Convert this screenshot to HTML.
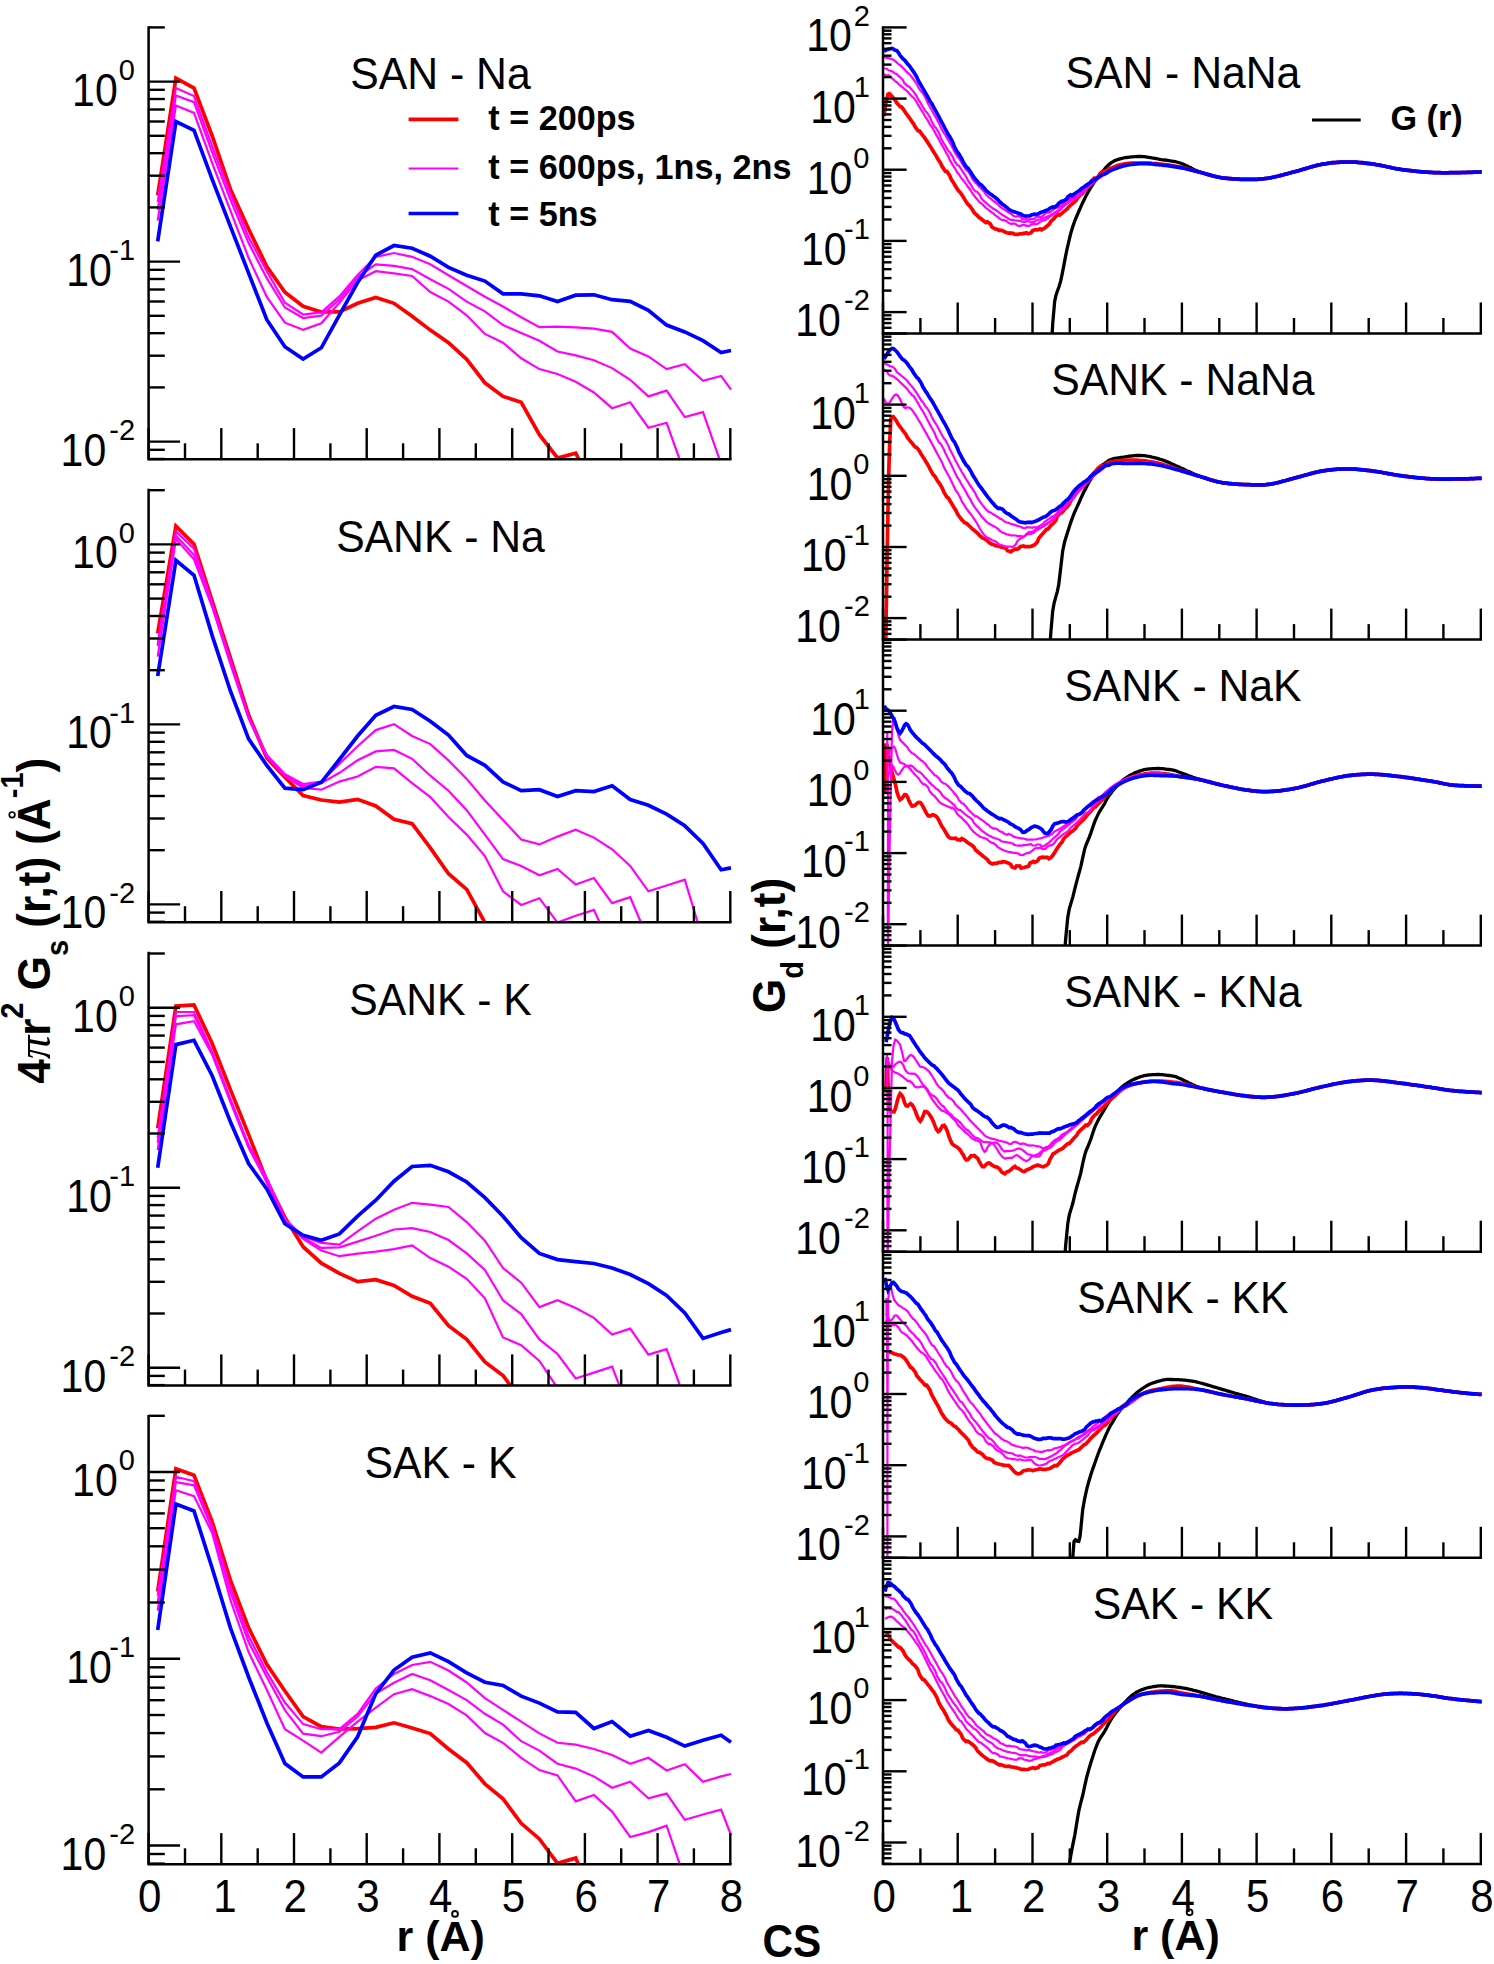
<!DOCTYPE html>
<html><head><meta charset="utf-8"><style>
html,body{margin:0;padding:0;background:#fff;}
svg{display:block;}
text{font-family:"Liberation Sans",sans-serif;fill:#000;}
.tl{font-size:41px;}
.xl{font-size:42px;}
.sup{font-size:29px;}
.ti{font-size:40px;}
.lg{font-size:28px;font-weight:bold;}
.ax{font-size:44px;font-weight:bold;}
.ax2{font-size:43px;font-weight:bold;}
.cs{font-size:42.3px;font-weight:bold;}
.ti{font-size:42.7px;}
.lg{font-size:34.2px;font-weight:bold;}
.pi{font-family:"Liberation Serif",serif;font-style:italic;font-weight:normal;font-size:47px;}
.sub2{font-size:29px;}
</style></head><body>
<svg width="1494" height="1964" viewBox="0 0 1494 1964">
<defs><clipPath id="c0"><rect x="148.6" y="25.5" width="583.7" height="433.8"/></clipPath><clipPath id="c1"><rect x="148.6" y="488.0" width="583.7" height="434.2"/></clipPath><clipPath id="c2"><rect x="148.6" y="951.0" width="583.7" height="434.6"/></clipPath><clipPath id="c3"><rect x="148.6" y="1414.2" width="583.7" height="450.1"/></clipPath><clipPath id="c4"><rect x="883.0" y="25.4" width="599.8" height="308.1"/></clipPath><clipPath id="c5"><rect x="883.0" y="331.5" width="599.8" height="308.1"/></clipPath><clipPath id="c6"><rect x="883.0" y="637.6" width="599.8" height="308.1"/></clipPath><clipPath id="c7"><rect x="883.0" y="943.6" width="599.8" height="308.1"/></clipPath><clipPath id="c8"><rect x="883.0" y="1249.7" width="599.8" height="308.1"/></clipPath><clipPath id="c9"><rect x="883.0" y="1555.8" width="599.8" height="308.1"/></clipPath></defs>
<rect width="1494" height="1964" fill="#fff"/>
<polyline clip-path="url(#c0)" points="157.7,195.2 175.9,78.1 194.0,88.1 212.2,136.0 230.4,189.2 248.6,229.0 266.8,266.5 284.9,292.3 303.1,306.3 321.3,311.9 339.4,311.9 357.6,303.3 375.8,297.5 394.0,303.3 412.1,316.2 430.3,330.1 448.5,342.7 466.7,359.3 484.9,382.8 503.0,396.4 521.2,402.3 539.4,434.6 557.5,458.0 575.7,453.1 593.9,489.3 612.1,489.3 630.2,489.3 648.4,489.3 666.6,489.3 684.8,489.3 703.0,489.3 721.1,489.3" fill="none" stroke="#ff0000" stroke-width="3.7" stroke-linejoin="miter" stroke-miterlimit="3"/>
<polyline clip-path="url(#c0)" points="157.7,220.6 175.9,105.5 194.0,112.9 212.2,163.2 230.4,210.6 248.6,257.8 266.8,297.0 284.9,322.7 303.1,329.8 321.3,323.2 339.4,302.8 357.6,280.3 375.8,271.2 394.0,273.4 412.1,276.0 430.3,292.1 448.5,301.6 466.7,315.3 484.9,333.9 503.0,342.7 521.2,358.3 539.4,369.1 557.5,374.0 575.7,381.8 593.9,392.5 612.1,408.2 630.2,402.3 648.4,427.7 666.6,422.8 684.8,473.7 703.0,473.7 721.1,473.7" fill="none" stroke="#ff00ff" stroke-width="2.2" stroke-linejoin="miter" stroke-miterlimit="3"/>
<polyline clip-path="url(#c0)" points="157.7,209.9 175.9,95.5 194.0,102.2 212.2,152.5 230.4,199.7 248.6,243.1 266.8,278.2 284.9,307.5 303.1,318.0 321.3,315.7 339.4,299.6 357.6,277.1 375.8,264.3 394.0,265.9 412.1,269.1 430.3,279.3 448.5,288.9 466.7,301.6 484.9,311.4 503.0,325.1 521.2,332.9 539.4,340.7 557.5,351.5 575.7,355.4 593.9,360.3 612.1,368.1 630.2,379.8 648.4,396.4 666.6,390.6 684.8,417.0 703.0,412.1 721.1,463.9" fill="none" stroke="#ff00ff" stroke-width="2.2" stroke-linejoin="miter" stroke-miterlimit="3"/>
<polyline clip-path="url(#c0)" points="157.7,201.9 175.9,88.1 194.0,96.1 212.2,146.4 230.4,193.9 248.6,237.2 266.8,271.2 284.9,302.8 303.1,314.5 321.3,312.4 339.4,296.4 357.6,275.0 375.8,256.8 394.0,253.0 412.1,256.8 430.3,264.3 448.5,275.3 466.7,286.0 484.9,296.8 503.0,306.5 521.2,317.3 539.4,327.1 557.5,326.7 575.7,327.4 593.9,328.6 612.1,331.9 630.2,348.6 648.4,356.4 666.6,369.1 684.8,364.2 703.0,380.8 721.1,375.9 731.0,389.6" fill="none" stroke="#ff00ff" stroke-width="2.2" stroke-linejoin="miter" stroke-miterlimit="3"/>
<polyline clip-path="url(#c0)" points="157.7,241.4 175.9,121.6 194.0,130.3 212.2,179.4 230.4,226.3 248.6,273.1 266.8,319.7 284.9,346.7 303.1,359.0 321.3,347.8 339.4,315.1 357.6,282.5 375.8,255.2 394.0,245.5 412.1,248.2 430.3,256.2 448.5,267.4 466.7,275.3 484.9,281.1 503.0,293.8 521.2,293.8 539.4,295.8 557.5,301.6 575.7,295.2 593.9,294.8 612.1,299.7 630.2,301.3 648.4,310.4 666.6,325.1 684.8,331.9 703.0,340.7 721.1,352.5 731.0,350.5" fill="none" stroke="#0000ff" stroke-width="3.7" stroke-linejoin="miter" stroke-miterlimit="3"/>
<polyline clip-path="url(#c1)" points="157.7,633.2 175.9,526.1 194.0,544.3 212.2,601.0 230.4,657.8 248.6,715.0 266.8,758.0 284.9,777.2 303.1,795.6 321.3,800.0 339.4,802.2 357.6,799.3 375.8,805.9 394.0,819.2 412.1,823.6 430.3,847.9 448.5,873.7 466.7,889.4 484.9,922.6 503.0,960.0" fill="none" stroke="#ff0000" stroke-width="3.7" stroke-linejoin="miter" stroke-miterlimit="3"/>
<polyline clip-path="url(#c1)" points="157.7,656.7 175.9,539.0 194.0,559.3 212.2,607.0 230.4,664.0 248.6,718.0 266.8,757.0 284.9,776.0 303.1,788.0 321.3,789.7 339.4,781.6 357.6,776.5 375.8,766.9 394.0,768.4 412.1,783.1 430.3,797.1 448.5,817.1 466.7,834.6 484.9,856.1 503.0,891.3 521.2,905.0 539.4,898.2 557.5,922.6 575.7,915.8 593.9,909.9 612.1,950.0" fill="none" stroke="#ff00ff" stroke-width="2.2" stroke-linejoin="miter" stroke-miterlimit="3"/>
<polyline clip-path="url(#c1)" points="157.7,646.0 175.9,535.7 194.0,555.0 212.2,605.0 230.4,662.0 248.6,717.5 266.8,756.0 284.9,775.0 303.1,786.0 321.3,783.1 339.4,772.8 357.6,760.3 375.8,751.4 394.0,749.9 412.1,758.8 430.3,775.7 448.5,790.7 466.7,810.2 484.9,834.6 503.0,859.1 521.2,865.9 539.4,875.3 557.5,868.9 575.7,884.5 593.9,878.0 612.1,903.1 630.2,897.2 648.4,940.0" fill="none" stroke="#ff00ff" stroke-width="2.2" stroke-linejoin="miter" stroke-miterlimit="3"/>
<polyline clip-path="url(#c1)" points="157.7,644.0 175.9,531.4 194.0,548.6 212.2,603.0 230.4,660.0 248.6,716.8 266.8,755.0 284.9,774.2 303.1,784.0 321.3,781.6 339.4,763.9 357.6,746.3 375.8,730.1 394.0,724.2 412.1,736.0 430.3,744.1 448.5,760.4 466.7,778.9 484.9,800.4 503.0,820.0 521.2,839.5 539.4,844.4 557.5,836.6 575.7,829.8 593.9,837.6 612.1,849.3 630.2,865.9 648.4,891.3 666.6,885.5 684.8,879.6 703.0,940.0" fill="none" stroke="#ff00ff" stroke-width="2.2" stroke-linejoin="miter" stroke-miterlimit="3"/>
<polyline clip-path="url(#c1)" points="157.7,676.0 175.9,560.3 194.0,575.3 212.2,635.6 230.4,691.0 248.6,738.9 266.8,765.4 284.9,788.2 303.1,789.7 321.3,782.3 339.4,759.5 357.6,736.0 375.8,715.3 394.0,706.5 412.1,709.5 430.3,721.2 448.5,735.0 466.7,755.5 484.9,765.3 503.0,781.9 521.2,790.7 539.4,789.7 557.5,796.5 575.7,790.7 593.9,791.6 612.1,785.8 630.2,799.5 648.4,805.3 666.6,814.1 684.8,825.8 703.0,843.4 721.1,869.8 731.0,867.9" fill="none" stroke="#0000ff" stroke-width="3.7" stroke-linejoin="miter" stroke-miterlimit="3"/>
<polyline clip-path="url(#c2)" points="157.7,1128.2 175.9,1006.1 194.0,1005.0 212.2,1043.5 230.4,1089.6 248.6,1134.6 266.8,1181.0 284.9,1217.4 303.1,1246.7 321.3,1263.2 339.4,1273.4 357.6,1281.6 375.8,1279.7 394.0,1285.4 412.1,1296.3 430.3,1303.3 448.5,1325.6 466.7,1339.4 484.9,1361.9 503.0,1375.5 521.2,1400.0" fill="none" stroke="#ff0000" stroke-width="3.7" stroke-linejoin="miter" stroke-miterlimit="3"/>
<polyline clip-path="url(#c2)" points="157.7,1150.0 175.9,1024.3 194.0,1021.1 212.2,1054.7 230.4,1101.8 248.6,1147.9 266.8,1182.0 284.9,1220.0 303.1,1239.0 321.3,1250.5 339.4,1256.2 357.6,1253.6 375.8,1251.7 394.0,1249.2 412.1,1245.4 430.3,1258.1 448.5,1266.7 466.7,1278.8 484.9,1298.3 503.0,1337.4 521.2,1345.2 539.4,1360.9 557.5,1388.0" fill="none" stroke="#ff00ff" stroke-width="2.2" stroke-linejoin="miter" stroke-miterlimit="3"/>
<polyline clip-path="url(#c2)" points="157.7,1143.0 175.9,1016.2 194.0,1015.2 212.2,1053.2 230.4,1100.3 248.6,1146.4 266.8,1180.0 284.9,1219.3 303.1,1237.8 321.3,1247.9 339.4,1247.3 357.6,1241.6 375.8,1235.8 394.0,1229.5 412.1,1228.2 430.3,1232.0 448.5,1240.0 466.7,1253.4 484.9,1270.0 503.0,1300.3 521.2,1314.0 539.4,1339.4 557.5,1354.0 575.7,1378.5 593.9,1372.6 612.1,1366.7 630.2,1413.5" fill="none" stroke="#ff00ff" stroke-width="2.2" stroke-linejoin="miter" stroke-miterlimit="3"/>
<polyline clip-path="url(#c2)" points="157.7,1138.0 175.9,1012.0 194.0,1012.0 212.2,1051.7 230.4,1098.8 248.6,1144.9 266.8,1178.0 284.9,1218.7 303.1,1236.5 321.3,1242.8 339.4,1244.7 357.6,1231.4 375.8,1218.7 394.0,1209.8 412.1,1202.8 430.3,1204.7 448.5,1207.0 466.7,1222.1 484.9,1240.7 503.0,1268.0 521.2,1282.7 539.4,1307.1 557.5,1300.3 575.7,1308.1 593.9,1317.9 612.1,1334.5 630.2,1328.6 648.4,1354.6 666.6,1349.2 684.8,1398.8" fill="none" stroke="#ff00ff" stroke-width="2.2" stroke-linejoin="miter" stroke-miterlimit="3"/>
<polyline clip-path="url(#c2)" points="157.7,1167.8 175.9,1044.6 194.0,1040.3 212.2,1075.7 230.4,1121.7 248.6,1163.5 266.8,1189.0 284.9,1223.8 303.1,1235.2 321.3,1240.3 339.4,1233.9 357.6,1216.1 375.8,1200.2 394.0,1181.2 412.1,1166.5 430.3,1165.3 448.5,1171.8 466.7,1182.0 484.9,1197.7 503.0,1216.2 521.2,1237.7 539.4,1253.4 557.5,1259.6 575.7,1261.6 593.9,1263.5 612.1,1268.0 630.2,1274.5 648.4,1283.7 666.6,1295.4 684.8,1313.0 703.0,1338.4 721.1,1332.5 731.0,1329.6" fill="none" stroke="#0000ff" stroke-width="3.7" stroke-linejoin="miter" stroke-miterlimit="3"/>
<polyline clip-path="url(#c3)" points="157.7,1591.4 175.9,1468.7 194.0,1475.2 212.2,1521.8 230.4,1580.1 248.6,1627.8 266.8,1664.3 284.9,1691.0 303.1,1716.5 321.3,1726.7 339.4,1729.2 357.6,1728.6 375.8,1727.3 394.0,1722.8 412.1,1727.9 430.3,1733.6 448.5,1749.0 466.7,1762.7 484.9,1783.8 503.0,1798.8 521.2,1823.3 539.4,1838.9 557.5,1863.4 575.7,1858.1 593.9,1900.0" fill="none" stroke="#ff0000" stroke-width="3.7" stroke-linejoin="miter" stroke-miterlimit="3"/>
<polyline clip-path="url(#c3)" points="157.7,1610.6 175.9,1490.2 194.0,1496.1 212.2,1533.0 230.4,1600.0 248.6,1652.0 266.8,1689.8 284.9,1729.2 303.1,1740.6 321.3,1752.7 339.4,1736.8 357.6,1721.6 375.8,1707.6 394.0,1694.2 412.1,1689.1 430.3,1696.1 448.5,1704.0 466.7,1715.4 484.9,1733.0 503.0,1742.8 521.2,1757.8 539.4,1770.1 557.5,1775.4 575.7,1801.4 593.9,1794.9 612.1,1811.6 630.2,1837.0 648.4,1832.1 666.6,1825.6 684.8,1878.8" fill="none" stroke="#ff00ff" stroke-width="2.2" stroke-linejoin="miter" stroke-miterlimit="3"/>
<polyline clip-path="url(#c3)" points="157.7,1602.1 175.9,1482.1 194.0,1485.3 212.2,1529.0 230.4,1592.0 248.6,1642.0 266.8,1677.1 284.9,1710.1 303.1,1733.6 321.3,1736.2 339.4,1731.7 357.6,1716.5 375.8,1693.6 394.0,1682.8 412.1,1673.9 430.3,1680.2 448.5,1690.0 466.7,1700.1 484.9,1713.8 503.0,1724.6 521.2,1741.2 539.4,1750.6 557.5,1763.7 575.7,1768.6 593.9,1776.4 612.1,1787.7 630.2,1781.8 648.4,1798.3 666.6,1793.6 684.8,1819.8 703.0,1814.5 721.1,1809.6 731.0,1835.0" fill="none" stroke="#ff00ff" stroke-width="2.2" stroke-linejoin="miter" stroke-miterlimit="3"/>
<polyline clip-path="url(#c3)" points="157.7,1595.6 175.9,1476.8 194.0,1481.1 212.2,1527.0 230.4,1588.0 248.6,1636.0 266.8,1672.0 284.9,1702.5 303.1,1724.1 321.3,1729.2 339.4,1729.2 357.6,1713.9 375.8,1688.5 394.0,1673.9 412.1,1665.0 430.3,1661.8 448.5,1670.5 466.7,1682.5 484.9,1698.2 503.0,1709.9 521.2,1721.6 539.4,1733.4 557.5,1742.8 575.7,1744.7 593.9,1749.0 612.1,1754.9 630.2,1763.7 648.4,1757.8 666.6,1770.5 684.8,1764.3 703.0,1781.8 721.1,1776.4 731.0,1774.0" fill="none" stroke="#ff00ff" stroke-width="2.2" stroke-linejoin="miter" stroke-miterlimit="3"/>
<polyline clip-path="url(#c3)" points="157.7,1629.9 175.9,1504.1 194.0,1511.0 212.2,1568.3 230.4,1627.8 248.6,1677.0 266.8,1722.8 284.9,1763.5 303.1,1776.9 321.3,1776.9 339.4,1762.9 357.6,1736.8 375.8,1693.6 394.0,1670.1 412.1,1657.3 430.3,1652.9 448.5,1661.7 466.7,1672.8 484.9,1682.2 503.0,1685.5 521.2,1696.2 539.4,1703.1 557.5,1711.9 575.7,1712.3 593.9,1728.5 612.1,1721.6 630.2,1736.3 648.4,1730.4 666.6,1737.3 684.8,1746.1 703.0,1740.2 721.1,1735.3 731.0,1742.2" fill="none" stroke="#0000ff" stroke-width="3.7" stroke-linejoin="miter" stroke-miterlimit="3"/>
<polyline clip-path="url(#c4)" points="1051.7,341.4 1052.8,322.6 1054.7,301.2 1056.0,295.2 1057.5,290.7 1059.1,286.5 1060.7,280.9 1062.2,273.9 1063.7,266.1 1065.2,258.1 1066.7,250.7 1068.2,244.2 1069.6,238.0 1071.1,232.2 1072.8,226.6 1074.2,222.5 1075.8,218.4 1077.5,214.3 1079.2,210.5 1080.8,206.8 1082.4,203.2 1084.0,200.0 1085.6,196.7 1087.2,193.7 1088.8,190.8 1090.4,188.1 1091.9,185.8 1093.4,183.3 1095.0,181.0 1096.9,178.5 1098.2,176.8 1099.6,175.0 1101.1,173.4 1102.6,171.5 1104.2,169.6 1105.8,167.6 1107.4,166.0 1108.9,164.6 1110.4,163.4 1111.7,162.4 1113.1,161.6 1114.4,160.8 1115.9,160.2 1117.4,159.6 1119.1,159.1 1121.0,158.6 1122.2,158.3 1123.6,158.0 1125.0,157.7 1126.6,157.5 1128.1,157.3 1129.7,157.1 1131.3,156.9 1133.0,156.8 1134.6,156.7 1136.2,156.6 1137.9,156.5 1139.5,156.5 1141.0,156.5 1142.6,156.6 1144.1,156.7 1145.7,156.9 1147.3,157.1 1148.8,157.3 1150.4,157.6 1151.9,157.9 1153.5,158.1 1155.0,158.4 1156.6,158.7 1158.1,159.0 1159.6,159.3 1161.1,159.6 1162.7,159.8 1164.3,160.0 1165.9,160.2 1167.4,160.4 1169.0,160.6 1170.5,160.9 1172.0,161.1 1173.6,161.4 1175.2,161.7 1176.7,162.0 1178.4,162.5 1180.0,163.0 1181.4,163.5 1182.9,164.1 1184.4,164.7 1185.8,165.4 1187.3,166.1 1188.9,166.9 1190.4,167.6 1191.9,168.4 1193.4,169.2 1194.9,169.9 1196.5,170.6 1198.0,171.3 1199.5,171.9 1201.0,172.5 1202.5,173.0 1204.0,173.5 1205.4,174.0 1206.8,174.4 1208.3,174.8 1209.7,175.2 1211.1,175.6 1212.6,176.0 1214.1,176.3 1215.6,176.6 1217.1,177.0 1218.7,177.2 1220.3,177.5 1222.0,177.8 1223.4,178.0 1224.8,178.1 1226.3,178.3 1227.8,178.4 1229.3,178.6 1230.9,178.7 1232.5,178.8 1234.1,178.9 1235.7,179.0 1237.3,179.1 1238.9,179.2 1240.5,179.3 1242.0,179.3 1243.6,179.4 1245.1,179.4 1246.6,179.4 1248.0,179.4 1249.4,179.4 1251.0,179.4 1252.7,179.4 1254.2,179.4 1255.7,179.3 1257.2,179.3 1258.6,179.2 1260.0,179.1 1261.4,179.0 1262.8,178.8 1264.2,178.7 1265.7,178.5 1267.2,178.3 1268.8,178.0 1270.4,177.8 1271.8,177.5 1273.3,177.2 1274.8,176.9 1276.3,176.5 1277.9,176.2 1279.4,175.8 1281.0,175.4 1282.6,175.0 1284.2,174.5 1285.8,174.1 1287.4,173.7 1289.0,173.2 1290.7,172.8 1292.3,172.3 1294.0,171.9 1295.6,171.5 1297.1,171.1 1298.5,170.7 1300.1,170.2 1301.6,169.8 1303.1,169.3 1304.6,168.9 1306.2,168.4 1307.7,168.0 1309.3,167.5 1310.8,167.1 1312.3,166.6 1313.9,166.2 1315.4,165.8 1316.9,165.4 1318.5,165.0 1320.0,164.7 1321.4,164.4 1322.9,164.1 1324.6,163.8 1326.2,163.6 1327.8,163.3 1329.4,163.1 1331.0,162.9 1332.5,162.7 1334.1,162.6 1335.7,162.5 1337.2,162.3 1338.8,162.3 1340.3,162.2 1341.9,162.1 1343.4,162.1 1345.0,162.0 1346.6,162.0 1348.1,162.0 1349.7,162.0 1351.3,162.0 1352.8,162.1 1354.4,162.2 1355.9,162.2 1357.5,162.3 1359.1,162.5 1360.6,162.6 1362.2,162.7 1363.7,162.9 1365.3,163.1 1366.9,163.3 1368.5,163.5 1370.1,163.7 1371.7,163.9 1373.4,164.1 1374.8,164.3 1376.3,164.6 1377.7,164.8 1379.2,165.1 1380.7,165.4 1382.2,165.7 1383.6,166.0 1385.1,166.3 1386.6,166.7 1388.1,167.0 1389.7,167.3 1391.2,167.6 1392.7,168.0 1394.3,168.3 1395.9,168.6 1397.4,168.8 1399.1,169.1 1400.7,169.4 1402.1,169.6 1403.5,169.8 1405.0,169.9 1406.4,170.1 1407.9,170.3 1409.4,170.5 1410.9,170.7 1412.4,170.9 1413.9,171.0 1415.4,171.2 1416.9,171.3 1418.5,171.5 1420.0,171.6 1421.5,171.8 1423.1,171.9 1424.6,172.0 1426.1,172.1 1427.7,172.2 1429.2,172.3 1430.7,172.4 1432.2,172.5 1433.7,172.6 1435.3,172.6 1436.8,172.7 1438.4,172.7 1440.0,172.7 1441.6,172.8 1443.2,172.8 1444.8,172.8 1446.4,172.8 1448.0,172.8 1449.6,172.7 1451.2,172.7 1452.7,172.7 1454.2,172.7 1455.7,172.6 1457.2,172.6 1458.6,172.6 1459.9,172.6 1461.3,172.5 1462.5,172.5 1463.7,172.5 1465.9,172.5 1468.1,172.4 1470.1,172.4 1472.0,172.3 1473.8,172.2 1475.5,172.2 1477.0,172.1 1478.4,172.0 1479.6,172.0 1480.7,171.9 1481.6,171.9" fill="none" stroke="#000000" stroke-width="3.3" stroke-linejoin="miter" stroke-miterlimit="3"/>
<polyline clip-path="url(#c4)" points="884.0,116.2 885.6,104.7 888.0,94.1 889.4,93.6 890.9,95.3 892.5,96.9 894.1,99.1 895.4,100.3 896.7,102.9 898.2,104.4 900.1,106.6 901.3,106.7 902.7,108.5 904.2,110.5 905.7,112.9 907.3,115.0 909.0,117.3 910.6,119.7 912.1,121.8 913.6,123.8 915.1,126.8 916.6,128.8 918.2,130.8 919.7,131.2 921.2,133.3 922.7,135.3 924.2,137.2 925.7,139.4 927.2,141.6 928.7,144.0 930.2,146.3 931.7,148.6 933.2,151.2 934.7,153.5 936.2,155.8 937.7,158.8 939.2,161.1 940.7,163.3 942.2,166.7 943.8,168.9 945.3,171.2 946.8,171.3 948.3,173.6 949.8,175.8 951.3,179.5 952.8,181.8 954.3,184.0 955.8,186.7 957.3,188.9 958.8,191.2 960.3,192.4 961.8,194.7 963.3,197.1 964.8,199.6 966.3,202.0 967.9,204.3 969.4,205.6 970.9,207.7 972.4,209.6 973.9,212.3 975.4,213.8 976.9,215.1 978.4,216.8 979.9,217.9 981.4,219.0 982.9,220.3 984.4,221.4 985.9,222.5 987.4,221.8 988.9,222.9 990.4,223.9 991.9,227.0 993.5,228.0 995.0,228.9 996.5,229.0 998.0,229.8 999.5,230.5 1001.0,230.1 1002.5,230.8 1004.0,231.4 1005.5,232.2 1007.0,232.7 1008.5,233.1 1010.0,232.9 1011.5,233.2 1013.0,233.4 1014.5,234.3 1016.0,234.4 1017.6,234.4 1019.1,234.0 1020.6,233.9 1022.1,233.8 1023.6,233.4 1025.1,233.1 1026.6,232.7 1028.1,233.7 1029.6,233.3 1031.1,232.8 1032.6,230.6 1034.1,230.1 1035.6,229.6 1037.1,229.9 1038.6,229.4 1040.1,228.8 1041.6,229.8 1043.2,229.0 1044.7,228.1 1046.2,226.7 1047.7,225.5 1049.2,224.3 1050.7,221.6 1052.2,220.2 1053.7,218.9 1055.2,216.8 1056.7,215.5 1058.2,214.3 1059.7,215.1 1061.2,213.9 1062.7,212.6 1064.2,211.4 1065.7,210.2 1067.2,208.9 1068.8,206.9 1070.3,205.5 1071.8,204.1 1073.3,203.1 1074.8,201.7 1076.3,200.1 1077.8,197.8 1079.3,196.2 1080.8,194.6 1082.3,193.7 1083.8,191.9 1085.3,190.0 1086.8,187.4 1088.3,185.5 1089.8,183.8 1091.3,181.1 1092.9,179.5 1094.3,178.1 1095.8,178.7 1097.2,177.5 1098.6,176.4 1100.1,173.4 1101.6,172.3 1103.2,171.3 1104.9,171.4 1106.3,170.6 1107.8,169.8 1109.3,168.4 1110.8,168.4 1112.4,167.6 1114.1,166.9 1115.7,166.2 1117.4,165.6 1119.2,165.1 1121.0,164.6 1122.4,164.3 1123.8,164.0 1125.3,163.8 1126.8,163.6 1128.4,163.4 1130.0,163.3 1131.5,163.2 1133.1,163.1 1134.7,163.1 1136.3,163.0 1137.9,163.0 1139.5,163.0 1141.0,163.0 1142.6,163.0 1144.1,163.0 1145.7,163.0 1147.3,163.1 1148.8,163.2 1150.4,163.2 1151.9,163.4 1153.5,163.5 1155.0,163.6 1156.6,163.7 1158.1,163.9 1159.6,164.0 1161.1,164.2 1162.7,164.3 1164.3,164.5 1165.9,164.7 1167.4,164.9 1169.0,165.1 1170.5,165.3 1172.0,165.5 1173.6,165.8 1175.2,166.1 1176.7,166.3 1178.4,166.7 1180.0,167.0 1181.4,167.3 1182.9,167.6 1184.4,168.0 1185.8,168.4 1187.3,168.8 1188.9,169.2 1190.4,169.6 1191.9,170.0 1193.4,170.4 1194.9,170.9 1196.5,171.3 1198.0,171.7 1199.5,172.1 1201.0,172.5 1202.5,172.9 1204.0,173.3 1205.4,173.7 1206.8,174.1 1208.3,174.6 1209.7,175.0 1211.1,175.4 1212.6,175.8 1214.1,176.2 1215.6,176.5 1217.1,176.9 1218.7,177.2 1220.3,177.5 1222.0,177.8 1223.4,178.0 1224.8,178.1 1226.3,178.3 1227.8,178.4 1229.3,178.6 1230.9,178.7 1232.5,178.8 1234.1,178.9 1235.7,179.0 1237.3,179.1 1238.9,179.2 1240.5,179.3 1242.0,179.3 1243.6,179.4 1245.1,179.4 1246.6,179.4 1248.0,179.4 1249.4,179.4 1251.0,179.4 1252.7,179.4 1254.2,179.4 1255.7,179.3 1257.2,179.3 1258.6,179.2 1260.0,179.1 1261.4,179.0 1262.8,178.8 1264.2,178.7 1265.7,178.5 1267.2,178.3 1268.8,178.0 1270.4,177.8 1271.8,177.5 1273.3,177.2 1274.8,176.9 1276.3,176.5 1277.9,176.2 1279.4,175.8 1281.0,175.4 1282.6,175.0 1284.2,174.5 1285.8,174.1 1287.4,173.7 1289.0,173.2 1290.7,172.8 1292.3,172.3 1294.0,171.9 1295.6,171.5 1297.1,171.1 1298.5,170.7 1300.1,170.2 1301.6,169.8 1303.1,169.3 1304.6,168.9 1306.2,168.4 1307.7,168.0 1309.3,167.5 1310.8,167.1 1312.3,166.6 1313.9,166.2 1315.4,165.8 1316.9,165.4 1318.5,165.0 1320.0,164.7 1321.4,164.4 1322.9,164.1 1324.6,163.8 1326.2,163.6 1327.8,163.3 1329.4,163.1 1331.0,162.9 1332.5,162.7 1334.1,162.6 1335.7,162.5 1337.2,162.3 1338.8,162.3 1340.3,162.2 1341.9,162.1 1343.4,162.1 1345.0,162.0 1346.6,162.0 1348.1,162.0 1349.7,162.0 1351.3,162.0 1352.8,162.1 1354.4,162.2 1355.9,162.2 1357.5,162.3 1359.1,162.5 1360.6,162.6 1362.2,162.7 1363.7,162.9 1365.3,163.1 1366.9,163.3 1368.5,163.5 1370.1,163.7 1371.7,163.9 1373.4,164.1 1374.8,164.3 1376.3,164.6 1377.7,164.8 1379.2,165.1 1380.7,165.4 1382.2,165.7 1383.6,166.0 1385.1,166.3 1386.6,166.7 1388.1,167.0 1389.7,167.3 1391.2,167.6 1392.7,168.0 1394.3,168.3 1395.9,168.6 1397.4,168.8 1399.1,169.1 1400.7,169.4 1402.1,169.6 1403.5,169.8 1405.0,169.9 1406.4,170.1 1407.9,170.3 1409.4,170.5 1410.9,170.7 1412.4,170.9 1413.9,171.0 1415.4,171.2 1416.9,171.3 1418.5,171.5 1420.0,171.6 1421.5,171.8 1423.1,171.9 1424.6,172.0 1426.1,172.1 1427.7,172.2 1429.2,172.3 1430.7,172.4 1432.2,172.5 1433.7,172.6 1435.3,172.6 1436.8,172.7 1438.4,172.7 1440.0,172.7 1441.6,172.8 1443.2,172.8 1444.8,172.8 1446.4,172.8 1448.0,172.8 1449.6,172.7 1451.2,172.7 1452.7,172.7 1454.2,172.7 1455.7,172.6 1457.2,172.6 1458.6,172.6 1459.9,172.6 1461.3,172.5 1462.5,172.5 1463.7,172.5 1465.9,172.5 1468.1,172.4 1470.1,172.4 1472.0,172.3 1473.8,172.2 1475.5,172.2 1477.0,172.1 1478.4,172.0 1479.6,172.0 1480.7,171.9 1481.6,171.9" fill="none" stroke="#ff0000" stroke-width="3.7" stroke-linejoin="miter" stroke-miterlimit="3"/>
<polyline clip-path="url(#c4)" points="884.0,74.1 885.1,74.7 886.7,75.6 888.4,75.2 890.3,76.4 892.0,78.3 893.6,79.6 895.1,81.2 896.6,82.0 898.2,83.8 900.1,85.3 901.4,86.4 902.8,87.5 904.3,88.8 905.9,90.0 907.4,91.2 909.0,93.5 910.6,94.9 912.1,96.6 913.6,97.7 915.1,99.7 916.6,101.9 918.2,105.0 919.7,107.4 921.2,109.8 922.7,112.3 924.2,114.8 925.7,117.3 927.2,119.5 928.7,122.2 930.2,124.8 931.7,126.6 933.2,129.3 934.7,131.9 936.2,134.7 937.7,137.3 939.2,140.0 940.7,143.0 942.2,145.6 943.8,148.3 945.3,151.1 946.8,153.7 948.3,156.3 949.8,160.0 951.3,162.6 952.8,165.1 954.3,167.3 955.8,169.9 957.3,172.3 958.8,174.2 960.3,176.5 961.8,178.7 963.3,180.3 964.8,182.4 966.3,184.4 967.9,186.8 969.4,188.7 970.9,190.6 972.4,193.5 973.9,195.4 975.4,197.3 976.9,199.0 978.4,200.8 979.9,202.6 981.4,203.3 982.9,204.9 984.4,206.4 985.9,207.8 987.4,209.0 988.9,210.2 990.4,211.4 991.9,212.5 993.5,213.5 995.0,215.1 996.5,216.1 998.0,217.1 999.5,218.5 1001.0,219.4 1002.5,220.4 1004.0,220.0 1005.5,220.8 1007.0,221.5 1008.5,222.9 1010.0,223.5 1011.5,224.1 1013.0,223.4 1014.5,223.8 1016.0,224.2 1017.6,225.6 1019.1,225.8 1020.6,225.9 1022.1,225.0 1023.6,225.1 1025.1,225.0 1026.6,226.0 1028.1,225.8 1029.6,225.6 1031.1,224.7 1032.6,224.4 1034.1,223.9 1035.6,224.4 1037.1,223.9 1038.6,223.3 1040.1,221.8 1041.6,221.1 1043.2,220.4 1044.7,220.3 1046.2,219.4 1047.7,218.5 1049.2,217.2 1050.7,216.2 1052.2,215.1 1053.7,213.6 1055.2,212.5 1056.7,211.4 1058.2,211.3 1059.7,210.2 1061.2,209.0 1062.7,207.1 1064.2,205.9 1065.7,204.8 1067.2,203.1 1068.8,202.0 1070.3,201.0 1071.8,199.7 1073.3,198.7 1074.8,197.7 1076.3,197.6 1077.8,196.5 1079.3,195.4 1080.8,193.8 1082.3,192.5 1083.8,191.1 1085.3,189.7 1086.8,188.1 1088.3,186.6 1089.8,186.1 1091.3,184.6 1092.9,183.3 1094.3,181.9 1095.8,180.7 1097.2,179.5 1098.6,178.7 1100.1,177.6 1101.6,176.6 1103.2,174.5 1104.9,173.4 1106.3,172.6 1107.8,172.6 1109.3,171.8 1110.8,170.3 1112.4,169.5 1114.1,168.7 1115.7,168.0 1117.4,167.3 1119.2,166.7 1121.0,166.2 1122.4,165.8 1123.8,165.5 1125.3,165.2 1126.8,165.0 1128.4,164.7 1130.0,164.6 1131.5,164.4 1133.1,164.2 1134.7,164.1 1136.3,164.0 1137.9,163.9 1139.5,163.8 1141.0,163.8 1142.6,163.7 1144.1,163.7 1145.7,163.7 1147.3,163.7 1148.8,163.8 1150.4,163.8 1151.9,163.9 1153.5,164.0 1155.0,164.1 1156.6,164.2 1158.1,164.3 1159.6,164.4 1161.1,164.6 1162.7,164.7 1164.3,164.9 1165.9,165.1 1167.4,165.3 1169.0,165.5 1170.5,165.7 1172.0,166.0 1173.6,166.2 1175.2,166.5 1176.7,166.8 1178.4,167.1 1180.0,167.4 1181.4,167.7 1182.9,168.0 1184.4,168.3 1185.8,168.7 1187.3,169.0 1188.9,169.4 1190.4,169.8 1191.9,170.2 1193.4,170.6 1194.9,171.0 1196.5,171.4 1198.0,171.8 1199.5,172.1 1201.0,172.5 1202.5,172.9 1204.0,173.3 1205.4,173.7 1206.8,174.1 1208.3,174.5 1209.7,174.9 1211.1,175.4 1212.6,175.8 1214.1,176.1 1215.6,176.5 1217.1,176.9 1218.7,177.2 1220.3,177.5 1222.0,177.8 1223.4,178.0 1224.8,178.1 1226.3,178.3 1227.8,178.4 1229.3,178.6 1230.9,178.7 1232.5,178.8 1234.1,178.9 1235.7,179.0 1237.3,179.1 1238.9,179.2 1240.5,179.3 1242.0,179.3 1243.6,179.4 1245.1,179.4 1246.6,179.4 1248.0,179.4 1249.4,179.4 1251.0,179.4 1252.7,179.4 1254.2,179.4 1255.7,179.3 1257.2,179.3 1258.6,179.2 1260.0,179.1 1261.4,179.0 1262.8,178.8 1264.2,178.7 1265.7,178.5 1267.2,178.3 1268.8,178.0 1270.4,177.8 1271.8,177.5 1273.3,177.2 1274.8,176.9 1276.3,176.5 1277.9,176.2 1279.4,175.8 1281.0,175.4 1282.6,175.0 1284.2,174.5 1285.8,174.1 1287.4,173.7 1289.0,173.2 1290.7,172.8 1292.3,172.3 1294.0,171.9 1295.6,171.5 1297.1,171.1 1298.5,170.7 1300.1,170.2 1301.6,169.8 1303.1,169.3 1304.6,168.9 1306.2,168.4 1307.7,168.0 1309.3,167.5 1310.8,167.1 1312.3,166.6 1313.9,166.2 1315.4,165.8 1316.9,165.4 1318.5,165.0 1320.0,164.7 1321.4,164.4 1322.9,164.1 1324.6,163.8 1326.2,163.6 1327.8,163.3 1329.4,163.1 1331.0,162.9 1332.5,162.7 1334.1,162.6 1335.7,162.5 1337.2,162.3 1338.8,162.3 1340.3,162.2 1341.9,162.1 1343.4,162.1 1345.0,162.0 1346.6,162.0 1348.1,162.0 1349.7,162.0 1351.3,162.0 1352.8,162.1 1354.4,162.2 1355.9,162.2 1357.5,162.3 1359.1,162.5 1360.6,162.6 1362.2,162.7 1363.7,162.9 1365.3,163.1 1366.9,163.3 1368.5,163.5 1370.1,163.7 1371.7,163.9 1373.4,164.1 1374.8,164.3 1376.3,164.6 1377.7,164.8 1379.2,165.1 1380.7,165.4 1382.2,165.7 1383.6,166.0 1385.1,166.3 1386.6,166.7 1388.1,167.0 1389.7,167.3 1391.2,167.6 1392.7,168.0 1394.3,168.3 1395.9,168.6 1397.4,168.8 1399.1,169.1 1400.7,169.4 1402.1,169.6 1403.5,169.8 1405.0,169.9 1406.4,170.1 1407.9,170.3 1409.4,170.5 1410.9,170.7 1412.4,170.9 1413.9,171.0 1415.4,171.2 1416.9,171.3 1418.5,171.5 1420.0,171.6 1421.5,171.8 1423.1,171.9 1424.6,172.0 1426.1,172.1 1427.7,172.2 1429.2,172.3 1430.7,172.4 1432.2,172.5 1433.7,172.6 1435.3,172.6 1436.8,172.7 1438.4,172.7 1440.0,172.7 1441.6,172.8 1443.2,172.8 1444.8,172.8 1446.4,172.8 1448.0,172.8 1449.6,172.7 1451.2,172.7 1452.7,172.7 1454.2,172.7 1455.7,172.6 1457.2,172.6 1458.6,172.6 1459.9,172.6 1461.3,172.5 1462.5,172.5 1463.7,172.5 1465.9,172.5 1468.1,172.4 1470.1,172.4 1472.0,172.3 1473.8,172.2 1475.5,172.2 1477.0,172.1 1478.4,172.0 1479.6,172.0 1480.7,171.9 1481.6,171.9" fill="none" stroke="#ff00ff" stroke-width="2.2" stroke-linejoin="miter" stroke-miterlimit="3"/>
<polyline clip-path="url(#c4)" points="884.0,68.3 885.1,68.5 886.7,68.7 888.4,70.2 890.3,70.7 892.0,71.3 893.6,72.3 895.1,73.5 896.6,74.0 898.2,75.6 900.1,77.3 901.4,78.5 902.8,79.8 904.3,83.0 905.9,84.4 907.4,86.0 909.0,86.5 910.6,88.3 912.1,90.1 913.6,91.8 915.1,93.9 916.6,96.1 918.2,99.2 919.7,101.5 921.2,103.9 922.7,106.8 924.2,109.2 925.7,111.6 927.2,112.8 928.7,115.3 930.2,117.8 931.7,121.6 933.2,124.1 934.7,126.7 936.2,128.1 937.7,130.8 939.2,133.5 940.7,137.7 942.2,140.5 943.8,143.4 945.3,145.6 946.8,148.4 948.3,150.9 949.8,152.2 951.3,154.6 952.8,156.8 954.3,160.7 955.8,162.8 957.3,165.0 958.8,165.6 960.3,167.8 961.8,170.1 963.3,172.4 964.8,174.7 966.3,177.1 967.9,180.4 969.4,182.6 970.9,184.8 972.4,187.6 973.9,189.6 975.4,191.5 976.9,191.5 978.4,193.2 979.9,195.0 981.4,198.5 982.9,200.1 984.4,201.6 985.9,202.6 987.4,204.0 988.9,205.3 990.4,206.5 991.9,207.7 993.5,208.9 995.0,209.4 996.5,210.5 998.0,211.6 999.5,212.8 1001.0,213.9 1002.5,215.0 1004.0,215.8 1005.5,216.8 1007.0,217.6 1008.5,218.8 1010.0,219.4 1011.5,220.0 1013.0,219.9 1014.5,220.3 1016.0,220.6 1017.6,220.6 1019.1,220.8 1020.6,221.0 1022.1,221.7 1023.6,221.9 1025.1,221.9 1026.6,221.4 1028.1,221.4 1029.6,221.3 1031.1,222.5 1032.6,222.2 1034.1,222.0 1035.6,220.6 1037.1,220.1 1038.6,219.6 1040.1,219.3 1041.6,218.7 1043.2,218.0 1044.7,217.7 1046.2,216.9 1047.7,216.2 1049.2,215.9 1050.7,215.0 1052.2,214.1 1053.7,213.4 1055.2,212.4 1056.7,211.4 1058.2,210.4 1059.7,209.3 1061.2,208.1 1062.7,205.8 1064.2,204.6 1065.7,203.5 1067.2,203.5 1068.8,202.4 1070.3,201.3 1071.8,200.6 1073.3,199.6 1074.8,198.7 1076.3,197.1 1077.8,196.1 1079.3,195.0 1080.8,194.6 1082.3,193.3 1083.8,191.9 1085.3,189.8 1086.8,188.3 1088.3,186.8 1089.8,184.5 1091.3,183.1 1092.9,181.7 1094.3,180.5 1095.8,179.3 1097.2,178.1 1098.6,178.2 1100.1,177.1 1101.6,176.0 1103.2,173.8 1104.9,172.8 1106.3,172.0 1107.8,172.7 1109.3,171.9 1110.8,170.2 1112.4,169.4 1114.1,168.7 1115.7,167.9 1117.4,167.3 1119.2,166.7 1121.0,166.2 1122.4,165.8 1123.8,165.5 1125.3,165.2 1126.8,165.0 1128.4,164.8 1130.0,164.6 1131.5,164.4 1133.1,164.2 1134.7,164.1 1136.3,164.0 1137.9,163.9 1139.5,163.8 1141.0,163.8 1142.6,163.7 1144.1,163.7 1145.7,163.7 1147.3,163.7 1148.8,163.8 1150.4,163.8 1151.9,163.9 1153.5,164.0 1155.0,164.1 1156.6,164.2 1158.1,164.3 1159.6,164.4 1161.1,164.6 1162.7,164.7 1164.3,164.9 1165.9,165.1 1167.4,165.3 1169.0,165.5 1170.5,165.7 1172.0,166.0 1173.6,166.2 1175.2,166.5 1176.7,166.8 1178.4,167.1 1180.0,167.4 1181.4,167.7 1182.9,168.0 1184.4,168.3 1185.8,168.7 1187.3,169.0 1188.9,169.4 1190.4,169.8 1191.9,170.2 1193.4,170.6 1194.9,171.0 1196.5,171.4 1198.0,171.8 1199.5,172.1 1201.0,172.5 1202.5,172.9 1204.0,173.3 1205.4,173.7 1206.8,174.1 1208.3,174.5 1209.7,174.9 1211.1,175.4 1212.6,175.8 1214.1,176.1 1215.6,176.5 1217.1,176.9 1218.7,177.2 1220.3,177.5 1222.0,177.8 1223.4,178.0 1224.8,178.1 1226.3,178.3 1227.8,178.4 1229.3,178.6 1230.9,178.7 1232.5,178.8 1234.1,178.9 1235.7,179.0 1237.3,179.1 1238.9,179.2 1240.5,179.3 1242.0,179.3 1243.6,179.4 1245.1,179.4 1246.6,179.4 1248.0,179.4 1249.4,179.4 1251.0,179.4 1252.7,179.4 1254.2,179.4 1255.7,179.3 1257.2,179.3 1258.6,179.2 1260.0,179.1 1261.4,179.0 1262.8,178.8 1264.2,178.7 1265.7,178.5 1267.2,178.3 1268.8,178.0 1270.4,177.8 1271.8,177.5 1273.3,177.2 1274.8,176.9 1276.3,176.5 1277.9,176.2 1279.4,175.8 1281.0,175.4 1282.6,175.0 1284.2,174.5 1285.8,174.1 1287.4,173.7 1289.0,173.2 1290.7,172.8 1292.3,172.3 1294.0,171.9 1295.6,171.5 1297.1,171.1 1298.5,170.7 1300.1,170.2 1301.6,169.8 1303.1,169.3 1304.6,168.9 1306.2,168.4 1307.7,168.0 1309.3,167.5 1310.8,167.1 1312.3,166.6 1313.9,166.2 1315.4,165.8 1316.9,165.4 1318.5,165.0 1320.0,164.7 1321.4,164.4 1322.9,164.1 1324.6,163.8 1326.2,163.6 1327.8,163.3 1329.4,163.1 1331.0,162.9 1332.5,162.7 1334.1,162.6 1335.7,162.5 1337.2,162.3 1338.8,162.3 1340.3,162.2 1341.9,162.1 1343.4,162.1 1345.0,162.0 1346.6,162.0 1348.1,162.0 1349.7,162.0 1351.3,162.0 1352.8,162.1 1354.4,162.2 1355.9,162.2 1357.5,162.3 1359.1,162.5 1360.6,162.6 1362.2,162.7 1363.7,162.9 1365.3,163.1 1366.9,163.3 1368.5,163.5 1370.1,163.7 1371.7,163.9 1373.4,164.1 1374.8,164.3 1376.3,164.6 1377.7,164.8 1379.2,165.1 1380.7,165.4 1382.2,165.7 1383.6,166.0 1385.1,166.3 1386.6,166.7 1388.1,167.0 1389.7,167.3 1391.2,167.6 1392.7,168.0 1394.3,168.3 1395.9,168.6 1397.4,168.8 1399.1,169.1 1400.7,169.4 1402.1,169.6 1403.5,169.8 1405.0,169.9 1406.4,170.1 1407.9,170.3 1409.4,170.5 1410.9,170.7 1412.4,170.9 1413.9,171.0 1415.4,171.2 1416.9,171.3 1418.5,171.5 1420.0,171.6 1421.5,171.8 1423.1,171.9 1424.6,172.0 1426.1,172.1 1427.7,172.2 1429.2,172.3 1430.7,172.4 1432.2,172.5 1433.7,172.6 1435.3,172.6 1436.8,172.7 1438.4,172.7 1440.0,172.7 1441.6,172.8 1443.2,172.8 1444.8,172.8 1446.4,172.8 1448.0,172.8 1449.6,172.7 1451.2,172.7 1452.7,172.7 1454.2,172.7 1455.7,172.6 1457.2,172.6 1458.6,172.6 1459.9,172.6 1461.3,172.5 1462.5,172.5 1463.7,172.5 1465.9,172.5 1468.1,172.4 1470.1,172.4 1472.0,172.3 1473.8,172.2 1475.5,172.2 1477.0,172.1 1478.4,172.0 1479.6,172.0 1480.7,171.9 1481.6,171.9" fill="none" stroke="#ff00ff" stroke-width="2.2" stroke-linejoin="miter" stroke-miterlimit="3"/>
<polyline clip-path="url(#c4)" points="884.0,57.3 885.1,57.5 886.7,57.8 888.4,58.1 890.3,58.6 892.0,59.1 893.6,59.9 895.1,60.9 896.6,62.4 898.2,63.8 900.1,65.1 901.4,66.4 902.8,67.8 904.3,69.3 905.9,70.9 907.4,72.6 909.0,73.8 910.6,75.6 912.1,77.5 913.6,79.5 915.1,81.6 916.6,83.7 918.2,87.0 919.7,89.3 921.2,91.6 922.7,93.0 924.2,95.5 925.7,98.1 927.2,101.9 928.7,104.6 930.2,107.5 931.7,110.0 933.2,112.9 934.7,115.7 936.2,118.1 937.7,120.9 939.2,123.7 940.7,127.3 942.2,130.1 943.8,132.9 945.3,134.9 946.8,137.6 948.3,140.3 949.8,142.9 951.3,145.5 952.8,148.1 954.3,151.4 955.8,153.9 957.3,156.3 958.8,158.1 960.3,160.5 961.8,162.9 963.3,165.3 964.8,167.7 966.3,170.0 967.9,171.2 969.4,173.4 970.9,175.6 972.4,178.9 973.9,180.9 975.4,182.8 976.9,183.9 978.4,185.7 979.9,187.4 981.4,188.8 982.9,190.5 984.4,192.0 985.9,194.5 987.4,196.0 988.9,197.4 990.4,198.3 991.9,199.7 993.5,201.0 995.0,202.0 996.5,203.2 998.0,204.5 999.5,206.1 1001.0,207.3 1002.5,208.5 1004.0,209.3 1005.5,210.3 1007.0,211.3 1008.5,212.6 1010.0,213.4 1011.5,214.2 1013.0,215.6 1014.5,216.3 1016.0,216.9 1017.6,216.0 1019.1,216.4 1020.6,216.8 1022.1,218.9 1023.6,219.2 1025.1,219.4 1026.6,219.2 1028.1,219.3 1029.6,219.3 1031.1,219.2 1032.6,219.1 1034.1,218.8 1035.6,217.5 1037.1,217.1 1038.6,216.6 1040.1,217.0 1041.6,216.4 1043.2,215.7 1044.7,213.8 1046.2,213.1 1047.7,212.3 1049.2,212.5 1050.7,211.6 1052.2,210.7 1053.7,209.4 1055.2,208.4 1056.7,207.5 1058.2,207.6 1059.7,206.6 1061.2,205.6 1062.7,202.9 1064.2,201.9 1065.7,200.9 1067.2,200.7 1068.8,199.7 1070.3,198.8 1071.8,198.1 1073.3,197.3 1074.8,196.5 1076.3,196.5 1077.8,195.6 1079.3,194.7 1080.8,192.6 1082.3,191.4 1083.8,190.1 1085.3,188.6 1086.8,187.2 1088.3,185.7 1089.8,184.5 1091.3,183.2 1092.9,181.9 1094.3,181.2 1095.8,180.0 1097.2,178.9 1098.6,177.6 1100.1,176.5 1101.6,175.5 1103.2,173.7 1104.9,172.7 1106.3,171.9 1107.8,171.8 1109.3,171.0 1110.8,169.8 1112.4,169.1 1114.1,168.4 1115.7,167.7 1117.4,167.1 1119.2,166.5 1121.0,166.0 1122.4,165.6 1123.8,165.3 1125.3,165.1 1126.8,164.9 1128.4,164.6 1130.0,164.5 1131.5,164.3 1133.1,164.2 1134.7,164.1 1136.3,164.0 1137.9,163.9 1139.5,163.8 1141.0,163.8 1142.6,163.7 1144.1,163.7 1145.7,163.7 1147.3,163.7 1148.8,163.8 1150.4,163.8 1151.9,163.9 1153.5,164.0 1155.0,164.1 1156.6,164.2 1158.1,164.3 1159.6,164.4 1161.1,164.6 1162.7,164.7 1164.3,164.9 1165.9,165.1 1167.4,165.3 1169.0,165.5 1170.5,165.7 1172.0,166.0 1173.6,166.2 1175.2,166.5 1176.7,166.8 1178.4,167.1 1180.0,167.4 1181.4,167.7 1182.9,168.0 1184.4,168.3 1185.8,168.7 1187.3,169.0 1188.9,169.4 1190.4,169.8 1191.9,170.2 1193.4,170.6 1194.9,171.0 1196.5,171.4 1198.0,171.8 1199.5,172.1 1201.0,172.5 1202.5,172.9 1204.0,173.3 1205.4,173.7 1206.8,174.1 1208.3,174.5 1209.7,174.9 1211.1,175.4 1212.6,175.8 1214.1,176.1 1215.6,176.5 1217.1,176.9 1218.7,177.2 1220.3,177.5 1222.0,177.8 1223.4,178.0 1224.8,178.1 1226.3,178.3 1227.8,178.4 1229.3,178.6 1230.9,178.7 1232.5,178.8 1234.1,178.9 1235.7,179.0 1237.3,179.1 1238.9,179.2 1240.5,179.3 1242.0,179.3 1243.6,179.4 1245.1,179.4 1246.6,179.4 1248.0,179.4 1249.4,179.4 1251.0,179.4 1252.7,179.4 1254.2,179.4 1255.7,179.3 1257.2,179.3 1258.6,179.2 1260.0,179.1 1261.4,179.0 1262.8,178.8 1264.2,178.7 1265.7,178.5 1267.2,178.3 1268.8,178.0 1270.4,177.8 1271.8,177.5 1273.3,177.2 1274.8,176.9 1276.3,176.5 1277.9,176.2 1279.4,175.8 1281.0,175.4 1282.6,175.0 1284.2,174.5 1285.8,174.1 1287.4,173.7 1289.0,173.2 1290.7,172.8 1292.3,172.3 1294.0,171.9 1295.6,171.5 1297.1,171.1 1298.5,170.7 1300.1,170.2 1301.6,169.8 1303.1,169.3 1304.6,168.9 1306.2,168.4 1307.7,168.0 1309.3,167.5 1310.8,167.1 1312.3,166.6 1313.9,166.2 1315.4,165.8 1316.9,165.4 1318.5,165.0 1320.0,164.7 1321.4,164.4 1322.9,164.1 1324.6,163.8 1326.2,163.6 1327.8,163.3 1329.4,163.1 1331.0,162.9 1332.5,162.7 1334.1,162.6 1335.7,162.5 1337.2,162.3 1338.8,162.3 1340.3,162.2 1341.9,162.1 1343.4,162.1 1345.0,162.0 1346.6,162.0 1348.1,162.0 1349.7,162.0 1351.3,162.0 1352.8,162.1 1354.4,162.2 1355.9,162.2 1357.5,162.3 1359.1,162.5 1360.6,162.6 1362.2,162.7 1363.7,162.9 1365.3,163.1 1366.9,163.3 1368.5,163.5 1370.1,163.7 1371.7,163.9 1373.4,164.1 1374.8,164.3 1376.3,164.6 1377.7,164.8 1379.2,165.1 1380.7,165.4 1382.2,165.7 1383.6,166.0 1385.1,166.3 1386.6,166.7 1388.1,167.0 1389.7,167.3 1391.2,167.6 1392.7,168.0 1394.3,168.3 1395.9,168.6 1397.4,168.8 1399.1,169.1 1400.7,169.4 1402.1,169.6 1403.5,169.8 1405.0,169.9 1406.4,170.1 1407.9,170.3 1409.4,170.5 1410.9,170.7 1412.4,170.9 1413.9,171.0 1415.4,171.2 1416.9,171.3 1418.5,171.5 1420.0,171.6 1421.5,171.8 1423.1,171.9 1424.6,172.0 1426.1,172.1 1427.7,172.2 1429.2,172.3 1430.7,172.4 1432.2,172.5 1433.7,172.6 1435.3,172.6 1436.8,172.7 1438.4,172.7 1440.0,172.7 1441.6,172.8 1443.2,172.8 1444.8,172.8 1446.4,172.8 1448.0,172.8 1449.6,172.7 1451.2,172.7 1452.7,172.7 1454.2,172.7 1455.7,172.6 1457.2,172.6 1458.6,172.6 1459.9,172.6 1461.3,172.5 1462.5,172.5 1463.7,172.5 1465.9,172.5 1468.1,172.4 1470.1,172.4 1472.0,172.3 1473.8,172.2 1475.5,172.2 1477.0,172.1 1478.4,172.0 1479.6,172.0 1480.7,171.9 1481.6,171.9" fill="none" stroke="#ff00ff" stroke-width="2.2" stroke-linejoin="miter" stroke-miterlimit="3"/>
<polyline clip-path="url(#c4)" points="884.0,51.2 885.1,50.7 886.7,49.8 888.4,49.3 890.3,48.7 892.0,48.5 893.6,49.1 895.1,50.2 896.6,50.5 898.2,52.3 900.1,55.5 901.4,56.9 902.8,58.6 904.3,59.8 905.9,61.7 907.4,63.7 909.0,65.4 910.6,67.5 912.1,69.7 913.6,71.8 915.1,74.2 916.6,76.7 918.2,80.4 919.7,83.0 921.2,85.6 922.7,88.1 924.2,90.7 925.7,93.4 927.2,96.0 928.7,98.7 930.2,101.5 931.7,103.5 933.2,106.3 934.7,109.1 936.2,111.8 937.7,114.6 939.2,117.3 940.7,120.5 942.2,123.2 943.8,126.0 945.3,129.2 946.8,131.9 948.3,134.7 949.8,136.8 951.3,139.7 952.8,142.5 954.3,146.5 955.8,149.3 957.3,152.0 958.8,153.9 960.3,156.5 961.8,158.9 963.3,162.3 964.8,164.6 966.3,166.9 967.9,168.1 969.4,170.3 970.9,172.4 972.4,175.2 973.9,177.2 975.4,179.1 976.9,180.8 978.4,182.6 979.9,184.3 981.4,185.1 982.9,186.7 984.4,188.3 985.9,190.3 987.4,191.6 988.9,192.9 990.4,194.0 991.9,195.1 993.5,196.3 995.0,197.3 996.5,198.5 998.0,199.8 999.5,201.7 1001.0,203.0 1002.5,204.4 1004.0,205.2 1005.5,206.5 1007.0,207.6 1008.5,209.3 1010.0,210.2 1011.6,211.0 1013.2,211.4 1014.8,212.0 1016.3,212.6 1017.8,213.0 1019.2,213.4 1020.6,213.9 1022.4,215.1 1023.9,215.7 1025.3,216.2 1026.8,216.0 1028.6,216.0 1029.9,215.9 1031.3,214.9 1032.8,214.6 1034.4,214.2 1035.9,214.5 1037.5,214.0 1039.1,213.5 1040.6,212.4 1042.1,211.9 1043.7,211.4 1045.2,210.8 1046.7,210.2 1048.2,209.6 1049.7,208.4 1051.2,207.7 1052.7,206.9 1054.2,207.3 1055.7,206.4 1057.2,205.4 1058.7,203.3 1060.2,202.2 1061.7,201.2 1063.2,201.4 1064.7,200.4 1066.2,199.4 1067.8,196.9 1069.3,195.9 1070.8,194.9 1072.3,195.4 1073.8,194.4 1075.3,193.4 1076.8,192.2 1078.3,191.2 1079.8,190.2 1081.3,188.8 1082.8,187.8 1084.3,186.8 1085.8,185.6 1087.3,184.6 1088.8,183.6 1090.3,182.4 1091.8,181.4 1093.4,180.3 1094.9,179.6 1096.4,178.5 1097.9,177.6 1099.4,176.4 1100.9,175.5 1102.4,174.7 1103.9,174.5 1105.4,173.7 1106.9,172.9 1108.4,171.6 1109.9,170.9 1111.4,170.2 1112.9,169.6 1114.4,169.0 1115.8,168.4 1117.3,167.9 1118.7,167.3 1120.2,166.9 1121.7,166.4 1123.3,166.0 1125.0,165.6 1126.4,165.3 1127.9,165.0 1129.5,164.7 1131.1,164.5 1132.8,164.3 1134.4,164.1 1136.1,163.9 1137.8,163.8 1139.4,163.6 1141.0,163.6 1142.6,163.5 1144.1,163.6 1145.6,163.6 1147.1,163.7 1148.6,163.8 1150.2,163.9 1151.8,164.0 1153.5,164.2 1155.2,164.4 1157.1,164.6 1158.4,164.7 1159.8,164.9 1161.3,165.0 1162.8,165.2 1164.3,165.4 1165.9,165.5 1167.4,165.7 1169.0,165.9 1170.7,166.2 1172.3,166.4 1173.9,166.6 1175.4,166.8 1177.0,167.1 1178.5,167.3 1180.0,167.6 1181.6,167.9 1183.1,168.2 1184.6,168.5 1186.1,168.8 1187.6,169.2 1189.1,169.5 1190.6,169.9 1192.1,170.3 1193.6,170.6 1195.1,171.0 1196.5,171.4 1198.0,171.8 1199.5,172.1 1201.0,172.5 1202.5,172.9 1204.0,173.3 1205.4,173.7 1206.8,174.1 1208.3,174.5 1209.7,174.9 1211.1,175.3 1212.6,175.7 1214.1,176.1 1215.6,176.5 1217.1,176.9 1218.7,177.2 1220.3,177.5 1222.0,177.8 1223.4,178.0 1224.8,178.1 1226.3,178.3 1227.8,178.4 1229.3,178.6 1230.9,178.7 1232.5,178.8 1234.1,178.9 1235.7,179.0 1237.3,179.1 1238.9,179.2 1240.5,179.3 1242.0,179.3 1243.6,179.4 1245.1,179.4 1246.6,179.4 1248.0,179.4 1249.4,179.4 1251.0,179.4 1252.7,179.4 1254.2,179.4 1255.7,179.3 1257.2,179.3 1258.6,179.2 1260.0,179.1 1261.4,179.0 1262.8,178.8 1264.2,178.7 1265.7,178.5 1267.2,178.3 1268.8,178.0 1270.4,177.8 1271.8,177.5 1273.3,177.2 1274.8,176.9 1276.3,176.5 1277.9,176.2 1279.4,175.8 1281.0,175.4 1282.6,175.0 1284.2,174.5 1285.8,174.1 1287.4,173.7 1289.0,173.2 1290.7,172.8 1292.3,172.3 1294.0,171.9 1295.6,171.5 1297.1,171.1 1298.5,170.7 1300.1,170.2 1301.6,169.8 1303.1,169.3 1304.6,168.9 1306.2,168.4 1307.7,168.0 1309.3,167.5 1310.8,167.1 1312.3,166.6 1313.9,166.2 1315.4,165.8 1316.9,165.4 1318.5,165.0 1320.0,164.7 1321.4,164.4 1322.9,164.1 1324.6,163.8 1326.2,163.6 1327.8,163.3 1329.4,163.1 1331.0,162.9 1332.5,162.7 1334.1,162.6 1335.7,162.5 1337.2,162.3 1338.8,162.3 1340.3,162.2 1341.9,162.1 1343.4,162.1 1345.0,162.0 1346.6,162.0 1348.1,162.0 1349.7,162.0 1351.3,162.0 1352.8,162.1 1354.4,162.2 1355.9,162.2 1357.5,162.3 1359.1,162.5 1360.6,162.6 1362.2,162.7 1363.7,162.9 1365.3,163.1 1366.9,163.3 1368.5,163.5 1370.1,163.7 1371.7,163.9 1373.4,164.1 1374.8,164.3 1376.3,164.6 1377.7,164.8 1379.2,165.1 1380.7,165.4 1382.2,165.7 1383.6,166.0 1385.1,166.3 1386.6,166.7 1388.1,167.0 1389.7,167.3 1391.2,167.6 1392.7,168.0 1394.3,168.3 1395.9,168.6 1397.4,168.8 1399.1,169.1 1400.7,169.4 1402.1,169.6 1403.5,169.8 1405.0,169.9 1406.4,170.1 1407.9,170.3 1409.4,170.5 1410.9,170.7 1412.4,170.9 1413.9,171.0 1415.4,171.2 1416.9,171.3 1418.5,171.5 1420.0,171.6 1421.5,171.8 1423.1,171.9 1424.6,172.0 1426.1,172.1 1427.7,172.2 1429.2,172.3 1430.7,172.4 1432.2,172.5 1433.7,172.6 1435.3,172.6 1436.8,172.7 1438.4,172.7 1440.0,172.7 1441.6,172.8 1443.2,172.8 1444.8,172.8 1446.4,172.8 1448.0,172.8 1449.6,172.7 1451.2,172.7 1452.7,172.7 1454.2,172.7 1455.7,172.6 1457.2,172.6 1458.6,172.6 1459.9,172.6 1461.3,172.5 1462.5,172.5 1463.7,172.5 1465.9,172.5 1468.1,172.4 1470.1,172.4 1472.0,172.3 1473.8,172.2 1475.5,172.2 1477.0,172.1 1478.4,172.0 1479.6,172.0 1480.7,171.9 1481.6,171.9" fill="none" stroke="#0000ff" stroke-width="3.7" stroke-linejoin="miter" stroke-miterlimit="3"/>
<polyline clip-path="url(#c5)" points="1049.7,651.4 1050.8,632.9 1052.7,611.2 1054.0,603.7 1055.6,597.6 1057.3,591.6 1058.7,584.9 1060.8,567.2 1062.7,550.9 1064.6,541.9 1066.7,535.1 1068.1,530.7 1069.5,526.2 1071.1,521.4 1072.8,516.9 1074.2,513.2 1075.8,509.6 1077.5,505.9 1079.2,502.3 1080.8,498.4 1082.4,495.0 1084.0,491.6 1085.6,488.6 1087.2,485.5 1088.8,482.5 1090.4,479.9 1091.9,477.4 1093.4,475.0 1095.0,472.5 1096.9,470.3 1098.2,468.9 1099.6,467.6 1101.1,466.2 1102.6,464.9 1104.2,463.8 1105.8,462.6 1107.4,461.5 1108.9,460.3 1110.4,459.8 1111.7,459.3 1113.1,458.8 1114.4,458.5 1115.9,458.3 1117.4,458.0 1119.1,457.8 1121.0,457.5 1122.2,457.3 1123.6,457.1 1125.0,456.9 1126.6,456.6 1128.1,456.4 1129.7,456.2 1131.3,456.0 1133.0,455.8 1134.6,455.6 1136.2,455.5 1137.9,455.5 1139.5,455.5 1141.0,455.5 1142.6,455.6 1144.1,455.7 1145.7,455.9 1147.3,456.2 1148.8,456.4 1150.4,456.7 1151.9,457.1 1153.5,457.4 1155.0,457.8 1156.6,458.2 1158.1,458.6 1159.6,459.1 1161.1,459.5 1162.7,460.0 1164.3,460.6 1165.9,461.2 1167.4,461.9 1169.0,462.5 1170.5,463.2 1172.0,463.9 1173.6,464.6 1175.2,465.4 1176.7,466.1 1178.4,466.8 1180.0,467.6 1181.4,468.2 1182.9,468.8 1184.4,469.5 1185.8,470.2 1187.3,470.9 1188.9,471.6 1190.4,472.3 1191.9,473.0 1193.4,473.7 1194.9,474.3 1196.5,475.0 1198.0,475.6 1199.5,476.2 1201.0,476.7 1202.5,477.3 1204.0,477.8 1205.4,478.3 1206.8,478.8 1208.3,479.2 1209.7,479.7 1211.1,480.1 1212.6,480.5 1214.1,480.9 1215.6,481.3 1217.1,481.7 1218.7,482.0 1220.3,482.3 1222.0,482.6 1223.4,482.8 1224.8,483.0 1226.3,483.2 1227.8,483.4 1229.3,483.6 1230.9,483.7 1232.5,483.8 1234.1,484.0 1235.7,484.1 1237.3,484.2 1238.9,484.3 1240.5,484.4 1242.0,484.5 1243.6,484.5 1245.1,484.6 1246.6,484.6 1248.0,484.7 1249.4,484.7 1251.0,484.8 1252.7,484.8 1254.2,484.9 1255.7,484.9 1257.2,484.9 1258.6,485.0 1260.0,484.9 1261.4,484.9 1262.8,484.9 1264.2,484.8 1265.7,484.7 1267.2,484.5 1268.8,484.3 1270.4,484.1 1271.8,483.9 1273.3,483.6 1274.8,483.3 1276.3,482.9 1277.9,482.6 1279.4,482.2 1281.0,481.8 1282.6,481.3 1284.2,480.9 1285.8,480.5 1287.4,480.0 1289.0,479.6 1290.7,479.1 1292.3,478.7 1294.0,478.2 1295.6,477.8 1297.1,477.4 1298.5,477.0 1300.1,476.6 1301.6,476.2 1303.1,475.8 1304.6,475.3 1306.2,474.9 1307.7,474.5 1309.3,474.1 1310.8,473.6 1312.3,473.2 1313.9,472.8 1315.4,472.4 1316.9,472.1 1318.5,471.7 1320.0,471.4 1321.4,471.1 1322.9,470.9 1324.6,470.6 1326.2,470.4 1327.8,470.1 1329.4,469.9 1331.0,469.8 1332.5,469.6 1334.1,469.5 1335.7,469.4 1337.2,469.2 1338.8,469.2 1340.3,469.1 1341.9,469.0 1343.4,469.0 1345.0,469.0 1346.6,469.0 1348.1,469.0 1349.7,469.0 1351.3,469.0 1352.8,469.1 1354.4,469.2 1355.9,469.2 1357.5,469.4 1359.1,469.5 1360.6,469.6 1362.2,469.8 1363.7,469.9 1365.3,470.1 1366.9,470.3 1368.5,470.5 1370.1,470.7 1371.7,470.9 1373.4,471.1 1374.8,471.3 1376.3,471.5 1377.7,471.7 1379.2,472.0 1380.7,472.2 1382.2,472.5 1383.6,472.8 1385.1,473.0 1386.6,473.3 1388.1,473.6 1389.7,473.9 1391.2,474.2 1392.7,474.4 1394.3,474.7 1395.9,475.0 1397.4,475.2 1399.1,475.5 1400.7,475.7 1402.1,475.9 1403.5,476.1 1405.0,476.3 1406.4,476.4 1407.9,476.6 1409.4,476.8 1410.9,477.0 1412.4,477.1 1413.9,477.3 1415.4,477.5 1416.9,477.6 1418.5,477.8 1420.0,477.9 1421.5,478.1 1423.1,478.2 1424.6,478.3 1426.1,478.5 1427.7,478.6 1429.2,478.7 1430.7,478.8 1432.2,478.8 1433.7,478.9 1435.3,479.0 1436.8,479.0 1438.4,479.1 1440.0,479.1 1441.6,479.1 1443.2,479.1 1444.8,479.1 1446.4,479.1 1448.0,479.1 1449.6,479.1 1451.2,479.1 1452.7,479.0 1454.2,479.0 1455.7,479.0 1457.2,479.0 1458.6,478.9 1459.9,478.9 1461.3,478.9 1462.5,478.9 1463.7,478.8 1465.9,478.8 1468.1,478.8 1470.1,478.7 1472.0,478.6 1473.8,478.6 1475.5,478.5 1477.0,478.4 1478.4,478.4 1479.6,478.3 1480.7,478.3 1481.6,478.2" fill="none" stroke="#000000" stroke-width="3.3" stroke-linejoin="miter" stroke-miterlimit="3"/>
<polyline clip-path="url(#c5)" points="885.6,652.3 886.3,607.1 887.2,551.9 888.0,508.2 888.8,471.6 889.6,444.9 890.4,427.2 890.8,418.8 892.0,417.1 893.2,416.7 894.6,418.4 896.3,420.7 898.1,424.1 900.1,426.8 901.4,428.5 902.8,430.4 904.3,432.4 905.9,434.4 907.4,437.4 909.0,439.5 910.6,441.6 912.1,443.1 913.6,445.1 915.1,447.0 916.6,447.5 918.2,449.4 919.7,451.4 921.2,454.4 922.7,456.5 924.2,458.7 925.7,461.4 927.2,463.8 928.7,466.3 930.2,469.5 931.7,472.1 933.2,474.7 934.7,476.0 936.2,478.6 937.7,481.1 939.2,483.0 940.7,485.5 942.2,488.1 943.8,492.0 945.3,494.5 946.8,496.9 948.3,498.1 949.8,500.5 951.3,502.9 952.8,505.6 954.3,507.9 955.8,510.2 957.3,513.7 958.8,515.8 960.3,517.8 961.8,519.7 963.3,521.3 964.8,522.9 966.3,523.2 967.9,524.6 969.4,526.0 970.9,527.5 972.4,528.9 973.9,530.2 975.4,531.4 976.9,532.7 978.4,534.0 979.9,535.8 981.4,537.1 982.9,538.2 984.4,538.7 985.9,539.7 987.4,540.7 988.9,542.4 990.4,543.3 991.9,544.2 993.5,544.5 995.0,545.3 996.5,546.0 998.0,546.0 999.7,546.6 1001.3,547.2 1003.0,547.4 1004.6,547.9 1006.1,548.3 1007.4,550.6 1008.5,550.9 1010.8,551.9 1012.5,550.4 1013.8,549.9 1015.3,549.0 1016.9,549.3 1018.6,548.4 1020.6,546.5 1021.9,546.2 1023.4,546.0 1025.0,546.7 1026.6,546.6 1028.2,546.5 1029.8,546.6 1031.3,546.3 1032.6,545.7 1034.4,544.9 1035.9,543.5 1037.3,541.9 1038.8,538.1 1040.6,536.0 1042.0,534.5 1043.4,532.9 1044.9,531.2 1046.4,529.4 1048.0,528.9 1049.6,527.0 1051.2,525.1 1052.7,524.0 1054.2,522.3 1055.7,520.6 1057.2,516.4 1058.7,514.7 1060.2,513.0 1061.7,512.8 1063.2,511.0 1064.7,509.1 1066.2,508.0 1067.8,506.0 1069.3,504.0 1070.8,500.7 1072.3,498.7 1073.8,496.6 1075.3,494.2 1076.8,492.3 1078.3,490.4 1079.8,487.7 1081.3,485.9 1082.8,484.1 1084.3,483.4 1085.8,481.7 1087.3,480.0 1088.8,479.2 1090.3,477.6 1091.8,475.9 1093.4,473.3 1094.9,471.7 1096.4,470.2 1097.9,468.4 1099.4,467.1 1100.9,465.9 1102.4,466.1 1103.8,465.3 1105.2,464.6 1106.7,463.4 1108.1,462.9 1109.6,462.4 1111.2,461.9 1112.9,461.5 1114.4,461.2 1115.9,461.0 1117.5,460.8 1119.1,460.6 1120.7,460.5 1122.4,460.4 1124.1,460.3 1125.7,460.2 1127.4,460.2 1129.0,460.1 1130.6,460.1 1132.2,460.1 1133.8,460.1 1135.4,460.2 1137.0,460.2 1138.6,460.3 1140.2,460.5 1141.8,460.6 1143.5,460.7 1145.1,460.9 1146.7,461.1 1148.2,461.3 1149.8,461.6 1151.4,461.8 1152.9,462.1 1154.5,462.4 1156.1,462.7 1157.7,463.1 1159.4,463.5 1161.1,463.9 1162.6,464.3 1164.1,464.8 1165.6,465.2 1167.1,465.7 1168.7,466.2 1170.3,466.7 1171.8,467.2 1173.4,467.8 1175.1,468.3 1176.7,468.9 1178.3,469.4 1180.0,470.0 1181.4,470.4 1182.9,470.9 1184.4,471.4 1185.8,471.9 1187.3,472.4 1188.9,472.9 1190.4,473.4 1191.9,473.9 1193.4,474.4 1194.9,474.9 1196.5,475.3 1198.0,475.8 1199.5,476.3 1201.0,476.7 1202.5,477.2 1204.0,477.7 1205.4,478.1 1206.8,478.6 1208.3,479.1 1209.7,479.5 1211.1,480.0 1212.6,480.4 1214.1,480.8 1215.6,481.3 1217.1,481.6 1218.7,482.0 1220.3,482.3 1222.0,482.6 1223.4,482.8 1224.8,483.0 1226.3,483.2 1227.8,483.4 1229.3,483.6 1230.9,483.7 1232.5,483.8 1234.1,484.0 1235.7,484.1 1237.3,484.2 1238.9,484.3 1240.5,484.4 1242.0,484.5 1243.6,484.5 1245.1,484.6 1246.6,484.6 1248.0,484.7 1249.4,484.7 1251.0,484.8 1252.7,484.8 1254.2,484.9 1255.7,484.9 1257.2,484.9 1258.6,485.0 1260.0,484.9 1261.4,484.9 1262.8,484.9 1264.2,484.8 1265.7,484.7 1267.2,484.5 1268.8,484.3 1270.4,484.1 1271.8,483.9 1273.3,483.6 1274.8,483.3 1276.3,482.9 1277.9,482.6 1279.4,482.2 1281.0,481.8 1282.6,481.3 1284.2,480.9 1285.8,480.5 1287.4,480.0 1289.0,479.6 1290.7,479.1 1292.3,478.7 1294.0,478.2 1295.6,477.8 1297.1,477.4 1298.5,477.0 1300.1,476.6 1301.6,476.2 1303.1,475.8 1304.6,475.3 1306.2,474.9 1307.7,474.5 1309.3,474.1 1310.8,473.6 1312.3,473.2 1313.9,472.8 1315.4,472.4 1316.9,472.1 1318.5,471.7 1320.0,471.4 1321.4,471.1 1322.9,470.9 1324.6,470.6 1326.2,470.4 1327.8,470.1 1329.4,469.9 1331.0,469.8 1332.5,469.6 1334.1,469.5 1335.7,469.4 1337.2,469.2 1338.8,469.2 1340.3,469.1 1341.9,469.0 1343.4,469.0 1345.0,469.0 1346.6,469.0 1348.1,469.0 1349.7,469.0 1351.3,469.0 1352.8,469.1 1354.4,469.2 1355.9,469.2 1357.5,469.4 1359.1,469.5 1360.6,469.6 1362.2,469.8 1363.7,469.9 1365.3,470.1 1366.9,470.3 1368.5,470.5 1370.1,470.7 1371.7,470.9 1373.4,471.1 1374.8,471.3 1376.3,471.5 1377.7,471.7 1379.2,472.0 1380.7,472.2 1382.2,472.5 1383.6,472.8 1385.1,473.0 1386.6,473.3 1388.1,473.6 1389.7,473.9 1391.2,474.2 1392.7,474.4 1394.3,474.7 1395.9,475.0 1397.4,475.2 1399.1,475.5 1400.7,475.7 1402.1,475.9 1403.5,476.1 1405.0,476.3 1406.4,476.4 1407.9,476.6 1409.4,476.8 1410.9,477.0 1412.4,477.1 1413.9,477.3 1415.4,477.5 1416.9,477.6 1418.5,477.8 1420.0,477.9 1421.5,478.1 1423.1,478.2 1424.6,478.3 1426.1,478.5 1427.7,478.6 1429.2,478.7 1430.7,478.8 1432.2,478.8 1433.7,478.9 1435.3,479.0 1436.8,479.0 1438.4,479.1 1440.0,479.1 1441.6,479.1 1443.2,479.1 1444.8,479.1 1446.4,479.1 1448.0,479.1 1449.6,479.1 1451.2,479.1 1452.7,479.0 1454.2,479.0 1455.7,479.0 1457.2,479.0 1458.6,478.9 1459.9,478.9 1461.3,478.9 1462.5,478.9 1463.7,478.8 1465.9,478.8 1468.1,478.8 1470.1,478.7 1472.0,478.6 1473.8,478.6 1475.5,478.5 1477.0,478.4 1478.4,478.4 1479.6,478.3 1480.7,478.3 1481.6,478.2" fill="none" stroke="#ff0000" stroke-width="3.7" stroke-linejoin="miter" stroke-miterlimit="3"/>
<polyline clip-path="url(#c5)" points="884.0,398.4 885.5,402.0 888.0,404.2 889.4,402.9 891.0,400.3 892.7,397.6 894.4,395.3 896.1,394.4 897.7,395.4 899.3,397.9 900.9,401.0 902.5,404.9 904.1,407.1 905.6,408.2 907.1,407.3 908.6,407.5 910.3,408.2 912.1,410.0 913.4,411.8 914.9,413.9 916.4,416.3 917.9,419.0 919.5,421.7 921.1,424.1 922.6,427.0 924.2,429.7 925.7,432.4 927.2,435.1 928.7,437.9 930.2,440.4 931.7,443.2 933.2,446.0 934.7,448.9 936.2,451.6 937.7,454.4 939.2,457.3 940.7,460.0 942.2,462.7 943.8,467.1 945.3,469.8 946.8,472.6 948.3,475.0 949.8,478.0 951.3,481.1 952.8,484.3 954.3,487.4 955.8,490.6 957.3,492.2 958.8,495.1 960.3,497.8 961.8,501.3 963.3,503.7 964.8,506.0 966.3,508.3 967.9,510.5 969.4,512.6 970.9,514.1 972.4,516.3 973.9,518.6 975.4,520.8 976.9,523.3 978.4,525.7 979.9,528.8 981.4,531.1 982.9,533.1 984.4,535.1 985.9,536.6 987.4,537.9 988.8,538.0 990.3,539.0 991.8,539.9 993.3,540.5 994.9,541.2 996.5,542.0 998.0,543.8 999.5,544.5 1001.2,545.2 1002.8,545.5 1004.4,546.1 1006.1,546.5 1007.6,546.5 1009.1,546.6 1010.5,546.5 1012.4,547.1 1014.1,546.0 1015.7,544.5 1017.2,541.5 1018.8,539.8 1020.6,538.3 1022.0,538.0 1023.4,536.9 1024.9,535.9 1026.5,533.7 1028.0,532.7 1029.6,531.7 1031.1,532.5 1032.6,531.6 1034.1,530.8 1035.6,529.3 1037.1,528.6 1038.6,527.9 1040.1,527.8 1041.6,527.1 1043.2,526.3 1044.7,525.4 1046.2,524.5 1047.7,523.5 1049.2,522.2 1050.7,521.2 1052.2,520.0 1053.7,517.5 1055.2,516.2 1056.7,514.9 1058.2,513.6 1059.7,512.1 1061.2,510.5 1062.7,508.8 1064.2,507.1 1065.7,505.4 1067.2,503.9 1068.8,502.2 1070.3,500.4 1071.8,500.2 1073.3,498.4 1074.8,496.6 1076.3,494.4 1077.8,492.6 1079.3,490.9 1080.8,489.6 1082.3,488.0 1083.8,486.4 1085.3,483.7 1086.8,482.1 1088.3,480.7 1089.8,479.8 1091.3,478.4 1092.9,477.0 1094.4,475.3 1095.9,473.9 1097.4,472.5 1098.9,472.1 1100.4,470.8 1101.9,469.6 1103.4,468.0 1104.9,467.1 1106.4,466.3 1107.8,464.7 1109.2,464.1 1110.7,463.9 1112.1,463.5 1113.7,463.1 1115.2,462.8 1116.9,462.5 1118.4,462.4 1119.9,462.3 1121.5,462.2 1123.1,462.2 1124.7,462.3 1126.4,462.3 1128.1,462.4 1129.7,462.4 1131.4,462.5 1133.0,462.5 1134.6,462.5 1136.2,462.5 1137.8,462.6 1139.4,462.6 1141.0,462.6 1142.7,462.6 1144.3,462.6 1145.9,462.7 1147.5,462.8 1149.1,462.9 1150.7,463.1 1152.3,463.3 1153.9,463.5 1155.6,463.7 1157.2,464.0 1158.8,464.2 1160.4,464.5 1162.0,464.9 1163.6,465.2 1165.1,465.5 1166.8,466.0 1168.4,466.4 1170.0,466.9 1171.5,467.3 1173.0,467.9 1174.6,468.4 1176.3,469.0 1178.1,469.6 1180.0,470.2 1181.3,470.6 1182.7,471.0 1184.1,471.5 1185.6,471.9 1187.1,472.4 1188.6,472.9 1190.1,473.4 1191.7,473.9 1193.3,474.4 1194.8,474.9 1196.4,475.3 1198.0,475.8 1199.5,476.3 1201.0,476.7 1202.5,477.2 1204.0,477.7 1205.4,478.1 1206.8,478.6 1208.3,479.1 1209.7,479.5 1211.1,480.0 1212.6,480.4 1214.1,480.8 1215.6,481.2 1217.1,481.6 1218.7,482.0 1220.3,482.3 1222.0,482.6 1223.4,482.8 1224.8,483.0 1226.3,483.2 1227.8,483.4 1229.3,483.6 1230.9,483.7 1232.5,483.8 1234.1,484.0 1235.7,484.1 1237.3,484.2 1238.9,484.3 1240.5,484.4 1242.0,484.5 1243.6,484.5 1245.1,484.6 1246.6,484.6 1248.0,484.7 1249.4,484.7 1251.0,484.8 1252.7,484.8 1254.2,484.9 1255.7,484.9 1257.2,484.9 1258.6,485.0 1260.0,484.9 1261.4,484.9 1262.8,484.9 1264.2,484.8 1265.7,484.7 1267.2,484.5 1268.8,484.3 1270.4,484.1 1271.8,483.9 1273.3,483.6 1274.8,483.3 1276.3,482.9 1277.9,482.6 1279.4,482.2 1281.0,481.8 1282.6,481.3 1284.2,480.9 1285.8,480.5 1287.4,480.0 1289.0,479.6 1290.7,479.1 1292.3,478.7 1294.0,478.2 1295.6,477.8 1297.1,477.4 1298.5,477.0 1300.1,476.6 1301.6,476.2 1303.1,475.8 1304.6,475.3 1306.2,474.9 1307.7,474.5 1309.3,474.1 1310.8,473.6 1312.3,473.2 1313.9,472.8 1315.4,472.4 1316.9,472.1 1318.5,471.7 1320.0,471.4 1321.4,471.1 1322.9,470.9 1324.6,470.6 1326.2,470.4 1327.8,470.1 1329.4,469.9 1331.0,469.8 1332.5,469.6 1334.1,469.5 1335.7,469.4 1337.2,469.2 1338.8,469.2 1340.3,469.1 1341.9,469.0 1343.4,469.0 1345.0,469.0 1346.6,469.0 1348.1,469.0 1349.7,469.0 1351.3,469.0 1352.8,469.1 1354.4,469.2 1355.9,469.2 1357.5,469.4 1359.1,469.5 1360.6,469.6 1362.2,469.8 1363.7,469.9 1365.3,470.1 1366.9,470.3 1368.5,470.5 1370.1,470.7 1371.7,470.9 1373.4,471.1 1374.8,471.3 1376.3,471.5 1377.7,471.7 1379.2,472.0 1380.7,472.2 1382.2,472.5 1383.6,472.8 1385.1,473.0 1386.6,473.3 1388.1,473.6 1389.7,473.9 1391.2,474.2 1392.7,474.4 1394.3,474.7 1395.9,475.0 1397.4,475.2 1399.1,475.5 1400.7,475.7 1402.1,475.9 1403.5,476.1 1405.0,476.3 1406.4,476.4 1407.9,476.6 1409.4,476.8 1410.9,477.0 1412.4,477.1 1413.9,477.3 1415.4,477.5 1416.9,477.6 1418.5,477.8 1420.0,477.9 1421.5,478.1 1423.1,478.2 1424.6,478.3 1426.1,478.5 1427.7,478.6 1429.2,478.7 1430.7,478.8 1432.2,478.8 1433.7,478.9 1435.3,479.0 1436.8,479.0 1438.4,479.1 1440.0,479.1 1441.6,479.1 1443.2,479.1 1444.8,479.1 1446.4,479.1 1448.0,479.1 1449.6,479.1 1451.2,479.1 1452.7,479.0 1454.2,479.0 1455.7,479.0 1457.2,479.0 1458.6,478.9 1459.9,478.9 1461.3,478.9 1462.5,478.9 1463.7,478.8 1465.9,478.8 1468.1,478.8 1470.1,478.7 1472.0,478.6 1473.8,478.6 1475.5,478.5 1477.0,478.4 1478.4,478.4 1479.6,478.3 1480.7,478.3 1481.6,478.2" fill="none" stroke="#ff00ff" stroke-width="2.2" stroke-linejoin="miter" stroke-miterlimit="3"/>
<polyline clip-path="url(#c5)" points="884.0,369.3 885.1,370.1 886.7,371.2 888.4,374.3 890.3,375.7 892.0,375.6 893.6,376.7 895.1,377.7 896.6,378.8 898.2,380.0 900.1,382.2 901.4,383.4 902.8,384.6 904.3,386.2 905.9,387.6 907.4,389.1 909.0,391.5 910.6,393.3 912.1,395.2 913.6,396.0 915.1,398.3 916.6,400.7 918.2,403.6 919.7,406.2 921.2,408.9 922.7,411.0 924.2,413.7 925.7,416.4 927.2,419.6 928.7,422.3 930.2,425.1 931.7,427.7 933.2,430.5 934.7,433.3 936.2,437.2 937.7,440.0 939.2,442.7 940.7,443.7 942.2,446.5 943.8,449.2 945.3,453.0 946.8,455.8 948.3,458.7 949.8,461.8 951.3,464.8 952.8,467.9 954.3,471.2 955.8,474.3 957.3,477.4 958.8,479.3 960.3,482.2 961.8,484.9 963.3,487.3 964.8,489.9 966.3,492.4 967.9,495.6 969.4,498.0 970.9,500.3 972.4,503.7 973.9,505.9 975.4,508.1 976.9,510.1 978.4,512.2 979.9,514.2 981.4,516.2 982.9,517.9 984.4,519.6 985.9,521.1 987.4,522.5 988.9,523.7 990.4,524.3 991.9,525.3 993.5,526.3 995.0,526.8 996.5,527.8 998.0,528.8 999.5,530.7 1001.0,531.7 1002.5,532.7 1004.0,533.0 1005.5,533.8 1007.0,534.5 1008.5,534.7 1010.0,535.2 1011.5,535.5 1013.0,535.3 1014.5,535.5 1016.0,535.5 1017.6,536.1 1019.1,536.1 1020.6,535.9 1022.1,536.5 1023.6,536.3 1025.1,536.0 1026.6,534.6 1028.1,534.2 1029.6,533.7 1031.1,533.9 1032.6,533.3 1034.1,532.6 1035.6,530.9 1037.1,530.1 1038.6,529.3 1040.1,528.4 1041.6,527.4 1043.2,526.4 1044.7,525.2 1046.2,524.0 1047.7,522.7 1049.2,522.6 1050.7,521.2 1052.2,519.8 1053.7,518.1 1055.2,516.6 1056.7,515.1 1058.2,513.0 1059.7,511.5 1061.2,509.9 1062.7,509.4 1064.2,507.8 1065.7,506.3 1067.2,504.3 1068.8,502.6 1070.3,500.9 1071.8,499.1 1073.3,497.3 1074.8,495.5 1076.3,492.5 1077.8,490.7 1079.3,489.0 1080.8,488.8 1082.3,487.2 1083.8,485.6 1085.3,484.4 1086.8,482.8 1088.3,481.4 1089.8,478.0 1091.3,476.6 1092.9,475.2 1094.4,474.3 1095.9,472.9 1097.4,471.6 1098.9,471.1 1100.4,469.9 1101.9,468.8 1103.4,467.9 1104.9,466.9 1106.4,466.1 1107.8,465.8 1109.2,465.2 1110.7,463.9 1112.1,463.5 1113.7,463.1 1115.2,462.8 1116.9,462.5 1118.4,462.4 1119.9,462.3 1121.5,462.2 1123.1,462.2 1124.7,462.3 1126.4,462.3 1128.1,462.4 1129.7,462.4 1131.4,462.5 1133.0,462.5 1134.6,462.5 1136.2,462.5 1137.8,462.6 1139.4,462.6 1141.0,462.6 1142.7,462.6 1144.3,462.6 1145.9,462.7 1147.5,462.8 1149.1,462.9 1150.7,463.1 1152.3,463.3 1153.9,463.5 1155.6,463.7 1157.2,464.0 1158.8,464.2 1160.4,464.5 1162.0,464.9 1163.6,465.2 1165.1,465.5 1166.8,466.0 1168.4,466.4 1170.0,466.9 1171.5,467.3 1173.0,467.9 1174.6,468.4 1176.3,469.0 1178.1,469.6 1180.0,470.2 1181.3,470.6 1182.7,471.0 1184.1,471.5 1185.6,471.9 1187.1,472.4 1188.6,472.9 1190.1,473.4 1191.7,473.9 1193.3,474.4 1194.8,474.9 1196.4,475.3 1198.0,475.8 1199.5,476.3 1201.0,476.7 1202.5,477.2 1204.0,477.7 1205.4,478.1 1206.8,478.6 1208.3,479.1 1209.7,479.5 1211.1,480.0 1212.6,480.4 1214.1,480.8 1215.6,481.2 1217.1,481.6 1218.7,482.0 1220.3,482.3 1222.0,482.6 1223.4,482.8 1224.8,483.0 1226.3,483.2 1227.8,483.4 1229.3,483.6 1230.9,483.7 1232.5,483.8 1234.1,484.0 1235.7,484.1 1237.3,484.2 1238.9,484.3 1240.5,484.4 1242.0,484.5 1243.6,484.5 1245.1,484.6 1246.6,484.6 1248.0,484.7 1249.4,484.7 1251.0,484.8 1252.7,484.8 1254.2,484.9 1255.7,484.9 1257.2,484.9 1258.6,485.0 1260.0,484.9 1261.4,484.9 1262.8,484.9 1264.2,484.8 1265.7,484.7 1267.2,484.5 1268.8,484.3 1270.4,484.1 1271.8,483.9 1273.3,483.6 1274.8,483.3 1276.3,482.9 1277.9,482.6 1279.4,482.2 1281.0,481.8 1282.6,481.3 1284.2,480.9 1285.8,480.5 1287.4,480.0 1289.0,479.6 1290.7,479.1 1292.3,478.7 1294.0,478.2 1295.6,477.8 1297.1,477.4 1298.5,477.0 1300.1,476.6 1301.6,476.2 1303.1,475.8 1304.6,475.3 1306.2,474.9 1307.7,474.5 1309.3,474.1 1310.8,473.6 1312.3,473.2 1313.9,472.8 1315.4,472.4 1316.9,472.1 1318.5,471.7 1320.0,471.4 1321.4,471.1 1322.9,470.9 1324.6,470.6 1326.2,470.4 1327.8,470.1 1329.4,469.9 1331.0,469.8 1332.5,469.6 1334.1,469.5 1335.7,469.4 1337.2,469.2 1338.8,469.2 1340.3,469.1 1341.9,469.0 1343.4,469.0 1345.0,469.0 1346.6,469.0 1348.1,469.0 1349.7,469.0 1351.3,469.0 1352.8,469.1 1354.4,469.2 1355.9,469.2 1357.5,469.4 1359.1,469.5 1360.6,469.6 1362.2,469.8 1363.7,469.9 1365.3,470.1 1366.9,470.3 1368.5,470.5 1370.1,470.7 1371.7,470.9 1373.4,471.1 1374.8,471.3 1376.3,471.5 1377.7,471.7 1379.2,472.0 1380.7,472.2 1382.2,472.5 1383.6,472.8 1385.1,473.0 1386.6,473.3 1388.1,473.6 1389.7,473.9 1391.2,474.2 1392.7,474.4 1394.3,474.7 1395.9,475.0 1397.4,475.2 1399.1,475.5 1400.7,475.7 1402.1,475.9 1403.5,476.1 1405.0,476.3 1406.4,476.4 1407.9,476.6 1409.4,476.8 1410.9,477.0 1412.4,477.1 1413.9,477.3 1415.4,477.5 1416.9,477.6 1418.5,477.8 1420.0,477.9 1421.5,478.1 1423.1,478.2 1424.6,478.3 1426.1,478.5 1427.7,478.6 1429.2,478.7 1430.7,478.8 1432.2,478.8 1433.7,478.9 1435.3,479.0 1436.8,479.0 1438.4,479.1 1440.0,479.1 1441.6,479.1 1443.2,479.1 1444.8,479.1 1446.4,479.1 1448.0,479.1 1449.6,479.1 1451.2,479.1 1452.7,479.0 1454.2,479.0 1455.7,479.0 1457.2,479.0 1458.6,478.9 1459.9,478.9 1461.3,478.9 1462.5,478.9 1463.7,478.8 1465.9,478.8 1468.1,478.8 1470.1,478.7 1472.0,478.6 1473.8,478.6 1475.5,478.5 1477.0,478.4 1478.4,478.4 1479.6,478.3 1480.7,478.3 1481.6,478.2" fill="none" stroke="#ff00ff" stroke-width="2.2" stroke-linejoin="miter" stroke-miterlimit="3"/>
<polyline clip-path="url(#c5)" points="884.0,363.2 885.1,363.7 886.7,364.3 888.4,365.2 890.3,366.2 892.0,366.6 893.6,367.7 895.1,369.0 896.6,371.7 898.2,373.2 900.1,374.5 901.4,375.7 902.8,377.0 904.3,378.0 905.9,379.5 907.4,381.0 909.0,383.2 910.6,384.9 912.1,386.7 913.6,388.6 915.1,390.7 916.6,392.9 918.2,395.5 919.7,397.9 921.2,400.3 922.7,401.9 924.2,404.3 925.7,406.7 927.2,408.2 928.7,410.7 930.2,413.2 931.7,417.0 933.2,419.6 934.7,422.2 936.2,424.3 937.7,427.0 939.2,429.7 940.7,432.8 942.2,435.5 943.8,438.3 945.3,440.0 946.8,442.8 948.3,445.6 949.8,449.2 951.3,452.0 952.8,454.8 954.3,458.2 955.8,461.0 957.3,463.8 958.8,466.7 960.3,469.3 961.8,472.0 963.3,474.4 964.8,477.0 966.3,479.5 967.9,481.9 969.4,484.4 970.9,486.8 972.4,488.7 973.9,491.1 975.4,493.5 976.9,496.9 978.4,499.3 979.9,501.6 981.4,503.6 982.9,505.7 984.4,507.5 985.9,509.2 987.4,510.7 988.9,512.0 990.4,512.3 991.9,513.4 993.5,514.5 995.0,515.2 996.5,516.2 998.0,517.1 999.5,518.3 1001.0,519.1 1002.5,519.8 1004.0,521.2 1005.5,521.9 1007.0,522.5 1008.5,522.8 1010.0,523.5 1011.5,524.1 1013.0,524.4 1014.5,524.9 1016.0,525.4 1017.6,525.9 1019.1,526.3 1020.6,526.7 1022.1,527.7 1023.6,528.0 1025.1,528.3 1026.6,527.2 1028.1,527.3 1029.6,527.4 1031.1,527.7 1032.6,527.6 1034.1,527.2 1035.6,527.6 1037.1,527.1 1038.6,526.5 1040.1,525.6 1041.6,524.8 1043.2,524.0 1044.7,521.9 1046.2,520.8 1047.7,519.7 1049.2,518.9 1050.7,517.7 1052.2,516.3 1053.7,516.3 1055.2,514.9 1056.7,513.6 1058.2,511.6 1059.7,510.3 1061.2,509.0 1062.7,506.9 1064.2,505.5 1065.7,504.1 1067.2,503.4 1068.8,501.9 1070.3,500.3 1071.8,499.1 1073.3,497.3 1074.8,495.5 1076.3,493.9 1077.8,492.1 1079.3,490.4 1080.8,488.4 1082.3,486.8 1083.8,485.2 1085.3,483.8 1086.8,482.2 1088.3,480.7 1089.8,478.6 1091.3,477.2 1092.9,475.8 1094.4,474.5 1095.9,473.2 1097.4,471.9 1098.9,470.1 1100.4,469.0 1101.9,467.9 1103.4,467.1 1104.9,466.2 1106.4,465.4 1107.8,466.0 1109.2,465.4 1110.7,464.0 1112.1,463.5 1113.7,463.1 1115.2,462.8 1116.9,462.5 1118.4,462.4 1119.9,462.3 1121.5,462.2 1123.1,462.2 1124.7,462.3 1126.4,462.3 1128.1,462.4 1129.7,462.4 1131.4,462.5 1133.0,462.5 1134.6,462.5 1136.2,462.5 1137.8,462.6 1139.4,462.6 1141.0,462.6 1142.7,462.6 1144.3,462.6 1145.9,462.7 1147.5,462.8 1149.1,462.9 1150.7,463.1 1152.3,463.3 1153.9,463.5 1155.6,463.7 1157.2,464.0 1158.8,464.2 1160.4,464.5 1162.0,464.9 1163.6,465.2 1165.1,465.5 1166.8,466.0 1168.4,466.4 1170.0,466.9 1171.5,467.3 1173.0,467.9 1174.6,468.4 1176.3,469.0 1178.1,469.6 1180.0,470.2 1181.3,470.6 1182.7,471.0 1184.1,471.5 1185.6,471.9 1187.1,472.4 1188.6,472.9 1190.1,473.4 1191.7,473.9 1193.3,474.4 1194.8,474.9 1196.4,475.3 1198.0,475.8 1199.5,476.3 1201.0,476.7 1202.5,477.2 1204.0,477.7 1205.4,478.1 1206.8,478.6 1208.3,479.1 1209.7,479.5 1211.1,480.0 1212.6,480.4 1214.1,480.8 1215.6,481.2 1217.1,481.6 1218.7,482.0 1220.3,482.3 1222.0,482.6 1223.4,482.8 1224.8,483.0 1226.3,483.2 1227.8,483.4 1229.3,483.6 1230.9,483.7 1232.5,483.8 1234.1,484.0 1235.7,484.1 1237.3,484.2 1238.9,484.3 1240.5,484.4 1242.0,484.5 1243.6,484.5 1245.1,484.6 1246.6,484.6 1248.0,484.7 1249.4,484.7 1251.0,484.8 1252.7,484.8 1254.2,484.9 1255.7,484.9 1257.2,484.9 1258.6,485.0 1260.0,484.9 1261.4,484.9 1262.8,484.9 1264.2,484.8 1265.7,484.7 1267.2,484.5 1268.8,484.3 1270.4,484.1 1271.8,483.9 1273.3,483.6 1274.8,483.3 1276.3,482.9 1277.9,482.6 1279.4,482.2 1281.0,481.8 1282.6,481.3 1284.2,480.9 1285.8,480.5 1287.4,480.0 1289.0,479.6 1290.7,479.1 1292.3,478.7 1294.0,478.2 1295.6,477.8 1297.1,477.4 1298.5,477.0 1300.1,476.6 1301.6,476.2 1303.1,475.8 1304.6,475.3 1306.2,474.9 1307.7,474.5 1309.3,474.1 1310.8,473.6 1312.3,473.2 1313.9,472.8 1315.4,472.4 1316.9,472.1 1318.5,471.7 1320.0,471.4 1321.4,471.1 1322.9,470.9 1324.6,470.6 1326.2,470.4 1327.8,470.1 1329.4,469.9 1331.0,469.8 1332.5,469.6 1334.1,469.5 1335.7,469.4 1337.2,469.2 1338.8,469.2 1340.3,469.1 1341.9,469.0 1343.4,469.0 1345.0,469.0 1346.6,469.0 1348.1,469.0 1349.7,469.0 1351.3,469.0 1352.8,469.1 1354.4,469.2 1355.9,469.2 1357.5,469.4 1359.1,469.5 1360.6,469.6 1362.2,469.8 1363.7,469.9 1365.3,470.1 1366.9,470.3 1368.5,470.5 1370.1,470.7 1371.7,470.9 1373.4,471.1 1374.8,471.3 1376.3,471.5 1377.7,471.7 1379.2,472.0 1380.7,472.2 1382.2,472.5 1383.6,472.8 1385.1,473.0 1386.6,473.3 1388.1,473.6 1389.7,473.9 1391.2,474.2 1392.7,474.4 1394.3,474.7 1395.9,475.0 1397.4,475.2 1399.1,475.5 1400.7,475.7 1402.1,475.9 1403.5,476.1 1405.0,476.3 1406.4,476.4 1407.9,476.6 1409.4,476.8 1410.9,477.0 1412.4,477.1 1413.9,477.3 1415.4,477.5 1416.9,477.6 1418.5,477.8 1420.0,477.9 1421.5,478.1 1423.1,478.2 1424.6,478.3 1426.1,478.5 1427.7,478.6 1429.2,478.7 1430.7,478.8 1432.2,478.8 1433.7,478.9 1435.3,479.0 1436.8,479.0 1438.4,479.1 1440.0,479.1 1441.6,479.1 1443.2,479.1 1444.8,479.1 1446.4,479.1 1448.0,479.1 1449.6,479.1 1451.2,479.1 1452.7,479.0 1454.2,479.0 1455.7,479.0 1457.2,479.0 1458.6,478.9 1459.9,478.9 1461.3,478.9 1462.5,478.9 1463.7,478.8 1465.9,478.8 1468.1,478.8 1470.1,478.7 1472.0,478.6 1473.8,478.6 1475.5,478.5 1477.0,478.4 1478.4,478.4 1479.6,478.3 1480.7,478.3 1481.6,478.2" fill="none" stroke="#ff00ff" stroke-width="2.2" stroke-linejoin="miter" stroke-miterlimit="3"/>
<polyline clip-path="url(#c5)" points="884.0,358.9 885.1,357.3 886.7,354.8 888.4,351.8 890.3,349.6 892.0,348.4 893.6,348.8 895.1,350.1 896.6,351.4 898.2,353.6 900.1,356.5 901.4,358.0 902.8,359.5 904.3,360.2 905.9,361.9 907.4,363.7 909.0,366.1 910.6,368.1 912.1,370.1 913.6,372.9 915.1,375.0 916.6,377.2 918.2,378.5 919.7,380.8 921.2,383.1 922.7,386.6 924.2,389.0 925.7,391.4 927.2,393.6 928.7,396.1 930.2,398.5 931.7,400.6 933.2,403.2 934.7,405.8 936.2,408.5 937.7,411.2 939.2,413.9 940.7,416.5 942.2,419.3 943.8,422.1 945.3,424.6 946.8,427.5 948.3,430.3 949.8,433.9 951.3,437.0 952.8,440.0 954.3,441.7 955.8,444.8 957.3,447.8 958.8,451.8 960.3,454.6 961.8,457.3 963.3,460.3 964.8,462.8 966.3,465.3 967.9,466.5 969.4,468.9 970.9,471.3 972.4,474.6 973.9,477.0 975.4,479.3 976.9,481.9 978.4,484.2 979.9,486.5 981.4,488.2 982.9,490.4 984.4,492.4 986.0,494.6 987.5,496.6 989.1,498.6 990.7,500.7 992.2,502.5 993.7,504.1 995.2,505.9 996.5,507.1 998.3,508.5 999.8,508.2 1001.2,508.7 1002.7,509.2 1004.5,511.6 1005.8,512.5 1007.2,513.6 1008.7,514.0 1010.3,515.3 1011.9,516.6 1013.4,517.5 1015.0,518.6 1016.5,519.4 1018.1,521.0 1019.6,521.7 1021.1,522.2 1022.6,522.3 1024.1,522.6 1025.6,522.9 1027.1,522.3 1028.6,522.3 1030.1,522.2 1031.6,522.5 1033.1,522.1 1034.6,521.6 1036.1,521.0 1037.6,520.3 1039.1,519.6 1040.6,518.7 1042.1,517.9 1043.7,517.0 1045.2,516.8 1046.7,515.7 1048.2,514.6 1049.7,512.9 1051.2,511.8 1052.7,510.8 1054.2,510.5 1055.7,509.6 1057.2,508.7 1058.7,507.1 1060.2,506.2 1061.7,505.2 1063.2,503.3 1064.7,502.0 1066.2,500.5 1067.8,499.4 1069.3,497.6 1070.8,495.7 1072.3,493.2 1073.8,491.3 1075.3,489.5 1076.8,488.0 1078.3,486.5 1079.8,485.2 1081.3,484.2 1082.8,483.0 1084.3,481.8 1085.8,481.1 1087.3,479.9 1088.8,478.7 1090.3,476.7 1091.8,475.4 1093.4,474.0 1094.9,473.6 1096.4,472.3 1097.9,471.0 1099.4,469.8 1100.9,468.8 1102.4,467.9 1103.8,466.3 1105.2,465.6 1106.7,464.9 1108.1,465.4 1109.6,464.9 1111.2,463.9 1112.9,463.5 1114.4,463.3 1115.9,463.2 1117.5,463.2 1119.1,463.2 1120.7,463.2 1122.4,463.3 1124.1,463.4 1125.7,463.5 1127.4,463.5 1129.0,463.5 1130.6,463.5 1132.2,463.5 1133.8,463.5 1135.4,463.4 1137.0,463.4 1138.6,463.4 1140.2,463.4 1141.8,463.4 1143.5,463.5 1145.1,463.5 1146.7,463.6 1148.2,463.8 1149.8,463.9 1151.4,464.0 1152.9,464.2 1154.5,464.4 1156.1,464.7 1157.7,464.9 1159.4,465.2 1161.1,465.5 1162.6,465.9 1164.1,466.2 1165.6,466.6 1167.1,466.9 1168.7,467.4 1170.3,467.8 1171.8,468.2 1173.4,468.7 1175.1,469.2 1176.7,469.6 1178.3,470.1 1180.0,470.6 1181.4,471.0 1182.9,471.4 1184.4,471.8 1185.8,472.3 1187.3,472.7 1188.9,473.1 1190.4,473.6 1191.9,474.1 1193.4,474.5 1194.9,475.0 1196.5,475.4 1198.0,475.9 1199.5,476.3 1201.0,476.7 1202.5,477.2 1204.0,477.6 1205.4,478.1 1206.8,478.6 1208.3,479.0 1209.7,479.5 1211.1,479.9 1212.6,480.4 1214.1,480.8 1215.6,481.2 1217.1,481.6 1218.7,482.0 1220.3,482.3 1222.0,482.6 1223.4,482.8 1224.8,483.0 1226.3,483.2 1227.8,483.4 1229.3,483.6 1230.9,483.7 1232.5,483.8 1234.1,484.0 1235.7,484.1 1237.3,484.2 1238.9,484.3 1240.5,484.4 1242.0,484.5 1243.6,484.5 1245.1,484.6 1246.6,484.6 1248.0,484.7 1249.4,484.7 1251.0,484.8 1252.7,484.8 1254.2,484.9 1255.7,484.9 1257.2,484.9 1258.6,485.0 1260.0,484.9 1261.4,484.9 1262.8,484.9 1264.2,484.8 1265.7,484.7 1267.2,484.5 1268.8,484.3 1270.4,484.1 1271.8,483.9 1273.3,483.6 1274.8,483.3 1276.3,482.9 1277.9,482.6 1279.4,482.2 1281.0,481.8 1282.6,481.3 1284.2,480.9 1285.8,480.5 1287.4,480.0 1289.0,479.6 1290.7,479.1 1292.3,478.7 1294.0,478.2 1295.6,477.8 1297.1,477.4 1298.5,477.0 1300.1,476.6 1301.6,476.2 1303.1,475.8 1304.6,475.3 1306.2,474.9 1307.7,474.5 1309.3,474.1 1310.8,473.6 1312.3,473.2 1313.9,472.8 1315.4,472.4 1316.9,472.1 1318.5,471.7 1320.0,471.4 1321.4,471.1 1322.9,470.9 1324.6,470.6 1326.2,470.4 1327.8,470.1 1329.4,469.9 1331.0,469.8 1332.5,469.6 1334.1,469.5 1335.7,469.4 1337.2,469.2 1338.8,469.2 1340.3,469.1 1341.9,469.0 1343.4,469.0 1345.0,469.0 1346.6,469.0 1348.1,469.0 1349.7,469.0 1351.3,469.0 1352.8,469.1 1354.4,469.2 1355.9,469.2 1357.5,469.4 1359.1,469.5 1360.6,469.6 1362.2,469.8 1363.7,469.9 1365.3,470.1 1366.9,470.3 1368.5,470.5 1370.1,470.7 1371.7,470.9 1373.4,471.1 1374.8,471.3 1376.3,471.5 1377.7,471.7 1379.2,472.0 1380.7,472.2 1382.2,472.5 1383.6,472.8 1385.1,473.0 1386.6,473.3 1388.1,473.6 1389.7,473.9 1391.2,474.2 1392.7,474.4 1394.3,474.7 1395.9,475.0 1397.4,475.2 1399.1,475.5 1400.7,475.7 1402.1,475.9 1403.5,476.1 1405.0,476.3 1406.4,476.4 1407.9,476.6 1409.4,476.8 1410.9,477.0 1412.4,477.1 1413.9,477.3 1415.4,477.5 1416.9,477.6 1418.5,477.8 1420.0,477.9 1421.5,478.1 1423.1,478.2 1424.6,478.3 1426.1,478.5 1427.7,478.6 1429.2,478.7 1430.7,478.8 1432.2,478.8 1433.7,478.9 1435.3,479.0 1436.8,479.0 1438.4,479.1 1440.0,479.1 1441.6,479.1 1443.2,479.1 1444.8,479.1 1446.4,479.1 1448.0,479.1 1449.6,479.1 1451.2,479.1 1452.7,479.0 1454.2,479.0 1455.7,479.0 1457.2,479.0 1458.6,478.9 1459.9,478.9 1461.3,478.9 1462.5,478.9 1463.7,478.8 1465.9,478.8 1468.1,478.8 1470.1,478.7 1472.0,478.6 1473.8,478.6 1475.5,478.5 1477.0,478.4 1478.4,478.4 1479.6,478.3 1480.7,478.3 1481.6,478.2" fill="none" stroke="#0000ff" stroke-width="3.7" stroke-linejoin="miter" stroke-miterlimit="3"/>
<polyline clip-path="url(#c6)" points="1064.3,957.3 1065.7,938.5 1067.8,917.1 1069.3,908.9 1071.1,902.8 1072.8,897.1 1074.8,888.8 1076.8,881.2 1078.8,873.8 1080.8,866.6 1082.7,857.9 1084.8,848.7 1086.2,844.5 1087.7,841.0 1089.3,837.1 1090.8,833.1 1092.3,828.7 1093.7,824.6 1095.2,820.5 1096.9,816.9 1098.3,813.9 1099.9,811.0 1101.6,808.3 1103.3,805.6 1104.9,803.0 1106.4,799.8 1107.9,797.4 1109.4,795.1 1111.1,793.0 1112.9,790.6 1114.2,789.1 1115.6,787.5 1117.0,785.9 1118.5,784.3 1120.0,782.8 1121.6,781.3 1123.3,779.9 1125.0,778.6 1126.4,777.6 1127.9,776.6 1129.5,775.7 1131.1,774.8 1132.8,773.9 1134.4,773.1 1136.1,772.4 1137.8,771.7 1139.4,771.1 1141.0,770.5 1142.7,770.1 1144.3,769.7 1145.9,769.4 1147.5,769.1 1149.1,768.9 1150.7,768.8 1152.3,768.7 1153.9,768.6 1155.5,768.6 1157.1,768.5 1158.8,768.5 1160.5,768.6 1162.2,768.7 1164.0,768.9 1165.7,769.1 1167.4,769.3 1169.0,769.5 1170.6,769.7 1171.9,769.9 1173.2,770.1 1175.2,770.6 1176.3,771.0 1177.5,771.6 1180.0,772.5 1181.1,772.9 1182.3,773.4 1183.6,773.8 1185.0,774.3 1186.5,774.9 1188.0,775.5 1189.6,776.0 1191.3,776.6 1192.9,777.2 1194.6,777.8 1196.3,778.4 1197.9,778.9 1199.5,779.4 1201.0,779.9 1202.5,780.3 1204.0,780.8 1205.4,781.2 1206.8,781.6 1208.3,781.9 1209.7,782.3 1211.1,782.7 1212.6,783.0 1214.1,783.4 1215.6,783.7 1217.1,784.1 1218.7,784.4 1220.3,784.8 1222.0,785.2 1223.4,785.5 1224.8,785.8 1226.3,786.1 1227.8,786.4 1229.3,786.7 1230.9,787.1 1232.5,787.4 1234.1,787.7 1235.7,788.0 1237.3,788.4 1238.9,788.7 1240.5,789.0 1242.0,789.3 1243.6,789.5 1245.1,789.8 1246.6,790.0 1248.0,790.2 1249.4,790.4 1251.0,790.6 1252.7,790.8 1254.2,791.0 1255.7,791.1 1257.2,791.3 1258.6,791.4 1260.0,791.5 1261.4,791.5 1262.8,791.6 1264.2,791.6 1265.7,791.6 1267.2,791.6 1268.8,791.5 1270.4,791.5 1271.8,791.4 1273.3,791.3 1274.8,791.2 1276.3,791.1 1277.9,790.9 1279.4,790.8 1281.0,790.6 1282.6,790.4 1284.2,790.2 1285.8,790.0 1287.4,789.7 1289.0,789.5 1290.7,789.2 1292.3,788.9 1294.0,788.6 1295.6,788.3 1297.1,788.0 1298.5,787.7 1300.1,787.3 1301.6,786.9 1303.1,786.5 1304.6,786.1 1306.2,785.7 1307.7,785.2 1309.3,784.8 1310.8,784.3 1312.3,783.9 1313.9,783.4 1315.4,783.0 1316.9,782.5 1318.5,782.1 1320.0,781.7 1321.4,781.3 1322.9,780.9 1324.6,780.6 1326.2,780.2 1327.8,779.8 1329.4,779.4 1331.0,779.0 1332.5,778.7 1334.1,778.3 1335.7,778.0 1337.2,777.6 1338.8,777.3 1340.3,777.0 1341.9,776.7 1343.4,776.4 1345.0,776.2 1346.6,775.9 1348.1,775.7 1349.7,775.5 1351.3,775.3 1352.8,775.1 1354.4,775.0 1355.9,774.8 1357.5,774.7 1359.1,774.6 1360.6,774.5 1362.2,774.4 1363.7,774.3 1365.3,774.3 1366.9,774.2 1368.5,774.2 1370.1,774.2 1371.7,774.2 1373.4,774.2 1374.8,774.3 1376.3,774.3 1377.7,774.4 1379.2,774.5 1380.7,774.6 1382.2,774.7 1383.6,774.8 1385.1,775.0 1386.6,775.1 1388.1,775.3 1389.7,775.4 1391.2,775.6 1392.7,775.8 1394.3,776.0 1395.9,776.2 1397.4,776.4 1399.1,776.5 1400.7,776.7 1402.1,776.9 1403.6,777.1 1405.1,777.3 1406.6,777.5 1408.1,777.7 1409.7,777.9 1411.3,778.2 1412.9,778.4 1414.4,778.6 1416.0,778.9 1417.6,779.1 1419.2,779.3 1420.8,779.6 1422.3,779.8 1423.8,780.0 1425.3,780.3 1426.8,780.5 1428.2,780.7 1429.6,781.0 1430.9,781.2 1432.2,781.4 1434.0,781.7 1435.7,782.0 1437.3,782.3 1438.8,782.6 1440.2,782.9 1441.6,783.2 1442.9,783.5 1444.3,783.8 1445.6,784.0 1447.0,784.3 1448.4,784.5 1449.9,784.8 1451.5,785.0 1453.2,785.2 1454.7,785.3 1456.2,785.4 1457.9,785.5 1459.6,785.6 1461.4,785.7 1463.2,785.7 1465.0,785.8 1466.9,785.9 1468.7,785.9 1470.5,786.0 1472.3,786.0 1474.0,786.0 1475.6,786.1 1477.1,786.1 1478.4,786.1 1479.6,786.1 1480.7,786.2 1481.6,786.2" fill="none" stroke="#000000" stroke-width="3.3" stroke-linejoin="miter" stroke-miterlimit="3"/>
<polyline clip-path="url(#c6)" points="885.0,792.2 885.1,766.0 886.0,743.6 887.2,745.7 888.8,756.1 890.6,766.7 892.4,773.4 893.9,779.1 895.5,784.8 897.1,792.4 898.6,796.8 900.1,799.7 901.7,798.6 903.2,796.8 904.6,794.6 906.1,794.7 907.6,797.0 909.0,800.8 910.5,803.7 912.1,806.0 913.6,805.9 915.2,805.1 916.9,803.5 918.5,802.3 920.2,802.5 921.8,804.3 923.4,807.4 925.0,810.4 926.6,813.6 928.2,815.8 929.7,816.1 931.2,815.6 932.7,814.8 934.4,815.2 936.2,816.3 937.5,817.9 939.0,820.7 940.4,823.5 942.0,826.6 943.6,828.7 945.2,831.6 946.7,834.0 948.3,836.7 949.8,837.8 951.3,838.3 952.8,838.4 954.3,838.3 955.8,838.2 957.3,839.6 958.8,839.7 960.3,840.1 961.8,838.5 963.3,839.3 964.8,840.2 966.3,841.6 967.9,842.7 969.4,843.8 970.9,844.6 972.4,845.8 973.9,847.0 975.5,849.9 977.1,851.2 978.6,852.5 980.2,853.7 981.7,855.0 983.1,856.2 984.4,857.1 986.2,858.6 987.7,860.0 989.1,862.1 990.7,863.1 992.4,863.9 993.8,863.3 995.2,863.4 996.7,863.4 998.2,862.6 999.8,862.4 1001.4,862.3 1003.0,861.7 1004.5,861.8 1006.0,862.2 1007.5,862.8 1009.0,863.4 1010.5,864.1 1012.0,866.9 1013.5,867.4 1015.0,867.9 1016.5,865.9 1018.1,866.0 1019.6,865.9 1021.1,868.1 1022.6,867.8 1024.1,867.5 1025.6,867.1 1027.1,866.6 1028.6,866.2 1030.1,863.0 1031.7,862.3 1033.2,861.5 1034.7,862.4 1036.3,861.5 1037.8,860.7 1039.2,858.2 1040.6,857.6 1042.4,857.2 1044.1,857.4 1045.8,857.4 1047.4,857.4 1049.0,858.8 1050.7,857.8 1052.3,856.1 1054.0,853.5 1055.6,851.0 1057.2,848.3 1058.9,845.9 1060.7,843.5 1062.1,841.9 1063.6,838.8 1065.1,837.3 1066.6,835.8 1068.2,834.5 1069.7,833.0 1071.3,831.6 1072.8,831.0 1074.3,829.5 1075.8,828.0 1077.3,825.5 1078.8,824.0 1080.3,822.5 1081.8,821.2 1083.3,819.7 1084.8,818.0 1086.3,816.2 1087.8,814.4 1089.3,812.7 1090.8,811.2 1092.3,809.4 1093.9,807.6 1095.4,807.0 1096.9,805.3 1098.4,803.7 1099.9,802.2 1101.4,800.6 1102.9,799.1 1104.4,796.8 1105.9,795.4 1107.4,793.9 1108.9,793.5 1110.4,791.2 1111.9,789.9 1113.4,788.5 1114.9,787.2 1116.4,786.0 1118.0,784.8 1119.5,783.6 1121.0,782.6 1122.4,781.6 1123.9,780.7 1125.3,779.9 1126.7,779.1 1128.2,778.4 1129.7,777.8 1131.3,777.2 1133.0,776.6 1134.5,776.1 1136.0,775.7 1137.5,775.3 1139.1,774.9 1140.8,774.6 1142.5,774.2 1144.1,774.0 1145.8,773.7 1147.5,773.5 1149.1,773.3 1150.7,773.2 1152.3,773.2 1153.9,773.1 1155.6,773.1 1157.2,773.2 1158.8,773.2 1160.4,773.3 1162.0,773.5 1163.6,773.6 1165.1,773.8 1166.8,774.0 1168.4,774.2 1170.0,774.5 1171.5,774.8 1173.0,775.1 1174.6,775.5 1176.3,775.9 1178.1,776.2 1180.0,776.6 1181.3,776.8 1182.7,777.0 1184.1,777.2 1185.6,777.4 1187.1,777.6 1188.6,777.9 1190.1,778.1 1191.7,778.3 1193.3,778.5 1194.8,778.8 1196.4,779.0 1198.0,779.3 1199.5,779.6 1201.0,779.9 1202.5,780.2 1204.0,780.5 1205.4,780.9 1206.8,781.3 1208.3,781.6 1209.7,782.0 1211.1,782.4 1212.6,782.8 1214.1,783.2 1215.6,783.6 1217.1,784.0 1218.7,784.4 1220.3,784.8 1222.0,785.2 1223.4,785.5 1224.8,785.8 1226.3,786.1 1227.8,786.4 1229.3,786.7 1230.9,787.1 1232.5,787.4 1234.1,787.7 1235.7,788.0 1237.3,788.4 1238.9,788.7 1240.5,789.0 1242.0,789.3 1243.6,789.5 1245.1,789.8 1246.6,790.0 1248.0,790.2 1249.4,790.4 1251.0,790.6 1252.7,790.8 1254.2,791.0 1255.7,791.1 1257.2,791.3 1258.6,791.4 1260.0,791.5 1261.4,791.5 1262.8,791.6 1264.2,791.6 1265.7,791.6 1267.2,791.6 1268.8,791.5 1270.4,791.5 1271.8,791.4 1273.3,791.3 1274.8,791.2 1276.3,791.1 1277.9,790.9 1279.4,790.8 1281.0,790.6 1282.6,790.4 1284.2,790.2 1285.8,790.0 1287.4,789.7 1289.0,789.5 1290.7,789.2 1292.3,788.9 1294.0,788.6 1295.6,788.3 1297.1,788.0 1298.5,787.7 1300.1,787.3 1301.6,786.9 1303.1,786.5 1304.6,786.1 1306.2,785.7 1307.7,785.2 1309.3,784.8 1310.8,784.3 1312.3,783.9 1313.9,783.4 1315.4,783.0 1316.9,782.5 1318.5,782.1 1320.0,781.7 1321.4,781.3 1322.9,780.9 1324.6,780.6 1326.2,780.2 1327.8,779.8 1329.4,779.4 1331.0,779.0 1332.5,778.7 1334.1,778.3 1335.7,778.0 1337.2,777.6 1338.8,777.3 1340.3,777.0 1341.9,776.7 1343.4,776.4 1345.0,776.2 1346.6,775.9 1348.1,775.7 1349.7,775.5 1351.3,775.3 1352.8,775.1 1354.4,775.0 1355.9,774.8 1357.5,774.7 1359.1,774.6 1360.6,774.5 1362.2,774.4 1363.7,774.3 1365.3,774.3 1366.9,774.2 1368.5,774.2 1370.1,774.2 1371.7,774.2 1373.4,774.2 1374.8,774.3 1376.3,774.3 1377.7,774.4 1379.2,774.5 1380.7,774.6 1382.2,774.7 1383.6,774.8 1385.1,775.0 1386.6,775.1 1388.1,775.3 1389.7,775.4 1391.2,775.6 1392.7,775.8 1394.3,776.0 1395.9,776.2 1397.4,776.4 1399.1,776.5 1400.7,776.7 1402.1,776.9 1403.6,777.1 1405.1,777.3 1406.6,777.5 1408.1,777.7 1409.7,777.9 1411.3,778.2 1412.9,778.4 1414.4,778.6 1416.0,778.9 1417.6,779.1 1419.2,779.3 1420.8,779.6 1422.3,779.8 1423.8,780.0 1425.3,780.3 1426.8,780.5 1428.2,780.7 1429.6,781.0 1430.9,781.2 1432.2,781.4 1434.0,781.7 1435.7,782.0 1437.3,782.3 1438.8,782.6 1440.2,782.9 1441.6,783.2 1442.9,783.5 1444.3,783.8 1445.6,784.0 1447.0,784.3 1448.4,784.5 1449.9,784.8 1451.5,785.0 1453.2,785.2 1454.7,785.3 1456.2,785.4 1457.9,785.5 1459.6,785.6 1461.4,785.7 1463.2,785.7 1465.0,785.8 1466.9,785.9 1468.7,785.9 1470.5,786.0 1472.3,786.0 1474.0,786.0 1475.6,786.1 1477.1,786.1 1478.4,786.1 1479.6,786.1 1480.7,786.2 1481.6,786.2" fill="none" stroke="#ff0000" stroke-width="3.7" stroke-linejoin="miter" stroke-miterlimit="3"/>
<polyline clip-path="url(#c6)" points="888.0,777.1 889.7,770.5 892.0,765.3 893.4,766.7 894.8,770.1 896.4,773.0 898.1,774.7 899.5,774.0 901.0,771.4 902.7,768.9 904.3,766.9 906.1,766.0 907.6,766.6 909.2,767.9 910.9,769.8 912.6,771.9 914.3,774.1 916.1,775.8 917.6,777.2 919.0,778.6 920.5,781.4 922.0,782.9 923.6,784.4 925.1,784.4 926.7,786.0 928.2,787.6 929.7,791.1 931.2,793.0 932.7,794.9 934.2,795.6 935.7,797.5 937.2,799.3 938.7,801.3 940.2,802.7 941.7,803.8 943.3,804.6 944.8,805.3 946.3,805.8 947.8,806.5 949.3,807.1 950.8,807.9 952.3,807.7 953.8,808.9 955.3,810.2 956.8,813.3 958.3,814.9 959.8,816.5 961.3,817.4 962.8,819.0 964.3,820.7 965.8,821.8 967.3,823.7 968.9,825.6 970.4,828.1 971.9,830.0 973.4,831.7 974.9,832.8 976.4,834.2 977.9,835.3 979.4,836.2 980.9,836.9 982.4,837.5 983.9,837.8 985.4,838.4 986.9,839.0 988.4,840.7 989.9,841.6 991.4,842.7 993.0,842.9 994.5,844.0 996.0,845.1 997.5,847.0 999.0,847.9 1000.5,848.8 1002.0,849.6 1003.5,850.3 1005.0,850.8 1006.5,851.4 1008.0,851.8 1009.5,852.2 1011.0,852.2 1012.5,852.6 1014.0,853.0 1015.5,852.8 1017.0,853.2 1018.6,853.6 1020.1,854.9 1021.6,855.0 1023.1,855.1 1024.6,853.9 1026.1,853.5 1027.6,852.9 1029.1,852.8 1030.6,851.9 1032.1,851.0 1033.6,849.4 1035.1,848.6 1036.6,848.0 1038.1,848.1 1039.6,847.9 1041.1,847.8 1042.7,849.1 1044.2,849.0 1045.7,848.8 1047.2,846.6 1048.7,846.0 1050.2,845.1 1051.7,845.3 1053.2,844.1 1054.7,842.7 1056.2,840.3 1057.7,838.9 1059.2,837.5 1060.7,836.4 1062.2,835.2 1063.7,834.0 1065.2,833.2 1066.7,832.0 1068.3,830.8 1069.8,828.7 1071.3,827.4 1072.8,826.0 1074.3,825.0 1075.8,823.6 1077.3,822.1 1078.8,820.7 1080.3,819.1 1081.8,817.6 1083.3,815.6 1084.8,814.0 1086.3,812.5 1087.8,812.5 1089.3,811.0 1090.8,809.4 1092.3,806.7 1093.9,805.2 1095.4,803.7 1096.9,802.7 1098.4,801.2 1099.9,799.8 1101.4,798.6 1102.9,797.2 1104.4,795.8 1105.9,794.8 1107.4,793.5 1108.9,792.2 1110.4,790.3 1111.9,789.1 1113.4,787.8 1114.9,786.6 1116.4,785.4 1118.0,784.2 1119.5,783.2 1121.0,782.2 1122.4,781.3 1123.9,780.4 1125.3,779.7 1126.7,779.0 1128.2,778.3 1129.7,777.7 1131.3,777.1 1133.0,776.6 1134.5,776.2 1136.0,775.8 1137.5,775.4 1139.1,775.1 1140.8,774.8 1142.5,774.5 1144.1,774.3 1145.8,774.1 1147.5,773.9 1149.1,773.8 1150.7,773.7 1152.3,773.6 1153.9,773.6 1155.6,773.6 1157.2,773.6 1158.8,773.7 1160.4,773.8 1162.0,773.9 1163.6,774.0 1165.1,774.2 1166.8,774.3 1168.4,774.5 1170.0,774.8 1171.5,775.0 1173.0,775.3 1174.6,775.6 1176.3,775.9 1178.1,776.2 1180.0,776.6 1181.3,776.8 1182.7,777.0 1184.1,777.2 1185.6,777.4 1187.1,777.6 1188.6,777.8 1190.1,778.1 1191.7,778.3 1193.3,778.5 1194.8,778.8 1196.4,779.0 1198.0,779.3 1199.5,779.6 1201.0,779.9 1202.5,780.2 1204.0,780.5 1205.4,780.9 1206.8,781.3 1208.3,781.6 1209.7,782.0 1211.1,782.4 1212.6,782.8 1214.1,783.2 1215.6,783.6 1217.1,784.0 1218.7,784.4 1220.3,784.8 1222.0,785.2 1223.4,785.5 1224.8,785.8 1226.3,786.1 1227.8,786.4 1229.3,786.7 1230.9,787.1 1232.5,787.4 1234.1,787.7 1235.7,788.0 1237.3,788.4 1238.9,788.7 1240.5,789.0 1242.0,789.3 1243.6,789.5 1245.1,789.8 1246.6,790.0 1248.0,790.2 1249.4,790.4 1251.0,790.6 1252.7,790.8 1254.2,791.0 1255.7,791.1 1257.2,791.3 1258.6,791.4 1260.0,791.5 1261.4,791.5 1262.8,791.6 1264.2,791.6 1265.7,791.6 1267.2,791.6 1268.8,791.5 1270.4,791.5 1271.8,791.4 1273.3,791.3 1274.8,791.2 1276.3,791.1 1277.9,790.9 1279.4,790.8 1281.0,790.6 1282.6,790.4 1284.2,790.2 1285.8,790.0 1287.4,789.7 1289.0,789.5 1290.7,789.2 1292.3,788.9 1294.0,788.6 1295.6,788.3 1297.1,788.0 1298.5,787.7 1300.1,787.3 1301.6,786.9 1303.1,786.5 1304.6,786.1 1306.2,785.7 1307.7,785.2 1309.3,784.8 1310.8,784.3 1312.3,783.9 1313.9,783.4 1315.4,783.0 1316.9,782.5 1318.5,782.1 1320.0,781.7 1321.4,781.3 1322.9,780.9 1324.6,780.6 1326.2,780.2 1327.8,779.8 1329.4,779.4 1331.0,779.0 1332.5,778.7 1334.1,778.3 1335.7,778.0 1337.2,777.6 1338.8,777.3 1340.3,777.0 1341.9,776.7 1343.4,776.4 1345.0,776.2 1346.6,775.9 1348.1,775.7 1349.7,775.5 1351.3,775.3 1352.8,775.1 1354.4,775.0 1355.9,774.8 1357.5,774.7 1359.1,774.6 1360.6,774.5 1362.2,774.4 1363.7,774.3 1365.3,774.3 1366.9,774.2 1368.5,774.2 1370.1,774.2 1371.7,774.2 1373.4,774.2 1374.8,774.3 1376.3,774.3 1377.7,774.4 1379.2,774.5 1380.7,774.6 1382.2,774.7 1383.6,774.8 1385.1,775.0 1386.6,775.1 1388.1,775.3 1389.7,775.4 1391.2,775.6 1392.7,775.8 1394.3,776.0 1395.9,776.2 1397.4,776.4 1399.1,776.5 1400.7,776.7 1402.1,776.9 1403.6,777.1 1405.1,777.3 1406.6,777.5 1408.1,777.7 1409.7,777.9 1411.3,778.2 1412.9,778.4 1414.4,778.6 1416.0,778.9 1417.6,779.1 1419.2,779.3 1420.8,779.6 1422.3,779.8 1423.8,780.0 1425.3,780.3 1426.8,780.5 1428.2,780.7 1429.6,781.0 1430.9,781.2 1432.2,781.4 1434.0,781.7 1435.7,782.0 1437.3,782.3 1438.8,782.6 1440.2,782.9 1441.6,783.2 1442.9,783.5 1444.3,783.8 1445.6,784.0 1447.0,784.3 1448.4,784.5 1449.9,784.8 1451.5,785.0 1453.2,785.2 1454.7,785.3 1456.2,785.4 1457.9,785.5 1459.6,785.6 1461.4,785.7 1463.2,785.7 1465.0,785.8 1466.9,785.9 1468.7,785.9 1470.5,786.0 1472.3,786.0 1474.0,786.0 1475.6,786.1 1477.1,786.1 1478.4,786.1 1479.6,786.1 1480.7,786.2 1481.6,786.2" fill="none" stroke="#ff00ff" stroke-width="2.2" stroke-linejoin="miter" stroke-miterlimit="3"/>
<polyline clip-path="url(#c6)" points="888.0,756.0 889.1,753.6 890.7,750.0 892.4,747.6 894.1,746.7 895.4,749.2 896.7,753.7 898.2,758.8 900.1,762.6 901.3,762.8 902.7,763.5 904.2,763.9 905.7,765.5 907.3,765.7 909.0,766.0 910.6,765.5 912.1,766.2 913.6,767.2 915.1,769.1 916.6,770.3 918.2,771.5 919.7,771.9 921.2,773.3 922.7,774.7 924.2,776.7 925.7,778.1 927.2,779.6 928.7,781.6 930.2,783.1 931.7,784.7 933.2,785.8 934.7,787.3 936.2,788.8 937.7,789.4 939.2,790.9 940.7,792.5 942.2,795.2 943.8,796.7 945.3,798.2 946.8,798.7 948.3,800.1 949.8,801.5 951.3,802.6 952.8,803.9 954.3,805.1 955.8,807.6 957.3,808.8 958.8,810.0 960.3,810.1 961.8,811.4 963.3,812.6 964.8,814.0 966.3,815.2 967.9,816.4 969.4,817.2 970.9,818.5 972.4,819.8 973.9,822.9 975.4,824.5 976.9,826.1 978.4,827.2 979.9,828.8 981.4,830.3 982.9,831.3 984.4,832.6 985.9,833.6 987.4,834.7 988.9,835.5 990.4,836.2 991.9,837.0 993.5,837.6 995.0,838.2 996.5,838.6 998.0,839.2 999.5,839.7 1001.0,841.0 1002.5,841.5 1004.0,842.0 1005.5,841.8 1007.0,842.2 1008.5,842.7 1010.0,842.7 1011.5,843.2 1013.0,843.6 1014.5,844.9 1016.0,845.3 1017.6,845.6 1019.1,845.4 1020.6,845.6 1022.1,845.6 1023.6,845.2 1025.1,845.1 1026.6,844.9 1028.1,844.6 1029.6,844.4 1031.1,844.2 1032.6,845.5 1034.1,845.5 1035.6,845.7 1037.1,844.3 1038.6,844.5 1040.1,844.6 1041.6,846.5 1043.2,846.2 1044.7,845.8 1046.2,844.5 1047.7,843.5 1049.2,842.3 1050.7,840.9 1052.2,839.5 1053.7,838.0 1055.2,836.8 1056.7,835.5 1058.2,834.2 1059.7,831.9 1061.2,830.7 1062.7,829.4 1064.2,828.3 1065.7,827.1 1067.2,825.8 1068.8,824.8 1070.3,823.5 1071.8,822.2 1073.3,821.2 1074.8,819.8 1076.3,818.5 1077.8,815.7 1079.3,814.3 1080.8,812.9 1082.3,812.3 1083.8,810.9 1085.3,809.5 1086.8,807.3 1088.3,805.9 1089.8,804.6 1091.3,804.5 1092.9,803.1 1094.4,801.8 1095.9,799.4 1097.4,798.2 1098.9,796.9 1100.4,797.1 1101.9,795.9 1103.4,794.7 1104.9,792.6 1106.4,791.4 1107.8,790.2 1109.2,789.0 1110.7,787.9 1112.1,786.8 1113.7,785.7 1115.2,784.6 1116.9,783.6 1118.4,782.8 1119.9,782.0 1121.5,781.2 1123.1,780.4 1124.7,779.7 1126.4,779.0 1128.1,778.3 1129.7,777.7 1131.4,777.1 1133.0,776.6 1134.6,776.1 1136.2,775.7 1137.8,775.3 1139.4,775.0 1141.0,774.7 1142.7,774.4 1144.3,774.2 1145.9,774.0 1147.5,773.9 1149.1,773.8 1150.7,773.7 1152.3,773.6 1153.9,773.6 1155.6,773.6 1157.2,773.6 1158.8,773.7 1160.4,773.8 1162.0,773.9 1163.6,774.0 1165.1,774.2 1166.8,774.3 1168.4,774.5 1170.0,774.8 1171.5,775.0 1173.0,775.3 1174.6,775.6 1176.3,775.9 1178.1,776.2 1180.0,776.6 1181.3,776.8 1182.7,777.0 1184.1,777.2 1185.6,777.4 1187.1,777.6 1188.6,777.8 1190.1,778.1 1191.7,778.3 1193.3,778.5 1194.8,778.8 1196.4,779.0 1198.0,779.3 1199.5,779.6 1201.0,779.9 1202.5,780.2 1204.0,780.5 1205.4,780.9 1206.8,781.3 1208.3,781.6 1209.7,782.0 1211.1,782.4 1212.6,782.8 1214.1,783.2 1215.6,783.6 1217.1,784.0 1218.7,784.4 1220.3,784.8 1222.0,785.2 1223.4,785.5 1224.8,785.8 1226.3,786.1 1227.8,786.4 1229.3,786.7 1230.9,787.1 1232.5,787.4 1234.1,787.7 1235.7,788.0 1237.3,788.4 1238.9,788.7 1240.5,789.0 1242.0,789.3 1243.6,789.5 1245.1,789.8 1246.6,790.0 1248.0,790.2 1249.4,790.4 1251.0,790.6 1252.7,790.8 1254.2,791.0 1255.7,791.1 1257.2,791.3 1258.6,791.4 1260.0,791.5 1261.4,791.5 1262.8,791.6 1264.2,791.6 1265.7,791.6 1267.2,791.6 1268.8,791.5 1270.4,791.5 1271.8,791.4 1273.3,791.3 1274.8,791.2 1276.3,791.1 1277.9,790.9 1279.4,790.8 1281.0,790.6 1282.6,790.4 1284.2,790.2 1285.8,790.0 1287.4,789.7 1289.0,789.5 1290.7,789.2 1292.3,788.9 1294.0,788.6 1295.6,788.3 1297.1,788.0 1298.5,787.7 1300.1,787.3 1301.6,786.9 1303.1,786.5 1304.6,786.1 1306.2,785.7 1307.7,785.2 1309.3,784.8 1310.8,784.3 1312.3,783.9 1313.9,783.4 1315.4,783.0 1316.9,782.5 1318.5,782.1 1320.0,781.7 1321.4,781.3 1322.9,780.9 1324.6,780.6 1326.2,780.2 1327.8,779.8 1329.4,779.4 1331.0,779.0 1332.5,778.7 1334.1,778.3 1335.7,778.0 1337.2,777.6 1338.8,777.3 1340.3,777.0 1341.9,776.7 1343.4,776.4 1345.0,776.2 1346.6,775.9 1348.1,775.7 1349.7,775.5 1351.3,775.3 1352.8,775.1 1354.4,775.0 1355.9,774.8 1357.5,774.7 1359.1,774.6 1360.6,774.5 1362.2,774.4 1363.7,774.3 1365.3,774.3 1366.9,774.2 1368.5,774.2 1370.1,774.2 1371.7,774.2 1373.4,774.2 1374.8,774.3 1376.3,774.3 1377.7,774.4 1379.2,774.5 1380.7,774.6 1382.2,774.7 1383.6,774.8 1385.1,775.0 1386.6,775.1 1388.1,775.3 1389.7,775.4 1391.2,775.6 1392.7,775.8 1394.3,776.0 1395.9,776.2 1397.4,776.4 1399.1,776.5 1400.7,776.7 1402.1,776.9 1403.6,777.1 1405.1,777.3 1406.6,777.5 1408.1,777.7 1409.7,777.9 1411.3,778.2 1412.9,778.4 1414.4,778.6 1416.0,778.9 1417.6,779.1 1419.2,779.3 1420.8,779.6 1422.3,779.8 1423.8,780.0 1425.3,780.3 1426.8,780.5 1428.2,780.7 1429.6,781.0 1430.9,781.2 1432.2,781.4 1434.0,781.7 1435.7,782.0 1437.3,782.3 1438.8,782.6 1440.2,782.9 1441.6,783.2 1442.9,783.5 1444.3,783.8 1445.6,784.0 1447.0,784.3 1448.4,784.5 1449.9,784.8 1451.5,785.0 1453.2,785.2 1454.7,785.3 1456.2,785.4 1457.9,785.5 1459.6,785.6 1461.4,785.7 1463.2,785.7 1465.0,785.8 1466.9,785.9 1468.7,785.9 1470.5,786.0 1472.3,786.0 1474.0,786.0 1475.6,786.1 1477.1,786.1 1478.4,786.1 1479.6,786.1 1480.7,786.2 1481.6,786.2" fill="none" stroke="#ff00ff" stroke-width="2.2" stroke-linejoin="miter" stroke-miterlimit="3"/>
<polyline clip-path="url(#c6)" points="887.2,730.9 887.5,750.2 887.8,777.1 888.0,802.5 888.0,837.3 887.8,915.4 888.0,957.8 889.5,852.4 892.0,732.4 893.3,719.1 894.8,718.7 896.4,725.5 898.2,734.6 900.1,739.9 901.4,741.2 902.8,742.6 904.3,744.1 905.9,745.7 907.4,747.3 909.0,750.2 910.6,751.8 912.1,753.2 913.6,753.8 915.1,755.0 916.6,756.2 918.2,757.9 919.7,759.0 921.2,760.3 922.7,761.3 924.2,762.7 925.7,764.3 927.2,766.6 928.7,768.4 930.2,770.3 931.7,771.7 933.2,773.6 934.7,775.3 936.2,775.8 937.7,777.2 939.2,778.5 940.7,781.2 942.2,782.3 943.8,783.5 945.3,783.7 946.8,785.0 948.3,786.4 949.8,787.9 951.3,789.6 952.8,791.4 954.3,793.2 955.8,795.0 957.3,796.8 958.8,799.9 960.3,801.5 961.8,803.2 963.3,803.6 964.8,805.2 966.3,806.7 967.9,809.4 969.4,810.8 970.9,812.3 972.4,813.7 973.9,815.1 975.4,816.4 976.9,816.3 978.4,817.5 979.9,818.8 981.4,819.6 982.9,820.7 984.4,821.8 985.9,823.2 987.4,824.2 988.9,825.1 990.4,826.9 991.9,827.8 993.5,828.6 995.0,828.3 996.5,829.1 998.0,829.8 999.5,831.0 1001.0,831.7 1002.5,832.3 1004.0,833.6 1005.5,834.2 1007.0,834.8 1008.5,833.8 1010.0,834.4 1011.5,835.0 1013.0,836.4 1014.5,836.9 1016.0,837.4 1017.6,837.6 1019.1,838.0 1020.6,838.4 1022.1,838.4 1023.6,838.7 1025.1,838.9 1026.6,839.6 1028.1,839.7 1029.6,839.7 1031.1,839.7 1032.6,839.6 1034.1,839.5 1035.6,839.5 1037.1,839.2 1038.6,838.8 1040.1,838.4 1041.6,838.0 1043.2,837.5 1044.7,837.1 1046.2,836.5 1047.7,835.9 1049.2,835.6 1050.7,834.8 1052.2,834.0 1053.7,832.0 1055.2,831.1 1056.7,830.3 1058.2,829.8 1059.7,828.8 1061.2,827.9 1062.7,826.9 1064.2,825.9 1065.7,824.9 1067.2,823.0 1068.8,821.9 1070.3,820.8 1071.8,821.3 1073.3,820.1 1074.8,818.8 1076.3,816.3 1077.8,815.0 1079.3,813.7 1080.8,813.0 1082.3,811.7 1083.8,810.4 1085.3,808.0 1086.8,806.7 1088.3,805.4 1089.8,804.1 1091.3,802.8 1092.9,801.5 1094.4,801.6 1095.9,800.4 1097.4,799.2 1098.9,798.3 1100.4,797.1 1101.9,795.9 1103.4,794.4 1104.9,793.3 1106.4,792.1 1107.8,791.1 1109.2,789.9 1110.7,787.9 1112.1,786.8 1113.7,785.7 1115.2,784.6 1116.9,783.6 1118.4,782.8 1119.9,782.0 1121.5,781.2 1123.1,780.4 1124.7,779.7 1126.4,779.0 1128.1,778.3 1129.7,777.7 1131.4,777.1 1133.0,776.6 1134.6,776.1 1136.2,775.7 1137.8,775.3 1139.4,775.0 1141.0,774.7 1142.7,774.4 1144.3,774.2 1145.9,774.0 1147.5,773.9 1149.1,773.8 1150.7,773.7 1152.3,773.6 1153.9,773.6 1155.6,773.6 1157.2,773.6 1158.8,773.7 1160.4,773.8 1162.0,773.9 1163.6,774.0 1165.1,774.2 1166.8,774.3 1168.4,774.5 1170.0,774.8 1171.5,775.0 1173.0,775.3 1174.6,775.6 1176.3,775.9 1178.1,776.2 1180.0,776.6 1181.3,776.8 1182.7,777.0 1184.1,777.2 1185.6,777.4 1187.1,777.6 1188.6,777.8 1190.1,778.1 1191.7,778.3 1193.3,778.5 1194.8,778.8 1196.4,779.0 1198.0,779.3 1199.5,779.6 1201.0,779.9 1202.5,780.2 1204.0,780.5 1205.4,780.9 1206.8,781.3 1208.3,781.6 1209.7,782.0 1211.1,782.4 1212.6,782.8 1214.1,783.2 1215.6,783.6 1217.1,784.0 1218.7,784.4 1220.3,784.8 1222.0,785.2 1223.4,785.5 1224.8,785.8 1226.3,786.1 1227.8,786.4 1229.3,786.7 1230.9,787.1 1232.5,787.4 1234.1,787.7 1235.7,788.0 1237.3,788.4 1238.9,788.7 1240.5,789.0 1242.0,789.3 1243.6,789.5 1245.1,789.8 1246.6,790.0 1248.0,790.2 1249.4,790.4 1251.0,790.6 1252.7,790.8 1254.2,791.0 1255.7,791.1 1257.2,791.3 1258.6,791.4 1260.0,791.5 1261.4,791.5 1262.8,791.6 1264.2,791.6 1265.7,791.6 1267.2,791.6 1268.8,791.5 1270.4,791.5 1271.8,791.4 1273.3,791.3 1274.8,791.2 1276.3,791.1 1277.9,790.9 1279.4,790.8 1281.0,790.6 1282.6,790.4 1284.2,790.2 1285.8,790.0 1287.4,789.7 1289.0,789.5 1290.7,789.2 1292.3,788.9 1294.0,788.6 1295.6,788.3 1297.1,788.0 1298.5,787.7 1300.1,787.3 1301.6,786.9 1303.1,786.5 1304.6,786.1 1306.2,785.7 1307.7,785.2 1309.3,784.8 1310.8,784.3 1312.3,783.9 1313.9,783.4 1315.4,783.0 1316.9,782.5 1318.5,782.1 1320.0,781.7 1321.4,781.3 1322.9,780.9 1324.6,780.6 1326.2,780.2 1327.8,779.8 1329.4,779.4 1331.0,779.0 1332.5,778.7 1334.1,778.3 1335.7,778.0 1337.2,777.6 1338.8,777.3 1340.3,777.0 1341.9,776.7 1343.4,776.4 1345.0,776.2 1346.6,775.9 1348.1,775.7 1349.7,775.5 1351.3,775.3 1352.8,775.1 1354.4,775.0 1355.9,774.8 1357.5,774.7 1359.1,774.6 1360.6,774.5 1362.2,774.4 1363.7,774.3 1365.3,774.3 1366.9,774.2 1368.5,774.2 1370.1,774.2 1371.7,774.2 1373.4,774.2 1374.8,774.3 1376.3,774.3 1377.7,774.4 1379.2,774.5 1380.7,774.6 1382.2,774.7 1383.6,774.8 1385.1,775.0 1386.6,775.1 1388.1,775.3 1389.7,775.4 1391.2,775.6 1392.7,775.8 1394.3,776.0 1395.9,776.2 1397.4,776.4 1399.1,776.5 1400.7,776.7 1402.1,776.9 1403.6,777.1 1405.1,777.3 1406.6,777.5 1408.1,777.7 1409.7,777.9 1411.3,778.2 1412.9,778.4 1414.4,778.6 1416.0,778.9 1417.6,779.1 1419.2,779.3 1420.8,779.6 1422.3,779.8 1423.8,780.0 1425.3,780.3 1426.8,780.5 1428.2,780.7 1429.6,781.0 1430.9,781.2 1432.2,781.4 1434.0,781.7 1435.7,782.0 1437.3,782.3 1438.8,782.6 1440.2,782.9 1441.6,783.2 1442.9,783.5 1444.3,783.8 1445.6,784.0 1447.0,784.3 1448.4,784.5 1449.9,784.8 1451.5,785.0 1453.2,785.2 1454.7,785.3 1456.2,785.4 1457.9,785.5 1459.6,785.6 1461.4,785.7 1463.2,785.7 1465.0,785.8 1466.9,785.9 1468.7,785.9 1470.5,786.0 1472.3,786.0 1474.0,786.0 1475.6,786.1 1477.1,786.1 1478.4,786.1 1479.6,786.1 1480.7,786.2 1481.6,786.2" fill="none" stroke="#ff00ff" stroke-width="2.2" stroke-linejoin="miter" stroke-miterlimit="3"/>
<polyline clip-path="url(#c6)" points="884.0,706.0 885.1,707.4 886.7,709.4 888.4,710.3 890.3,712.9 892.0,715.8 893.7,719.0 895.4,723.0 897.0,728.3 898.6,731.5 900.1,733.3 901.7,731.1 903.2,728.2 904.6,725.2 906.1,723.7 907.5,724.5 908.7,726.5 910.2,729.7 912.1,732.4 913.3,733.7 914.7,735.6 916.2,737.1 917.8,738.7 919.4,740.1 921.0,741.7 922.6,743.3 924.2,744.2 925.7,745.7 927.2,747.2 928.7,748.8 930.2,750.3 931.7,751.8 933.2,753.4 934.7,754.9 936.2,756.4 937.7,757.3 939.2,758.7 940.7,760.0 942.2,762.0 943.8,763.4 945.3,764.9 946.8,767.4 948.3,769.2 949.8,771.2 951.3,772.4 952.8,774.8 954.3,777.3 955.8,780.9 957.3,783.2 958.8,785.4 960.3,786.2 961.8,787.8 963.3,789.2 964.8,791.0 966.3,792.1 967.9,793.2 969.4,793.5 970.9,794.7 972.4,796.0 973.9,798.1 975.4,799.6 976.9,801.2 978.4,802.3 979.9,803.9 981.4,805.4 982.9,807.3 984.4,808.6 985.9,809.8 987.4,811.0 988.9,812.1 990.4,813.1 991.9,814.1 993.5,815.0 995.0,815.9 996.5,817.1 998.0,817.9 999.5,818.7 1001.0,818.4 1002.5,819.1 1004.0,819.8 1005.5,820.7 1007.0,821.4 1008.5,822.2 1010.1,823.6 1011.7,824.4 1013.4,825.2 1015.0,826.6 1016.6,827.4 1018.1,828.1 1019.4,828.9 1020.6,829.6 1022.8,832.3 1024.6,832.2 1025.9,831.5 1027.5,830.1 1029.2,829.3 1030.9,827.9 1032.6,827.0 1034.2,826.1 1035.9,826.3 1037.6,826.9 1039.2,827.6 1040.6,828.4 1042.2,829.8 1043.5,831.7 1044.9,833.2 1046.7,833.4 1048.1,833.3 1049.6,831.5 1051.3,829.2 1053.1,825.6 1054.9,823.5 1056.7,823.5 1058.1,822.8 1059.6,822.5 1061.1,821.7 1062.6,821.6 1064.1,821.6 1065.7,822.0 1067.2,821.8 1068.8,821.3 1070.3,819.7 1071.8,818.8 1073.3,817.9 1074.8,816.7 1076.3,815.6 1077.8,814.5 1079.3,814.4 1080.8,813.3 1082.3,812.1 1083.8,810.1 1085.3,808.8 1086.8,807.5 1088.3,806.4 1089.8,805.1 1091.3,803.9 1092.9,802.6 1094.4,801.5 1095.9,800.4 1097.4,799.7 1098.9,798.8 1100.4,797.8 1101.9,797.0 1103.4,796.0 1104.9,795.0 1106.4,794.2 1107.9,793.0 1109.4,791.8 1110.9,790.0 1112.4,788.8 1113.9,787.7 1115.4,786.6 1116.9,785.6 1118.4,784.7 1119.9,783.8 1121.3,783.0 1122.7,782.3 1124.2,781.6 1125.7,780.9 1127.3,780.2 1129.0,779.6 1130.4,779.1 1132.0,778.6 1133.5,778.1 1135.1,777.6 1136.8,777.2 1138.4,776.8 1140.1,776.4 1141.8,776.1 1143.4,775.8 1145.1,775.6 1146.7,775.4 1148.2,775.3 1149.8,775.2 1151.4,775.2 1152.9,775.2 1154.5,775.3 1156.1,775.4 1157.7,775.4 1159.4,775.5 1161.1,775.6 1162.6,775.6 1164.1,775.6 1165.6,775.7 1167.1,775.7 1168.7,775.8 1170.3,775.9 1171.8,775.9 1173.4,776.0 1175.1,776.1 1176.7,776.2 1178.3,776.4 1180.0,776.6 1181.4,776.7 1182.9,776.9 1184.4,777.1 1185.8,777.3 1187.3,777.5 1188.9,777.7 1190.4,778.0 1191.9,778.2 1193.4,778.5 1194.9,778.7 1196.5,779.0 1198.0,779.3 1199.5,779.6 1201.0,779.9 1202.5,780.2 1204.0,780.5 1205.4,780.9 1206.8,781.3 1208.3,781.6 1209.7,782.0 1211.1,782.4 1212.6,782.8 1214.1,783.2 1215.6,783.6 1217.1,784.0 1218.7,784.4 1220.3,784.8 1222.0,785.2 1223.4,785.5 1224.8,785.8 1226.3,786.1 1227.8,786.4 1229.3,786.7 1230.9,787.1 1232.5,787.4 1234.1,787.7 1235.7,788.0 1237.3,788.4 1238.9,788.7 1240.5,789.0 1242.0,789.3 1243.6,789.5 1245.1,789.8 1246.6,790.0 1248.0,790.2 1249.4,790.4 1251.0,790.6 1252.7,790.8 1254.2,791.0 1255.7,791.1 1257.2,791.3 1258.6,791.4 1260.0,791.5 1261.4,791.5 1262.8,791.6 1264.2,791.6 1265.7,791.6 1267.2,791.6 1268.8,791.5 1270.4,791.5 1271.8,791.4 1273.3,791.3 1274.8,791.2 1276.3,791.1 1277.9,790.9 1279.4,790.8 1281.0,790.6 1282.6,790.4 1284.2,790.2 1285.8,790.0 1287.4,789.7 1289.0,789.5 1290.7,789.2 1292.3,788.9 1294.0,788.6 1295.6,788.3 1297.1,788.0 1298.5,787.7 1300.1,787.3 1301.6,786.9 1303.1,786.5 1304.6,786.1 1306.2,785.7 1307.7,785.2 1309.3,784.8 1310.8,784.3 1312.3,783.9 1313.9,783.4 1315.4,783.0 1316.9,782.5 1318.5,782.1 1320.0,781.7 1321.4,781.3 1322.9,780.9 1324.6,780.6 1326.2,780.2 1327.8,779.8 1329.4,779.4 1331.0,779.0 1332.5,778.7 1334.1,778.3 1335.7,778.0 1337.2,777.6 1338.8,777.3 1340.3,777.0 1341.9,776.7 1343.4,776.4 1345.0,776.2 1346.6,775.9 1348.1,775.7 1349.7,775.5 1351.3,775.3 1352.8,775.1 1354.4,775.0 1355.9,774.8 1357.5,774.7 1359.1,774.6 1360.6,774.5 1362.2,774.4 1363.7,774.3 1365.3,774.3 1366.9,774.2 1368.5,774.2 1370.1,774.2 1371.7,774.2 1373.4,774.2 1374.8,774.3 1376.3,774.3 1377.7,774.4 1379.2,774.5 1380.7,774.6 1382.2,774.7 1383.6,774.8 1385.1,775.0 1386.6,775.1 1388.1,775.3 1389.7,775.4 1391.2,775.6 1392.7,775.8 1394.3,776.0 1395.9,776.2 1397.4,776.4 1399.1,776.5 1400.7,776.7 1402.1,776.9 1403.6,777.1 1405.1,777.3 1406.6,777.5 1408.1,777.7 1409.7,777.9 1411.3,778.2 1412.9,778.4 1414.4,778.6 1416.0,778.9 1417.6,779.1 1419.2,779.3 1420.8,779.6 1422.3,779.8 1423.8,780.0 1425.3,780.3 1426.8,780.5 1428.2,780.7 1429.6,781.0 1430.9,781.2 1432.2,781.4 1434.0,781.7 1435.7,782.0 1437.3,782.3 1438.8,782.6 1440.2,782.9 1441.6,783.2 1442.9,783.5 1444.3,783.8 1445.6,784.0 1447.0,784.3 1448.4,784.5 1449.9,784.8 1451.5,785.0 1453.2,785.2 1454.7,785.3 1456.2,785.4 1457.9,785.5 1459.6,785.6 1461.4,785.7 1463.2,785.7 1465.0,785.8 1466.9,785.9 1468.7,785.9 1470.5,786.0 1472.3,786.0 1474.0,786.0 1475.6,786.1 1477.1,786.1 1478.4,786.1 1479.6,786.1 1480.7,786.2 1481.6,786.2" fill="none" stroke="#0000ff" stroke-width="3.7" stroke-linejoin="miter" stroke-miterlimit="3"/>
<polyline clip-path="url(#c7)" points="1064.3,1263.6 1065.7,1244.8 1067.8,1223.4 1069.3,1215.0 1071.1,1208.9 1072.8,1203.3 1074.8,1194.7 1076.8,1187.0 1078.8,1180.1 1080.8,1172.9 1082.7,1163.7 1084.8,1154.6 1086.2,1150.4 1087.7,1147.0 1089.3,1143.0 1090.8,1139.1 1092.3,1134.5 1093.7,1130.4 1095.2,1126.4 1096.9,1122.9 1098.3,1119.9 1099.9,1117.0 1101.6,1114.1 1103.3,1111.4 1104.9,1108.7 1106.4,1106.0 1107.9,1103.5 1109.4,1101.2 1111.1,1099.0 1112.9,1096.6 1114.2,1095.1 1115.6,1093.5 1117.0,1091.9 1118.5,1090.3 1120.0,1088.8 1121.6,1087.3 1123.3,1085.9 1125.0,1084.6 1126.4,1083.6 1127.9,1082.6 1129.5,1081.7 1131.1,1080.8 1132.8,1079.9 1134.4,1079.1 1136.1,1078.4 1137.8,1077.7 1139.4,1077.1 1141.0,1076.5 1142.7,1076.1 1144.3,1075.7 1145.9,1075.4 1147.5,1075.1 1149.1,1074.9 1150.7,1074.8 1152.3,1074.7 1153.9,1074.6 1155.5,1074.6 1157.1,1074.5 1158.8,1074.5 1160.5,1074.6 1162.2,1074.7 1164.0,1074.9 1165.7,1075.1 1167.4,1075.3 1169.0,1075.5 1170.6,1075.7 1171.9,1075.9 1173.2,1076.1 1175.2,1076.5 1176.3,1076.9 1177.5,1077.4 1180.0,1078.5 1181.1,1079.0 1182.3,1079.6 1183.6,1080.2 1185.0,1080.9 1186.5,1081.6 1188.0,1082.4 1189.6,1083.2 1191.3,1083.9 1192.9,1084.7 1194.6,1085.5 1196.3,1086.2 1197.9,1086.9 1199.5,1087.5 1201.0,1088.0 1202.5,1088.5 1204.0,1088.9 1205.4,1089.2 1206.8,1089.6 1208.3,1089.9 1209.7,1090.2 1211.1,1090.4 1212.6,1090.7 1214.1,1090.9 1215.6,1091.2 1217.1,1091.4 1218.7,1091.6 1220.3,1091.9 1222.0,1092.2 1223.4,1092.4 1224.8,1092.7 1226.3,1092.9 1227.8,1093.2 1229.3,1093.5 1230.9,1093.7 1232.5,1094.0 1234.1,1094.3 1235.7,1094.5 1237.3,1094.8 1238.9,1095.0 1240.5,1095.3 1242.0,1095.5 1243.6,1095.7 1245.1,1095.9 1246.6,1096.1 1248.0,1096.3 1249.4,1096.4 1251.0,1096.6 1252.7,1096.7 1254.2,1096.9 1255.7,1097.0 1257.2,1097.1 1258.6,1097.2 1260.0,1097.2 1261.4,1097.3 1262.8,1097.3 1264.2,1097.3 1265.7,1097.3 1267.2,1097.2 1268.8,1097.1 1270.4,1097.0 1271.8,1096.9 1273.3,1096.8 1274.8,1096.6 1276.3,1096.5 1277.9,1096.3 1279.4,1096.1 1281.0,1095.8 1282.6,1095.6 1284.2,1095.4 1285.8,1095.1 1287.4,1094.8 1289.0,1094.5 1290.7,1094.2 1292.3,1093.9 1294.0,1093.6 1295.6,1093.3 1297.1,1093.0 1298.5,1092.6 1300.1,1092.3 1301.6,1091.9 1303.1,1091.5 1304.6,1091.2 1306.2,1090.8 1307.7,1090.4 1309.3,1090.0 1310.8,1089.6 1312.3,1089.1 1313.9,1088.7 1315.4,1088.3 1316.9,1088.0 1318.5,1087.6 1320.0,1087.2 1321.4,1086.9 1322.9,1086.5 1324.6,1086.2 1326.2,1085.8 1327.8,1085.5 1329.4,1085.1 1331.0,1084.8 1332.5,1084.4 1334.1,1084.1 1335.7,1083.8 1337.2,1083.5 1338.8,1083.2 1340.3,1082.9 1341.9,1082.6 1343.4,1082.4 1345.0,1082.1 1346.6,1081.9 1348.1,1081.7 1349.7,1081.5 1351.3,1081.3 1352.8,1081.1 1354.4,1081.0 1355.9,1080.8 1357.5,1080.7 1359.1,1080.6 1360.6,1080.5 1362.2,1080.4 1363.7,1080.3 1365.3,1080.2 1366.9,1080.2 1368.5,1080.2 1370.1,1080.2 1371.7,1080.2 1373.4,1080.2 1374.8,1080.3 1376.3,1080.3 1377.7,1080.4 1379.2,1080.6 1380.7,1080.7 1382.2,1080.8 1383.6,1081.0 1385.1,1081.1 1386.6,1081.3 1388.1,1081.5 1389.7,1081.7 1391.2,1081.9 1392.7,1082.1 1394.3,1082.3 1395.9,1082.5 1397.4,1082.8 1399.1,1083.0 1400.7,1083.2 1402.1,1083.3 1403.6,1083.5 1405.1,1083.7 1406.6,1083.9 1408.1,1084.1 1409.7,1084.4 1411.3,1084.6 1412.9,1084.8 1414.4,1085.0 1416.0,1085.2 1417.6,1085.5 1419.2,1085.7 1420.8,1085.9 1422.3,1086.1 1423.8,1086.4 1425.3,1086.6 1426.8,1086.8 1428.2,1087.0 1429.6,1087.2 1430.9,1087.4 1432.2,1087.6 1434.0,1087.8 1435.7,1088.1 1437.3,1088.4 1438.8,1088.6 1440.2,1088.9 1441.6,1089.1 1442.9,1089.3 1444.3,1089.5 1445.6,1089.8 1447.0,1090.0 1448.4,1090.2 1449.9,1090.4 1451.5,1090.5 1453.2,1090.7 1454.7,1090.9 1456.2,1091.0 1457.9,1091.1 1459.6,1091.3 1461.4,1091.4 1463.2,1091.5 1465.0,1091.6 1466.9,1091.8 1468.7,1091.9 1470.5,1092.0 1472.3,1092.1 1474.0,1092.2 1475.6,1092.3 1477.1,1092.4 1478.4,1092.4 1479.6,1092.5 1480.7,1092.6 1481.6,1092.6" fill="none" stroke="#000000" stroke-width="3.3" stroke-linejoin="miter" stroke-miterlimit="3"/>
<polyline clip-path="url(#c7)" points="886.0,1091.3 886.5,1071.1 887.2,1057.2 887.9,1079.9 889.0,1107.4 890.4,1111.2 892.2,1111.6 894.1,1111.8 895.5,1108.1 897.0,1102.1 898.6,1096.4 900.1,1093.6 901.6,1095.2 903.1,1097.8 904.6,1102.7 906.1,1105.8 907.6,1106.2 909.0,1104.8 910.5,1103.6 912.1,1104.7 913.6,1107.2 915.3,1111.1 917.0,1115.7 918.7,1119.3 920.2,1121.1 921.8,1118.8 923.3,1115.4 924.7,1111.7 926.2,1111.7 927.7,1112.4 929.2,1114.3 930.7,1116.5 932.2,1119.2 933.7,1122.4 935.2,1126.4 936.7,1129.7 938.2,1131.6 939.7,1130.6 941.1,1128.1 942.6,1125.7 944.3,1125.3 945.7,1127.6 947.3,1131.4 949.0,1136.6 950.7,1140.9 952.3,1144.1 953.9,1145.3 955.6,1146.4 957.3,1147.2 958.8,1148.7 960.3,1150.1 961.9,1153.1 963.3,1154.7 964.7,1158.1 966.3,1160.0 967.8,1159.6 969.4,1158.0 971.1,1155.9 972.7,1155.9 974.4,1155.5 976.0,1157.0 977.7,1158.4 979.3,1161.6 980.9,1164.5 982.4,1166.7 984.0,1166.7 985.4,1165.2 986.8,1163.8 988.4,1163.0 989.9,1163.2 991.4,1164.7 993.0,1165.6 994.7,1166.7 996.5,1166.8 998.0,1167.8 999.7,1169.1 1001.4,1171.8 1003.1,1173.0 1004.8,1173.8 1006.5,1172.1 1008.2,1171.6 1009.9,1170.6 1011.7,1168.9 1013.3,1167.4 1015.0,1166.3 1016.5,1168.0 1018.2,1168.3 1019.7,1169.3 1021.2,1170.2 1022.7,1171.2 1024.6,1171.6 1025.9,1170.4 1027.4,1169.8 1028.9,1168.9 1030.5,1168.4 1032.1,1167.4 1033.7,1166.5 1035.2,1165.9 1036.6,1165.4 1038.4,1165.2 1040.2,1166.1 1041.9,1166.5 1043.5,1166.8 1045.1,1165.8 1046.7,1165.2 1048.4,1163.4 1049.9,1159.6 1051.4,1156.8 1053.0,1154.0 1054.7,1153.1 1056.2,1151.9 1057.8,1150.9 1059.5,1149.9 1061.2,1149.1 1062.9,1148.2 1064.7,1146.3 1066.1,1145.1 1067.6,1143.7 1069.1,1143.6 1070.6,1142.0 1072.2,1140.4 1073.7,1138.4 1075.3,1136.8 1076.8,1135.2 1078.3,1132.3 1079.8,1130.9 1081.3,1129.4 1082.8,1128.1 1084.3,1126.6 1085.8,1125.1 1087.3,1125.6 1088.8,1124.0 1090.3,1122.3 1091.8,1118.5 1093.4,1116.7 1094.9,1114.9 1096.4,1114.0 1097.9,1112.2 1099.4,1110.5 1100.9,1109.5 1102.4,1108.0 1103.9,1106.5 1105.4,1104.8 1106.9,1103.4 1108.4,1102.1 1109.9,1099.7 1111.4,1098.9 1112.9,1097.6 1114.4,1096.3 1115.8,1094.9 1117.3,1093.6 1118.7,1092.2 1120.2,1090.9 1121.7,1089.7 1123.3,1088.6 1125.0,1087.6 1126.4,1086.9 1127.9,1086.2 1129.5,1085.6 1131.1,1085.0 1132.8,1084.5 1134.4,1084.1 1136.1,1083.7 1137.8,1083.3 1139.4,1082.9 1141.0,1082.6 1142.7,1082.3 1144.3,1082.0 1145.9,1081.7 1147.5,1081.5 1149.1,1081.4 1150.7,1081.2 1152.3,1081.1 1153.9,1081.0 1155.5,1081.0 1157.1,1081.0 1158.8,1081.0 1160.5,1081.0 1162.2,1081.1 1164.0,1081.3 1165.7,1081.4 1167.4,1081.6 1169.0,1081.7 1170.6,1081.9 1171.9,1082.0 1173.2,1082.2 1175.2,1082.3 1176.3,1082.3 1177.5,1082.5 1180.0,1083.0 1181.1,1083.2 1182.3,1083.5 1183.6,1083.8 1185.0,1084.1 1186.5,1084.5 1188.0,1084.9 1189.6,1085.3 1191.3,1085.7 1192.9,1086.1 1194.6,1086.5 1196.3,1086.9 1197.9,1087.3 1199.5,1087.7 1201.0,1088.0 1202.5,1088.3 1204.0,1088.6 1205.4,1089.0 1206.8,1089.3 1208.3,1089.6 1209.7,1089.9 1211.1,1090.2 1212.6,1090.4 1214.1,1090.7 1215.6,1091.0 1217.1,1091.3 1218.7,1091.6 1220.3,1091.9 1222.0,1092.2 1223.4,1092.4 1224.8,1092.7 1226.3,1092.9 1227.8,1093.2 1229.3,1093.5 1230.9,1093.7 1232.5,1094.0 1234.1,1094.3 1235.7,1094.5 1237.3,1094.8 1238.9,1095.0 1240.5,1095.3 1242.0,1095.5 1243.6,1095.7 1245.1,1095.9 1246.6,1096.1 1248.0,1096.3 1249.4,1096.4 1251.0,1096.6 1252.7,1096.7 1254.2,1096.9 1255.7,1097.0 1257.2,1097.1 1258.6,1097.2 1260.0,1097.2 1261.4,1097.3 1262.8,1097.3 1264.2,1097.3 1265.7,1097.3 1267.2,1097.2 1268.8,1097.1 1270.4,1097.0 1271.8,1096.9 1273.3,1096.8 1274.8,1096.6 1276.3,1096.5 1277.9,1096.3 1279.4,1096.1 1281.0,1095.8 1282.6,1095.6 1284.2,1095.4 1285.8,1095.1 1287.4,1094.8 1289.0,1094.5 1290.7,1094.2 1292.3,1093.9 1294.0,1093.6 1295.6,1093.3 1297.1,1093.0 1298.5,1092.6 1300.1,1092.3 1301.6,1091.9 1303.1,1091.5 1304.6,1091.2 1306.2,1090.8 1307.7,1090.4 1309.3,1090.0 1310.8,1089.6 1312.3,1089.1 1313.9,1088.7 1315.4,1088.3 1316.9,1088.0 1318.5,1087.6 1320.0,1087.2 1321.4,1086.9 1322.9,1086.5 1324.6,1086.2 1326.2,1085.8 1327.8,1085.5 1329.4,1085.1 1331.0,1084.8 1332.5,1084.4 1334.1,1084.1 1335.7,1083.8 1337.2,1083.5 1338.8,1083.2 1340.3,1082.9 1341.9,1082.6 1343.4,1082.4 1345.0,1082.1 1346.6,1081.9 1348.1,1081.7 1349.7,1081.5 1351.3,1081.3 1352.8,1081.1 1354.4,1081.0 1355.9,1080.8 1357.5,1080.7 1359.1,1080.6 1360.6,1080.5 1362.2,1080.4 1363.7,1080.3 1365.3,1080.2 1366.9,1080.2 1368.5,1080.2 1370.1,1080.2 1371.7,1080.2 1373.4,1080.2 1374.8,1080.3 1376.3,1080.3 1377.7,1080.4 1379.2,1080.6 1380.7,1080.7 1382.2,1080.8 1383.6,1081.0 1385.1,1081.1 1386.6,1081.3 1388.1,1081.5 1389.7,1081.7 1391.2,1081.9 1392.7,1082.1 1394.3,1082.3 1395.9,1082.5 1397.4,1082.8 1399.1,1083.0 1400.7,1083.2 1402.1,1083.3 1403.6,1083.5 1405.1,1083.7 1406.6,1083.9 1408.1,1084.1 1409.7,1084.4 1411.3,1084.6 1412.9,1084.8 1414.4,1085.0 1416.0,1085.2 1417.6,1085.5 1419.2,1085.7 1420.8,1085.9 1422.3,1086.1 1423.8,1086.4 1425.3,1086.6 1426.8,1086.8 1428.2,1087.0 1429.6,1087.2 1430.9,1087.4 1432.2,1087.6 1434.0,1087.8 1435.7,1088.1 1437.3,1088.4 1438.8,1088.6 1440.2,1088.9 1441.6,1089.1 1442.9,1089.3 1444.3,1089.5 1445.6,1089.8 1447.0,1090.0 1448.4,1090.2 1449.9,1090.4 1451.5,1090.5 1453.2,1090.7 1454.7,1090.9 1456.2,1091.0 1457.9,1091.1 1459.6,1091.3 1461.4,1091.4 1463.2,1091.5 1465.0,1091.6 1466.9,1091.8 1468.7,1091.9 1470.5,1092.0 1472.3,1092.1 1474.0,1092.2 1475.6,1092.3 1477.1,1092.4 1478.4,1092.4 1479.6,1092.5 1480.7,1092.6 1481.6,1092.6" fill="none" stroke="#ff0000" stroke-width="3.7" stroke-linejoin="miter" stroke-miterlimit="3"/>
<polyline clip-path="url(#c7)" points="886.0,1063.4 887.1,1065.0 888.5,1067.2 890.3,1068.6 892.0,1070.5 893.5,1071.5 895.1,1072.5 896.8,1073.1 898.4,1073.8 900.1,1074.9 901.7,1076.0 903.3,1077.2 904.9,1078.7 906.5,1079.9 908.1,1081.2 909.7,1080.9 911.3,1082.3 912.9,1083.7 914.5,1086.4 916.1,1087.2 917.8,1087.4 919.4,1087.1 921.0,1086.7 922.6,1086.6 924.2,1086.8 925.8,1088.4 927.4,1090.8 929.0,1094.0 930.6,1096.8 932.2,1099.3 933.8,1101.5 935.4,1103.6 937.0,1105.7 938.6,1107.4 940.2,1109.1 941.8,1110.6 943.5,1110.8 945.1,1111.9 946.7,1113.0 948.3,1113.9 949.9,1115.3 951.5,1116.9 953.1,1118.7 954.7,1120.3 956.3,1122.0 957.9,1125.0 959.5,1126.6 961.1,1128.2 962.7,1129.5 964.3,1131.1 965.9,1132.8 967.6,1133.9 969.2,1135.6 970.8,1137.2 972.4,1138.6 974.0,1139.6 975.8,1140.3 977.5,1140.8 979.1,1141.5 980.4,1142.5 982.4,1148.5 984.4,1151.8 985.8,1150.9 987.3,1147.7 989.0,1145.3 990.8,1143.3 992.4,1143.4 994.1,1144.7 995.7,1147.2 997.3,1149.5 998.9,1152.4 1000.5,1154.7 1002.1,1156.7 1003.7,1157.9 1005.3,1158.7 1006.9,1157.9 1008.5,1158.0 1010.1,1157.6 1011.7,1158.1 1013.3,1156.8 1014.9,1155.9 1016.5,1155.0 1018.2,1155.7 1019.8,1157.2 1021.4,1158.2 1023.0,1159.6 1024.6,1160.3 1026.2,1161.2 1027.8,1160.4 1029.4,1159.4 1031.0,1157.1 1032.6,1156.2 1034.2,1155.4 1035.6,1155.3 1037.1,1154.6 1038.8,1153.8 1040.6,1152.0 1042.0,1151.2 1043.4,1150.3 1044.9,1150.6 1046.4,1149.6 1048.0,1148.5 1049.6,1147.9 1051.2,1146.8 1052.7,1145.6 1054.2,1143.4 1055.7,1142.2 1057.2,1141.0 1058.7,1140.6 1060.2,1139.3 1061.7,1138.0 1063.2,1135.8 1064.7,1134.5 1066.2,1133.0 1067.8,1131.5 1069.3,1130.0 1070.8,1128.4 1072.3,1126.9 1073.8,1125.3 1075.3,1123.8 1076.8,1123.1 1078.3,1121.8 1079.8,1120.5 1081.3,1117.8 1082.8,1116.6 1084.3,1115.4 1085.8,1115.2 1087.3,1114.0 1088.8,1112.8 1090.3,1111.3 1091.8,1110.1 1093.4,1108.8 1094.9,1107.7 1096.4,1106.4 1097.9,1105.2 1099.4,1103.2 1100.9,1102.1 1102.4,1101.0 1103.9,1100.1 1105.4,1099.1 1106.9,1098.1 1108.4,1097.9 1109.9,1096.9 1111.4,1095.6 1112.9,1094.6 1114.4,1093.6 1115.8,1092.6 1117.3,1091.6 1118.7,1090.5 1120.2,1089.6 1121.7,1088.6 1123.3,1087.8 1125.0,1087.0 1126.4,1086.4 1127.9,1085.9 1129.5,1085.4 1131.1,1085.0 1132.8,1084.6 1134.4,1084.2 1136.1,1083.9 1137.8,1083.6 1139.4,1083.3 1141.0,1083.0 1142.7,1082.7 1144.3,1082.4 1145.9,1082.2 1147.5,1082.0 1149.1,1081.8 1150.7,1081.7 1152.3,1081.6 1153.9,1081.5 1155.5,1081.4 1157.1,1081.4 1158.8,1081.4 1160.5,1081.4 1162.2,1081.5 1164.0,1081.7 1165.7,1081.8 1167.4,1082.0 1169.0,1082.1 1170.6,1082.3 1171.9,1082.4 1173.2,1082.6 1175.2,1082.7 1176.3,1082.7 1177.5,1082.9 1180.0,1083.4 1181.1,1083.6 1182.3,1083.8 1183.6,1084.1 1185.0,1084.4 1186.5,1084.8 1188.0,1085.1 1189.6,1085.5 1191.3,1085.8 1192.9,1086.2 1194.6,1086.6 1196.3,1087.0 1197.9,1087.3 1199.5,1087.7 1201.0,1088.0 1202.5,1088.3 1204.0,1088.6 1205.4,1088.9 1206.8,1089.2 1208.3,1089.5 1209.7,1089.8 1211.1,1090.1 1212.6,1090.4 1214.1,1090.7 1215.6,1091.0 1217.1,1091.3 1218.7,1091.6 1220.3,1091.9 1222.0,1092.2 1223.4,1092.4 1224.8,1092.7 1226.3,1092.9 1227.8,1093.2 1229.3,1093.5 1230.9,1093.7 1232.5,1094.0 1234.1,1094.3 1235.7,1094.5 1237.3,1094.8 1238.9,1095.0 1240.5,1095.3 1242.0,1095.5 1243.6,1095.7 1245.1,1095.9 1246.6,1096.1 1248.0,1096.3 1249.4,1096.4 1251.0,1096.6 1252.7,1096.7 1254.2,1096.9 1255.7,1097.0 1257.2,1097.1 1258.6,1097.2 1260.0,1097.2 1261.4,1097.3 1262.8,1097.3 1264.2,1097.3 1265.7,1097.3 1267.2,1097.2 1268.8,1097.1 1270.4,1097.0 1271.8,1096.9 1273.3,1096.8 1274.8,1096.6 1276.3,1096.5 1277.9,1096.3 1279.4,1096.1 1281.0,1095.8 1282.6,1095.6 1284.2,1095.4 1285.8,1095.1 1287.4,1094.8 1289.0,1094.5 1290.7,1094.2 1292.3,1093.9 1294.0,1093.6 1295.6,1093.3 1297.1,1093.0 1298.5,1092.6 1300.1,1092.3 1301.6,1091.9 1303.1,1091.5 1304.6,1091.2 1306.2,1090.8 1307.7,1090.4 1309.3,1090.0 1310.8,1089.6 1312.3,1089.1 1313.9,1088.7 1315.4,1088.3 1316.9,1088.0 1318.5,1087.6 1320.0,1087.2 1321.4,1086.9 1322.9,1086.5 1324.6,1086.2 1326.2,1085.8 1327.8,1085.5 1329.4,1085.1 1331.0,1084.8 1332.5,1084.4 1334.1,1084.1 1335.7,1083.8 1337.2,1083.5 1338.8,1083.2 1340.3,1082.9 1341.9,1082.6 1343.4,1082.4 1345.0,1082.1 1346.6,1081.9 1348.1,1081.7 1349.7,1081.5 1351.3,1081.3 1352.8,1081.1 1354.4,1081.0 1355.9,1080.8 1357.5,1080.7 1359.1,1080.6 1360.6,1080.5 1362.2,1080.4 1363.7,1080.3 1365.3,1080.2 1366.9,1080.2 1368.5,1080.2 1370.1,1080.2 1371.7,1080.2 1373.4,1080.2 1374.8,1080.3 1376.3,1080.3 1377.7,1080.4 1379.2,1080.6 1380.7,1080.7 1382.2,1080.8 1383.6,1081.0 1385.1,1081.1 1386.6,1081.3 1388.1,1081.5 1389.7,1081.7 1391.2,1081.9 1392.7,1082.1 1394.3,1082.3 1395.9,1082.5 1397.4,1082.8 1399.1,1083.0 1400.7,1083.2 1402.1,1083.3 1403.6,1083.5 1405.1,1083.7 1406.6,1083.9 1408.1,1084.1 1409.7,1084.4 1411.3,1084.6 1412.9,1084.8 1414.4,1085.0 1416.0,1085.2 1417.6,1085.5 1419.2,1085.7 1420.8,1085.9 1422.3,1086.1 1423.8,1086.4 1425.3,1086.6 1426.8,1086.8 1428.2,1087.0 1429.6,1087.2 1430.9,1087.4 1432.2,1087.6 1434.0,1087.8 1435.7,1088.1 1437.3,1088.4 1438.8,1088.6 1440.2,1088.9 1441.6,1089.1 1442.9,1089.3 1444.3,1089.5 1445.6,1089.8 1447.0,1090.0 1448.4,1090.2 1449.9,1090.4 1451.5,1090.5 1453.2,1090.7 1454.7,1090.9 1456.2,1091.0 1457.9,1091.1 1459.6,1091.3 1461.4,1091.4 1463.2,1091.5 1465.0,1091.6 1466.9,1091.8 1468.7,1091.9 1470.5,1092.0 1472.3,1092.1 1474.0,1092.2 1475.6,1092.3 1477.1,1092.4 1478.4,1092.4 1479.6,1092.5 1480.7,1092.6 1481.6,1092.6" fill="none" stroke="#ff00ff" stroke-width="2.2" stroke-linejoin="miter" stroke-miterlimit="3"/>
<polyline clip-path="url(#c7)" points="886.0,1057.5 887.1,1059.3 888.5,1061.8 890.3,1065.7 892.0,1067.0 893.5,1066.8 895.1,1064.5 896.8,1063.1 898.4,1062.0 900.1,1061.7 901.7,1062.9 903.3,1065.1 904.9,1069.2 906.5,1071.6 908.1,1073.3 909.7,1073.5 911.3,1073.7 912.9,1073.7 914.5,1073.9 916.1,1074.8 917.8,1076.6 919.4,1079.0 921.0,1081.7 922.6,1084.4 924.2,1085.8 925.8,1087.6 927.4,1089.3 929.0,1092.5 930.6,1094.0 932.2,1095.6 933.8,1095.8 935.4,1097.3 937.0,1098.9 938.6,1101.8 940.2,1103.6 941.8,1105.5 943.5,1106.3 945.1,1108.5 946.7,1110.5 948.3,1112.3 949.9,1113.7 951.5,1114.9 953.1,1117.1 954.7,1118.2 956.3,1119.4 957.9,1120.3 959.5,1121.9 961.1,1123.5 962.7,1125.9 964.3,1127.6 965.9,1129.2 967.6,1130.0 969.2,1131.6 970.8,1133.2 972.4,1135.3 974.0,1136.7 975.6,1138.0 977.2,1137.8 978.8,1138.9 980.4,1139.8 982.0,1141.4 983.6,1141.9 985.2,1142.2 986.8,1142.1 988.4,1142.3 990.0,1142.3 991.6,1142.8 993.3,1142.6 994.9,1142.6 996.5,1142.7 998.1,1143.9 999.7,1145.7 1001.3,1148.5 1002.9,1150.3 1004.5,1151.5 1006.1,1150.9 1007.7,1151.1 1009.3,1150.9 1010.9,1151.0 1012.5,1150.7 1014.1,1150.3 1015.7,1149.4 1017.3,1148.8 1019.0,1148.4 1020.6,1148.9 1022.1,1149.7 1023.7,1150.9 1025.2,1152.2 1026.9,1153.6 1028.6,1154.7 1030.2,1154.6 1031.9,1155.3 1033.7,1156.2 1035.5,1156.6 1037.2,1156.7 1038.6,1156.7 1040.3,1155.4 1041.5,1153.3 1042.8,1150.2 1044.7,1148.0 1045.9,1147.0 1047.2,1147.7 1048.7,1146.7 1050.3,1145.7 1051.9,1143.1 1053.6,1142.1 1055.2,1141.1 1056.7,1139.9 1058.2,1138.8 1059.7,1137.8 1061.2,1137.7 1062.7,1136.5 1064.2,1135.4 1065.7,1133.9 1067.2,1132.7 1068.8,1131.5 1070.3,1130.5 1071.8,1129.2 1073.3,1127.9 1074.8,1126.1 1076.3,1124.7 1077.8,1123.4 1079.3,1122.5 1080.8,1121.1 1082.3,1119.9 1083.8,1118.7 1085.3,1117.4 1086.8,1116.2 1088.3,1115.1 1089.8,1113.9 1091.3,1112.6 1092.9,1110.7 1094.4,1109.5 1095.9,1108.3 1097.4,1106.9 1098.9,1105.7 1100.4,1104.5 1101.9,1103.2 1103.4,1102.1 1104.9,1100.9 1106.4,1099.7 1107.9,1098.6 1109.4,1097.4 1110.9,1097.2 1112.4,1096.1 1113.9,1095.0 1115.4,1094.0 1116.9,1093.0 1118.5,1092.0 1120.0,1091.1 1121.5,1090.2 1123.0,1089.3 1124.5,1088.4 1126.0,1087.6 1127.5,1086.8 1129.0,1086.2 1130.5,1085.6 1131.9,1085.1 1133.3,1084.6 1134.8,1084.2 1136.2,1083.9 1137.7,1083.6 1139.3,1083.3 1141.0,1083.0 1142.5,1082.7 1144.0,1082.5 1145.6,1082.3 1147.2,1082.1 1148.8,1081.9 1150.5,1081.7 1152.2,1081.6 1153.8,1081.5 1155.5,1081.4 1157.1,1081.4 1158.8,1081.4 1160.5,1081.4 1162.2,1081.5 1164.0,1081.7 1165.7,1081.8 1167.4,1082.0 1169.0,1082.1 1170.6,1082.3 1171.9,1082.4 1173.2,1082.6 1175.2,1082.7 1176.3,1082.7 1177.5,1082.9 1180.0,1083.4 1181.1,1083.6 1182.3,1083.8 1183.6,1084.1 1185.0,1084.4 1186.5,1084.8 1188.0,1085.1 1189.6,1085.5 1191.3,1085.8 1192.9,1086.2 1194.6,1086.6 1196.3,1087.0 1197.9,1087.3 1199.5,1087.7 1201.0,1088.0 1202.5,1088.3 1204.0,1088.6 1205.4,1088.9 1206.8,1089.2 1208.3,1089.5 1209.7,1089.8 1211.1,1090.1 1212.6,1090.4 1214.1,1090.7 1215.6,1091.0 1217.1,1091.3 1218.7,1091.6 1220.3,1091.9 1222.0,1092.2 1223.4,1092.4 1224.8,1092.7 1226.3,1092.9 1227.8,1093.2 1229.3,1093.5 1230.9,1093.7 1232.5,1094.0 1234.1,1094.3 1235.7,1094.5 1237.3,1094.8 1238.9,1095.0 1240.5,1095.3 1242.0,1095.5 1243.6,1095.7 1245.1,1095.9 1246.6,1096.1 1248.0,1096.3 1249.4,1096.4 1251.0,1096.6 1252.7,1096.7 1254.2,1096.9 1255.7,1097.0 1257.2,1097.1 1258.6,1097.2 1260.0,1097.2 1261.4,1097.3 1262.8,1097.3 1264.2,1097.3 1265.7,1097.3 1267.2,1097.2 1268.8,1097.1 1270.4,1097.0 1271.8,1096.9 1273.3,1096.8 1274.8,1096.6 1276.3,1096.5 1277.9,1096.3 1279.4,1096.1 1281.0,1095.8 1282.6,1095.6 1284.2,1095.4 1285.8,1095.1 1287.4,1094.8 1289.0,1094.5 1290.7,1094.2 1292.3,1093.9 1294.0,1093.6 1295.6,1093.3 1297.1,1093.0 1298.5,1092.6 1300.1,1092.3 1301.6,1091.9 1303.1,1091.5 1304.6,1091.2 1306.2,1090.8 1307.7,1090.4 1309.3,1090.0 1310.8,1089.6 1312.3,1089.1 1313.9,1088.7 1315.4,1088.3 1316.9,1088.0 1318.5,1087.6 1320.0,1087.2 1321.4,1086.9 1322.9,1086.5 1324.6,1086.2 1326.2,1085.8 1327.8,1085.5 1329.4,1085.1 1331.0,1084.8 1332.5,1084.4 1334.1,1084.1 1335.7,1083.8 1337.2,1083.5 1338.8,1083.2 1340.3,1082.9 1341.9,1082.6 1343.4,1082.4 1345.0,1082.1 1346.6,1081.9 1348.1,1081.7 1349.7,1081.5 1351.3,1081.3 1352.8,1081.1 1354.4,1081.0 1355.9,1080.8 1357.5,1080.7 1359.1,1080.6 1360.6,1080.5 1362.2,1080.4 1363.7,1080.3 1365.3,1080.2 1366.9,1080.2 1368.5,1080.2 1370.1,1080.2 1371.7,1080.2 1373.4,1080.2 1374.8,1080.3 1376.3,1080.3 1377.7,1080.4 1379.2,1080.6 1380.7,1080.7 1382.2,1080.8 1383.6,1081.0 1385.1,1081.1 1386.6,1081.3 1388.1,1081.5 1389.7,1081.7 1391.2,1081.9 1392.7,1082.1 1394.3,1082.3 1395.9,1082.5 1397.4,1082.8 1399.1,1083.0 1400.7,1083.2 1402.1,1083.3 1403.6,1083.5 1405.1,1083.7 1406.6,1083.9 1408.1,1084.1 1409.7,1084.4 1411.3,1084.6 1412.9,1084.8 1414.4,1085.0 1416.0,1085.2 1417.6,1085.5 1419.2,1085.7 1420.8,1085.9 1422.3,1086.1 1423.8,1086.4 1425.3,1086.6 1426.8,1086.8 1428.2,1087.0 1429.6,1087.2 1430.9,1087.4 1432.2,1087.6 1434.0,1087.8 1435.7,1088.1 1437.3,1088.4 1438.8,1088.6 1440.2,1088.9 1441.6,1089.1 1442.9,1089.3 1444.3,1089.5 1445.6,1089.8 1447.0,1090.0 1448.4,1090.2 1449.9,1090.4 1451.5,1090.5 1453.2,1090.7 1454.7,1090.9 1456.2,1091.0 1457.9,1091.1 1459.6,1091.3 1461.4,1091.4 1463.2,1091.5 1465.0,1091.6 1466.9,1091.8 1468.7,1091.9 1470.5,1092.0 1472.3,1092.1 1474.0,1092.2 1475.6,1092.3 1477.1,1092.4 1478.4,1092.4 1479.6,1092.5 1480.7,1092.6 1481.6,1092.6" fill="none" stroke="#ff00ff" stroke-width="2.2" stroke-linejoin="miter" stroke-miterlimit="3"/>
<polyline clip-path="url(#c7)" points="887.0,1054.3 887.2,1070.3 887.4,1092.5 887.6,1112.4 887.6,1142.7 887.4,1218.6 887.6,1263.2 889.3,1171.4 892.0,1061.6 893.5,1045.7 895.2,1039.6 897.0,1040.6 898.7,1043.1 900.1,1044.6 902.1,1052.3 904.1,1061.1 905.4,1061.0 907.0,1058.8 908.7,1056.6 910.5,1054.9 912.1,1055.4 913.7,1056.8 915.3,1059.3 916.9,1061.6 918.6,1064.5 920.2,1066.7 921.8,1066.8 923.4,1067.4 925.0,1067.9 926.6,1069.4 928.2,1070.5 929.8,1072.5 931.4,1074.8 933.0,1077.5 934.6,1080.1 936.2,1083.1 937.8,1085.3 939.4,1087.4 941.0,1088.4 942.7,1090.3 944.3,1092.2 945.9,1094.8 947.5,1096.4 949.1,1098.0 950.7,1098.4 952.3,1100.0 953.9,1101.6 955.5,1104.5 957.1,1106.0 958.7,1107.6 960.3,1108.8 961.9,1110.7 963.5,1112.7 965.1,1114.3 966.7,1116.4 968.4,1118.3 970.0,1120.4 971.6,1122.0 973.2,1123.6 974.8,1125.3 976.4,1126.9 978.0,1128.5 979.6,1130.0 981.2,1131.7 982.8,1133.3 984.4,1135.3 986.0,1136.4 987.6,1137.3 989.2,1137.7 990.8,1138.4 992.4,1139.0 994.1,1139.2 995.7,1139.7 997.3,1140.0 998.9,1140.6 1000.5,1141.0 1002.1,1141.4 1003.7,1141.6 1005.3,1142.1 1006.9,1142.5 1008.5,1143.7 1010.1,1143.8 1011.7,1143.7 1013.3,1142.0 1014.9,1141.9 1016.5,1142.0 1018.1,1143.2 1019.6,1143.6 1021.1,1144.0 1022.7,1143.5 1024.6,1143.9 1025.9,1144.2 1027.4,1145.1 1028.9,1145.3 1030.5,1145.6 1032.1,1145.3 1033.7,1145.5 1035.2,1145.7 1036.6,1146.2 1038.4,1146.4 1040.1,1146.7 1041.8,1147.9 1043.4,1148.0 1045.0,1147.8 1046.7,1147.4 1048.3,1146.5 1049.9,1145.3 1051.6,1143.1 1053.2,1141.5 1054.9,1140.0 1056.7,1139.3 1058.1,1138.3 1059.6,1137.3 1061.1,1135.5 1062.6,1134.5 1064.1,1133.5 1065.7,1132.8 1067.2,1131.8 1068.8,1130.7 1070.3,1130.2 1071.8,1129.0 1073.3,1127.8 1074.8,1126.7 1076.3,1125.4 1077.8,1124.1 1079.3,1122.6 1080.8,1121.3 1082.3,1120.0 1083.8,1118.1 1085.3,1116.8 1086.8,1115.6 1088.3,1114.0 1089.8,1112.7 1091.3,1111.5 1092.9,1110.0 1094.4,1108.8 1095.9,1107.5 1097.4,1108.0 1098.9,1106.8 1100.4,1105.6 1101.9,1103.0 1103.4,1101.8 1104.9,1100.7 1106.4,1100.1 1107.9,1099.0 1109.4,1097.9 1110.9,1096.8 1112.4,1095.7 1113.9,1094.6 1115.4,1093.6 1116.9,1092.6 1118.5,1091.6 1120.0,1090.7 1121.5,1089.7 1123.0,1088.8 1124.5,1088.0 1126.0,1087.2 1127.5,1086.4 1129.0,1085.8 1130.5,1085.2 1131.9,1084.8 1133.3,1084.4 1134.8,1084.0 1136.2,1083.8 1137.7,1083.5 1139.3,1083.2 1141.0,1083.0 1142.5,1082.7 1144.0,1082.5 1145.6,1082.3 1147.2,1082.1 1148.8,1081.9 1150.5,1081.7 1152.2,1081.6 1153.8,1081.5 1155.5,1081.4 1157.1,1081.4 1158.8,1081.4 1160.5,1081.4 1162.2,1081.5 1164.0,1081.7 1165.7,1081.8 1167.4,1082.0 1169.0,1082.1 1170.6,1082.3 1171.9,1082.4 1173.2,1082.6 1175.2,1082.7 1176.3,1082.7 1177.5,1082.9 1180.0,1083.4 1181.1,1083.6 1182.3,1083.8 1183.6,1084.1 1185.0,1084.4 1186.5,1084.8 1188.0,1085.1 1189.6,1085.5 1191.3,1085.8 1192.9,1086.2 1194.6,1086.6 1196.3,1087.0 1197.9,1087.3 1199.5,1087.7 1201.0,1088.0 1202.5,1088.3 1204.0,1088.6 1205.4,1088.9 1206.8,1089.2 1208.3,1089.5 1209.7,1089.8 1211.1,1090.1 1212.6,1090.4 1214.1,1090.7 1215.6,1091.0 1217.1,1091.3 1218.7,1091.6 1220.3,1091.9 1222.0,1092.2 1223.4,1092.4 1224.8,1092.7 1226.3,1092.9 1227.8,1093.2 1229.3,1093.5 1230.9,1093.7 1232.5,1094.0 1234.1,1094.3 1235.7,1094.5 1237.3,1094.8 1238.9,1095.0 1240.5,1095.3 1242.0,1095.5 1243.6,1095.7 1245.1,1095.9 1246.6,1096.1 1248.0,1096.3 1249.4,1096.4 1251.0,1096.6 1252.7,1096.7 1254.2,1096.9 1255.7,1097.0 1257.2,1097.1 1258.6,1097.2 1260.0,1097.2 1261.4,1097.3 1262.8,1097.3 1264.2,1097.3 1265.7,1097.3 1267.2,1097.2 1268.8,1097.1 1270.4,1097.0 1271.8,1096.9 1273.3,1096.8 1274.8,1096.6 1276.3,1096.5 1277.9,1096.3 1279.4,1096.1 1281.0,1095.8 1282.6,1095.6 1284.2,1095.4 1285.8,1095.1 1287.4,1094.8 1289.0,1094.5 1290.7,1094.2 1292.3,1093.9 1294.0,1093.6 1295.6,1093.3 1297.1,1093.0 1298.5,1092.6 1300.1,1092.3 1301.6,1091.9 1303.1,1091.5 1304.6,1091.2 1306.2,1090.8 1307.7,1090.4 1309.3,1090.0 1310.8,1089.6 1312.3,1089.1 1313.9,1088.7 1315.4,1088.3 1316.9,1088.0 1318.5,1087.6 1320.0,1087.2 1321.4,1086.9 1322.9,1086.5 1324.6,1086.2 1326.2,1085.8 1327.8,1085.5 1329.4,1085.1 1331.0,1084.8 1332.5,1084.4 1334.1,1084.1 1335.7,1083.8 1337.2,1083.5 1338.8,1083.2 1340.3,1082.9 1341.9,1082.6 1343.4,1082.4 1345.0,1082.1 1346.6,1081.9 1348.1,1081.7 1349.7,1081.5 1351.3,1081.3 1352.8,1081.1 1354.4,1081.0 1355.9,1080.8 1357.5,1080.7 1359.1,1080.6 1360.6,1080.5 1362.2,1080.4 1363.7,1080.3 1365.3,1080.2 1366.9,1080.2 1368.5,1080.2 1370.1,1080.2 1371.7,1080.2 1373.4,1080.2 1374.8,1080.3 1376.3,1080.3 1377.7,1080.4 1379.2,1080.6 1380.7,1080.7 1382.2,1080.8 1383.6,1081.0 1385.1,1081.1 1386.6,1081.3 1388.1,1081.5 1389.7,1081.7 1391.2,1081.9 1392.7,1082.1 1394.3,1082.3 1395.9,1082.5 1397.4,1082.8 1399.1,1083.0 1400.7,1083.2 1402.1,1083.3 1403.6,1083.5 1405.1,1083.7 1406.6,1083.9 1408.1,1084.1 1409.7,1084.4 1411.3,1084.6 1412.9,1084.8 1414.4,1085.0 1416.0,1085.2 1417.6,1085.5 1419.2,1085.7 1420.8,1085.9 1422.3,1086.1 1423.8,1086.4 1425.3,1086.6 1426.8,1086.8 1428.2,1087.0 1429.6,1087.2 1430.9,1087.4 1432.2,1087.6 1434.0,1087.8 1435.7,1088.1 1437.3,1088.4 1438.8,1088.6 1440.2,1088.9 1441.6,1089.1 1442.9,1089.3 1444.3,1089.5 1445.6,1089.8 1447.0,1090.0 1448.4,1090.2 1449.9,1090.4 1451.5,1090.5 1453.2,1090.7 1454.7,1090.9 1456.2,1091.0 1457.9,1091.1 1459.6,1091.3 1461.4,1091.4 1463.2,1091.5 1465.0,1091.6 1466.9,1091.8 1468.7,1091.9 1470.5,1092.0 1472.3,1092.1 1474.0,1092.2 1475.6,1092.3 1477.1,1092.4 1478.4,1092.4 1479.6,1092.5 1480.7,1092.6 1481.6,1092.6" fill="none" stroke="#ff00ff" stroke-width="2.2" stroke-linejoin="miter" stroke-miterlimit="3"/>
<polyline clip-path="url(#c7)" points="886.0,1042.1 887.1,1036.9 888.5,1029.2 890.3,1021.4 892.0,1017.5 893.5,1018.1 895.1,1021.5 896.8,1025.5 898.4,1029.5 900.1,1031.7 901.7,1032.7 903.3,1032.9 904.9,1034.0 906.5,1034.1 908.1,1035.0 909.7,1035.8 911.3,1038.2 912.9,1040.9 914.5,1043.3 916.1,1045.8 917.8,1048.0 919.4,1050.8 921.0,1052.8 922.6,1054.8 924.2,1057.2 925.8,1058.9 927.4,1060.5 929.0,1062.1 930.6,1063.7 932.2,1065.2 933.8,1065.7 935.4,1067.3 937.0,1068.8 938.6,1070.7 940.2,1072.4 941.8,1074.4 943.5,1076.5 945.1,1078.7 946.7,1080.7 948.3,1082.7 949.9,1084.1 951.5,1085.2 953.1,1086.4 954.7,1087.6 956.3,1089.0 957.9,1090.1 959.5,1092.2 961.1,1094.3 962.7,1096.1 964.3,1098.0 965.9,1099.8 967.6,1101.3 969.2,1102.9 970.8,1104.4 972.4,1107.4 974.0,1108.8 975.6,1110.0 977.2,1110.8 978.8,1111.9 980.4,1113.1 982.0,1114.5 983.6,1115.7 985.2,1116.8 986.8,1117.0 988.4,1118.3 990.0,1120.0 991.6,1122.3 993.3,1124.2 994.9,1125.8 996.5,1127.2 998.1,1127.4 999.7,1126.9 1001.3,1125.9 1002.9,1125.2 1004.5,1125.1 1006.1,1125.8 1007.7,1126.6 1009.3,1127.5 1010.9,1127.4 1012.5,1128.3 1014.1,1129.1 1015.7,1130.9 1017.3,1131.8 1019.0,1132.5 1020.6,1132.3 1022.1,1132.9 1023.6,1133.4 1025.1,1133.9 1026.7,1134.2 1028.6,1134.3 1029.9,1134.2 1031.3,1134.0 1032.8,1134.1 1034.4,1133.8 1035.9,1133.5 1037.5,1133.4 1039.1,1133.1 1040.6,1132.9 1042.1,1133.2 1043.7,1133.1 1045.2,1133.1 1046.7,1133.2 1048.2,1133.2 1049.7,1133.1 1051.2,1131.9 1052.7,1131.6 1054.2,1131.1 1055.7,1130.0 1057.2,1129.3 1058.7,1128.6 1060.2,1128.8 1061.7,1128.1 1063.2,1127.5 1064.7,1126.8 1066.2,1126.3 1067.8,1125.8 1069.3,1124.9 1070.8,1124.5 1072.3,1124.1 1073.8,1123.9 1075.3,1123.3 1076.8,1122.5 1078.3,1121.0 1079.8,1119.9 1081.3,1118.7 1082.8,1118.0 1084.3,1116.6 1085.8,1115.3 1087.3,1113.9 1088.8,1112.6 1090.3,1111.4 1091.8,1110.6 1093.4,1109.3 1094.9,1108.0 1096.4,1105.8 1097.9,1104.5 1099.4,1103.3 1100.9,1102.7 1102.4,1101.6 1103.9,1100.6 1105.4,1098.9 1106.9,1097.9 1108.4,1097.0 1109.9,1097.0 1111.4,1095.6 1112.9,1094.6 1114.4,1093.6 1115.8,1092.5 1117.3,1091.4 1118.7,1090.3 1120.2,1089.3 1121.7,1088.3 1123.3,1087.4 1125.0,1086.6 1126.4,1086.0 1127.9,1085.5 1129.5,1085.0 1131.1,1084.5 1132.8,1084.1 1134.4,1083.8 1136.1,1083.4 1137.8,1083.1 1139.4,1082.8 1141.0,1082.6 1142.7,1082.3 1144.3,1082.1 1145.9,1081.9 1147.5,1081.8 1149.1,1081.7 1150.7,1081.6 1152.3,1081.5 1153.9,1081.5 1155.5,1081.5 1157.1,1081.6 1158.8,1081.6 1160.5,1081.8 1162.2,1082.0 1164.0,1082.2 1165.7,1082.5 1167.4,1082.7 1169.0,1083.0 1170.6,1083.2 1171.9,1083.4 1173.2,1083.6 1175.2,1083.7 1176.3,1083.8 1177.5,1083.8 1180.0,1084.2 1181.1,1084.3 1182.3,1084.5 1183.6,1084.8 1185.0,1085.0 1186.5,1085.3 1188.0,1085.6 1189.6,1085.9 1191.3,1086.2 1192.9,1086.5 1194.6,1086.8 1196.3,1087.1 1197.9,1087.4 1199.5,1087.7 1201.0,1088.0 1202.5,1088.3 1204.0,1088.6 1205.4,1088.9 1206.8,1089.2 1208.3,1089.5 1209.7,1089.8 1211.1,1090.1 1212.6,1090.4 1214.1,1090.7 1215.6,1091.0 1217.1,1091.3 1218.7,1091.6 1220.3,1091.9 1222.0,1092.2 1223.4,1092.4 1224.8,1092.7 1226.3,1092.9 1227.8,1093.2 1229.3,1093.5 1230.9,1093.7 1232.5,1094.0 1234.1,1094.3 1235.7,1094.5 1237.3,1094.8 1238.9,1095.0 1240.5,1095.3 1242.0,1095.5 1243.6,1095.7 1245.1,1095.9 1246.6,1096.1 1248.0,1096.3 1249.4,1096.4 1251.0,1096.6 1252.7,1096.7 1254.2,1096.9 1255.7,1097.0 1257.2,1097.1 1258.6,1097.2 1260.0,1097.2 1261.4,1097.3 1262.8,1097.3 1264.2,1097.3 1265.7,1097.3 1267.2,1097.2 1268.8,1097.1 1270.4,1097.0 1271.8,1096.9 1273.3,1096.8 1274.8,1096.6 1276.3,1096.5 1277.9,1096.3 1279.4,1096.1 1281.0,1095.8 1282.6,1095.6 1284.2,1095.4 1285.8,1095.1 1287.4,1094.8 1289.0,1094.5 1290.7,1094.2 1292.3,1093.9 1294.0,1093.6 1295.6,1093.3 1297.1,1093.0 1298.5,1092.6 1300.1,1092.3 1301.6,1091.9 1303.1,1091.5 1304.6,1091.2 1306.2,1090.8 1307.7,1090.4 1309.3,1090.0 1310.8,1089.6 1312.3,1089.1 1313.9,1088.7 1315.4,1088.3 1316.9,1088.0 1318.5,1087.6 1320.0,1087.2 1321.4,1086.9 1322.9,1086.5 1324.6,1086.2 1326.2,1085.8 1327.8,1085.5 1329.4,1085.1 1331.0,1084.8 1332.5,1084.4 1334.1,1084.1 1335.7,1083.8 1337.2,1083.5 1338.8,1083.2 1340.3,1082.9 1341.9,1082.6 1343.4,1082.4 1345.0,1082.1 1346.6,1081.9 1348.1,1081.7 1349.7,1081.5 1351.3,1081.3 1352.8,1081.1 1354.4,1081.0 1355.9,1080.8 1357.5,1080.7 1359.1,1080.6 1360.6,1080.5 1362.2,1080.4 1363.7,1080.3 1365.3,1080.2 1366.9,1080.2 1368.5,1080.2 1370.1,1080.2 1371.7,1080.2 1373.4,1080.2 1374.8,1080.3 1376.3,1080.3 1377.7,1080.4 1379.2,1080.6 1380.7,1080.7 1382.2,1080.8 1383.6,1081.0 1385.1,1081.1 1386.6,1081.3 1388.1,1081.5 1389.7,1081.7 1391.2,1081.9 1392.7,1082.1 1394.3,1082.3 1395.9,1082.5 1397.4,1082.8 1399.1,1083.0 1400.7,1083.2 1402.1,1083.3 1403.6,1083.5 1405.1,1083.7 1406.6,1083.9 1408.1,1084.1 1409.7,1084.4 1411.3,1084.6 1412.9,1084.8 1414.4,1085.0 1416.0,1085.2 1417.6,1085.5 1419.2,1085.7 1420.8,1085.9 1422.3,1086.1 1423.8,1086.4 1425.3,1086.6 1426.8,1086.8 1428.2,1087.0 1429.6,1087.2 1430.9,1087.4 1432.2,1087.6 1434.0,1087.8 1435.7,1088.1 1437.3,1088.4 1438.8,1088.6 1440.2,1088.9 1441.6,1089.1 1442.9,1089.3 1444.3,1089.5 1445.6,1089.8 1447.0,1090.0 1448.4,1090.2 1449.9,1090.4 1451.5,1090.5 1453.2,1090.7 1454.7,1090.9 1456.2,1091.0 1457.9,1091.1 1459.6,1091.3 1461.4,1091.4 1463.2,1091.5 1465.0,1091.6 1466.9,1091.8 1468.7,1091.9 1470.5,1092.0 1472.3,1092.1 1474.0,1092.2 1475.6,1092.3 1477.1,1092.4 1478.4,1092.4 1479.6,1092.5 1480.7,1092.6 1481.6,1092.6" fill="none" stroke="#0000ff" stroke-width="3.7" stroke-linejoin="miter" stroke-miterlimit="3"/>
<polyline clip-path="url(#c8)" points="1072.4,1569.5 1072.9,1555.5 1074.0,1541.4 1075.4,1539.8 1077.3,1541.2 1078.8,1541.4 1080.0,1536.6 1080.8,1529.1 1081.7,1519.6 1082.8,1509.0 1084.7,1498.5 1086.8,1488.9 1088.8,1481.4 1090.8,1474.8 1092.7,1469.1 1094.9,1463.0 1096.2,1459.3 1097.6,1455.2 1099.2,1451.0 1100.9,1446.8 1102.4,1443.1 1104.0,1439.4 1105.6,1435.6 1107.3,1431.9 1108.9,1428.5 1110.5,1425.4 1112.1,1422.9 1113.7,1420.1 1115.3,1417.4 1116.9,1414.7 1118.5,1412.5 1120.0,1410.5 1121.5,1408.8 1123.1,1406.9 1125.0,1404.8 1126.3,1403.3 1127.7,1401.8 1129.2,1400.3 1130.8,1398.5 1132.3,1396.9 1133.9,1395.4 1135.5,1393.9 1137.0,1392.6 1138.5,1391.4 1140.0,1390.2 1141.5,1389.1 1143.1,1388.1 1144.6,1387.1 1146.1,1386.2 1147.6,1385.3 1149.1,1384.5 1150.6,1383.8 1152.2,1383.2 1153.9,1382.6 1155.5,1382.1 1157.1,1381.6 1158.6,1381.2 1159.9,1380.9 1161.1,1380.5 1163.6,1379.9 1165.3,1379.6 1166.9,1379.4 1168.8,1379.4 1171.2,1379.5 1172.4,1379.5 1173.7,1379.6 1175.2,1379.6 1176.8,1379.6 1178.5,1379.7 1180.3,1379.8 1181.8,1379.9 1183.4,1380.1 1185.0,1380.2 1186.7,1380.4 1188.5,1380.6 1190.3,1380.8 1192.0,1381.1 1193.7,1381.4 1195.4,1381.7 1197.0,1382.1 1198.7,1382.5 1200.4,1383.0 1202.1,1383.4 1203.7,1383.9 1205.4,1384.3 1207.1,1384.8 1208.8,1385.3 1210.4,1385.8 1212.1,1386.3 1213.8,1386.8 1215.5,1387.3 1217.1,1387.8 1218.8,1388.3 1220.5,1388.8 1222.2,1389.3 1223.9,1389.8 1225.5,1390.3 1227.2,1390.8 1228.9,1391.3 1230.6,1391.8 1232.2,1392.3 1233.9,1392.8 1235.5,1393.3 1237.0,1393.7 1238.4,1394.1 1239.8,1394.5 1241.3,1394.9 1243.0,1395.4 1244.9,1395.9 1247.0,1396.5 1248.3,1396.9 1249.6,1397.3 1251.0,1397.8 1252.4,1398.3 1254.0,1398.8 1255.5,1399.3 1257.1,1399.8 1258.7,1400.4 1260.4,1400.9 1262.1,1401.4 1263.7,1401.9 1265.4,1402.4 1267.1,1402.8 1268.7,1403.1 1270.4,1403.5 1271.9,1403.7 1273.4,1403.9 1275.0,1404.1 1276.5,1404.3 1278.0,1404.5 1279.6,1404.6 1281.2,1404.7 1282.7,1404.8 1284.3,1404.9 1285.9,1405.0 1287.5,1405.0 1289.1,1405.1 1290.7,1405.1 1292.3,1405.1 1294.0,1405.1 1295.6,1405.1 1297.1,1405.1 1298.5,1405.1 1300.1,1405.1 1301.6,1405.1 1303.1,1405.0 1304.6,1405.0 1306.2,1404.9 1307.7,1404.9 1309.3,1404.8 1310.8,1404.7 1312.3,1404.6 1313.9,1404.5 1315.4,1404.4 1316.9,1404.2 1318.5,1404.0 1320.0,1403.9 1321.4,1403.7 1322.9,1403.5 1324.6,1403.2 1326.2,1402.9 1327.8,1402.6 1329.4,1402.2 1331.0,1401.9 1332.5,1401.5 1334.1,1401.1 1335.7,1400.7 1337.2,1400.2 1338.8,1399.8 1340.3,1399.4 1341.9,1398.9 1343.4,1398.5 1345.0,1398.0 1346.6,1397.6 1348.1,1397.2 1349.7,1396.7 1351.3,1396.3 1352.8,1395.8 1354.4,1395.3 1355.9,1394.8 1357.5,1394.3 1359.1,1393.8 1360.6,1393.3 1362.2,1392.8 1363.7,1392.3 1365.3,1391.8 1366.9,1391.3 1368.5,1390.9 1370.1,1390.5 1371.7,1390.1 1373.4,1389.8 1374.8,1389.5 1376.3,1389.3 1377.9,1389.0 1379.4,1388.8 1381.0,1388.6 1382.5,1388.4 1384.1,1388.2 1385.7,1388.1 1387.3,1387.9 1388.9,1387.8 1390.4,1387.7 1392.0,1387.6 1393.5,1387.5 1395.0,1387.4 1396.5,1387.3 1397.9,1387.2 1399.3,1387.1 1400.7,1387.1 1402.4,1387.0 1404.0,1387.0 1405.6,1386.9 1407.1,1386.9 1408.7,1387.0 1410.1,1387.0 1411.6,1387.0 1413.0,1387.1 1414.5,1387.2 1415.9,1387.3 1417.3,1387.4 1418.8,1387.5 1420.2,1387.6 1421.7,1387.7 1423.2,1387.8 1424.7,1388.0 1426.2,1388.1 1427.7,1388.3 1429.2,1388.5 1430.7,1388.7 1432.2,1388.9 1433.7,1389.2 1435.2,1389.4 1436.7,1389.6 1438.2,1389.8 1439.7,1390.0 1441.2,1390.2 1442.7,1390.4 1444.2,1390.6 1445.7,1390.8 1447.3,1391.0 1448.8,1391.2 1450.4,1391.4 1451.9,1391.6 1453.4,1391.8 1454.9,1392.0 1456.5,1392.1 1458.0,1392.3 1459.4,1392.5 1460.9,1392.6 1462.3,1392.8 1463.7,1392.9 1465.5,1393.1 1467.4,1393.3 1469.3,1393.5 1471.2,1393.6 1473.1,1393.8 1474.9,1393.9 1476.5,1394.0 1478.1,1394.2 1479.5,1394.3 1480.7,1394.3 1481.6,1394.4" fill="none" stroke="#000000" stroke-width="3.3" stroke-linejoin="miter" stroke-miterlimit="3"/>
<polyline clip-path="url(#c8)" points="889.0,1351.9 890.3,1352.3 892.0,1352.8 894.1,1353.7 896.1,1354.2 897.6,1355.0 899.2,1355.0 900.8,1355.2 902.5,1356.6 904.1,1357.7 905.7,1359.5 907.3,1361.9 908.9,1364.6 910.5,1367.3 912.1,1368.0 913.7,1370.1 915.3,1372.2 916.9,1375.9 918.6,1377.8 920.2,1379.8 921.8,1381.3 923.4,1383.1 925.0,1385.1 926.6,1385.1 928.2,1387.4 929.8,1389.9 931.4,1394.2 933.0,1397.1 934.6,1400.0 936.2,1402.8 937.8,1405.7 939.4,1408.7 941.0,1412.1 942.7,1414.9 944.3,1417.3 945.9,1419.3 947.5,1421.0 949.1,1422.4 950.7,1422.9 952.3,1424.4 953.9,1426.0 955.5,1426.6 957.1,1428.2 958.7,1429.8 960.3,1431.8 961.9,1433.3 963.5,1434.9 965.1,1436.6 966.7,1438.3 968.4,1440.0 970.0,1443.7 971.6,1445.8 973.2,1447.9 974.8,1449.0 976.4,1450.8 978.0,1452.3 979.6,1452.4 981.2,1453.6 982.8,1454.7 984.4,1456.9 986.0,1457.8 987.6,1458.7 989.2,1458.7 990.8,1459.5 992.4,1460.2 994.1,1462.4 995.7,1463.1 997.3,1463.7 998.9,1464.0 1000.5,1464.5 1002.1,1464.7 1003.7,1465.3 1005.3,1465.3 1006.9,1465.5 1008.5,1465.4 1010.1,1466.7 1011.7,1468.6 1013.3,1470.4 1014.9,1472.2 1016.5,1473.3 1018.2,1473.9 1019.8,1473.5 1021.4,1472.8 1023.0,1471.0 1024.6,1470.5 1026.2,1470.4 1027.8,1469.9 1029.4,1470.0 1031.0,1470.0 1032.6,1470.5 1034.2,1470.2 1035.8,1469.8 1037.4,1469.5 1039.0,1469.1 1040.6,1468.8 1042.2,1469.3 1043.9,1469.4 1045.5,1469.5 1047.1,1469.0 1048.7,1468.7 1050.3,1468.3 1051.9,1467.2 1053.5,1466.4 1055.1,1465.4 1056.7,1465.7 1058.3,1464.3 1059.9,1462.6 1061.5,1460.4 1063.1,1458.7 1064.7,1457.3 1066.3,1455.8 1068.0,1455.0 1069.6,1454.3 1071.2,1453.1 1072.8,1452.4 1074.4,1451.6 1076.0,1450.9 1077.6,1450.2 1079.2,1449.4 1080.8,1447.7 1082.4,1446.4 1084.0,1444.8 1085.6,1444.2 1087.2,1442.5 1088.8,1440.8 1090.4,1438.7 1092.0,1437.1 1093.7,1435.5 1095.3,1434.2 1096.9,1432.6 1098.5,1431.0 1100.1,1429.1 1101.7,1427.5 1103.3,1425.9 1104.9,1425.4 1106.5,1423.8 1108.1,1422.2 1109.7,1419.2 1111.3,1417.6 1112.9,1416.0 1114.5,1414.4 1116.0,1412.8 1117.5,1411.2 1119.1,1409.1 1121.0,1407.5 1122.3,1406.5 1123.7,1405.5 1125.2,1404.5 1126.7,1403.5 1128.3,1403.6 1129.9,1402.6 1131.5,1401.6 1133.0,1400.6 1134.5,1399.6 1135.9,1398.5 1137.4,1397.4 1138.8,1396.3 1140.2,1395.3 1141.8,1394.3 1143.4,1393.4 1145.1,1392.6 1146.5,1392.0 1148.0,1391.5 1149.5,1391.0 1151.1,1390.6 1152.7,1390.2 1154.3,1389.9 1156.0,1389.5 1157.7,1389.2 1159.4,1388.9 1161.1,1388.6 1162.6,1388.3 1164.1,1388.0 1165.6,1387.7 1167.1,1387.4 1168.7,1387.1 1170.3,1386.9 1171.8,1386.6 1173.4,1386.4 1175.1,1386.3 1176.7,1386.2 1178.3,1386.1 1180.0,1386.2 1181.4,1386.2 1182.9,1386.3 1184.4,1386.5 1185.8,1386.7 1187.3,1387.0 1188.9,1387.2 1190.4,1387.5 1191.9,1387.8 1193.4,1388.2 1194.9,1388.5 1196.5,1388.8 1198.0,1389.2 1199.5,1389.5 1201.0,1389.8 1202.5,1390.1 1204.0,1390.4 1205.5,1390.7 1207.0,1391.1 1208.5,1391.4 1210.0,1391.8 1211.5,1392.1 1213.0,1392.4 1214.5,1392.8 1216.0,1393.1 1217.5,1393.5 1219.0,1393.8 1220.5,1394.1 1222.0,1394.4 1223.5,1394.7 1225.0,1395.0 1226.4,1395.3 1227.9,1395.5 1229.3,1395.8 1230.7,1396.0 1232.1,1396.3 1233.6,1396.5 1235.1,1396.8 1236.6,1397.0 1238.1,1397.3 1239.7,1397.6 1241.4,1397.9 1243.1,1398.2 1244.4,1398.5 1245.8,1398.7 1247.3,1399.0 1248.7,1399.3 1250.2,1399.7 1251.8,1400.0 1253.3,1400.3 1254.9,1400.6 1256.5,1401.0 1258.0,1401.3 1259.6,1401.6 1261.2,1401.9 1262.8,1402.2 1264.3,1402.5 1265.9,1402.8 1267.4,1403.0 1268.9,1403.3 1270.4,1403.5 1272.0,1403.7 1273.6,1403.9 1275.2,1404.0 1276.8,1404.2 1278.3,1404.4 1279.9,1404.5 1281.4,1404.6 1283.0,1404.7 1284.5,1404.8 1286.1,1404.9 1287.6,1405.0 1289.2,1405.0 1290.8,1405.1 1292.4,1405.1 1294.0,1405.1 1295.6,1405.1 1297.1,1405.1 1298.5,1405.1 1300.1,1405.1 1301.6,1405.1 1303.1,1405.0 1304.6,1405.0 1306.2,1404.9 1307.7,1404.9 1309.3,1404.8 1310.8,1404.7 1312.3,1404.6 1313.9,1404.5 1315.4,1404.4 1316.9,1404.2 1318.5,1404.0 1320.0,1403.9 1321.4,1403.7 1322.9,1403.5 1324.6,1403.2 1326.2,1402.9 1327.8,1402.6 1329.4,1402.2 1331.0,1401.9 1332.5,1401.5 1334.1,1401.1 1335.7,1400.7 1337.2,1400.2 1338.8,1399.8 1340.3,1399.4 1341.9,1398.9 1343.4,1398.5 1345.0,1398.0 1346.6,1397.6 1348.1,1397.2 1349.7,1396.7 1351.3,1396.3 1352.8,1395.8 1354.4,1395.3 1355.9,1394.8 1357.5,1394.3 1359.1,1393.8 1360.6,1393.3 1362.2,1392.8 1363.7,1392.3 1365.3,1391.8 1366.9,1391.3 1368.5,1390.9 1370.1,1390.5 1371.7,1390.1 1373.4,1389.8 1374.8,1389.5 1376.3,1389.3 1377.9,1389.0 1379.4,1388.8 1381.0,1388.6 1382.5,1388.4 1384.1,1388.2 1385.7,1388.1 1387.3,1387.9 1388.9,1387.8 1390.4,1387.7 1392.0,1387.6 1393.5,1387.5 1395.0,1387.4 1396.5,1387.3 1397.9,1387.2 1399.3,1387.1 1400.7,1387.1 1402.4,1387.0 1404.0,1387.0 1405.6,1386.9 1407.1,1386.9 1408.7,1387.0 1410.1,1387.0 1411.6,1387.0 1413.0,1387.1 1414.5,1387.2 1415.9,1387.3 1417.3,1387.4 1418.8,1387.5 1420.2,1387.6 1421.7,1387.7 1423.2,1387.8 1424.7,1388.0 1426.2,1388.1 1427.7,1388.3 1429.2,1388.5 1430.7,1388.7 1432.2,1388.9 1433.7,1389.2 1435.2,1389.4 1436.7,1389.6 1438.2,1389.8 1439.7,1390.0 1441.2,1390.2 1442.7,1390.4 1444.2,1390.6 1445.7,1390.8 1447.3,1391.0 1448.8,1391.2 1450.4,1391.4 1451.9,1391.6 1453.4,1391.8 1454.9,1392.0 1456.5,1392.1 1458.0,1392.3 1459.4,1392.5 1460.9,1392.6 1462.3,1392.8 1463.7,1392.9 1465.5,1393.1 1467.4,1393.3 1469.3,1393.5 1471.2,1393.6 1473.1,1393.8 1474.9,1393.9 1476.5,1394.0 1478.1,1394.2 1479.5,1394.3 1480.7,1394.3 1481.6,1394.4" fill="none" stroke="#ff0000" stroke-width="3.7" stroke-linejoin="miter" stroke-miterlimit="3"/>
<polyline clip-path="url(#c8)" points="886.0,1319.8 887.7,1323.0 890.0,1325.8 891.4,1325.6 892.9,1324.7 894.5,1325.2 896.1,1325.2 897.5,1326.5 899.0,1328.2 900.4,1330.6 902.1,1332.7 903.6,1333.3 905.2,1334.4 906.8,1335.4 908.5,1337.6 910.1,1339.0 911.7,1340.8 913.3,1343.0 914.9,1345.1 916.5,1347.3 918.2,1349.3 919.8,1351.0 921.4,1352.5 923.0,1353.3 924.6,1354.8 926.2,1356.7 927.8,1359.4 929.4,1361.8 931.0,1364.3 932.6,1366.7 934.2,1369.2 935.8,1371.5 937.4,1373.4 939.0,1375.7 940.6,1378.2 942.2,1379.5 943.9,1382.3 945.5,1385.1 947.1,1389.0 948.7,1391.9 950.3,1394.6 951.9,1396.8 953.5,1399.3 955.1,1401.7 956.7,1404.1 958.3,1406.4 959.9,1408.5 961.5,1409.8 963.1,1411.7 964.7,1413.7 966.3,1416.9 968.0,1419.3 969.6,1421.8 971.2,1423.4 972.8,1425.9 974.4,1428.0 976.0,1431.1 977.6,1432.8 979.2,1434.3 980.8,1434.4 982.4,1436.0 984.0,1437.6 985.6,1441.0 987.2,1442.6 988.8,1444.2 990.4,1443.9 992.0,1445.3 993.7,1446.5 995.3,1449.0 996.9,1450.2 998.5,1451.3 1000.1,1451.7 1001.7,1453.1 1003.3,1454.4 1004.9,1456.8 1006.5,1457.8 1008.1,1458.4 1009.7,1458.5 1011.3,1458.8 1012.9,1459.1 1014.5,1459.0 1016.1,1459.5 1017.8,1459.9 1019.4,1459.3 1021.0,1459.7 1022.6,1460.0 1024.2,1460.5 1025.8,1460.4 1027.4,1460.2 1029.0,1459.7 1030.6,1459.9 1032.2,1460.6 1033.8,1463.0 1035.4,1464.0 1037.0,1464.9 1038.6,1465.5 1040.2,1465.5 1041.8,1465.2 1043.5,1464.7 1045.1,1464.1 1046.7,1463.5 1048.3,1461.9 1049.9,1461.1 1051.5,1460.2 1053.1,1459.7 1054.7,1458.9 1056.3,1458.2 1057.9,1457.5 1059.5,1456.8 1061.1,1456.0 1062.7,1455.2 1064.3,1453.8 1065.8,1452.2 1067.4,1450.4 1069.0,1448.7 1070.8,1447.1 1072.3,1445.4 1073.9,1444.5 1075.5,1443.6 1077.2,1443.5 1079.0,1442.5 1080.8,1441.1 1082.2,1440.0 1083.7,1438.8 1085.2,1437.7 1086.7,1436.3 1088.2,1435.0 1089.8,1432.4 1091.3,1431.1 1092.9,1430.0 1094.4,1429.9 1095.9,1428.9 1097.4,1427.9 1098.9,1427.3 1100.4,1426.3 1101.9,1425.3 1103.4,1423.2 1104.9,1422.1 1106.4,1420.9 1107.9,1420.6 1109.4,1419.4 1110.9,1418.1 1112.4,1416.0 1113.9,1414.7 1115.4,1413.5 1116.9,1412.6 1118.4,1411.4 1119.9,1410.3 1121.3,1409.4 1122.7,1408.3 1124.2,1407.2 1125.7,1406.7 1127.3,1405.5 1129.0,1404.4 1130.4,1402.6 1132.0,1401.6 1133.5,1400.5 1135.1,1399.4 1136.8,1398.3 1138.4,1397.2 1140.1,1396.2 1141.8,1395.2 1143.4,1394.3 1145.1,1393.6 1146.7,1392.9 1148.2,1392.4 1149.8,1391.9 1151.4,1391.4 1152.9,1391.0 1154.5,1390.7 1156.1,1390.4 1157.7,1390.1 1159.4,1389.8 1161.1,1389.6 1162.6,1389.3 1164.1,1389.1 1165.6,1388.9 1167.1,1388.7 1168.7,1388.6 1170.3,1388.4 1171.8,1388.3 1173.4,1388.2 1175.1,1388.1 1176.7,1388.0 1178.3,1388.0 1180.0,1388.0 1181.4,1388.0 1182.9,1388.0 1184.4,1388.1 1185.8,1388.2 1187.3,1388.2 1188.9,1388.4 1190.4,1388.5 1191.9,1388.6 1193.4,1388.8 1194.9,1389.0 1196.5,1389.2 1198.0,1389.4 1199.5,1389.6 1201.0,1389.8 1202.5,1390.0 1204.0,1390.3 1205.5,1390.6 1207.0,1390.9 1208.5,1391.3 1210.0,1391.6 1211.5,1392.0 1213.0,1392.4 1214.5,1392.7 1216.0,1393.1 1217.5,1393.4 1219.0,1393.8 1220.5,1394.1 1222.0,1394.4 1223.5,1394.7 1225.0,1395.0 1226.4,1395.3 1227.9,1395.5 1229.3,1395.8 1230.7,1396.0 1232.1,1396.3 1233.6,1396.5 1235.1,1396.8 1236.6,1397.0 1238.1,1397.3 1239.7,1397.6 1241.4,1397.9 1243.1,1398.2 1244.4,1398.5 1245.8,1398.7 1247.3,1399.0 1248.7,1399.3 1250.2,1399.7 1251.8,1400.0 1253.3,1400.3 1254.9,1400.6 1256.5,1401.0 1258.0,1401.3 1259.6,1401.6 1261.2,1401.9 1262.8,1402.2 1264.3,1402.5 1265.9,1402.8 1267.4,1403.0 1268.9,1403.3 1270.4,1403.5 1272.0,1403.7 1273.6,1403.9 1275.2,1404.0 1276.8,1404.2 1278.3,1404.4 1279.9,1404.5 1281.4,1404.6 1283.0,1404.7 1284.5,1404.8 1286.1,1404.9 1287.6,1405.0 1289.2,1405.0 1290.8,1405.1 1292.4,1405.1 1294.0,1405.1 1295.6,1405.1 1297.1,1405.1 1298.5,1405.1 1300.1,1405.1 1301.6,1405.1 1303.1,1405.0 1304.6,1405.0 1306.2,1404.9 1307.7,1404.9 1309.3,1404.8 1310.8,1404.7 1312.3,1404.6 1313.9,1404.5 1315.4,1404.4 1316.9,1404.2 1318.5,1404.0 1320.0,1403.9 1321.4,1403.7 1322.9,1403.5 1324.6,1403.2 1326.2,1402.9 1327.8,1402.6 1329.4,1402.2 1331.0,1401.9 1332.5,1401.5 1334.1,1401.1 1335.7,1400.7 1337.2,1400.2 1338.8,1399.8 1340.3,1399.4 1341.9,1398.9 1343.4,1398.5 1345.0,1398.0 1346.6,1397.6 1348.1,1397.2 1349.7,1396.7 1351.3,1396.3 1352.8,1395.8 1354.4,1395.3 1355.9,1394.8 1357.5,1394.3 1359.1,1393.8 1360.6,1393.3 1362.2,1392.8 1363.7,1392.3 1365.3,1391.8 1366.9,1391.3 1368.5,1390.9 1370.1,1390.5 1371.7,1390.1 1373.4,1389.8 1374.8,1389.5 1376.3,1389.3 1377.9,1389.0 1379.4,1388.8 1381.0,1388.6 1382.5,1388.4 1384.1,1388.2 1385.7,1388.1 1387.3,1387.9 1388.9,1387.8 1390.4,1387.7 1392.0,1387.6 1393.5,1387.5 1395.0,1387.4 1396.5,1387.3 1397.9,1387.2 1399.3,1387.1 1400.7,1387.1 1402.4,1387.0 1404.0,1387.0 1405.6,1386.9 1407.1,1386.9 1408.7,1387.0 1410.1,1387.0 1411.6,1387.0 1413.0,1387.1 1414.5,1387.2 1415.9,1387.3 1417.3,1387.4 1418.8,1387.5 1420.2,1387.6 1421.7,1387.7 1423.2,1387.8 1424.7,1388.0 1426.2,1388.1 1427.7,1388.3 1429.2,1388.5 1430.7,1388.7 1432.2,1388.9 1433.7,1389.2 1435.2,1389.4 1436.7,1389.6 1438.2,1389.8 1439.7,1390.0 1441.2,1390.2 1442.7,1390.4 1444.2,1390.6 1445.7,1390.8 1447.3,1391.0 1448.8,1391.2 1450.4,1391.4 1451.9,1391.6 1453.4,1391.8 1454.9,1392.0 1456.5,1392.1 1458.0,1392.3 1459.4,1392.5 1460.9,1392.6 1462.3,1392.8 1463.7,1392.9 1465.5,1393.1 1467.4,1393.3 1469.3,1393.5 1471.2,1393.6 1473.1,1393.8 1474.9,1393.9 1476.5,1394.0 1478.1,1394.2 1479.5,1394.3 1480.7,1394.3 1481.6,1394.4" fill="none" stroke="#ff00ff" stroke-width="2.2" stroke-linejoin="miter" stroke-miterlimit="3"/>
<polyline clip-path="url(#c8)" points="886.0,1313.5 887.7,1316.7 890.0,1320.8 891.4,1320.2 892.8,1318.7 894.4,1315.7 896.1,1315.3 897.5,1316.1 899.1,1318.2 900.8,1320.1 902.5,1322.1 904.1,1323.7 905.7,1325.3 907.3,1326.9 908.9,1329.6 910.5,1331.2 912.1,1333.0 913.7,1334.2 915.3,1336.2 916.9,1338.2 918.6,1339.4 920.2,1341.6 921.8,1343.9 923.4,1347.4 925.0,1349.9 926.6,1352.4 928.2,1355.2 929.8,1357.3 931.4,1359.3 933.0,1359.5 934.6,1361.5 936.2,1363.6 937.8,1367.0 939.4,1369.4 941.0,1371.8 942.7,1374.5 944.3,1376.9 945.9,1379.3 947.5,1382.3 949.1,1384.7 950.7,1387.1 952.3,1389.4 953.9,1391.8 955.5,1394.2 957.1,1396.7 958.7,1399.2 960.3,1401.6 961.9,1402.1 963.5,1404.6 965.1,1407.0 966.7,1409.5 968.4,1411.8 970.0,1413.9 971.6,1417.1 973.2,1419.1 974.8,1421.0 976.4,1422.8 978.0,1424.9 979.6,1427.0 981.2,1429.3 982.8,1431.3 984.4,1433.2 986.0,1435.3 987.6,1436.9 989.2,1438.5 990.8,1439.0 992.4,1440.5 994.1,1442.2 995.7,1444.8 997.3,1446.5 998.9,1448.0 1000.5,1449.4 1002.1,1450.5 1003.7,1451.4 1005.3,1451.8 1006.9,1452.4 1008.5,1453.0 1010.1,1453.0 1011.7,1453.4 1013.3,1453.8 1014.9,1455.1 1016.5,1455.5 1018.2,1455.9 1019.8,1455.5 1021.4,1456.0 1023.0,1456.4 1024.6,1457.5 1026.2,1457.5 1027.8,1457.5 1029.4,1457.2 1031.0,1457.1 1032.6,1457.2 1034.2,1456.8 1035.8,1457.3 1037.4,1457.8 1039.0,1458.8 1040.6,1458.9 1042.2,1458.8 1043.9,1459.3 1045.5,1458.9 1047.1,1458.4 1048.7,1457.5 1050.3,1456.8 1051.9,1456.1 1053.5,1454.9 1055.1,1454.0 1056.7,1453.1 1058.3,1451.6 1059.9,1450.4 1061.5,1449.1 1063.1,1447.2 1064.7,1445.9 1066.3,1444.7 1067.9,1443.9 1069.4,1442.7 1071.0,1441.5 1072.8,1441.1 1074.3,1440.1 1076.0,1439.1 1077.7,1437.5 1079.4,1436.5 1081.1,1435.5 1082.8,1435.5 1084.5,1434.5 1086.1,1433.5 1087.7,1431.4 1089.4,1430.4 1091.1,1429.4 1092.9,1429.4 1094.3,1428.5 1095.7,1427.7 1097.2,1426.7 1098.8,1425.8 1100.3,1424.9 1101.8,1422.8 1103.4,1421.8 1104.9,1420.8 1106.4,1421.3 1107.9,1420.2 1109.4,1419.0 1110.9,1416.6 1112.4,1415.3 1113.9,1414.1 1115.4,1413.9 1116.9,1412.8 1118.4,1411.6 1119.9,1410.4 1121.3,1409.3 1122.7,1408.1 1124.2,1406.1 1125.7,1404.9 1127.3,1403.7 1129.0,1403.6 1130.4,1402.0 1132.0,1401.0 1133.5,1400.0 1135.1,1398.9 1136.8,1397.9 1138.4,1396.8 1140.1,1395.9 1141.8,1394.9 1143.4,1394.1 1145.1,1393.4 1146.7,1392.8 1148.2,1392.2 1149.8,1391.7 1151.4,1391.3 1152.9,1391.0 1154.5,1390.7 1156.1,1390.4 1157.7,1390.1 1159.4,1389.8 1161.1,1389.6 1162.6,1389.3 1164.1,1389.1 1165.6,1388.9 1167.1,1388.7 1168.7,1388.6 1170.3,1388.4 1171.8,1388.3 1173.4,1388.2 1175.1,1388.1 1176.7,1388.0 1178.3,1388.0 1180.0,1388.0 1181.4,1388.0 1182.9,1388.0 1184.4,1388.1 1185.8,1388.2 1187.3,1388.2 1188.9,1388.4 1190.4,1388.5 1191.9,1388.6 1193.4,1388.8 1194.9,1389.0 1196.5,1389.2 1198.0,1389.4 1199.5,1389.6 1201.0,1389.8 1202.5,1390.0 1204.0,1390.3 1205.5,1390.6 1207.0,1390.9 1208.5,1391.3 1210.0,1391.6 1211.5,1392.0 1213.0,1392.4 1214.5,1392.7 1216.0,1393.1 1217.5,1393.4 1219.0,1393.8 1220.5,1394.1 1222.0,1394.4 1223.5,1394.7 1225.0,1395.0 1226.4,1395.3 1227.9,1395.5 1229.3,1395.8 1230.7,1396.0 1232.1,1396.3 1233.6,1396.5 1235.1,1396.8 1236.6,1397.0 1238.1,1397.3 1239.7,1397.6 1241.4,1397.9 1243.1,1398.2 1244.4,1398.5 1245.8,1398.7 1247.3,1399.0 1248.7,1399.3 1250.2,1399.7 1251.8,1400.0 1253.3,1400.3 1254.9,1400.6 1256.5,1401.0 1258.0,1401.3 1259.6,1401.6 1261.2,1401.9 1262.8,1402.2 1264.3,1402.5 1265.9,1402.8 1267.4,1403.0 1268.9,1403.3 1270.4,1403.5 1272.0,1403.7 1273.6,1403.9 1275.2,1404.0 1276.8,1404.2 1278.3,1404.4 1279.9,1404.5 1281.4,1404.6 1283.0,1404.7 1284.5,1404.8 1286.1,1404.9 1287.6,1405.0 1289.2,1405.0 1290.8,1405.1 1292.4,1405.1 1294.0,1405.1 1295.6,1405.1 1297.1,1405.1 1298.5,1405.1 1300.1,1405.1 1301.6,1405.1 1303.1,1405.0 1304.6,1405.0 1306.2,1404.9 1307.7,1404.9 1309.3,1404.8 1310.8,1404.7 1312.3,1404.6 1313.9,1404.5 1315.4,1404.4 1316.9,1404.2 1318.5,1404.0 1320.0,1403.9 1321.4,1403.7 1322.9,1403.5 1324.6,1403.2 1326.2,1402.9 1327.8,1402.6 1329.4,1402.2 1331.0,1401.9 1332.5,1401.5 1334.1,1401.1 1335.7,1400.7 1337.2,1400.2 1338.8,1399.8 1340.3,1399.4 1341.9,1398.9 1343.4,1398.5 1345.0,1398.0 1346.6,1397.6 1348.1,1397.2 1349.7,1396.7 1351.3,1396.3 1352.8,1395.8 1354.4,1395.3 1355.9,1394.8 1357.5,1394.3 1359.1,1393.8 1360.6,1393.3 1362.2,1392.8 1363.7,1392.3 1365.3,1391.8 1366.9,1391.3 1368.5,1390.9 1370.1,1390.5 1371.7,1390.1 1373.4,1389.8 1374.8,1389.5 1376.3,1389.3 1377.9,1389.0 1379.4,1388.8 1381.0,1388.6 1382.5,1388.4 1384.1,1388.2 1385.7,1388.1 1387.3,1387.9 1388.9,1387.8 1390.4,1387.7 1392.0,1387.6 1393.5,1387.5 1395.0,1387.4 1396.5,1387.3 1397.9,1387.2 1399.3,1387.1 1400.7,1387.1 1402.4,1387.0 1404.0,1387.0 1405.6,1386.9 1407.1,1386.9 1408.7,1387.0 1410.1,1387.0 1411.6,1387.0 1413.0,1387.1 1414.5,1387.2 1415.9,1387.3 1417.3,1387.4 1418.8,1387.5 1420.2,1387.6 1421.7,1387.7 1423.2,1387.8 1424.7,1388.0 1426.2,1388.1 1427.7,1388.3 1429.2,1388.5 1430.7,1388.7 1432.2,1388.9 1433.7,1389.2 1435.2,1389.4 1436.7,1389.6 1438.2,1389.8 1439.7,1390.0 1441.2,1390.2 1442.7,1390.4 1444.2,1390.6 1445.7,1390.8 1447.3,1391.0 1448.8,1391.2 1450.4,1391.4 1451.9,1391.6 1453.4,1391.8 1454.9,1392.0 1456.5,1392.1 1458.0,1392.3 1459.4,1392.5 1460.9,1392.6 1462.3,1392.8 1463.7,1392.9 1465.5,1393.1 1467.4,1393.3 1469.3,1393.5 1471.2,1393.6 1473.1,1393.8 1474.9,1393.9 1476.5,1394.0 1478.1,1394.2 1479.5,1394.3 1480.7,1394.3 1481.6,1394.4" fill="none" stroke="#ff00ff" stroke-width="2.2" stroke-linejoin="miter" stroke-miterlimit="3"/>
<polyline clip-path="url(#c8)" points="886.4,1298.1 886.8,1328.2 887.2,1368.4 887.4,1405.4 887.4,1448.7 887.4,1530.4 887.4,1569.2 887.4,1445.6 888.0,1306.1 889.2,1286.3 890.7,1285.9 892.4,1294.3 894.1,1299.7 895.5,1301.7 896.9,1303.3 898.4,1305.3 900.1,1305.9 901.6,1307.1 903.1,1308.1 904.8,1309.1 906.5,1310.4 908.1,1311.8 909.7,1314.6 911.3,1316.6 912.9,1318.7 914.5,1319.8 916.1,1321.8 917.8,1323.8 919.4,1326.5 921.0,1328.4 922.6,1330.5 924.2,1332.3 925.8,1334.5 927.4,1336.9 929.0,1340.3 930.6,1342.8 932.2,1345.3 933.8,1346.0 935.4,1348.4 937.0,1350.8 938.6,1353.5 940.2,1355.9 941.8,1358.3 943.5,1361.8 945.1,1364.2 946.7,1366.6 948.3,1367.5 949.9,1369.9 951.5,1372.4 953.1,1376.1 954.7,1378.5 956.3,1380.9 957.9,1382.1 959.5,1384.5 961.1,1387.0 962.7,1390.3 964.3,1392.7 965.9,1395.2 967.6,1397.9 969.2,1400.4 970.8,1402.8 972.4,1403.9 974.0,1406.1 975.6,1408.1 977.2,1410.2 978.8,1412.1 980.4,1414.1 982.0,1417.0 983.6,1419.0 985.2,1421.0 986.8,1423.3 988.4,1425.3 990.0,1427.4 991.6,1429.4 993.3,1431.5 994.9,1433.5 996.5,1434.2 998.1,1435.7 999.7,1437.0 1001.3,1438.6 1002.9,1439.7 1004.5,1440.7 1006.1,1441.0 1007.7,1441.9 1009.3,1442.7 1010.9,1444.2 1012.5,1444.9 1014.1,1445.4 1015.7,1446.0 1017.3,1446.4 1019.0,1446.7 1020.6,1447.2 1022.2,1447.6 1023.8,1448.0 1025.4,1447.3 1027.0,1447.7 1028.6,1448.1 1030.2,1449.0 1031.8,1449.5 1033.4,1449.9 1035.0,1451.1 1036.6,1451.4 1038.2,1451.5 1039.8,1451.9 1041.4,1451.9 1043.1,1451.8 1044.7,1450.8 1046.3,1450.5 1047.9,1450.1 1049.5,1450.4 1051.1,1450.0 1052.7,1449.5 1054.3,1448.4 1055.9,1448.1 1057.5,1447.7 1059.1,1447.2 1060.7,1446.7 1062.3,1446.0 1063.9,1445.5 1065.5,1444.7 1067.1,1443.8 1068.8,1442.5 1070.4,1441.7 1072.0,1441.0 1073.6,1440.0 1075.2,1439.2 1076.8,1438.3 1078.4,1438.5 1080.0,1437.3 1081.6,1436.1 1083.2,1434.4 1084.8,1433.2 1086.4,1432.0 1088.0,1430.7 1089.6,1429.5 1091.2,1428.3 1092.9,1426.6 1094.5,1425.4 1096.1,1424.2 1097.7,1423.0 1099.3,1421.8 1100.9,1420.6 1102.5,1418.9 1104.1,1417.6 1105.7,1416.3 1107.3,1415.2 1108.9,1414.1 1110.5,1413.3 1111.9,1412.2 1113.4,1411.5 1115.1,1410.7 1116.9,1411.5 1118.2,1410.7 1119.6,1409.8 1121.0,1408.8 1122.5,1407.7 1124.0,1406.7 1125.6,1403.9 1127.3,1402.8 1129.0,1401.7 1130.4,1401.7 1132.0,1400.7 1133.5,1399.7 1135.1,1398.6 1136.8,1397.5 1138.4,1396.5 1140.1,1395.5 1141.8,1394.5 1143.4,1393.7 1145.1,1393.0 1146.7,1392.4 1148.2,1391.8 1149.8,1391.4 1151.4,1391.0 1152.9,1390.7 1154.5,1390.4 1156.1,1390.1 1157.7,1389.9 1159.4,1389.6 1161.1,1389.4 1162.6,1389.2 1164.1,1389.0 1165.6,1388.8 1167.1,1388.6 1168.7,1388.5 1170.3,1388.3 1171.8,1388.2 1173.4,1388.1 1175.1,1388.0 1176.7,1388.0 1178.3,1388.0 1180.0,1388.0 1181.4,1388.0 1182.9,1388.0 1184.4,1388.1 1185.8,1388.2 1187.3,1388.3 1188.9,1388.4 1190.4,1388.5 1191.9,1388.6 1193.4,1388.8 1194.9,1389.0 1196.5,1389.2 1198.0,1389.4 1199.5,1389.6 1201.0,1389.8 1202.5,1390.0 1204.0,1390.3 1205.5,1390.6 1207.0,1390.9 1208.5,1391.3 1210.0,1391.6 1211.5,1392.0 1213.0,1392.4 1214.5,1392.7 1216.0,1393.1 1217.5,1393.4 1219.0,1393.8 1220.5,1394.1 1222.0,1394.4 1223.5,1394.7 1225.0,1395.0 1226.4,1395.3 1227.9,1395.5 1229.3,1395.8 1230.7,1396.0 1232.1,1396.3 1233.6,1396.5 1235.1,1396.8 1236.6,1397.0 1238.1,1397.3 1239.7,1397.6 1241.4,1397.9 1243.1,1398.2 1244.4,1398.5 1245.8,1398.7 1247.3,1399.0 1248.7,1399.3 1250.2,1399.7 1251.8,1400.0 1253.3,1400.3 1254.9,1400.6 1256.5,1401.0 1258.0,1401.3 1259.6,1401.6 1261.2,1401.9 1262.8,1402.2 1264.3,1402.5 1265.9,1402.8 1267.4,1403.0 1268.9,1403.3 1270.4,1403.5 1272.0,1403.7 1273.6,1403.9 1275.2,1404.0 1276.8,1404.2 1278.3,1404.4 1279.9,1404.5 1281.4,1404.6 1283.0,1404.7 1284.5,1404.8 1286.1,1404.9 1287.6,1405.0 1289.2,1405.0 1290.8,1405.1 1292.4,1405.1 1294.0,1405.1 1295.6,1405.1 1297.1,1405.1 1298.5,1405.1 1300.1,1405.1 1301.6,1405.1 1303.1,1405.0 1304.6,1405.0 1306.2,1404.9 1307.7,1404.9 1309.3,1404.8 1310.8,1404.7 1312.3,1404.6 1313.9,1404.5 1315.4,1404.4 1316.9,1404.2 1318.5,1404.0 1320.0,1403.9 1321.4,1403.7 1322.9,1403.5 1324.6,1403.2 1326.2,1402.9 1327.8,1402.6 1329.4,1402.2 1331.0,1401.9 1332.5,1401.5 1334.1,1401.1 1335.7,1400.7 1337.2,1400.2 1338.8,1399.8 1340.3,1399.4 1341.9,1398.9 1343.4,1398.5 1345.0,1398.0 1346.6,1397.6 1348.1,1397.2 1349.7,1396.7 1351.3,1396.3 1352.8,1395.8 1354.4,1395.3 1355.9,1394.8 1357.5,1394.3 1359.1,1393.8 1360.6,1393.3 1362.2,1392.8 1363.7,1392.3 1365.3,1391.8 1366.9,1391.3 1368.5,1390.9 1370.1,1390.5 1371.7,1390.1 1373.4,1389.8 1374.8,1389.5 1376.3,1389.3 1377.9,1389.0 1379.4,1388.8 1381.0,1388.6 1382.5,1388.4 1384.1,1388.2 1385.7,1388.1 1387.3,1387.9 1388.9,1387.8 1390.4,1387.7 1392.0,1387.6 1393.5,1387.5 1395.0,1387.4 1396.5,1387.3 1397.9,1387.2 1399.3,1387.1 1400.7,1387.1 1402.4,1387.0 1404.0,1387.0 1405.6,1386.9 1407.1,1386.9 1408.7,1387.0 1410.1,1387.0 1411.6,1387.0 1413.0,1387.1 1414.5,1387.2 1415.9,1387.3 1417.3,1387.4 1418.8,1387.5 1420.2,1387.6 1421.7,1387.7 1423.2,1387.8 1424.7,1388.0 1426.2,1388.1 1427.7,1388.3 1429.2,1388.5 1430.7,1388.7 1432.2,1388.9 1433.7,1389.2 1435.2,1389.4 1436.7,1389.6 1438.2,1389.8 1439.7,1390.0 1441.2,1390.2 1442.7,1390.4 1444.2,1390.6 1445.7,1390.8 1447.3,1391.0 1448.8,1391.2 1450.4,1391.4 1451.9,1391.6 1453.4,1391.8 1454.9,1392.0 1456.5,1392.1 1458.0,1392.3 1459.4,1392.5 1460.9,1392.6 1462.3,1392.8 1463.7,1392.9 1465.5,1393.1 1467.4,1393.3 1469.3,1393.5 1471.2,1393.6 1473.1,1393.8 1474.9,1393.9 1476.5,1394.0 1478.1,1394.2 1479.5,1394.3 1480.7,1394.3 1481.6,1394.4" fill="none" stroke="#ff00ff" stroke-width="2.2" stroke-linejoin="miter" stroke-miterlimit="3"/>
<polyline clip-path="url(#c8)" points="885.0,1277.9 886.3,1284.5 888.0,1290.0 889.7,1287.0 892.0,1282.8 893.4,1282.4 895.0,1284.0 896.7,1286.1 898.4,1288.9 900.1,1290.5 901.7,1291.5 903.3,1291.8 904.9,1292.4 906.5,1293.1 908.1,1294.6 909.7,1295.9 911.3,1297.4 912.9,1299.3 914.5,1301.1 916.1,1303.0 917.8,1304.1 919.4,1306.5 921.0,1309.1 922.6,1311.2 924.2,1313.5 925.8,1315.6 927.4,1318.8 929.0,1320.7 930.6,1322.7 932.2,1325.1 933.8,1327.7 935.4,1330.6 937.0,1332.0 938.6,1334.9 940.2,1337.7 941.8,1340.4 943.5,1342.8 945.1,1345.1 946.7,1347.2 948.3,1349.7 949.9,1352.5 951.5,1356.8 953.1,1359.7 954.7,1362.6 956.3,1364.2 957.9,1366.7 959.5,1369.2 961.1,1371.5 962.7,1373.9 964.3,1376.1 965.9,1378.0 967.6,1380.0 969.2,1382.0 970.8,1384.4 972.4,1386.3 974.0,1388.3 975.6,1391.0 977.2,1393.0 978.8,1395.0 980.4,1397.4 982.0,1399.4 983.6,1401.4 985.2,1403.0 986.8,1405.0 988.4,1407.0 990.0,1408.5 991.6,1410.6 993.3,1412.7 994.9,1415.0 996.5,1416.9 998.1,1418.7 999.7,1420.5 1001.3,1422.1 1002.9,1423.6 1004.5,1424.9 1006.1,1426.2 1007.7,1427.5 1009.3,1427.8 1010.9,1428.9 1012.5,1430.0 1014.1,1432.2 1015.7,1433.1 1017.3,1434.0 1019.0,1433.9 1020.6,1434.5 1022.2,1434.8 1023.8,1435.4 1025.4,1435.5 1027.0,1435.6 1028.6,1435.6 1030.2,1436.1 1031.8,1436.8 1033.4,1437.8 1035.0,1438.5 1036.6,1438.9 1038.2,1439.3 1039.8,1439.3 1041.4,1439.2 1043.1,1438.3 1044.7,1438.3 1046.3,1438.3 1047.9,1437.9 1049.5,1437.9 1051.1,1437.9 1052.7,1438.5 1054.3,1438.6 1055.9,1438.6 1057.5,1438.6 1059.1,1438.6 1060.7,1438.5 1062.3,1439.2 1063.9,1439.1 1065.5,1439.0 1067.1,1438.4 1068.8,1437.9 1070.4,1437.2 1072.0,1436.0 1073.6,1434.9 1075.2,1433.8 1076.8,1433.3 1078.4,1432.4 1080.0,1431.7 1081.6,1431.2 1083.2,1430.5 1084.8,1429.5 1086.4,1426.9 1088.0,1425.6 1089.6,1424.2 1091.2,1422.9 1092.9,1422.0 1094.5,1421.4 1096.1,1421.0 1097.7,1420.8 1099.3,1420.5 1100.9,1421.0 1102.5,1420.1 1104.1,1418.8 1105.7,1417.9 1107.3,1416.6 1108.9,1415.4 1110.5,1413.4 1112.1,1412.6 1113.7,1411.9 1115.3,1410.8 1116.9,1409.9 1118.6,1408.8 1120.2,1408.7 1121.8,1407.4 1123.4,1406.1 1125.0,1405.4 1126.5,1404.2 1128.0,1403.0 1129.5,1400.2 1131.1,1399.8 1133.0,1398.6 1134.3,1397.9 1135.6,1397.1 1137.1,1396.4 1138.5,1395.6 1140.1,1394.9 1141.7,1394.2 1143.3,1393.6 1145.1,1393.0 1146.5,1392.6 1148.0,1392.2 1149.5,1391.8 1151.1,1391.4 1152.7,1391.1 1154.3,1390.8 1156.0,1390.5 1157.7,1390.2 1159.4,1390.0 1161.1,1389.8 1162.6,1389.6 1164.1,1389.4 1165.6,1389.3 1167.1,1389.1 1168.7,1389.0 1170.3,1388.9 1171.8,1388.8 1173.4,1388.7 1175.1,1388.6 1176.7,1388.6 1178.3,1388.6 1180.0,1388.6 1181.4,1388.6 1182.9,1388.6 1184.4,1388.6 1185.8,1388.6 1187.3,1388.7 1188.9,1388.7 1190.4,1388.8 1191.9,1388.9 1193.4,1389.0 1194.9,1389.1 1196.5,1389.3 1198.0,1389.4 1199.5,1389.6 1201.0,1389.8 1202.5,1390.0 1204.0,1390.3 1205.5,1390.6 1207.0,1390.9 1208.5,1391.2 1210.0,1391.6 1211.5,1392.0 1213.0,1392.3 1214.5,1392.7 1216.0,1393.1 1217.5,1393.4 1219.0,1393.8 1220.5,1394.1 1222.0,1394.4 1223.5,1394.7 1225.0,1395.0 1226.4,1395.3 1227.9,1395.5 1229.3,1395.8 1230.7,1396.0 1232.1,1396.3 1233.6,1396.5 1235.1,1396.8 1236.6,1397.0 1238.1,1397.3 1239.7,1397.6 1241.4,1397.9 1243.1,1398.2 1244.4,1398.5 1245.8,1398.7 1247.3,1399.0 1248.7,1399.3 1250.2,1399.7 1251.8,1400.0 1253.3,1400.3 1254.9,1400.6 1256.5,1401.0 1258.0,1401.3 1259.6,1401.6 1261.2,1401.9 1262.8,1402.2 1264.3,1402.5 1265.9,1402.8 1267.4,1403.0 1268.9,1403.3 1270.4,1403.5 1272.0,1403.7 1273.6,1403.9 1275.2,1404.0 1276.8,1404.2 1278.3,1404.4 1279.9,1404.5 1281.4,1404.6 1283.0,1404.7 1284.5,1404.8 1286.1,1404.9 1287.6,1405.0 1289.2,1405.0 1290.8,1405.1 1292.4,1405.1 1294.0,1405.1 1295.6,1405.1 1297.1,1405.1 1298.5,1405.1 1300.1,1405.1 1301.6,1405.1 1303.1,1405.0 1304.6,1405.0 1306.2,1404.9 1307.7,1404.9 1309.3,1404.8 1310.8,1404.7 1312.3,1404.6 1313.9,1404.5 1315.4,1404.4 1316.9,1404.2 1318.5,1404.0 1320.0,1403.9 1321.4,1403.7 1322.9,1403.5 1324.6,1403.2 1326.2,1402.9 1327.8,1402.6 1329.4,1402.2 1331.0,1401.9 1332.5,1401.5 1334.1,1401.1 1335.7,1400.7 1337.2,1400.2 1338.8,1399.8 1340.3,1399.4 1341.9,1398.9 1343.4,1398.5 1345.0,1398.0 1346.6,1397.6 1348.1,1397.2 1349.7,1396.7 1351.3,1396.3 1352.8,1395.8 1354.4,1395.3 1355.9,1394.8 1357.5,1394.3 1359.1,1393.8 1360.6,1393.3 1362.2,1392.8 1363.7,1392.3 1365.3,1391.8 1366.9,1391.3 1368.5,1390.9 1370.1,1390.5 1371.7,1390.1 1373.4,1389.8 1374.8,1389.5 1376.3,1389.3 1377.9,1389.0 1379.4,1388.8 1381.0,1388.6 1382.5,1388.4 1384.1,1388.2 1385.7,1388.1 1387.3,1387.9 1388.9,1387.8 1390.4,1387.7 1392.0,1387.6 1393.5,1387.5 1395.0,1387.4 1396.5,1387.3 1397.9,1387.2 1399.3,1387.1 1400.7,1387.1 1402.4,1387.0 1404.0,1387.0 1405.6,1386.9 1407.1,1386.9 1408.7,1387.0 1410.1,1387.0 1411.6,1387.0 1413.0,1387.1 1414.5,1387.2 1415.9,1387.3 1417.3,1387.4 1418.8,1387.5 1420.2,1387.6 1421.7,1387.7 1423.2,1387.8 1424.7,1388.0 1426.2,1388.1 1427.7,1388.3 1429.2,1388.5 1430.7,1388.7 1432.2,1388.9 1433.7,1389.2 1435.2,1389.4 1436.7,1389.6 1438.2,1389.8 1439.7,1390.0 1441.2,1390.2 1442.7,1390.4 1444.2,1390.6 1445.7,1390.8 1447.3,1391.0 1448.8,1391.2 1450.4,1391.4 1451.9,1391.6 1453.4,1391.8 1454.9,1392.0 1456.5,1392.1 1458.0,1392.3 1459.4,1392.5 1460.9,1392.6 1462.3,1392.8 1463.7,1392.9 1465.5,1393.1 1467.4,1393.3 1469.3,1393.5 1471.2,1393.6 1473.1,1393.8 1474.9,1393.9 1476.5,1394.0 1478.1,1394.2 1479.5,1394.3 1480.7,1394.3 1481.6,1394.4" fill="none" stroke="#0000ff" stroke-width="3.7" stroke-linejoin="miter" stroke-miterlimit="3"/>
<polyline clip-path="url(#c9)" points="1067.8,1875.6 1069.0,1866.8 1070.8,1855.5 1072.7,1845.4 1074.8,1835.1 1076.8,1822.7 1078.8,1810.9 1080.8,1802.7 1082.8,1795.0 1084.8,1785.7 1086.8,1776.7 1088.7,1769.9 1090.8,1762.8 1092.2,1758.5 1093.6,1753.9 1095.2,1749.2 1096.9,1744.9 1098.3,1741.5 1099.9,1738.6 1101.6,1735.9 1103.3,1733.6 1104.9,1730.9 1106.5,1728.0 1108.1,1724.7 1109.7,1721.8 1111.3,1719.2 1112.9,1716.7 1114.5,1714.4 1116.0,1712.4 1117.5,1710.6 1119.1,1708.7 1121.0,1706.6 1122.3,1705.2 1123.7,1703.6 1125.2,1702.0 1126.7,1700.3 1128.3,1698.7 1129.9,1697.2 1131.5,1695.8 1133.0,1694.6 1134.5,1693.5 1136.0,1692.5 1137.5,1691.7 1139.0,1690.9 1140.5,1690.3 1142.0,1689.6 1143.6,1689.1 1145.1,1688.5 1146.6,1688.0 1148.3,1687.6 1150.0,1687.3 1151.6,1687.0 1153.2,1686.7 1154.7,1686.5 1156.0,1686.3 1157.1,1686.1 1158.6,1685.8 1160.2,1685.8 1161.4,1685.8 1162.8,1685.9 1164.5,1686.0 1166.3,1686.1 1168.1,1686.2 1170.0,1686.4 1171.9,1686.5 1173.6,1686.7 1175.3,1686.9 1176.9,1687.1 1178.6,1687.3 1180.3,1687.5 1182.0,1687.8 1183.6,1688.1 1185.3,1688.4 1187.0,1688.7 1188.7,1689.1 1190.3,1689.4 1192.0,1689.8 1193.7,1690.3 1195.4,1690.7 1197.1,1691.2 1198.7,1691.6 1200.4,1692.1 1202.1,1692.6 1203.8,1693.1 1205.4,1693.6 1207.1,1694.1 1208.8,1694.6 1210.5,1695.1 1212.1,1695.6 1213.8,1696.1 1215.5,1696.6 1217.1,1697.0 1218.8,1697.4 1220.5,1697.8 1222.2,1698.3 1223.8,1698.7 1225.5,1699.1 1227.2,1699.5 1228.8,1699.9 1230.4,1700.3 1231.9,1700.7 1233.5,1701.1 1235.1,1701.5 1236.8,1701.9 1238.6,1702.3 1240.6,1702.8 1241.9,1703.1 1243.4,1703.4 1244.9,1703.8 1246.5,1704.2 1248.1,1704.6 1249.7,1704.9 1251.4,1705.3 1253.0,1705.7 1254.7,1706.0 1256.3,1706.4 1257.8,1706.7 1259.2,1707.0 1260.6,1707.2 1262.4,1707.5 1264.0,1707.7 1265.4,1707.9 1266.8,1708.0 1268.2,1708.1 1269.6,1708.2 1271.1,1708.3 1272.7,1708.3 1274.6,1708.4 1275.8,1708.5 1277.2,1708.5 1278.5,1708.5 1279.9,1708.6 1281.3,1708.6 1282.8,1708.7 1284.3,1708.7 1285.8,1708.7 1287.3,1708.7 1288.9,1708.7 1290.5,1708.6 1292.2,1708.6 1293.9,1708.5 1295.6,1708.4 1297.0,1708.3 1298.4,1708.2 1299.8,1708.1 1301.3,1707.9 1302.8,1707.8 1304.3,1707.6 1305.9,1707.5 1307.4,1707.3 1309.0,1707.1 1310.6,1706.9 1312.2,1706.7 1313.7,1706.5 1315.3,1706.3 1316.9,1706.1 1318.4,1705.9 1319.9,1705.7 1321.4,1705.5 1322.9,1705.3 1324.6,1705.0 1326.2,1704.7 1327.8,1704.5 1329.4,1704.2 1331.0,1703.9 1332.5,1703.6 1334.1,1703.3 1335.7,1703.0 1337.2,1702.7 1338.8,1702.4 1340.3,1702.1 1341.9,1701.8 1343.4,1701.5 1345.0,1701.2 1346.6,1700.9 1348.1,1700.6 1349.7,1700.3 1351.3,1700.0 1353.0,1699.7 1354.6,1699.4 1356.3,1699.0 1358.0,1698.7 1359.6,1698.4 1361.3,1698.1 1362.9,1697.7 1364.5,1697.4 1366.1,1697.1 1367.6,1696.8 1369.1,1696.5 1370.6,1696.3 1372.0,1696.0 1373.4,1695.8 1375.2,1695.5 1376.9,1695.2 1378.4,1695.0 1379.9,1694.7 1381.3,1694.5 1382.7,1694.4 1384.1,1694.2 1385.5,1694.0 1387.0,1693.9 1388.5,1693.8 1390.2,1693.7 1391.5,1693.6 1393.0,1693.6 1394.4,1693.5 1395.9,1693.5 1397.4,1693.5 1398.9,1693.4 1400.4,1693.4 1402.0,1693.4 1403.5,1693.5 1405.1,1693.5 1406.6,1693.5 1408.2,1693.6 1409.7,1693.6 1411.2,1693.7 1412.7,1693.8 1414.2,1693.9 1415.7,1694.0 1417.2,1694.1 1418.7,1694.2 1420.2,1694.4 1421.7,1694.5 1423.2,1694.7 1424.7,1694.9 1426.2,1695.1 1427.7,1695.2 1429.2,1695.4 1430.7,1695.6 1432.2,1695.8 1433.7,1696.0 1435.1,1696.2 1436.6,1696.4 1438.0,1696.6 1439.4,1696.9 1440.8,1697.1 1442.3,1697.3 1443.7,1697.6 1445.2,1697.8 1446.7,1698.0 1448.2,1698.3 1449.8,1698.5 1451.5,1698.7 1453.2,1698.9 1454.7,1699.1 1456.2,1699.3 1457.9,1699.5 1459.6,1699.6 1461.4,1699.8 1463.2,1700.0 1465.0,1700.2 1466.9,1700.3 1468.7,1700.5 1470.5,1700.7 1472.3,1700.8 1474.0,1701.0 1475.6,1701.1 1477.1,1701.3 1478.4,1701.4 1479.6,1701.5 1480.7,1701.6 1481.6,1701.7" fill="none" stroke="#000000" stroke-width="3.3" stroke-linejoin="miter" stroke-miterlimit="3"/>
<polyline clip-path="url(#c9)" points="886.0,1633.1 887.1,1634.1 888.5,1635.6 890.3,1639.1 892.0,1640.9 893.5,1642.3 895.1,1643.8 896.8,1645.4 898.4,1647.1 900.1,1647.5 901.7,1649.3 903.3,1651.3 904.9,1654.9 906.5,1657.0 908.1,1659.0 909.7,1660.2 911.3,1662.1 912.9,1664.1 914.5,1665.1 916.1,1667.2 917.8,1669.5 919.4,1674.5 921.0,1677.0 922.6,1679.4 924.2,1679.8 925.8,1681.9 927.4,1683.8 929.0,1685.9 930.6,1687.9 932.2,1690.1 933.8,1692.0 935.4,1694.8 937.0,1697.7 938.6,1702.2 940.2,1705.1 941.8,1707.9 943.5,1710.3 945.1,1713.3 946.7,1716.0 948.3,1719.9 949.9,1722.1 951.5,1724.2 953.1,1726.0 954.7,1727.8 956.3,1729.8 957.9,1730.2 959.5,1732.3 961.1,1734.4 962.7,1738.2 964.3,1739.9 965.9,1741.4 967.6,1741.1 969.2,1742.1 970.8,1743.2 972.4,1744.4 974.0,1745.9 975.6,1747.6 977.2,1750.5 978.8,1752.2 980.4,1753.7 982.0,1755.1 983.6,1756.4 985.2,1757.6 986.8,1758.9 988.4,1759.9 990.0,1760.8 991.6,1760.6 993.3,1761.3 994.9,1762.1 996.5,1763.3 998.1,1764.1 999.7,1765.1 1001.3,1764.7 1002.9,1765.4 1004.5,1766.0 1006.1,1766.4 1007.7,1766.4 1009.3,1766.2 1010.9,1766.9 1012.5,1767.0 1014.1,1767.3 1015.7,1767.6 1017.3,1768.1 1019.0,1768.6 1020.6,1769.1 1022.2,1769.3 1023.8,1769.4 1025.4,1769.5 1027.0,1769.5 1028.6,1769.3 1030.2,1768.4 1031.8,1768.0 1033.4,1767.6 1035.0,1768.4 1036.6,1767.9 1038.2,1767.6 1039.8,1765.6 1041.4,1765.2 1043.1,1764.8 1044.7,1764.9 1046.3,1764.2 1047.9,1763.4 1049.5,1763.6 1051.1,1762.7 1052.7,1761.9 1054.3,1760.8 1055.9,1760.0 1057.5,1759.1 1059.1,1758.8 1060.7,1758.0 1062.3,1757.2 1063.9,1756.4 1065.5,1755.7 1067.1,1754.8 1068.8,1752.3 1070.4,1751.2 1072.0,1750.0 1073.6,1748.1 1075.2,1746.8 1076.8,1745.5 1078.4,1744.5 1080.0,1743.3 1081.6,1742.1 1083.2,1742.4 1084.8,1741.1 1086.4,1739.7 1088.0,1737.7 1089.6,1736.2 1091.2,1734.8 1092.9,1734.2 1094.5,1732.8 1096.1,1731.4 1097.7,1730.0 1099.3,1728.6 1100.9,1727.1 1102.5,1725.0 1104.1,1723.4 1105.7,1721.8 1107.3,1720.9 1108.9,1719.2 1110.5,1716.9 1111.9,1715.1 1113.4,1713.3 1115.1,1711.4 1116.9,1709.6 1118.3,1708.5 1119.7,1707.3 1121.2,1706.1 1122.7,1704.9 1124.3,1703.8 1125.9,1702.6 1127.5,1701.6 1129.0,1700.6 1130.5,1699.7 1131.9,1698.8 1133.3,1698.0 1134.8,1697.2 1136.2,1696.5 1137.7,1695.8 1139.3,1695.2 1141.0,1694.6 1142.5,1694.1 1144.0,1693.7 1145.6,1693.4 1147.3,1693.0 1149.0,1692.7 1150.6,1692.4 1152.3,1692.2 1154.0,1692.0 1155.6,1691.7 1157.1,1691.6 1158.8,1691.4 1160.5,1691.2 1162.1,1691.1 1163.8,1691.0 1165.4,1690.9 1166.9,1690.9 1168.4,1690.9 1169.8,1690.9 1171.2,1690.9 1173.1,1691.1 1174.5,1691.3 1175.8,1691.6 1177.5,1692.1 1180.0,1692.6 1181.1,1692.8 1182.4,1693.0 1183.7,1693.2 1185.1,1693.5 1186.6,1693.8 1188.2,1694.0 1189.7,1694.3 1191.4,1694.6 1193.0,1694.9 1194.7,1695.2 1196.3,1695.5 1197.9,1695.8 1199.5,1696.1 1201.0,1696.4 1202.5,1696.7 1204.0,1697.0 1205.4,1697.3 1206.8,1697.6 1208.3,1697.9 1209.7,1698.2 1211.1,1698.5 1212.6,1698.8 1214.1,1699.1 1215.6,1699.4 1217.1,1699.7 1218.7,1700.0 1220.3,1700.3 1222.0,1700.6 1223.4,1700.9 1224.8,1701.1 1226.2,1701.4 1227.7,1701.7 1229.2,1701.9 1230.8,1702.2 1232.3,1702.5 1233.9,1702.7 1235.4,1703.0 1237.0,1703.3 1238.6,1703.5 1240.2,1703.8 1241.7,1704.1 1243.3,1704.3 1244.9,1704.6 1246.4,1704.8 1247.9,1705.0 1249.4,1705.3 1251.0,1705.5 1252.6,1705.7 1254.3,1706.0 1255.9,1706.2 1257.5,1706.5 1259.2,1706.7 1260.8,1706.9 1262.4,1707.1 1263.9,1707.3 1265.5,1707.5 1267.1,1707.7 1268.6,1707.9 1270.1,1708.0 1271.6,1708.2 1273.1,1708.3 1274.6,1708.4 1276.2,1708.5 1277.7,1708.6 1279.2,1708.7 1280.7,1708.7 1282.1,1708.8 1283.5,1708.8 1285.0,1708.8 1286.4,1708.8 1287.8,1708.8 1289.3,1708.7 1290.7,1708.7 1292.3,1708.6 1293.9,1708.5 1295.6,1708.4 1297.0,1708.3 1298.4,1708.2 1299.8,1708.1 1301.3,1707.9 1302.8,1707.8 1304.3,1707.6 1305.9,1707.5 1307.4,1707.3 1309.0,1707.1 1310.6,1706.9 1312.2,1706.7 1313.7,1706.5 1315.3,1706.3 1316.9,1706.1 1318.4,1705.9 1319.9,1705.7 1321.4,1705.5 1322.9,1705.3 1324.6,1705.0 1326.2,1704.7 1327.8,1704.5 1329.4,1704.2 1331.0,1703.9 1332.5,1703.6 1334.1,1703.3 1335.7,1703.0 1337.2,1702.7 1338.8,1702.4 1340.3,1702.1 1341.9,1701.8 1343.4,1701.5 1345.0,1701.2 1346.6,1700.9 1348.1,1700.6 1349.7,1700.3 1351.3,1700.0 1353.0,1699.7 1354.6,1699.4 1356.3,1699.0 1358.0,1698.7 1359.6,1698.4 1361.3,1698.1 1362.9,1697.7 1364.5,1697.4 1366.1,1697.1 1367.6,1696.8 1369.1,1696.5 1370.6,1696.3 1372.0,1696.0 1373.4,1695.8 1375.2,1695.5 1376.9,1695.2 1378.4,1695.0 1379.9,1694.7 1381.3,1694.5 1382.7,1694.4 1384.1,1694.2 1385.5,1694.0 1387.0,1693.9 1388.5,1693.8 1390.2,1693.7 1391.5,1693.6 1393.0,1693.6 1394.4,1693.5 1395.9,1693.5 1397.4,1693.5 1398.9,1693.4 1400.4,1693.4 1402.0,1693.4 1403.5,1693.5 1405.1,1693.5 1406.6,1693.5 1408.2,1693.6 1409.7,1693.6 1411.2,1693.7 1412.7,1693.8 1414.2,1693.9 1415.7,1694.0 1417.2,1694.1 1418.7,1694.2 1420.2,1694.4 1421.7,1694.5 1423.2,1694.7 1424.7,1694.9 1426.2,1695.1 1427.7,1695.2 1429.2,1695.4 1430.7,1695.6 1432.2,1695.8 1433.7,1696.0 1435.1,1696.2 1436.6,1696.4 1438.0,1696.6 1439.4,1696.9 1440.8,1697.1 1442.3,1697.3 1443.7,1697.6 1445.2,1697.8 1446.7,1698.0 1448.2,1698.3 1449.8,1698.5 1451.5,1698.7 1453.2,1698.9 1454.7,1699.1 1456.2,1699.3 1457.9,1699.5 1459.6,1699.6 1461.4,1699.8 1463.2,1700.0 1465.0,1700.2 1466.9,1700.3 1468.7,1700.5 1470.5,1700.7 1472.3,1700.8 1474.0,1701.0 1475.6,1701.1 1477.1,1701.3 1478.4,1701.4 1479.6,1701.5 1480.7,1701.6 1481.6,1701.7" fill="none" stroke="#ff0000" stroke-width="3.7" stroke-linejoin="miter" stroke-miterlimit="3"/>
<polyline clip-path="url(#c9)" points="885.0,1618.8 886.3,1618.2 888.0,1617.3 890.1,1616.7 892.0,1616.8 893.6,1618.0 895.2,1619.5 896.8,1621.3 898.5,1622.5 900.1,1624.3 901.7,1625.9 903.3,1626.7 904.9,1628.2 906.5,1629.9 908.1,1632.1 909.7,1633.9 911.3,1635.8 912.9,1638.2 914.5,1640.3 916.1,1642.6 917.8,1644.8 919.4,1647.5 921.0,1650.4 922.6,1653.6 924.2,1656.6 925.8,1659.7 927.4,1663.5 929.0,1666.8 930.6,1670.0 932.2,1672.3 933.8,1675.5 935.4,1678.8 937.0,1682.0 938.6,1685.2 940.2,1688.3 941.8,1691.2 943.5,1694.1 945.1,1697.0 946.7,1700.4 948.3,1703.0 949.9,1705.6 951.5,1707.8 953.1,1710.2 954.7,1712.5 956.3,1715.3 957.9,1717.8 959.5,1720.3 961.1,1721.2 962.7,1723.6 964.3,1725.7 965.9,1728.6 967.6,1730.2 969.2,1731.7 970.8,1733.8 972.4,1735.3 974.0,1737.0 975.6,1738.8 977.2,1740.4 978.8,1742.0 980.4,1742.3 982.0,1743.7 983.6,1744.9 985.2,1746.2 986.8,1747.3 988.4,1748.5 990.0,1750.7 991.6,1752.1 993.3,1753.4 994.9,1752.9 996.5,1753.9 998.1,1754.5 999.7,1756.4 1001.3,1756.7 1002.9,1757.0 1004.5,1757.4 1006.1,1757.8 1007.7,1758.3 1009.3,1758.5 1010.9,1758.9 1012.5,1759.2 1014.1,1759.7 1015.7,1759.7 1017.3,1759.6 1019.0,1758.2 1020.6,1758.3 1022.2,1758.4 1023.8,1759.5 1025.4,1759.8 1027.0,1760.0 1028.6,1760.8 1030.2,1760.7 1031.8,1760.6 1033.4,1759.4 1035.0,1759.1 1036.6,1758.8 1038.2,1758.0 1039.8,1757.6 1041.4,1757.2 1043.1,1757.1 1044.7,1756.6 1046.3,1756.1 1047.9,1755.6 1049.5,1755.0 1051.1,1754.4 1052.7,1753.8 1054.3,1752.9 1055.9,1751.9 1057.5,1751.5 1059.1,1750.4 1060.7,1749.4 1062.3,1746.9 1063.9,1745.9 1065.5,1744.9 1067.1,1743.9 1068.8,1742.9 1070.4,1741.9 1072.0,1741.2 1073.6,1740.2 1075.2,1739.2 1076.8,1738.1 1078.4,1737.1 1080.0,1736.2 1081.6,1735.4 1083.2,1734.4 1084.8,1733.3 1086.4,1731.9 1088.0,1730.7 1089.6,1729.5 1091.2,1728.2 1092.9,1727.0 1094.5,1725.8 1096.1,1725.7 1097.7,1724.5 1099.3,1723.3 1100.9,1722.6 1102.5,1721.2 1104.1,1719.8 1105.7,1717.7 1107.3,1716.3 1108.9,1715.0 1110.5,1713.5 1111.9,1712.4 1113.4,1711.4 1115.1,1710.3 1116.9,1709.0 1118.3,1708.1 1119.7,1707.0 1121.2,1705.9 1122.7,1704.8 1124.3,1703.7 1125.9,1702.6 1127.5,1701.5 1129.0,1700.6 1130.5,1699.7 1131.9,1698.9 1133.3,1698.1 1134.8,1697.4 1136.2,1696.7 1137.7,1696.1 1139.3,1695.5 1141.0,1695.0 1142.5,1694.6 1144.0,1694.2 1145.6,1693.9 1147.3,1693.7 1149.0,1693.4 1150.6,1693.2 1152.3,1693.0 1154.0,1692.9 1155.6,1692.7 1157.1,1692.6 1158.8,1692.4 1160.5,1692.3 1162.1,1692.2 1163.8,1692.1 1165.4,1692.1 1166.9,1692.1 1168.4,1692.1 1169.8,1692.1 1171.2,1692.2 1173.1,1692.3 1174.5,1692.5 1175.8,1692.8 1177.5,1693.2 1180.0,1693.6 1181.1,1693.7 1182.4,1693.9 1183.7,1694.1 1185.1,1694.2 1186.6,1694.4 1188.2,1694.6 1189.7,1694.8 1191.4,1695.0 1193.0,1695.2 1194.7,1695.5 1196.3,1695.7 1197.9,1695.9 1199.5,1696.2 1201.0,1696.4 1202.5,1696.7 1204.0,1697.0 1205.4,1697.2 1206.8,1697.5 1208.3,1697.8 1209.7,1698.1 1211.1,1698.4 1212.6,1698.7 1214.1,1699.0 1215.6,1699.4 1217.1,1699.7 1218.7,1700.0 1220.3,1700.3 1222.0,1700.6 1223.4,1700.9 1224.8,1701.1 1226.2,1701.4 1227.7,1701.7 1229.2,1701.9 1230.8,1702.2 1232.3,1702.5 1233.9,1702.7 1235.4,1703.0 1237.0,1703.3 1238.6,1703.5 1240.2,1703.8 1241.7,1704.1 1243.3,1704.3 1244.9,1704.6 1246.4,1704.8 1247.9,1705.0 1249.4,1705.3 1251.0,1705.5 1252.6,1705.7 1254.3,1706.0 1255.9,1706.2 1257.5,1706.5 1259.2,1706.7 1260.8,1706.9 1262.4,1707.1 1263.9,1707.3 1265.5,1707.5 1267.1,1707.7 1268.6,1707.9 1270.1,1708.0 1271.6,1708.2 1273.1,1708.3 1274.6,1708.4 1276.2,1708.5 1277.7,1708.6 1279.2,1708.7 1280.7,1708.7 1282.1,1708.8 1283.5,1708.8 1285.0,1708.8 1286.4,1708.8 1287.8,1708.8 1289.3,1708.7 1290.7,1708.7 1292.3,1708.6 1293.9,1708.5 1295.6,1708.4 1297.0,1708.3 1298.4,1708.2 1299.8,1708.1 1301.3,1707.9 1302.8,1707.8 1304.3,1707.6 1305.9,1707.5 1307.4,1707.3 1309.0,1707.1 1310.6,1706.9 1312.2,1706.7 1313.7,1706.5 1315.3,1706.3 1316.9,1706.1 1318.4,1705.9 1319.9,1705.7 1321.4,1705.5 1322.9,1705.3 1324.6,1705.0 1326.2,1704.7 1327.8,1704.5 1329.4,1704.2 1331.0,1703.9 1332.5,1703.6 1334.1,1703.3 1335.7,1703.0 1337.2,1702.7 1338.8,1702.4 1340.3,1702.1 1341.9,1701.8 1343.4,1701.5 1345.0,1701.2 1346.6,1700.9 1348.1,1700.6 1349.7,1700.3 1351.3,1700.0 1353.0,1699.7 1354.6,1699.4 1356.3,1699.0 1358.0,1698.7 1359.6,1698.4 1361.3,1698.1 1362.9,1697.7 1364.5,1697.4 1366.1,1697.1 1367.6,1696.8 1369.1,1696.5 1370.6,1696.3 1372.0,1696.0 1373.4,1695.8 1375.2,1695.5 1376.9,1695.2 1378.4,1695.0 1379.9,1694.7 1381.3,1694.5 1382.7,1694.4 1384.1,1694.2 1385.5,1694.0 1387.0,1693.9 1388.5,1693.8 1390.2,1693.7 1391.5,1693.6 1393.0,1693.6 1394.4,1693.5 1395.9,1693.5 1397.4,1693.5 1398.9,1693.4 1400.4,1693.4 1402.0,1693.4 1403.5,1693.5 1405.1,1693.5 1406.6,1693.5 1408.2,1693.6 1409.7,1693.6 1411.2,1693.7 1412.7,1693.8 1414.2,1693.9 1415.7,1694.0 1417.2,1694.1 1418.7,1694.2 1420.2,1694.4 1421.7,1694.5 1423.2,1694.7 1424.7,1694.9 1426.2,1695.1 1427.7,1695.2 1429.2,1695.4 1430.7,1695.6 1432.2,1695.8 1433.7,1696.0 1435.1,1696.2 1436.6,1696.4 1438.0,1696.6 1439.4,1696.9 1440.8,1697.1 1442.3,1697.3 1443.7,1697.6 1445.2,1697.8 1446.7,1698.0 1448.2,1698.3 1449.8,1698.5 1451.5,1698.7 1453.2,1698.9 1454.7,1699.1 1456.2,1699.3 1457.9,1699.5 1459.6,1699.6 1461.4,1699.8 1463.2,1700.0 1465.0,1700.2 1466.9,1700.3 1468.7,1700.5 1470.5,1700.7 1472.3,1700.8 1474.0,1701.0 1475.6,1701.1 1477.1,1701.3 1478.4,1701.4 1479.6,1701.5 1480.7,1701.6 1481.6,1701.7" fill="none" stroke="#ff00ff" stroke-width="2.2" stroke-linejoin="miter" stroke-miterlimit="3"/>
<polyline clip-path="url(#c9)" points="885.0,1609.4 886.3,1608.8 888.0,1608.0 890.1,1608.7 892.0,1608.7 893.6,1609.6 895.2,1610.6 896.8,1611.9 898.5,1612.1 900.1,1613.7 901.7,1615.4 903.3,1617.8 904.9,1619.9 906.5,1622.0 908.1,1625.2 909.7,1627.4 911.3,1629.8 912.9,1630.6 914.5,1633.1 916.1,1635.6 917.8,1639.7 919.4,1642.5 921.0,1645.3 922.6,1648.0 924.2,1651.0 925.8,1654.1 927.4,1657.7 929.0,1661.1 930.6,1664.3 932.2,1665.6 933.8,1668.5 935.4,1671.3 937.0,1675.9 938.6,1678.6 940.2,1681.4 941.8,1682.5 943.5,1685.4 945.1,1688.2 946.7,1692.4 948.3,1695.1 949.9,1697.6 951.5,1699.9 953.1,1702.3 954.7,1704.6 956.3,1706.4 957.9,1708.9 959.5,1711.4 961.1,1713.2 962.7,1715.6 964.3,1717.8 965.9,1721.2 967.6,1722.9 969.2,1724.4 970.8,1725.6 972.4,1727.2 974.0,1728.8 975.6,1729.4 977.2,1731.1 978.8,1732.7 980.4,1735.1 982.0,1736.4 983.6,1737.7 985.2,1739.2 986.8,1740.3 988.4,1741.5 990.0,1742.0 991.6,1743.2 993.3,1744.5 994.9,1746.4 996.5,1747.5 998.1,1748.5 999.7,1748.7 1001.3,1749.6 1002.9,1750.3 1004.5,1750.9 1006.1,1751.4 1007.7,1751.8 1009.3,1752.1 1010.9,1752.5 1012.5,1752.8 1014.1,1752.9 1015.7,1753.3 1017.3,1753.7 1019.0,1754.8 1020.6,1755.1 1022.2,1755.4 1023.8,1755.0 1025.4,1755.2 1027.0,1755.4 1028.6,1756.0 1030.2,1756.2 1031.8,1756.5 1033.4,1756.4 1035.0,1756.6 1036.6,1756.6 1038.2,1757.4 1039.8,1757.0 1041.4,1756.6 1043.1,1756.0 1044.7,1755.5 1046.3,1755.0 1047.9,1753.9 1049.5,1753.3 1051.1,1752.7 1052.7,1751.7 1054.3,1750.8 1055.9,1749.8 1057.5,1748.5 1059.1,1747.4 1060.7,1746.5 1062.3,1745.4 1063.9,1744.6 1065.5,1743.9 1067.1,1744.0 1068.8,1743.1 1070.4,1742.2 1072.0,1740.4 1073.6,1739.3 1075.2,1738.3 1076.8,1737.3 1078.4,1736.3 1080.0,1735.4 1081.6,1734.4 1083.2,1733.5 1084.8,1732.5 1086.4,1731.2 1088.0,1730.0 1089.6,1728.8 1091.2,1729.5 1092.9,1728.3 1094.5,1727.1 1096.1,1724.2 1097.7,1723.0 1099.3,1721.8 1100.9,1721.5 1102.5,1720.1 1104.1,1718.7 1105.7,1716.4 1107.3,1715.0 1108.9,1713.6 1110.5,1713.1 1111.9,1712.1 1113.4,1711.1 1115.1,1710.1 1116.9,1708.8 1118.3,1707.9 1119.7,1706.9 1121.2,1705.8 1122.7,1704.7 1124.3,1703.6 1125.9,1702.5 1127.5,1701.5 1129.0,1700.6 1130.5,1699.7 1131.9,1698.9 1133.3,1698.1 1134.8,1697.4 1136.2,1696.7 1137.7,1696.1 1139.3,1695.5 1141.0,1695.0 1142.5,1694.6 1144.0,1694.2 1145.6,1693.9 1147.3,1693.7 1149.0,1693.4 1150.6,1693.2 1152.3,1693.0 1154.0,1692.9 1155.6,1692.7 1157.1,1692.6 1158.8,1692.4 1160.5,1692.3 1162.1,1692.2 1163.8,1692.1 1165.4,1692.1 1166.9,1692.1 1168.4,1692.1 1169.8,1692.1 1171.2,1692.2 1173.1,1692.3 1174.5,1692.5 1175.8,1692.8 1177.5,1693.2 1180.0,1693.6 1181.1,1693.7 1182.4,1693.9 1183.7,1694.1 1185.1,1694.2 1186.6,1694.4 1188.2,1694.6 1189.7,1694.8 1191.4,1695.0 1193.0,1695.2 1194.7,1695.5 1196.3,1695.7 1197.9,1695.9 1199.5,1696.2 1201.0,1696.4 1202.5,1696.7 1204.0,1697.0 1205.4,1697.2 1206.8,1697.5 1208.3,1697.8 1209.7,1698.1 1211.1,1698.4 1212.6,1698.7 1214.1,1699.0 1215.6,1699.4 1217.1,1699.7 1218.7,1700.0 1220.3,1700.3 1222.0,1700.6 1223.4,1700.9 1224.8,1701.1 1226.2,1701.4 1227.7,1701.7 1229.2,1701.9 1230.8,1702.2 1232.3,1702.5 1233.9,1702.7 1235.4,1703.0 1237.0,1703.3 1238.6,1703.5 1240.2,1703.8 1241.7,1704.1 1243.3,1704.3 1244.9,1704.6 1246.4,1704.8 1247.9,1705.0 1249.4,1705.3 1251.0,1705.5 1252.6,1705.7 1254.3,1706.0 1255.9,1706.2 1257.5,1706.5 1259.2,1706.7 1260.8,1706.9 1262.4,1707.1 1263.9,1707.3 1265.5,1707.5 1267.1,1707.7 1268.6,1707.9 1270.1,1708.0 1271.6,1708.2 1273.1,1708.3 1274.6,1708.4 1276.2,1708.5 1277.7,1708.6 1279.2,1708.7 1280.7,1708.7 1282.1,1708.8 1283.5,1708.8 1285.0,1708.8 1286.4,1708.8 1287.8,1708.8 1289.3,1708.7 1290.7,1708.7 1292.3,1708.6 1293.9,1708.5 1295.6,1708.4 1297.0,1708.3 1298.4,1708.2 1299.8,1708.1 1301.3,1707.9 1302.8,1707.8 1304.3,1707.6 1305.9,1707.5 1307.4,1707.3 1309.0,1707.1 1310.6,1706.9 1312.2,1706.7 1313.7,1706.5 1315.3,1706.3 1316.9,1706.1 1318.4,1705.9 1319.9,1705.7 1321.4,1705.5 1322.9,1705.3 1324.6,1705.0 1326.2,1704.7 1327.8,1704.5 1329.4,1704.2 1331.0,1703.9 1332.5,1703.6 1334.1,1703.3 1335.7,1703.0 1337.2,1702.7 1338.8,1702.4 1340.3,1702.1 1341.9,1701.8 1343.4,1701.5 1345.0,1701.2 1346.6,1700.9 1348.1,1700.6 1349.7,1700.3 1351.3,1700.0 1353.0,1699.7 1354.6,1699.4 1356.3,1699.0 1358.0,1698.7 1359.6,1698.4 1361.3,1698.1 1362.9,1697.7 1364.5,1697.4 1366.1,1697.1 1367.6,1696.8 1369.1,1696.5 1370.6,1696.3 1372.0,1696.0 1373.4,1695.8 1375.2,1695.5 1376.9,1695.2 1378.4,1695.0 1379.9,1694.7 1381.3,1694.5 1382.7,1694.4 1384.1,1694.2 1385.5,1694.0 1387.0,1693.9 1388.5,1693.8 1390.2,1693.7 1391.5,1693.6 1393.0,1693.6 1394.4,1693.5 1395.9,1693.5 1397.4,1693.5 1398.9,1693.4 1400.4,1693.4 1402.0,1693.4 1403.5,1693.5 1405.1,1693.5 1406.6,1693.5 1408.2,1693.6 1409.7,1693.6 1411.2,1693.7 1412.7,1693.8 1414.2,1693.9 1415.7,1694.0 1417.2,1694.1 1418.7,1694.2 1420.2,1694.4 1421.7,1694.5 1423.2,1694.7 1424.7,1694.9 1426.2,1695.1 1427.7,1695.2 1429.2,1695.4 1430.7,1695.6 1432.2,1695.8 1433.7,1696.0 1435.1,1696.2 1436.6,1696.4 1438.0,1696.6 1439.4,1696.9 1440.8,1697.1 1442.3,1697.3 1443.7,1697.6 1445.2,1697.8 1446.7,1698.0 1448.2,1698.3 1449.8,1698.5 1451.5,1698.7 1453.2,1698.9 1454.7,1699.1 1456.2,1699.3 1457.9,1699.5 1459.6,1699.6 1461.4,1699.8 1463.2,1700.0 1465.0,1700.2 1466.9,1700.3 1468.7,1700.5 1470.5,1700.7 1472.3,1700.8 1474.0,1701.0 1475.6,1701.1 1477.1,1701.3 1478.4,1701.4 1479.6,1701.5 1480.7,1701.6 1481.6,1701.7" fill="none" stroke="#ff00ff" stroke-width="2.2" stroke-linejoin="miter" stroke-miterlimit="3"/>
<polyline clip-path="url(#c9)" points="885.0,1596.1 886.3,1596.4 888.0,1596.6 890.1,1597.7 892.0,1598.7 893.6,1598.7 895.2,1600.1 896.8,1601.8 898.5,1604.5 900.1,1606.3 901.7,1608.2 903.3,1610.9 904.9,1612.9 906.5,1615.0 908.1,1616.7 909.7,1619.0 911.3,1621.3 912.9,1623.3 914.5,1625.8 916.1,1628.4 917.8,1631.3 919.4,1634.1 921.0,1637.0 922.6,1639.7 924.2,1642.5 925.8,1645.3 927.4,1647.4 929.0,1650.2 930.6,1653.0 932.2,1656.0 933.8,1658.8 935.4,1661.6 937.0,1664.6 938.6,1667.5 940.2,1670.3 941.8,1672.5 943.5,1675.3 945.1,1678.1 946.7,1681.9 948.3,1684.7 949.9,1687.5 951.5,1690.2 953.1,1693.0 954.7,1695.8 956.3,1698.0 957.9,1700.6 959.5,1703.1 961.1,1705.8 962.7,1708.2 964.3,1710.4 965.9,1713.3 967.6,1715.4 969.2,1717.4 970.8,1718.3 972.4,1720.1 974.0,1721.9 975.6,1724.4 977.2,1726.0 978.8,1727.5 980.4,1728.6 982.0,1729.9 983.6,1731.1 985.2,1733.1 986.8,1734.3 988.4,1735.4 990.0,1735.8 991.6,1737.0 993.3,1738.3 994.9,1738.7 996.5,1739.8 998.1,1740.7 999.7,1742.6 1001.3,1743.4 1002.9,1744.1 1004.5,1745.0 1006.1,1745.6 1007.7,1746.0 1009.3,1745.7 1010.9,1746.1 1012.5,1746.4 1014.1,1746.4 1015.7,1746.8 1017.3,1747.2 1019.0,1748.8 1020.6,1749.2 1022.2,1749.6 1023.8,1749.6 1025.4,1750.0 1027.0,1750.4 1028.6,1749.9 1030.2,1750.4 1031.8,1750.9 1033.4,1751.3 1035.0,1751.7 1036.6,1751.9 1038.2,1752.5 1039.8,1752.4 1041.4,1752.1 1043.1,1752.8 1044.7,1752.5 1046.3,1752.2 1047.9,1750.5 1049.5,1750.1 1051.1,1749.7 1052.7,1749.0 1054.3,1748.3 1055.9,1747.5 1057.5,1748.3 1059.1,1747.4 1060.7,1746.6 1062.3,1744.5 1063.9,1743.7 1065.5,1742.9 1067.1,1741.8 1068.8,1741.0 1070.4,1740.1 1072.0,1740.0 1073.6,1739.0 1075.2,1738.1 1076.8,1737.0 1078.4,1736.2 1080.0,1735.3 1081.6,1735.3 1083.2,1734.4 1084.8,1733.4 1086.4,1730.9 1088.0,1729.8 1089.6,1728.6 1091.2,1728.1 1092.9,1726.9 1094.5,1725.8 1096.1,1725.1 1097.7,1723.9 1099.3,1722.6 1100.9,1720.7 1102.5,1719.4 1104.1,1717.9 1105.7,1717.4 1107.3,1715.9 1108.9,1714.6 1110.5,1712.9 1111.9,1711.9 1113.4,1710.9 1115.1,1709.8 1116.9,1708.6 1118.3,1707.7 1119.7,1706.7 1121.2,1705.7 1122.7,1704.6 1124.3,1703.5 1125.9,1702.5 1127.5,1701.5 1129.0,1700.6 1130.5,1699.7 1131.9,1698.9 1133.3,1698.2 1134.8,1697.4 1136.2,1696.7 1137.7,1696.1 1139.3,1695.5 1141.0,1695.0 1142.5,1694.6 1144.0,1694.2 1145.6,1693.9 1147.3,1693.7 1149.0,1693.4 1150.6,1693.2 1152.3,1693.0 1154.0,1692.9 1155.6,1692.7 1157.1,1692.6 1158.8,1692.4 1160.5,1692.3 1162.1,1692.2 1163.8,1692.1 1165.4,1692.1 1166.9,1692.1 1168.4,1692.1 1169.8,1692.1 1171.2,1692.2 1173.1,1692.3 1174.5,1692.5 1175.8,1692.8 1177.5,1693.2 1180.0,1693.6 1181.1,1693.7 1182.4,1693.9 1183.7,1694.1 1185.1,1694.2 1186.6,1694.4 1188.2,1694.6 1189.7,1694.8 1191.4,1695.0 1193.0,1695.2 1194.7,1695.5 1196.3,1695.7 1197.9,1695.9 1199.5,1696.2 1201.0,1696.4 1202.5,1696.7 1204.0,1697.0 1205.4,1697.2 1206.8,1697.5 1208.3,1697.8 1209.7,1698.1 1211.1,1698.4 1212.6,1698.7 1214.1,1699.0 1215.6,1699.4 1217.1,1699.7 1218.7,1700.0 1220.3,1700.3 1222.0,1700.6 1223.4,1700.9 1224.8,1701.1 1226.2,1701.4 1227.7,1701.7 1229.2,1701.9 1230.8,1702.2 1232.3,1702.5 1233.9,1702.7 1235.4,1703.0 1237.0,1703.3 1238.6,1703.5 1240.2,1703.8 1241.7,1704.1 1243.3,1704.3 1244.9,1704.6 1246.4,1704.8 1247.9,1705.0 1249.4,1705.3 1251.0,1705.5 1252.6,1705.7 1254.3,1706.0 1255.9,1706.2 1257.5,1706.5 1259.2,1706.7 1260.8,1706.9 1262.4,1707.1 1263.9,1707.3 1265.5,1707.5 1267.1,1707.7 1268.6,1707.9 1270.1,1708.0 1271.6,1708.2 1273.1,1708.3 1274.6,1708.4 1276.2,1708.5 1277.7,1708.6 1279.2,1708.7 1280.7,1708.7 1282.1,1708.8 1283.5,1708.8 1285.0,1708.8 1286.4,1708.8 1287.8,1708.8 1289.3,1708.7 1290.7,1708.7 1292.3,1708.6 1293.9,1708.5 1295.6,1708.4 1297.0,1708.3 1298.4,1708.2 1299.8,1708.1 1301.3,1707.9 1302.8,1707.8 1304.3,1707.6 1305.9,1707.5 1307.4,1707.3 1309.0,1707.1 1310.6,1706.9 1312.2,1706.7 1313.7,1706.5 1315.3,1706.3 1316.9,1706.1 1318.4,1705.9 1319.9,1705.7 1321.4,1705.5 1322.9,1705.3 1324.6,1705.0 1326.2,1704.7 1327.8,1704.5 1329.4,1704.2 1331.0,1703.9 1332.5,1703.6 1334.1,1703.3 1335.7,1703.0 1337.2,1702.7 1338.8,1702.4 1340.3,1702.1 1341.9,1701.8 1343.4,1701.5 1345.0,1701.2 1346.6,1700.9 1348.1,1700.6 1349.7,1700.3 1351.3,1700.0 1353.0,1699.7 1354.6,1699.4 1356.3,1699.0 1358.0,1698.7 1359.6,1698.4 1361.3,1698.1 1362.9,1697.7 1364.5,1697.4 1366.1,1697.1 1367.6,1696.8 1369.1,1696.5 1370.6,1696.3 1372.0,1696.0 1373.4,1695.8 1375.2,1695.5 1376.9,1695.2 1378.4,1695.0 1379.9,1694.7 1381.3,1694.5 1382.7,1694.4 1384.1,1694.2 1385.5,1694.0 1387.0,1693.9 1388.5,1693.8 1390.2,1693.7 1391.5,1693.6 1393.0,1693.6 1394.4,1693.5 1395.9,1693.5 1397.4,1693.5 1398.9,1693.4 1400.4,1693.4 1402.0,1693.4 1403.5,1693.5 1405.1,1693.5 1406.6,1693.5 1408.2,1693.6 1409.7,1693.6 1411.2,1693.7 1412.7,1693.8 1414.2,1693.9 1415.7,1694.0 1417.2,1694.1 1418.7,1694.2 1420.2,1694.4 1421.7,1694.5 1423.2,1694.7 1424.7,1694.9 1426.2,1695.1 1427.7,1695.2 1429.2,1695.4 1430.7,1695.6 1432.2,1695.8 1433.7,1696.0 1435.1,1696.2 1436.6,1696.4 1438.0,1696.6 1439.4,1696.9 1440.8,1697.1 1442.3,1697.3 1443.7,1697.6 1445.2,1697.8 1446.7,1698.0 1448.2,1698.3 1449.8,1698.5 1451.5,1698.7 1453.2,1698.9 1454.7,1699.1 1456.2,1699.3 1457.9,1699.5 1459.6,1699.6 1461.4,1699.8 1463.2,1700.0 1465.0,1700.2 1466.9,1700.3 1468.7,1700.5 1470.5,1700.7 1472.3,1700.8 1474.0,1701.0 1475.6,1701.1 1477.1,1701.3 1478.4,1701.4 1479.6,1701.5 1480.7,1701.6 1481.6,1701.7" fill="none" stroke="#ff00ff" stroke-width="2.2" stroke-linejoin="miter" stroke-miterlimit="3"/>
<polyline clip-path="url(#c9)" points="885.0,1591.7 886.1,1587.0 888.0,1582.7 889.3,1582.8 890.9,1583.8 892.5,1585.3 894.1,1586.3 895.5,1587.6 896.9,1589.1 898.4,1590.1 900.1,1591.8 901.6,1593.2 903.1,1595.8 904.8,1597.4 906.5,1599.1 908.1,1599.6 909.7,1601.8 911.3,1604.2 912.9,1607.7 914.5,1610.2 916.1,1612.7 917.8,1614.7 919.4,1617.0 921.0,1619.4 922.6,1622.3 924.2,1624.8 925.8,1627.5 927.4,1629.4 929.0,1632.3 930.6,1635.2 932.2,1639.1 933.8,1641.9 935.4,1644.7 937.0,1646.7 938.6,1649.6 940.2,1652.4 941.8,1654.9 943.5,1657.8 945.1,1660.6 946.7,1663.3 948.3,1665.9 949.9,1668.4 951.5,1670.6 953.1,1672.9 954.7,1675.2 956.3,1679.1 957.9,1681.9 959.5,1684.7 961.1,1686.4 962.7,1689.2 964.3,1691.9 965.9,1694.7 967.6,1697.1 969.2,1699.6 970.8,1702.0 972.4,1704.2 974.0,1706.4 975.6,1709.3 977.2,1711.3 978.8,1713.2 980.4,1714.1 982.0,1715.9 983.6,1717.6 985.2,1719.8 986.8,1721.3 988.4,1722.7 990.0,1724.4 991.6,1725.7 993.3,1726.9 994.9,1726.8 996.5,1727.8 998.1,1728.7 999.8,1730.3 1001.4,1731.0 1003.0,1731.8 1004.5,1733.2 1006.1,1734.7 1007.4,1736.4 1008.8,1736.6 1010.5,1737.8 1012.0,1738.4 1013.6,1739.4 1015.4,1739.6 1017.2,1740.8 1019.0,1741.1 1020.6,1741.5 1022.3,1740.9 1023.9,1742.1 1025.5,1743.3 1027.0,1745.7 1028.6,1746.4 1030.2,1746.5 1031.8,1745.9 1033.4,1745.4 1035.0,1745.1 1036.6,1745.5 1038.2,1746.1 1039.8,1747.0 1041.4,1747.5 1043.1,1748.5 1044.7,1748.9 1046.3,1749.0 1047.9,1748.6 1049.5,1748.1 1051.1,1747.8 1052.7,1747.3 1054.3,1746.9 1055.9,1745.2 1057.5,1744.9 1059.1,1744.5 1060.7,1744.3 1062.3,1743.6 1063.9,1742.9 1065.5,1743.2 1067.1,1742.4 1068.8,1741.5 1070.4,1740.5 1072.0,1739.5 1073.6,1738.5 1075.2,1736.5 1076.8,1735.5 1078.4,1734.7 1080.0,1734.0 1081.6,1733.2 1083.2,1732.4 1084.8,1730.9 1086.4,1730.0 1088.0,1729.0 1089.6,1729.5 1091.2,1728.5 1092.9,1727.4 1094.5,1725.4 1096.1,1724.3 1097.7,1723.1 1099.3,1722.8 1100.9,1721.5 1102.5,1720.2 1104.1,1718.1 1105.7,1716.6 1107.3,1715.2 1108.9,1714.3 1110.5,1712.6 1111.9,1711.6 1113.4,1710.7 1115.1,1709.8 1116.9,1708.6 1118.3,1707.7 1119.7,1706.8 1121.2,1705.7 1122.7,1704.7 1124.3,1703.6 1125.9,1702.5 1127.5,1701.5 1129.0,1700.6 1130.5,1699.7 1131.9,1698.8 1133.3,1698.0 1134.8,1697.2 1136.2,1696.4 1137.7,1695.7 1139.3,1695.1 1141.0,1694.6 1142.5,1694.2 1144.0,1693.9 1145.6,1693.6 1147.3,1693.4 1149.0,1693.2 1150.6,1693.0 1152.3,1692.9 1154.0,1692.8 1155.6,1692.7 1157.1,1692.6 1158.8,1692.5 1160.5,1692.4 1162.1,1692.3 1163.8,1692.3 1165.4,1692.3 1166.9,1692.4 1168.4,1692.4 1169.8,1692.5 1171.2,1692.6 1173.1,1692.8 1174.5,1693.0 1175.8,1693.4 1177.5,1693.8 1180.0,1694.2 1181.1,1694.3 1182.4,1694.4 1183.7,1694.6 1185.1,1694.7 1186.6,1694.8 1188.2,1695.0 1189.7,1695.1 1191.4,1695.3 1193.0,1695.4 1194.7,1695.6 1196.3,1695.8 1197.9,1696.0 1199.5,1696.2 1201.0,1696.4 1202.5,1696.7 1204.0,1696.9 1205.4,1697.2 1206.8,1697.5 1208.3,1697.8 1209.7,1698.1 1211.1,1698.4 1212.6,1698.7 1214.1,1699.0 1215.6,1699.3 1217.1,1699.7 1218.7,1700.0 1220.3,1700.3 1222.0,1700.6 1223.4,1700.9 1224.8,1701.1 1226.2,1701.4 1227.7,1701.7 1229.2,1701.9 1230.8,1702.2 1232.3,1702.5 1233.9,1702.7 1235.4,1703.0 1237.0,1703.3 1238.6,1703.5 1240.2,1703.8 1241.7,1704.1 1243.3,1704.3 1244.9,1704.6 1246.4,1704.8 1247.9,1705.0 1249.4,1705.3 1251.0,1705.5 1252.6,1705.7 1254.3,1706.0 1255.9,1706.2 1257.5,1706.5 1259.2,1706.7 1260.8,1706.9 1262.4,1707.1 1263.9,1707.3 1265.5,1707.5 1267.1,1707.7 1268.6,1707.9 1270.1,1708.0 1271.6,1708.2 1273.1,1708.3 1274.6,1708.4 1276.2,1708.5 1277.7,1708.6 1279.2,1708.7 1280.7,1708.7 1282.1,1708.8 1283.5,1708.8 1285.0,1708.8 1286.4,1708.8 1287.8,1708.8 1289.3,1708.7 1290.7,1708.7 1292.3,1708.6 1293.9,1708.5 1295.6,1708.4 1297.0,1708.3 1298.4,1708.2 1299.8,1708.1 1301.3,1707.9 1302.8,1707.8 1304.3,1707.6 1305.9,1707.5 1307.4,1707.3 1309.0,1707.1 1310.6,1706.9 1312.2,1706.7 1313.7,1706.5 1315.3,1706.3 1316.9,1706.1 1318.4,1705.9 1319.9,1705.7 1321.4,1705.5 1322.9,1705.3 1324.6,1705.0 1326.2,1704.7 1327.8,1704.5 1329.4,1704.2 1331.0,1703.9 1332.5,1703.6 1334.1,1703.3 1335.7,1703.0 1337.2,1702.7 1338.8,1702.4 1340.3,1702.1 1341.9,1701.8 1343.4,1701.5 1345.0,1701.2 1346.6,1700.9 1348.1,1700.6 1349.7,1700.3 1351.3,1700.0 1353.0,1699.7 1354.6,1699.4 1356.3,1699.0 1358.0,1698.7 1359.6,1698.4 1361.3,1698.1 1362.9,1697.7 1364.5,1697.4 1366.1,1697.1 1367.6,1696.8 1369.1,1696.5 1370.6,1696.3 1372.0,1696.0 1373.4,1695.8 1375.2,1695.5 1376.9,1695.2 1378.4,1695.0 1379.9,1694.7 1381.3,1694.5 1382.7,1694.4 1384.1,1694.2 1385.5,1694.0 1387.0,1693.9 1388.5,1693.8 1390.2,1693.7 1391.5,1693.6 1393.0,1693.6 1394.4,1693.5 1395.9,1693.5 1397.4,1693.5 1398.9,1693.4 1400.4,1693.4 1402.0,1693.4 1403.5,1693.5 1405.1,1693.5 1406.6,1693.5 1408.2,1693.6 1409.7,1693.6 1411.2,1693.7 1412.7,1693.8 1414.2,1693.9 1415.7,1694.0 1417.2,1694.1 1418.7,1694.2 1420.2,1694.4 1421.7,1694.5 1423.2,1694.7 1424.7,1694.9 1426.2,1695.1 1427.7,1695.2 1429.2,1695.4 1430.7,1695.6 1432.2,1695.8 1433.7,1696.0 1435.1,1696.2 1436.6,1696.4 1438.0,1696.6 1439.4,1696.9 1440.8,1697.1 1442.3,1697.3 1443.7,1697.6 1445.2,1697.8 1446.7,1698.0 1448.2,1698.3 1449.8,1698.5 1451.5,1698.7 1453.2,1698.9 1454.7,1699.1 1456.2,1699.3 1457.9,1699.5 1459.6,1699.6 1461.4,1699.8 1463.2,1700.0 1465.0,1700.2 1466.9,1700.3 1468.7,1700.5 1470.5,1700.7 1472.3,1700.8 1474.0,1701.0 1475.6,1701.1 1477.1,1701.3 1478.4,1701.4 1479.6,1701.5 1480.7,1701.6 1481.6,1701.7" fill="none" stroke="#0000ff" stroke-width="3.7" stroke-linejoin="miter" stroke-miterlimit="3"/>
<line x1="148.6" y1="459.0" x2="164.8" y2="459.0" stroke="#000000" stroke-width="2.4"/>
<line x1="148.6" y1="449.8" x2="164.8" y2="449.8" stroke="#000000" stroke-width="2.4"/>
<line x1="148.6" y1="441.6" x2="180.1" y2="441.6" stroke="#000000" stroke-width="2.4"/>
<line x1="148.6" y1="387.4" x2="164.8" y2="387.4" stroke="#000000" stroke-width="2.4"/>
<line x1="148.6" y1="355.7" x2="164.8" y2="355.7" stroke="#000000" stroke-width="2.4"/>
<line x1="148.6" y1="333.2" x2="164.8" y2="333.2" stroke="#000000" stroke-width="2.4"/>
<line x1="148.6" y1="315.8" x2="164.8" y2="315.8" stroke="#000000" stroke-width="2.4"/>
<line x1="148.6" y1="301.5" x2="164.8" y2="301.5" stroke="#000000" stroke-width="2.4"/>
<line x1="148.6" y1="289.5" x2="164.8" y2="289.5" stroke="#000000" stroke-width="2.4"/>
<line x1="148.6" y1="279.0" x2="164.8" y2="279.0" stroke="#000000" stroke-width="2.4"/>
<line x1="148.6" y1="269.8" x2="164.8" y2="269.8" stroke="#000000" stroke-width="2.4"/>
<line x1="148.6" y1="261.6" x2="180.1" y2="261.6" stroke="#000000" stroke-width="2.4"/>
<line x1="148.6" y1="207.4" x2="164.8" y2="207.4" stroke="#000000" stroke-width="2.4"/>
<line x1="148.6" y1="175.7" x2="164.8" y2="175.7" stroke="#000000" stroke-width="2.4"/>
<line x1="148.6" y1="153.2" x2="164.8" y2="153.2" stroke="#000000" stroke-width="2.4"/>
<line x1="148.6" y1="135.8" x2="164.8" y2="135.8" stroke="#000000" stroke-width="2.4"/>
<line x1="148.6" y1="121.5" x2="164.8" y2="121.5" stroke="#000000" stroke-width="2.4"/>
<line x1="148.6" y1="109.5" x2="164.8" y2="109.5" stroke="#000000" stroke-width="2.4"/>
<line x1="148.6" y1="99.0" x2="164.8" y2="99.0" stroke="#000000" stroke-width="2.4"/>
<line x1="148.6" y1="89.8" x2="164.8" y2="89.8" stroke="#000000" stroke-width="2.4"/>
<line x1="148.6" y1="81.6" x2="180.1" y2="81.6" stroke="#000000" stroke-width="2.4"/>
<line x1="148.6" y1="27.4" x2="164.8" y2="27.4" stroke="#000000" stroke-width="2.4"/>
<line x1="148.6" y1="459.3" x2="148.6" y2="428.1" stroke="#000000" stroke-width="2.4"/>
<line x1="185.0" y1="459.3" x2="185.0" y2="443.3" stroke="#000000" stroke-width="2.4"/>
<line x1="221.3" y1="459.3" x2="221.3" y2="428.1" stroke="#000000" stroke-width="2.4"/>
<line x1="257.7" y1="459.3" x2="257.7" y2="443.3" stroke="#000000" stroke-width="2.4"/>
<line x1="294.0" y1="459.3" x2="294.0" y2="428.1" stroke="#000000" stroke-width="2.4"/>
<line x1="330.4" y1="459.3" x2="330.4" y2="443.3" stroke="#000000" stroke-width="2.4"/>
<line x1="366.7" y1="459.3" x2="366.7" y2="428.1" stroke="#000000" stroke-width="2.4"/>
<line x1="403.1" y1="459.3" x2="403.1" y2="443.3" stroke="#000000" stroke-width="2.4"/>
<line x1="439.4" y1="459.3" x2="439.4" y2="428.1" stroke="#000000" stroke-width="2.4"/>
<line x1="475.8" y1="459.3" x2="475.8" y2="443.3" stroke="#000000" stroke-width="2.4"/>
<line x1="512.2" y1="459.3" x2="512.2" y2="428.1" stroke="#000000" stroke-width="2.4"/>
<line x1="548.5" y1="459.3" x2="548.5" y2="443.3" stroke="#000000" stroke-width="2.4"/>
<line x1="584.9" y1="459.3" x2="584.9" y2="428.1" stroke="#000000" stroke-width="2.4"/>
<line x1="621.2" y1="459.3" x2="621.2" y2="443.3" stroke="#000000" stroke-width="2.4"/>
<line x1="657.6" y1="459.3" x2="657.6" y2="428.1" stroke="#000000" stroke-width="2.4"/>
<line x1="693.9" y1="459.3" x2="693.9" y2="443.3" stroke="#000000" stroke-width="2.4"/>
<line x1="730.3" y1="459.3" x2="730.3" y2="428.1" stroke="#000000" stroke-width="2.4"/>
<path d="M148.6,27.5 L148.6,459.3 L730.3,459.3" fill="none" stroke="#000" stroke-width="2.5" stroke-linecap="square"/>
<line x1="148.6" y1="921.8" x2="164.8" y2="921.8" stroke="#000000" stroke-width="2.4"/>
<line x1="148.6" y1="912.6" x2="164.8" y2="912.6" stroke="#000000" stroke-width="2.4"/>
<line x1="148.6" y1="904.4" x2="180.1" y2="904.4" stroke="#000000" stroke-width="2.4"/>
<line x1="148.6" y1="850.2" x2="164.8" y2="850.2" stroke="#000000" stroke-width="2.4"/>
<line x1="148.6" y1="818.5" x2="164.8" y2="818.5" stroke="#000000" stroke-width="2.4"/>
<line x1="148.6" y1="796.0" x2="164.8" y2="796.0" stroke="#000000" stroke-width="2.4"/>
<line x1="148.6" y1="778.6" x2="164.8" y2="778.6" stroke="#000000" stroke-width="2.4"/>
<line x1="148.6" y1="764.3" x2="164.8" y2="764.3" stroke="#000000" stroke-width="2.4"/>
<line x1="148.6" y1="752.3" x2="164.8" y2="752.3" stroke="#000000" stroke-width="2.4"/>
<line x1="148.6" y1="741.8" x2="164.8" y2="741.8" stroke="#000000" stroke-width="2.4"/>
<line x1="148.6" y1="732.6" x2="164.8" y2="732.6" stroke="#000000" stroke-width="2.4"/>
<line x1="148.6" y1="724.4" x2="180.1" y2="724.4" stroke="#000000" stroke-width="2.4"/>
<line x1="148.6" y1="670.2" x2="164.8" y2="670.2" stroke="#000000" stroke-width="2.4"/>
<line x1="148.6" y1="638.5" x2="164.8" y2="638.5" stroke="#000000" stroke-width="2.4"/>
<line x1="148.6" y1="616.0" x2="164.8" y2="616.0" stroke="#000000" stroke-width="2.4"/>
<line x1="148.6" y1="598.6" x2="164.8" y2="598.6" stroke="#000000" stroke-width="2.4"/>
<line x1="148.6" y1="584.3" x2="164.8" y2="584.3" stroke="#000000" stroke-width="2.4"/>
<line x1="148.6" y1="572.3" x2="164.8" y2="572.3" stroke="#000000" stroke-width="2.4"/>
<line x1="148.6" y1="561.8" x2="164.8" y2="561.8" stroke="#000000" stroke-width="2.4"/>
<line x1="148.6" y1="552.6" x2="164.8" y2="552.6" stroke="#000000" stroke-width="2.4"/>
<line x1="148.6" y1="544.4" x2="180.1" y2="544.4" stroke="#000000" stroke-width="2.4"/>
<line x1="148.6" y1="490.2" x2="164.8" y2="490.2" stroke="#000000" stroke-width="2.4"/>
<line x1="148.6" y1="922.2" x2="148.6" y2="891.0" stroke="#000000" stroke-width="2.4"/>
<line x1="185.0" y1="922.2" x2="185.0" y2="906.2" stroke="#000000" stroke-width="2.4"/>
<line x1="221.3" y1="922.2" x2="221.3" y2="891.0" stroke="#000000" stroke-width="2.4"/>
<line x1="257.7" y1="922.2" x2="257.7" y2="906.2" stroke="#000000" stroke-width="2.4"/>
<line x1="294.0" y1="922.2" x2="294.0" y2="891.0" stroke="#000000" stroke-width="2.4"/>
<line x1="330.4" y1="922.2" x2="330.4" y2="906.2" stroke="#000000" stroke-width="2.4"/>
<line x1="366.7" y1="922.2" x2="366.7" y2="891.0" stroke="#000000" stroke-width="2.4"/>
<line x1="403.1" y1="922.2" x2="403.1" y2="906.2" stroke="#000000" stroke-width="2.4"/>
<line x1="439.4" y1="922.2" x2="439.4" y2="891.0" stroke="#000000" stroke-width="2.4"/>
<line x1="475.8" y1="922.2" x2="475.8" y2="906.2" stroke="#000000" stroke-width="2.4"/>
<line x1="512.2" y1="922.2" x2="512.2" y2="891.0" stroke="#000000" stroke-width="2.4"/>
<line x1="548.5" y1="922.2" x2="548.5" y2="906.2" stroke="#000000" stroke-width="2.4"/>
<line x1="584.9" y1="922.2" x2="584.9" y2="891.0" stroke="#000000" stroke-width="2.4"/>
<line x1="621.2" y1="922.2" x2="621.2" y2="906.2" stroke="#000000" stroke-width="2.4"/>
<line x1="657.6" y1="922.2" x2="657.6" y2="891.0" stroke="#000000" stroke-width="2.4"/>
<line x1="693.9" y1="922.2" x2="693.9" y2="906.2" stroke="#000000" stroke-width="2.4"/>
<line x1="730.3" y1="922.2" x2="730.3" y2="891.0" stroke="#000000" stroke-width="2.4"/>
<path d="M148.6,490.0 L148.6,922.2 L730.3,922.2" fill="none" stroke="#000" stroke-width="2.5" stroke-linecap="square"/>
<line x1="148.6" y1="1385.1" x2="164.8" y2="1385.1" stroke="#000000" stroke-width="2.4"/>
<line x1="148.6" y1="1375.9" x2="164.8" y2="1375.9" stroke="#000000" stroke-width="2.4"/>
<line x1="148.6" y1="1367.7" x2="180.1" y2="1367.7" stroke="#000000" stroke-width="2.4"/>
<line x1="148.6" y1="1313.5" x2="164.8" y2="1313.5" stroke="#000000" stroke-width="2.4"/>
<line x1="148.6" y1="1281.8" x2="164.8" y2="1281.8" stroke="#000000" stroke-width="2.4"/>
<line x1="148.6" y1="1259.3" x2="164.8" y2="1259.3" stroke="#000000" stroke-width="2.4"/>
<line x1="148.6" y1="1241.9" x2="164.8" y2="1241.9" stroke="#000000" stroke-width="2.4"/>
<line x1="148.6" y1="1227.6" x2="164.8" y2="1227.6" stroke="#000000" stroke-width="2.4"/>
<line x1="148.6" y1="1215.6" x2="164.8" y2="1215.6" stroke="#000000" stroke-width="2.4"/>
<line x1="148.6" y1="1205.1" x2="164.8" y2="1205.1" stroke="#000000" stroke-width="2.4"/>
<line x1="148.6" y1="1195.9" x2="164.8" y2="1195.9" stroke="#000000" stroke-width="2.4"/>
<line x1="148.6" y1="1187.7" x2="180.1" y2="1187.7" stroke="#000000" stroke-width="2.4"/>
<line x1="148.6" y1="1133.5" x2="164.8" y2="1133.5" stroke="#000000" stroke-width="2.4"/>
<line x1="148.6" y1="1101.8" x2="164.8" y2="1101.8" stroke="#000000" stroke-width="2.4"/>
<line x1="148.6" y1="1079.3" x2="164.8" y2="1079.3" stroke="#000000" stroke-width="2.4"/>
<line x1="148.6" y1="1061.9" x2="164.8" y2="1061.9" stroke="#000000" stroke-width="2.4"/>
<line x1="148.6" y1="1047.6" x2="164.8" y2="1047.6" stroke="#000000" stroke-width="2.4"/>
<line x1="148.6" y1="1035.6" x2="164.8" y2="1035.6" stroke="#000000" stroke-width="2.4"/>
<line x1="148.6" y1="1025.1" x2="164.8" y2="1025.1" stroke="#000000" stroke-width="2.4"/>
<line x1="148.6" y1="1015.9" x2="164.8" y2="1015.9" stroke="#000000" stroke-width="2.4"/>
<line x1="148.6" y1="1007.7" x2="180.1" y2="1007.7" stroke="#000000" stroke-width="2.4"/>
<line x1="148.6" y1="953.5" x2="164.8" y2="953.5" stroke="#000000" stroke-width="2.4"/>
<line x1="148.6" y1="1385.6" x2="148.6" y2="1354.4" stroke="#000000" stroke-width="2.4"/>
<line x1="185.0" y1="1385.6" x2="185.0" y2="1369.6" stroke="#000000" stroke-width="2.4"/>
<line x1="221.3" y1="1385.6" x2="221.3" y2="1354.4" stroke="#000000" stroke-width="2.4"/>
<line x1="257.7" y1="1385.6" x2="257.7" y2="1369.6" stroke="#000000" stroke-width="2.4"/>
<line x1="294.0" y1="1385.6" x2="294.0" y2="1354.4" stroke="#000000" stroke-width="2.4"/>
<line x1="330.4" y1="1385.6" x2="330.4" y2="1369.6" stroke="#000000" stroke-width="2.4"/>
<line x1="366.7" y1="1385.6" x2="366.7" y2="1354.4" stroke="#000000" stroke-width="2.4"/>
<line x1="403.1" y1="1385.6" x2="403.1" y2="1369.6" stroke="#000000" stroke-width="2.4"/>
<line x1="439.4" y1="1385.6" x2="439.4" y2="1354.4" stroke="#000000" stroke-width="2.4"/>
<line x1="475.8" y1="1385.6" x2="475.8" y2="1369.6" stroke="#000000" stroke-width="2.4"/>
<line x1="512.2" y1="1385.6" x2="512.2" y2="1354.4" stroke="#000000" stroke-width="2.4"/>
<line x1="548.5" y1="1385.6" x2="548.5" y2="1369.6" stroke="#000000" stroke-width="2.4"/>
<line x1="584.9" y1="1385.6" x2="584.9" y2="1354.4" stroke="#000000" stroke-width="2.4"/>
<line x1="621.2" y1="1385.6" x2="621.2" y2="1369.6" stroke="#000000" stroke-width="2.4"/>
<line x1="657.6" y1="1385.6" x2="657.6" y2="1354.4" stroke="#000000" stroke-width="2.4"/>
<line x1="693.9" y1="1385.6" x2="693.9" y2="1369.6" stroke="#000000" stroke-width="2.4"/>
<line x1="730.3" y1="1385.6" x2="730.3" y2="1354.4" stroke="#000000" stroke-width="2.4"/>
<path d="M148.6,953.0 L148.6,1385.6 L730.3,1385.6" fill="none" stroke="#000" stroke-width="2.5" stroke-linecap="square"/>
<line x1="148.6" y1="1863.6" x2="164.8" y2="1863.6" stroke="#000000" stroke-width="2.4"/>
<line x1="148.6" y1="1854.0" x2="164.8" y2="1854.0" stroke="#000000" stroke-width="2.4"/>
<line x1="148.6" y1="1845.5" x2="180.1" y2="1845.5" stroke="#000000" stroke-width="2.4"/>
<line x1="148.6" y1="1789.3" x2="164.8" y2="1789.3" stroke="#000000" stroke-width="2.4"/>
<line x1="148.6" y1="1756.4" x2="164.8" y2="1756.4" stroke="#000000" stroke-width="2.4"/>
<line x1="148.6" y1="1733.1" x2="164.8" y2="1733.1" stroke="#000000" stroke-width="2.4"/>
<line x1="148.6" y1="1715.0" x2="164.8" y2="1715.0" stroke="#000000" stroke-width="2.4"/>
<line x1="148.6" y1="1700.2" x2="164.8" y2="1700.2" stroke="#000000" stroke-width="2.4"/>
<line x1="148.6" y1="1687.7" x2="164.8" y2="1687.7" stroke="#000000" stroke-width="2.4"/>
<line x1="148.6" y1="1676.8" x2="164.8" y2="1676.8" stroke="#000000" stroke-width="2.4"/>
<line x1="148.6" y1="1667.3" x2="164.8" y2="1667.3" stroke="#000000" stroke-width="2.4"/>
<line x1="148.6" y1="1658.8" x2="180.1" y2="1658.8" stroke="#000000" stroke-width="2.4"/>
<line x1="148.6" y1="1602.5" x2="164.8" y2="1602.5" stroke="#000000" stroke-width="2.4"/>
<line x1="148.6" y1="1569.6" x2="164.8" y2="1569.6" stroke="#000000" stroke-width="2.4"/>
<line x1="148.6" y1="1546.3" x2="164.8" y2="1546.3" stroke="#000000" stroke-width="2.4"/>
<line x1="148.6" y1="1528.2" x2="164.8" y2="1528.2" stroke="#000000" stroke-width="2.4"/>
<line x1="148.6" y1="1513.4" x2="164.8" y2="1513.4" stroke="#000000" stroke-width="2.4"/>
<line x1="148.6" y1="1500.9" x2="164.8" y2="1500.9" stroke="#000000" stroke-width="2.4"/>
<line x1="148.6" y1="1490.1" x2="164.8" y2="1490.1" stroke="#000000" stroke-width="2.4"/>
<line x1="148.6" y1="1480.5" x2="164.8" y2="1480.5" stroke="#000000" stroke-width="2.4"/>
<line x1="148.6" y1="1472.0" x2="180.1" y2="1472.0" stroke="#000000" stroke-width="2.4"/>
<line x1="148.6" y1="1415.8" x2="164.8" y2="1415.8" stroke="#000000" stroke-width="2.4"/>
<line x1="148.6" y1="1864.3" x2="148.6" y2="1833.1" stroke="#000000" stroke-width="2.4"/>
<line x1="185.0" y1="1864.3" x2="185.0" y2="1848.3" stroke="#000000" stroke-width="2.4"/>
<line x1="221.3" y1="1864.3" x2="221.3" y2="1833.1" stroke="#000000" stroke-width="2.4"/>
<line x1="257.7" y1="1864.3" x2="257.7" y2="1848.3" stroke="#000000" stroke-width="2.4"/>
<line x1="294.0" y1="1864.3" x2="294.0" y2="1833.1" stroke="#000000" stroke-width="2.4"/>
<line x1="330.4" y1="1864.3" x2="330.4" y2="1848.3" stroke="#000000" stroke-width="2.4"/>
<line x1="366.7" y1="1864.3" x2="366.7" y2="1833.1" stroke="#000000" stroke-width="2.4"/>
<line x1="403.1" y1="1864.3" x2="403.1" y2="1848.3" stroke="#000000" stroke-width="2.4"/>
<line x1="439.4" y1="1864.3" x2="439.4" y2="1833.1" stroke="#000000" stroke-width="2.4"/>
<line x1="475.8" y1="1864.3" x2="475.8" y2="1848.3" stroke="#000000" stroke-width="2.4"/>
<line x1="512.2" y1="1864.3" x2="512.2" y2="1833.1" stroke="#000000" stroke-width="2.4"/>
<line x1="548.5" y1="1864.3" x2="548.5" y2="1848.3" stroke="#000000" stroke-width="2.4"/>
<line x1="584.9" y1="1864.3" x2="584.9" y2="1833.1" stroke="#000000" stroke-width="2.4"/>
<line x1="621.2" y1="1864.3" x2="621.2" y2="1848.3" stroke="#000000" stroke-width="2.4"/>
<line x1="657.6" y1="1864.3" x2="657.6" y2="1833.1" stroke="#000000" stroke-width="2.4"/>
<line x1="693.9" y1="1864.3" x2="693.9" y2="1848.3" stroke="#000000" stroke-width="2.4"/>
<line x1="730.3" y1="1864.3" x2="730.3" y2="1833.1" stroke="#000000" stroke-width="2.4"/>
<path d="M148.6,1416.2 L148.6,1864.3 L730.3,1864.3" fill="none" stroke="#000" stroke-width="2.5" stroke-linecap="square"/>
<line x1="883.0" y1="333.5" x2="891.5" y2="333.5" stroke="#000000" stroke-width="2.4"/>
<line x1="883.0" y1="327.8" x2="891.5" y2="327.8" stroke="#000000" stroke-width="2.4"/>
<line x1="883.0" y1="323.1" x2="891.5" y2="323.1" stroke="#000000" stroke-width="2.4"/>
<line x1="883.0" y1="319.0" x2="891.5" y2="319.0" stroke="#000000" stroke-width="2.4"/>
<line x1="883.0" y1="315.3" x2="891.5" y2="315.3" stroke="#000000" stroke-width="2.4"/>
<line x1="883.0" y1="312.1" x2="906.6" y2="312.1" stroke="#000000" stroke-width="2.4"/>
<line x1="883.0" y1="290.6" x2="891.5" y2="290.6" stroke="#000000" stroke-width="2.4"/>
<line x1="883.0" y1="278.1" x2="891.5" y2="278.1" stroke="#000000" stroke-width="2.4"/>
<line x1="883.0" y1="269.2" x2="891.5" y2="269.2" stroke="#000000" stroke-width="2.4"/>
<line x1="883.0" y1="262.3" x2="891.5" y2="262.3" stroke="#000000" stroke-width="2.4"/>
<line x1="883.0" y1="256.7" x2="891.5" y2="256.7" stroke="#000000" stroke-width="2.4"/>
<line x1="883.0" y1="251.9" x2="891.5" y2="251.9" stroke="#000000" stroke-width="2.4"/>
<line x1="883.0" y1="247.8" x2="891.5" y2="247.8" stroke="#000000" stroke-width="2.4"/>
<line x1="883.0" y1="244.1" x2="891.5" y2="244.1" stroke="#000000" stroke-width="2.4"/>
<line x1="883.0" y1="240.9" x2="906.6" y2="240.9" stroke="#000000" stroke-width="2.4"/>
<line x1="883.0" y1="219.5" x2="891.5" y2="219.5" stroke="#000000" stroke-width="2.4"/>
<line x1="883.0" y1="206.9" x2="891.5" y2="206.9" stroke="#000000" stroke-width="2.4"/>
<line x1="883.0" y1="198.0" x2="891.5" y2="198.0" stroke="#000000" stroke-width="2.4"/>
<line x1="883.0" y1="191.2" x2="891.5" y2="191.2" stroke="#000000" stroke-width="2.4"/>
<line x1="883.0" y1="185.5" x2="891.5" y2="185.5" stroke="#000000" stroke-width="2.4"/>
<line x1="883.0" y1="180.8" x2="891.5" y2="180.8" stroke="#000000" stroke-width="2.4"/>
<line x1="883.0" y1="176.6" x2="891.5" y2="176.6" stroke="#000000" stroke-width="2.4"/>
<line x1="883.0" y1="173.0" x2="891.5" y2="173.0" stroke="#000000" stroke-width="2.4"/>
<line x1="883.0" y1="169.7" x2="906.6" y2="169.7" stroke="#000000" stroke-width="2.4"/>
<line x1="883.0" y1="148.3" x2="891.5" y2="148.3" stroke="#000000" stroke-width="2.4"/>
<line x1="883.0" y1="135.8" x2="891.5" y2="135.8" stroke="#000000" stroke-width="2.4"/>
<line x1="883.0" y1="126.9" x2="891.5" y2="126.9" stroke="#000000" stroke-width="2.4"/>
<line x1="883.0" y1="120.0" x2="891.5" y2="120.0" stroke="#000000" stroke-width="2.4"/>
<line x1="883.0" y1="114.4" x2="891.5" y2="114.4" stroke="#000000" stroke-width="2.4"/>
<line x1="883.0" y1="109.6" x2="891.5" y2="109.6" stroke="#000000" stroke-width="2.4"/>
<line x1="883.0" y1="105.5" x2="891.5" y2="105.5" stroke="#000000" stroke-width="2.4"/>
<line x1="883.0" y1="101.8" x2="891.5" y2="101.8" stroke="#000000" stroke-width="2.4"/>
<line x1="883.0" y1="98.6" x2="906.6" y2="98.6" stroke="#000000" stroke-width="2.4"/>
<line x1="883.0" y1="77.1" x2="891.5" y2="77.1" stroke="#000000" stroke-width="2.4"/>
<line x1="883.0" y1="64.6" x2="891.5" y2="64.6" stroke="#000000" stroke-width="2.4"/>
<line x1="883.0" y1="55.7" x2="891.5" y2="55.7" stroke="#000000" stroke-width="2.4"/>
<line x1="883.0" y1="48.8" x2="891.5" y2="48.8" stroke="#000000" stroke-width="2.4"/>
<line x1="883.0" y1="43.2" x2="891.5" y2="43.2" stroke="#000000" stroke-width="2.4"/>
<line x1="883.0" y1="38.4" x2="891.5" y2="38.4" stroke="#000000" stroke-width="2.4"/>
<line x1="883.0" y1="34.3" x2="891.5" y2="34.3" stroke="#000000" stroke-width="2.4"/>
<line x1="883.0" y1="30.7" x2="891.5" y2="30.7" stroke="#000000" stroke-width="2.4"/>
<line x1="883.0" y1="27.4" x2="906.6" y2="27.4" stroke="#000000" stroke-width="2.4"/>
<line x1="883.0" y1="333.5" x2="883.0" y2="302.5" stroke="#000000" stroke-width="2.4"/>
<line x1="920.4" y1="333.5" x2="920.4" y2="318.0" stroke="#000000" stroke-width="2.4"/>
<line x1="957.7" y1="333.5" x2="957.7" y2="302.5" stroke="#000000" stroke-width="2.4"/>
<line x1="995.1" y1="333.5" x2="995.1" y2="318.0" stroke="#000000" stroke-width="2.4"/>
<line x1="1032.5" y1="333.5" x2="1032.5" y2="302.5" stroke="#000000" stroke-width="2.4"/>
<line x1="1069.8" y1="333.5" x2="1069.8" y2="318.0" stroke="#000000" stroke-width="2.4"/>
<line x1="1107.2" y1="333.5" x2="1107.2" y2="302.5" stroke="#000000" stroke-width="2.4"/>
<line x1="1144.5" y1="333.5" x2="1144.5" y2="318.0" stroke="#000000" stroke-width="2.4"/>
<line x1="1181.9" y1="333.5" x2="1181.9" y2="302.5" stroke="#000000" stroke-width="2.4"/>
<line x1="1219.3" y1="333.5" x2="1219.3" y2="318.0" stroke="#000000" stroke-width="2.4"/>
<line x1="1256.6" y1="333.5" x2="1256.6" y2="302.5" stroke="#000000" stroke-width="2.4"/>
<line x1="1294.0" y1="333.5" x2="1294.0" y2="318.0" stroke="#000000" stroke-width="2.4"/>
<line x1="1331.3" y1="333.5" x2="1331.3" y2="302.5" stroke="#000000" stroke-width="2.4"/>
<line x1="1368.7" y1="333.5" x2="1368.7" y2="318.0" stroke="#000000" stroke-width="2.4"/>
<line x1="1406.1" y1="333.5" x2="1406.1" y2="302.5" stroke="#000000" stroke-width="2.4"/>
<line x1="1443.4" y1="333.5" x2="1443.4" y2="318.0" stroke="#000000" stroke-width="2.4"/>
<line x1="1480.8" y1="333.5" x2="1480.8" y2="302.5" stroke="#000000" stroke-width="2.4"/>
<path d="M883.0,27.4 L883.0,333.5 L1480.8,333.5" fill="none" stroke="#000" stroke-width="2.5" stroke-linecap="square"/>
<line x1="883.0" y1="639.6" x2="891.5" y2="639.6" stroke="#000000" stroke-width="2.4"/>
<line x1="883.0" y1="633.9" x2="891.5" y2="633.9" stroke="#000000" stroke-width="2.4"/>
<line x1="883.0" y1="629.2" x2="891.5" y2="629.2" stroke="#000000" stroke-width="2.4"/>
<line x1="883.0" y1="625.0" x2="891.5" y2="625.0" stroke="#000000" stroke-width="2.4"/>
<line x1="883.0" y1="621.4" x2="891.5" y2="621.4" stroke="#000000" stroke-width="2.4"/>
<line x1="883.0" y1="618.1" x2="906.6" y2="618.1" stroke="#000000" stroke-width="2.4"/>
<line x1="883.0" y1="596.7" x2="891.5" y2="596.7" stroke="#000000" stroke-width="2.4"/>
<line x1="883.0" y1="584.2" x2="891.5" y2="584.2" stroke="#000000" stroke-width="2.4"/>
<line x1="883.0" y1="575.3" x2="891.5" y2="575.3" stroke="#000000" stroke-width="2.4"/>
<line x1="883.0" y1="568.4" x2="891.5" y2="568.4" stroke="#000000" stroke-width="2.4"/>
<line x1="883.0" y1="562.8" x2="891.5" y2="562.8" stroke="#000000" stroke-width="2.4"/>
<line x1="883.0" y1="558.0" x2="891.5" y2="558.0" stroke="#000000" stroke-width="2.4"/>
<line x1="883.0" y1="553.9" x2="891.5" y2="553.9" stroke="#000000" stroke-width="2.4"/>
<line x1="883.0" y1="550.2" x2="891.5" y2="550.2" stroke="#000000" stroke-width="2.4"/>
<line x1="883.0" y1="547.0" x2="906.6" y2="547.0" stroke="#000000" stroke-width="2.4"/>
<line x1="883.0" y1="525.6" x2="891.5" y2="525.6" stroke="#000000" stroke-width="2.4"/>
<line x1="883.0" y1="513.0" x2="891.5" y2="513.0" stroke="#000000" stroke-width="2.4"/>
<line x1="883.0" y1="504.1" x2="891.5" y2="504.1" stroke="#000000" stroke-width="2.4"/>
<line x1="883.0" y1="497.2" x2="891.5" y2="497.2" stroke="#000000" stroke-width="2.4"/>
<line x1="883.0" y1="491.6" x2="891.5" y2="491.6" stroke="#000000" stroke-width="2.4"/>
<line x1="883.0" y1="486.8" x2="891.5" y2="486.8" stroke="#000000" stroke-width="2.4"/>
<line x1="883.0" y1="482.7" x2="891.5" y2="482.7" stroke="#000000" stroke-width="2.4"/>
<line x1="883.0" y1="479.1" x2="891.5" y2="479.1" stroke="#000000" stroke-width="2.4"/>
<line x1="883.0" y1="475.8" x2="906.6" y2="475.8" stroke="#000000" stroke-width="2.4"/>
<line x1="883.0" y1="454.4" x2="891.5" y2="454.4" stroke="#000000" stroke-width="2.4"/>
<line x1="883.0" y1="441.9" x2="891.5" y2="441.9" stroke="#000000" stroke-width="2.4"/>
<line x1="883.0" y1="433.0" x2="891.5" y2="433.0" stroke="#000000" stroke-width="2.4"/>
<line x1="883.0" y1="426.1" x2="891.5" y2="426.1" stroke="#000000" stroke-width="2.4"/>
<line x1="883.0" y1="420.4" x2="891.5" y2="420.4" stroke="#000000" stroke-width="2.4"/>
<line x1="883.0" y1="415.7" x2="891.5" y2="415.7" stroke="#000000" stroke-width="2.4"/>
<line x1="883.0" y1="411.5" x2="891.5" y2="411.5" stroke="#000000" stroke-width="2.4"/>
<line x1="883.0" y1="407.9" x2="891.5" y2="407.9" stroke="#000000" stroke-width="2.4"/>
<line x1="883.0" y1="404.6" x2="906.6" y2="404.6" stroke="#000000" stroke-width="2.4"/>
<line x1="883.0" y1="383.2" x2="891.5" y2="383.2" stroke="#000000" stroke-width="2.4"/>
<line x1="883.0" y1="370.7" x2="891.5" y2="370.7" stroke="#000000" stroke-width="2.4"/>
<line x1="883.0" y1="361.8" x2="891.5" y2="361.8" stroke="#000000" stroke-width="2.4"/>
<line x1="883.0" y1="354.9" x2="891.5" y2="354.9" stroke="#000000" stroke-width="2.4"/>
<line x1="883.0" y1="349.3" x2="891.5" y2="349.3" stroke="#000000" stroke-width="2.4"/>
<line x1="883.0" y1="344.5" x2="891.5" y2="344.5" stroke="#000000" stroke-width="2.4"/>
<line x1="883.0" y1="340.4" x2="891.5" y2="340.4" stroke="#000000" stroke-width="2.4"/>
<line x1="883.0" y1="336.7" x2="891.5" y2="336.7" stroke="#000000" stroke-width="2.4"/>
<line x1="883.0" y1="333.5" x2="906.6" y2="333.5" stroke="#000000" stroke-width="2.4"/>
<line x1="883.0" y1="639.6" x2="883.0" y2="608.6" stroke="#000000" stroke-width="2.4"/>
<line x1="920.4" y1="639.6" x2="920.4" y2="624.1" stroke="#000000" stroke-width="2.4"/>
<line x1="957.7" y1="639.6" x2="957.7" y2="608.6" stroke="#000000" stroke-width="2.4"/>
<line x1="995.1" y1="639.6" x2="995.1" y2="624.1" stroke="#000000" stroke-width="2.4"/>
<line x1="1032.5" y1="639.6" x2="1032.5" y2="608.6" stroke="#000000" stroke-width="2.4"/>
<line x1="1069.8" y1="639.6" x2="1069.8" y2="624.1" stroke="#000000" stroke-width="2.4"/>
<line x1="1107.2" y1="639.6" x2="1107.2" y2="608.6" stroke="#000000" stroke-width="2.4"/>
<line x1="1144.5" y1="639.6" x2="1144.5" y2="624.1" stroke="#000000" stroke-width="2.4"/>
<line x1="1181.9" y1="639.6" x2="1181.9" y2="608.6" stroke="#000000" stroke-width="2.4"/>
<line x1="1219.3" y1="639.6" x2="1219.3" y2="624.1" stroke="#000000" stroke-width="2.4"/>
<line x1="1256.6" y1="639.6" x2="1256.6" y2="608.6" stroke="#000000" stroke-width="2.4"/>
<line x1="1294.0" y1="639.6" x2="1294.0" y2="624.1" stroke="#000000" stroke-width="2.4"/>
<line x1="1331.3" y1="639.6" x2="1331.3" y2="608.6" stroke="#000000" stroke-width="2.4"/>
<line x1="1368.7" y1="639.6" x2="1368.7" y2="624.1" stroke="#000000" stroke-width="2.4"/>
<line x1="1406.1" y1="639.6" x2="1406.1" y2="608.6" stroke="#000000" stroke-width="2.4"/>
<line x1="1443.4" y1="639.6" x2="1443.4" y2="624.1" stroke="#000000" stroke-width="2.4"/>
<line x1="1480.8" y1="639.6" x2="1480.8" y2="608.6" stroke="#000000" stroke-width="2.4"/>
<path d="M883.0,333.5 L883.0,639.6 L1480.8,639.6" fill="none" stroke="#000" stroke-width="2.5" stroke-linecap="square"/>
<line x1="883.0" y1="945.6" x2="891.5" y2="945.6" stroke="#000000" stroke-width="2.4"/>
<line x1="883.0" y1="940.0" x2="891.5" y2="940.0" stroke="#000000" stroke-width="2.4"/>
<line x1="883.0" y1="935.2" x2="891.5" y2="935.2" stroke="#000000" stroke-width="2.4"/>
<line x1="883.0" y1="931.1" x2="891.5" y2="931.1" stroke="#000000" stroke-width="2.4"/>
<line x1="883.0" y1="927.5" x2="891.5" y2="927.5" stroke="#000000" stroke-width="2.4"/>
<line x1="883.0" y1="924.2" x2="906.6" y2="924.2" stroke="#000000" stroke-width="2.4"/>
<line x1="883.0" y1="902.8" x2="891.5" y2="902.8" stroke="#000000" stroke-width="2.4"/>
<line x1="883.0" y1="890.3" x2="891.5" y2="890.3" stroke="#000000" stroke-width="2.4"/>
<line x1="883.0" y1="881.4" x2="891.5" y2="881.4" stroke="#000000" stroke-width="2.4"/>
<line x1="883.0" y1="874.5" x2="891.5" y2="874.5" stroke="#000000" stroke-width="2.4"/>
<line x1="883.0" y1="868.8" x2="891.5" y2="868.8" stroke="#000000" stroke-width="2.4"/>
<line x1="883.0" y1="864.1" x2="891.5" y2="864.1" stroke="#000000" stroke-width="2.4"/>
<line x1="883.0" y1="859.9" x2="891.5" y2="859.9" stroke="#000000" stroke-width="2.4"/>
<line x1="883.0" y1="856.3" x2="891.5" y2="856.3" stroke="#000000" stroke-width="2.4"/>
<line x1="883.0" y1="853.1" x2="906.6" y2="853.1" stroke="#000000" stroke-width="2.4"/>
<line x1="883.0" y1="831.6" x2="891.5" y2="831.6" stroke="#000000" stroke-width="2.4"/>
<line x1="883.0" y1="819.1" x2="891.5" y2="819.1" stroke="#000000" stroke-width="2.4"/>
<line x1="883.0" y1="810.2" x2="891.5" y2="810.2" stroke="#000000" stroke-width="2.4"/>
<line x1="883.0" y1="803.3" x2="891.5" y2="803.3" stroke="#000000" stroke-width="2.4"/>
<line x1="883.0" y1="797.7" x2="891.5" y2="797.7" stroke="#000000" stroke-width="2.4"/>
<line x1="883.0" y1="792.9" x2="891.5" y2="792.9" stroke="#000000" stroke-width="2.4"/>
<line x1="883.0" y1="788.8" x2="891.5" y2="788.8" stroke="#000000" stroke-width="2.4"/>
<line x1="883.0" y1="785.1" x2="891.5" y2="785.1" stroke="#000000" stroke-width="2.4"/>
<line x1="883.0" y1="781.9" x2="906.6" y2="781.9" stroke="#000000" stroke-width="2.4"/>
<line x1="883.0" y1="760.5" x2="891.5" y2="760.5" stroke="#000000" stroke-width="2.4"/>
<line x1="883.0" y1="747.9" x2="891.5" y2="747.9" stroke="#000000" stroke-width="2.4"/>
<line x1="883.0" y1="739.0" x2="891.5" y2="739.0" stroke="#000000" stroke-width="2.4"/>
<line x1="883.0" y1="732.1" x2="891.5" y2="732.1" stroke="#000000" stroke-width="2.4"/>
<line x1="883.0" y1="726.5" x2="891.5" y2="726.5" stroke="#000000" stroke-width="2.4"/>
<line x1="883.0" y1="721.7" x2="891.5" y2="721.7" stroke="#000000" stroke-width="2.4"/>
<line x1="883.0" y1="717.6" x2="891.5" y2="717.6" stroke="#000000" stroke-width="2.4"/>
<line x1="883.0" y1="714.0" x2="891.5" y2="714.0" stroke="#000000" stroke-width="2.4"/>
<line x1="883.0" y1="710.7" x2="906.6" y2="710.7" stroke="#000000" stroke-width="2.4"/>
<line x1="883.0" y1="689.3" x2="891.5" y2="689.3" stroke="#000000" stroke-width="2.4"/>
<line x1="883.0" y1="676.8" x2="891.5" y2="676.8" stroke="#000000" stroke-width="2.4"/>
<line x1="883.0" y1="667.9" x2="891.5" y2="667.9" stroke="#000000" stroke-width="2.4"/>
<line x1="883.0" y1="661.0" x2="891.5" y2="661.0" stroke="#000000" stroke-width="2.4"/>
<line x1="883.0" y1="655.3" x2="891.5" y2="655.3" stroke="#000000" stroke-width="2.4"/>
<line x1="883.0" y1="650.6" x2="891.5" y2="650.6" stroke="#000000" stroke-width="2.4"/>
<line x1="883.0" y1="646.5" x2="891.5" y2="646.5" stroke="#000000" stroke-width="2.4"/>
<line x1="883.0" y1="642.8" x2="891.5" y2="642.8" stroke="#000000" stroke-width="2.4"/>
<line x1="883.0" y1="639.6" x2="906.6" y2="639.6" stroke="#000000" stroke-width="2.4"/>
<line x1="883.0" y1="945.6" x2="883.0" y2="914.6" stroke="#000000" stroke-width="2.4"/>
<line x1="920.4" y1="945.6" x2="920.4" y2="930.1" stroke="#000000" stroke-width="2.4"/>
<line x1="957.7" y1="945.6" x2="957.7" y2="914.6" stroke="#000000" stroke-width="2.4"/>
<line x1="995.1" y1="945.6" x2="995.1" y2="930.1" stroke="#000000" stroke-width="2.4"/>
<line x1="1032.5" y1="945.6" x2="1032.5" y2="914.6" stroke="#000000" stroke-width="2.4"/>
<line x1="1069.8" y1="945.6" x2="1069.8" y2="930.1" stroke="#000000" stroke-width="2.4"/>
<line x1="1107.2" y1="945.6" x2="1107.2" y2="914.6" stroke="#000000" stroke-width="2.4"/>
<line x1="1144.5" y1="945.6" x2="1144.5" y2="930.1" stroke="#000000" stroke-width="2.4"/>
<line x1="1181.9" y1="945.6" x2="1181.9" y2="914.6" stroke="#000000" stroke-width="2.4"/>
<line x1="1219.3" y1="945.6" x2="1219.3" y2="930.1" stroke="#000000" stroke-width="2.4"/>
<line x1="1256.6" y1="945.6" x2="1256.6" y2="914.6" stroke="#000000" stroke-width="2.4"/>
<line x1="1294.0" y1="945.6" x2="1294.0" y2="930.1" stroke="#000000" stroke-width="2.4"/>
<line x1="1331.3" y1="945.6" x2="1331.3" y2="914.6" stroke="#000000" stroke-width="2.4"/>
<line x1="1368.7" y1="945.6" x2="1368.7" y2="930.1" stroke="#000000" stroke-width="2.4"/>
<line x1="1406.1" y1="945.6" x2="1406.1" y2="914.6" stroke="#000000" stroke-width="2.4"/>
<line x1="1443.4" y1="945.6" x2="1443.4" y2="930.1" stroke="#000000" stroke-width="2.4"/>
<line x1="1480.8" y1="945.6" x2="1480.8" y2="914.6" stroke="#000000" stroke-width="2.4"/>
<path d="M883.0,639.6 L883.0,945.6 L1480.8,945.6" fill="none" stroke="#000" stroke-width="2.5" stroke-linecap="square"/>
<line x1="883.0" y1="1251.7" x2="891.5" y2="1251.7" stroke="#000000" stroke-width="2.4"/>
<line x1="883.0" y1="1246.1" x2="891.5" y2="1246.1" stroke="#000000" stroke-width="2.4"/>
<line x1="883.0" y1="1241.3" x2="891.5" y2="1241.3" stroke="#000000" stroke-width="2.4"/>
<line x1="883.0" y1="1237.2" x2="891.5" y2="1237.2" stroke="#000000" stroke-width="2.4"/>
<line x1="883.0" y1="1233.6" x2="891.5" y2="1233.6" stroke="#000000" stroke-width="2.4"/>
<line x1="883.0" y1="1230.3" x2="906.6" y2="1230.3" stroke="#000000" stroke-width="2.4"/>
<line x1="883.0" y1="1208.9" x2="891.5" y2="1208.9" stroke="#000000" stroke-width="2.4"/>
<line x1="883.0" y1="1196.3" x2="891.5" y2="1196.3" stroke="#000000" stroke-width="2.4"/>
<line x1="883.0" y1="1187.5" x2="891.5" y2="1187.5" stroke="#000000" stroke-width="2.4"/>
<line x1="883.0" y1="1180.6" x2="891.5" y2="1180.6" stroke="#000000" stroke-width="2.4"/>
<line x1="883.0" y1="1174.9" x2="891.5" y2="1174.9" stroke="#000000" stroke-width="2.4"/>
<line x1="883.0" y1="1170.2" x2="891.5" y2="1170.2" stroke="#000000" stroke-width="2.4"/>
<line x1="883.0" y1="1166.0" x2="891.5" y2="1166.0" stroke="#000000" stroke-width="2.4"/>
<line x1="883.0" y1="1162.4" x2="891.5" y2="1162.4" stroke="#000000" stroke-width="2.4"/>
<line x1="883.0" y1="1159.1" x2="906.6" y2="1159.1" stroke="#000000" stroke-width="2.4"/>
<line x1="883.0" y1="1137.7" x2="891.5" y2="1137.7" stroke="#000000" stroke-width="2.4"/>
<line x1="883.0" y1="1125.2" x2="891.5" y2="1125.2" stroke="#000000" stroke-width="2.4"/>
<line x1="883.0" y1="1116.3" x2="891.5" y2="1116.3" stroke="#000000" stroke-width="2.4"/>
<line x1="883.0" y1="1109.4" x2="891.5" y2="1109.4" stroke="#000000" stroke-width="2.4"/>
<line x1="883.0" y1="1103.8" x2="891.5" y2="1103.8" stroke="#000000" stroke-width="2.4"/>
<line x1="883.0" y1="1099.0" x2="891.5" y2="1099.0" stroke="#000000" stroke-width="2.4"/>
<line x1="883.0" y1="1094.9" x2="891.5" y2="1094.9" stroke="#000000" stroke-width="2.4"/>
<line x1="883.0" y1="1091.2" x2="891.5" y2="1091.2" stroke="#000000" stroke-width="2.4"/>
<line x1="883.0" y1="1088.0" x2="906.6" y2="1088.0" stroke="#000000" stroke-width="2.4"/>
<line x1="883.0" y1="1066.5" x2="891.5" y2="1066.5" stroke="#000000" stroke-width="2.4"/>
<line x1="883.0" y1="1054.0" x2="891.5" y2="1054.0" stroke="#000000" stroke-width="2.4"/>
<line x1="883.0" y1="1045.1" x2="891.5" y2="1045.1" stroke="#000000" stroke-width="2.4"/>
<line x1="883.0" y1="1038.2" x2="891.5" y2="1038.2" stroke="#000000" stroke-width="2.4"/>
<line x1="883.0" y1="1032.6" x2="891.5" y2="1032.6" stroke="#000000" stroke-width="2.4"/>
<line x1="883.0" y1="1027.8" x2="891.5" y2="1027.8" stroke="#000000" stroke-width="2.4"/>
<line x1="883.0" y1="1023.7" x2="891.5" y2="1023.7" stroke="#000000" stroke-width="2.4"/>
<line x1="883.0" y1="1020.1" x2="891.5" y2="1020.1" stroke="#000000" stroke-width="2.4"/>
<line x1="883.0" y1="1016.8" x2="906.6" y2="1016.8" stroke="#000000" stroke-width="2.4"/>
<line x1="883.0" y1="995.4" x2="891.5" y2="995.4" stroke="#000000" stroke-width="2.4"/>
<line x1="883.0" y1="982.9" x2="891.5" y2="982.9" stroke="#000000" stroke-width="2.4"/>
<line x1="883.0" y1="974.0" x2="891.5" y2="974.0" stroke="#000000" stroke-width="2.4"/>
<line x1="883.0" y1="967.1" x2="891.5" y2="967.1" stroke="#000000" stroke-width="2.4"/>
<line x1="883.0" y1="961.4" x2="891.5" y2="961.4" stroke="#000000" stroke-width="2.4"/>
<line x1="883.0" y1="956.7" x2="891.5" y2="956.7" stroke="#000000" stroke-width="2.4"/>
<line x1="883.0" y1="952.5" x2="891.5" y2="952.5" stroke="#000000" stroke-width="2.4"/>
<line x1="883.0" y1="948.9" x2="891.5" y2="948.9" stroke="#000000" stroke-width="2.4"/>
<line x1="883.0" y1="945.6" x2="906.6" y2="945.6" stroke="#000000" stroke-width="2.4"/>
<line x1="883.0" y1="1251.7" x2="883.0" y2="1220.7" stroke="#000000" stroke-width="2.4"/>
<line x1="920.4" y1="1251.7" x2="920.4" y2="1236.2" stroke="#000000" stroke-width="2.4"/>
<line x1="957.7" y1="1251.7" x2="957.7" y2="1220.7" stroke="#000000" stroke-width="2.4"/>
<line x1="995.1" y1="1251.7" x2="995.1" y2="1236.2" stroke="#000000" stroke-width="2.4"/>
<line x1="1032.5" y1="1251.7" x2="1032.5" y2="1220.7" stroke="#000000" stroke-width="2.4"/>
<line x1="1069.8" y1="1251.7" x2="1069.8" y2="1236.2" stroke="#000000" stroke-width="2.4"/>
<line x1="1107.2" y1="1251.7" x2="1107.2" y2="1220.7" stroke="#000000" stroke-width="2.4"/>
<line x1="1144.5" y1="1251.7" x2="1144.5" y2="1236.2" stroke="#000000" stroke-width="2.4"/>
<line x1="1181.9" y1="1251.7" x2="1181.9" y2="1220.7" stroke="#000000" stroke-width="2.4"/>
<line x1="1219.3" y1="1251.7" x2="1219.3" y2="1236.2" stroke="#000000" stroke-width="2.4"/>
<line x1="1256.6" y1="1251.7" x2="1256.6" y2="1220.7" stroke="#000000" stroke-width="2.4"/>
<line x1="1294.0" y1="1251.7" x2="1294.0" y2="1236.2" stroke="#000000" stroke-width="2.4"/>
<line x1="1331.3" y1="1251.7" x2="1331.3" y2="1220.7" stroke="#000000" stroke-width="2.4"/>
<line x1="1368.7" y1="1251.7" x2="1368.7" y2="1236.2" stroke="#000000" stroke-width="2.4"/>
<line x1="1406.1" y1="1251.7" x2="1406.1" y2="1220.7" stroke="#000000" stroke-width="2.4"/>
<line x1="1443.4" y1="1251.7" x2="1443.4" y2="1236.2" stroke="#000000" stroke-width="2.4"/>
<line x1="1480.8" y1="1251.7" x2="1480.8" y2="1220.7" stroke="#000000" stroke-width="2.4"/>
<path d="M883.0,945.6 L883.0,1251.7 L1480.8,1251.7" fill="none" stroke="#000" stroke-width="2.5" stroke-linecap="square"/>
<line x1="883.0" y1="1557.8" x2="891.5" y2="1557.8" stroke="#000000" stroke-width="2.4"/>
<line x1="883.0" y1="1552.2" x2="891.5" y2="1552.2" stroke="#000000" stroke-width="2.4"/>
<line x1="883.0" y1="1547.4" x2="891.5" y2="1547.4" stroke="#000000" stroke-width="2.4"/>
<line x1="883.0" y1="1543.3" x2="891.5" y2="1543.3" stroke="#000000" stroke-width="2.4"/>
<line x1="883.0" y1="1539.6" x2="891.5" y2="1539.6" stroke="#000000" stroke-width="2.4"/>
<line x1="883.0" y1="1536.4" x2="906.6" y2="1536.4" stroke="#000000" stroke-width="2.4"/>
<line x1="883.0" y1="1515.0" x2="891.5" y2="1515.0" stroke="#000000" stroke-width="2.4"/>
<line x1="883.0" y1="1502.4" x2="891.5" y2="1502.4" stroke="#000000" stroke-width="2.4"/>
<line x1="883.0" y1="1493.5" x2="891.5" y2="1493.5" stroke="#000000" stroke-width="2.4"/>
<line x1="883.0" y1="1486.6" x2="891.5" y2="1486.6" stroke="#000000" stroke-width="2.4"/>
<line x1="883.0" y1="1481.0" x2="891.5" y2="1481.0" stroke="#000000" stroke-width="2.4"/>
<line x1="883.0" y1="1476.2" x2="891.5" y2="1476.2" stroke="#000000" stroke-width="2.4"/>
<line x1="883.0" y1="1472.1" x2="891.5" y2="1472.1" stroke="#000000" stroke-width="2.4"/>
<line x1="883.0" y1="1468.5" x2="891.5" y2="1468.5" stroke="#000000" stroke-width="2.4"/>
<line x1="883.0" y1="1465.2" x2="906.6" y2="1465.2" stroke="#000000" stroke-width="2.4"/>
<line x1="883.0" y1="1443.8" x2="891.5" y2="1443.8" stroke="#000000" stroke-width="2.4"/>
<line x1="883.0" y1="1431.3" x2="891.5" y2="1431.3" stroke="#000000" stroke-width="2.4"/>
<line x1="883.0" y1="1422.4" x2="891.5" y2="1422.4" stroke="#000000" stroke-width="2.4"/>
<line x1="883.0" y1="1415.5" x2="891.5" y2="1415.5" stroke="#000000" stroke-width="2.4"/>
<line x1="883.0" y1="1409.8" x2="891.5" y2="1409.8" stroke="#000000" stroke-width="2.4"/>
<line x1="883.0" y1="1405.1" x2="891.5" y2="1405.1" stroke="#000000" stroke-width="2.4"/>
<line x1="883.0" y1="1400.9" x2="891.5" y2="1400.9" stroke="#000000" stroke-width="2.4"/>
<line x1="883.0" y1="1397.3" x2="891.5" y2="1397.3" stroke="#000000" stroke-width="2.4"/>
<line x1="883.0" y1="1394.0" x2="906.6" y2="1394.0" stroke="#000000" stroke-width="2.4"/>
<line x1="883.0" y1="1372.6" x2="891.5" y2="1372.6" stroke="#000000" stroke-width="2.4"/>
<line x1="883.0" y1="1360.1" x2="891.5" y2="1360.1" stroke="#000000" stroke-width="2.4"/>
<line x1="883.0" y1="1351.2" x2="891.5" y2="1351.2" stroke="#000000" stroke-width="2.4"/>
<line x1="883.0" y1="1344.3" x2="891.5" y2="1344.3" stroke="#000000" stroke-width="2.4"/>
<line x1="883.0" y1="1338.7" x2="891.5" y2="1338.7" stroke="#000000" stroke-width="2.4"/>
<line x1="883.0" y1="1333.9" x2="891.5" y2="1333.9" stroke="#000000" stroke-width="2.4"/>
<line x1="883.0" y1="1329.8" x2="891.5" y2="1329.8" stroke="#000000" stroke-width="2.4"/>
<line x1="883.0" y1="1326.1" x2="891.5" y2="1326.1" stroke="#000000" stroke-width="2.4"/>
<line x1="883.0" y1="1322.9" x2="906.6" y2="1322.9" stroke="#000000" stroke-width="2.4"/>
<line x1="883.0" y1="1301.5" x2="891.5" y2="1301.5" stroke="#000000" stroke-width="2.4"/>
<line x1="883.0" y1="1288.9" x2="891.5" y2="1288.9" stroke="#000000" stroke-width="2.4"/>
<line x1="883.0" y1="1280.0" x2="891.5" y2="1280.0" stroke="#000000" stroke-width="2.4"/>
<line x1="883.0" y1="1273.1" x2="891.5" y2="1273.1" stroke="#000000" stroke-width="2.4"/>
<line x1="883.0" y1="1267.5" x2="891.5" y2="1267.5" stroke="#000000" stroke-width="2.4"/>
<line x1="883.0" y1="1262.7" x2="891.5" y2="1262.7" stroke="#000000" stroke-width="2.4"/>
<line x1="883.0" y1="1258.6" x2="891.5" y2="1258.6" stroke="#000000" stroke-width="2.4"/>
<line x1="883.0" y1="1255.0" x2="891.5" y2="1255.0" stroke="#000000" stroke-width="2.4"/>
<line x1="883.0" y1="1251.7" x2="906.6" y2="1251.7" stroke="#000000" stroke-width="2.4"/>
<line x1="883.0" y1="1557.8" x2="883.0" y2="1526.8" stroke="#000000" stroke-width="2.4"/>
<line x1="920.4" y1="1557.8" x2="920.4" y2="1542.3" stroke="#000000" stroke-width="2.4"/>
<line x1="957.7" y1="1557.8" x2="957.7" y2="1526.8" stroke="#000000" stroke-width="2.4"/>
<line x1="995.1" y1="1557.8" x2="995.1" y2="1542.3" stroke="#000000" stroke-width="2.4"/>
<line x1="1032.5" y1="1557.8" x2="1032.5" y2="1526.8" stroke="#000000" stroke-width="2.4"/>
<line x1="1069.8" y1="1557.8" x2="1069.8" y2="1542.3" stroke="#000000" stroke-width="2.4"/>
<line x1="1107.2" y1="1557.8" x2="1107.2" y2="1526.8" stroke="#000000" stroke-width="2.4"/>
<line x1="1144.5" y1="1557.8" x2="1144.5" y2="1542.3" stroke="#000000" stroke-width="2.4"/>
<line x1="1181.9" y1="1557.8" x2="1181.9" y2="1526.8" stroke="#000000" stroke-width="2.4"/>
<line x1="1219.3" y1="1557.8" x2="1219.3" y2="1542.3" stroke="#000000" stroke-width="2.4"/>
<line x1="1256.6" y1="1557.8" x2="1256.6" y2="1526.8" stroke="#000000" stroke-width="2.4"/>
<line x1="1294.0" y1="1557.8" x2="1294.0" y2="1542.3" stroke="#000000" stroke-width="2.4"/>
<line x1="1331.3" y1="1557.8" x2="1331.3" y2="1526.8" stroke="#000000" stroke-width="2.4"/>
<line x1="1368.7" y1="1557.8" x2="1368.7" y2="1542.3" stroke="#000000" stroke-width="2.4"/>
<line x1="1406.1" y1="1557.8" x2="1406.1" y2="1526.8" stroke="#000000" stroke-width="2.4"/>
<line x1="1443.4" y1="1557.8" x2="1443.4" y2="1542.3" stroke="#000000" stroke-width="2.4"/>
<line x1="1480.8" y1="1557.8" x2="1480.8" y2="1526.8" stroke="#000000" stroke-width="2.4"/>
<path d="M883.0,1251.7 L883.0,1557.8 L1480.8,1557.8" fill="none" stroke="#000" stroke-width="2.5" stroke-linecap="square"/>
<line x1="883.0" y1="1863.9" x2="891.5" y2="1863.9" stroke="#000000" stroke-width="2.4"/>
<line x1="883.0" y1="1858.2" x2="891.5" y2="1858.2" stroke="#000000" stroke-width="2.4"/>
<line x1="883.0" y1="1853.5" x2="891.5" y2="1853.5" stroke="#000000" stroke-width="2.4"/>
<line x1="883.0" y1="1849.4" x2="891.5" y2="1849.4" stroke="#000000" stroke-width="2.4"/>
<line x1="883.0" y1="1845.7" x2="891.5" y2="1845.7" stroke="#000000" stroke-width="2.4"/>
<line x1="883.0" y1="1842.5" x2="906.6" y2="1842.5" stroke="#000000" stroke-width="2.4"/>
<line x1="883.0" y1="1821.0" x2="891.5" y2="1821.0" stroke="#000000" stroke-width="2.4"/>
<line x1="883.0" y1="1808.5" x2="891.5" y2="1808.5" stroke="#000000" stroke-width="2.4"/>
<line x1="883.0" y1="1799.6" x2="891.5" y2="1799.6" stroke="#000000" stroke-width="2.4"/>
<line x1="883.0" y1="1792.7" x2="891.5" y2="1792.7" stroke="#000000" stroke-width="2.4"/>
<line x1="883.0" y1="1787.1" x2="891.5" y2="1787.1" stroke="#000000" stroke-width="2.4"/>
<line x1="883.0" y1="1782.3" x2="891.5" y2="1782.3" stroke="#000000" stroke-width="2.4"/>
<line x1="883.0" y1="1778.2" x2="891.5" y2="1778.2" stroke="#000000" stroke-width="2.4"/>
<line x1="883.0" y1="1774.5" x2="891.5" y2="1774.5" stroke="#000000" stroke-width="2.4"/>
<line x1="883.0" y1="1771.3" x2="906.6" y2="1771.3" stroke="#000000" stroke-width="2.4"/>
<line x1="883.0" y1="1749.9" x2="891.5" y2="1749.9" stroke="#000000" stroke-width="2.4"/>
<line x1="883.0" y1="1737.3" x2="891.5" y2="1737.3" stroke="#000000" stroke-width="2.4"/>
<line x1="883.0" y1="1728.4" x2="891.5" y2="1728.4" stroke="#000000" stroke-width="2.4"/>
<line x1="883.0" y1="1721.6" x2="891.5" y2="1721.6" stroke="#000000" stroke-width="2.4"/>
<line x1="883.0" y1="1715.9" x2="891.5" y2="1715.9" stroke="#000000" stroke-width="2.4"/>
<line x1="883.0" y1="1711.2" x2="891.5" y2="1711.2" stroke="#000000" stroke-width="2.4"/>
<line x1="883.0" y1="1707.0" x2="891.5" y2="1707.0" stroke="#000000" stroke-width="2.4"/>
<line x1="883.0" y1="1703.4" x2="891.5" y2="1703.4" stroke="#000000" stroke-width="2.4"/>
<line x1="883.0" y1="1700.1" x2="906.6" y2="1700.1" stroke="#000000" stroke-width="2.4"/>
<line x1="883.0" y1="1678.7" x2="891.5" y2="1678.7" stroke="#000000" stroke-width="2.4"/>
<line x1="883.0" y1="1666.2" x2="891.5" y2="1666.2" stroke="#000000" stroke-width="2.4"/>
<line x1="883.0" y1="1657.3" x2="891.5" y2="1657.3" stroke="#000000" stroke-width="2.4"/>
<line x1="883.0" y1="1650.4" x2="891.5" y2="1650.4" stroke="#000000" stroke-width="2.4"/>
<line x1="883.0" y1="1644.8" x2="891.5" y2="1644.8" stroke="#000000" stroke-width="2.4"/>
<line x1="883.0" y1="1640.0" x2="891.5" y2="1640.0" stroke="#000000" stroke-width="2.4"/>
<line x1="883.0" y1="1635.9" x2="891.5" y2="1635.9" stroke="#000000" stroke-width="2.4"/>
<line x1="883.0" y1="1632.2" x2="891.5" y2="1632.2" stroke="#000000" stroke-width="2.4"/>
<line x1="883.0" y1="1629.0" x2="906.6" y2="1629.0" stroke="#000000" stroke-width="2.4"/>
<line x1="883.0" y1="1607.5" x2="891.5" y2="1607.5" stroke="#000000" stroke-width="2.4"/>
<line x1="883.0" y1="1595.0" x2="891.5" y2="1595.0" stroke="#000000" stroke-width="2.4"/>
<line x1="883.0" y1="1586.1" x2="891.5" y2="1586.1" stroke="#000000" stroke-width="2.4"/>
<line x1="883.0" y1="1579.2" x2="891.5" y2="1579.2" stroke="#000000" stroke-width="2.4"/>
<line x1="883.0" y1="1573.6" x2="891.5" y2="1573.6" stroke="#000000" stroke-width="2.4"/>
<line x1="883.0" y1="1568.8" x2="891.5" y2="1568.8" stroke="#000000" stroke-width="2.4"/>
<line x1="883.0" y1="1564.7" x2="891.5" y2="1564.7" stroke="#000000" stroke-width="2.4"/>
<line x1="883.0" y1="1561.1" x2="891.5" y2="1561.1" stroke="#000000" stroke-width="2.4"/>
<line x1="883.0" y1="1557.8" x2="906.6" y2="1557.8" stroke="#000000" stroke-width="2.4"/>
<line x1="883.0" y1="1863.9" x2="883.0" y2="1832.9" stroke="#000000" stroke-width="2.4"/>
<line x1="920.4" y1="1863.9" x2="920.4" y2="1848.4" stroke="#000000" stroke-width="2.4"/>
<line x1="957.7" y1="1863.9" x2="957.7" y2="1832.9" stroke="#000000" stroke-width="2.4"/>
<line x1="995.1" y1="1863.9" x2="995.1" y2="1848.4" stroke="#000000" stroke-width="2.4"/>
<line x1="1032.5" y1="1863.9" x2="1032.5" y2="1832.9" stroke="#000000" stroke-width="2.4"/>
<line x1="1069.8" y1="1863.9" x2="1069.8" y2="1848.4" stroke="#000000" stroke-width="2.4"/>
<line x1="1107.2" y1="1863.9" x2="1107.2" y2="1832.9" stroke="#000000" stroke-width="2.4"/>
<line x1="1144.5" y1="1863.9" x2="1144.5" y2="1848.4" stroke="#000000" stroke-width="2.4"/>
<line x1="1181.9" y1="1863.9" x2="1181.9" y2="1832.9" stroke="#000000" stroke-width="2.4"/>
<line x1="1219.3" y1="1863.9" x2="1219.3" y2="1848.4" stroke="#000000" stroke-width="2.4"/>
<line x1="1256.6" y1="1863.9" x2="1256.6" y2="1832.9" stroke="#000000" stroke-width="2.4"/>
<line x1="1294.0" y1="1863.9" x2="1294.0" y2="1848.4" stroke="#000000" stroke-width="2.4"/>
<line x1="1331.3" y1="1863.9" x2="1331.3" y2="1832.9" stroke="#000000" stroke-width="2.4"/>
<line x1="1368.7" y1="1863.9" x2="1368.7" y2="1848.4" stroke="#000000" stroke-width="2.4"/>
<line x1="1406.1" y1="1863.9" x2="1406.1" y2="1832.9" stroke="#000000" stroke-width="2.4"/>
<line x1="1443.4" y1="1863.9" x2="1443.4" y2="1848.4" stroke="#000000" stroke-width="2.4"/>
<line x1="1480.8" y1="1863.9" x2="1480.8" y2="1832.9" stroke="#000000" stroke-width="2.4"/>
<path d="M883.0,1557.8 L883.0,1863.9 L1480.8,1863.9" fill="none" stroke="#000" stroke-width="2.5" stroke-linecap="square"/>
<text transform="translate(117.7,105.6) scale(1,1.11)" text-anchor="end" class="tl">10</text>
<text transform="translate(134.8,79.7) scale(1,1.04)" text-anchor="end" class="sup">0</text>
<text transform="translate(111.8,285.6) scale(1,1.11)" text-anchor="end" class="tl">10</text>
<text transform="translate(135.1,259.7) scale(1,1.04)" text-anchor="end" class="sup">-1</text>
<text transform="translate(106.2,465.6) scale(1,1.11)" text-anchor="end" class="tl">10</text>
<text transform="translate(135.1,439.7) scale(1,1.04)" text-anchor="end" class="sup">-2</text>
<text transform="translate(117.7,568.4) scale(1,1.11)" text-anchor="end" class="tl">10</text>
<text transform="translate(134.8,542.5) scale(1,1.04)" text-anchor="end" class="sup">0</text>
<text transform="translate(111.8,748.4) scale(1,1.11)" text-anchor="end" class="tl">10</text>
<text transform="translate(135.1,722.5) scale(1,1.04)" text-anchor="end" class="sup">-1</text>
<text transform="translate(106.2,928.4) scale(1,1.11)" text-anchor="end" class="tl">10</text>
<text transform="translate(135.1,902.5) scale(1,1.04)" text-anchor="end" class="sup">-2</text>
<text transform="translate(117.7,1031.7) scale(1,1.11)" text-anchor="end" class="tl">10</text>
<text transform="translate(134.8,1005.8) scale(1,1.04)" text-anchor="end" class="sup">0</text>
<text transform="translate(111.8,1211.7) scale(1,1.11)" text-anchor="end" class="tl">10</text>
<text transform="translate(135.1,1185.8) scale(1,1.04)" text-anchor="end" class="sup">-1</text>
<text transform="translate(106.2,1391.7) scale(1,1.11)" text-anchor="end" class="tl">10</text>
<text transform="translate(135.1,1365.8) scale(1,1.04)" text-anchor="end" class="sup">-2</text>
<text transform="translate(117.7,1496.0) scale(1,1.11)" text-anchor="end" class="tl">10</text>
<text transform="translate(134.8,1470.1) scale(1,1.04)" text-anchor="end" class="sup">0</text>
<text transform="translate(111.8,1682.8) scale(1,1.11)" text-anchor="end" class="tl">10</text>
<text transform="translate(135.1,1656.8) scale(1,1.04)" text-anchor="end" class="sup">-1</text>
<text transform="translate(106.2,1869.5) scale(1,1.11)" text-anchor="end" class="tl">10</text>
<text transform="translate(135.1,1843.6) scale(1,1.04)" text-anchor="end" class="sup">-2</text>
<text transform="translate(851.9,51.4) scale(1,1.11)" text-anchor="end" class="tl">10</text>
<text transform="translate(869.8,25.5) scale(1,1.04)" text-anchor="end" class="sup">2</text>
<text transform="translate(855.9,122.6) scale(1,1.11)" text-anchor="end" class="tl">10</text>
<text transform="translate(869.8,96.7) scale(1,1.04)" text-anchor="end" class="sup">1</text>
<text transform="translate(852.4,193.7) scale(1,1.11)" text-anchor="end" class="tl">10</text>
<text transform="translate(869.5,167.8) scale(1,1.04)" text-anchor="end" class="sup">0</text>
<text transform="translate(846.5,264.9) scale(1,1.11)" text-anchor="end" class="tl">10</text>
<text transform="translate(869.8,239.0) scale(1,1.04)" text-anchor="end" class="sup">-1</text>
<text transform="translate(840.9,336.1) scale(1,1.11)" text-anchor="end" class="tl">10</text>
<text transform="translate(869.8,310.2) scale(1,1.04)" text-anchor="end" class="sup">-2</text>
<text transform="translate(855.9,428.6) scale(1,1.11)" text-anchor="end" class="tl">10</text>
<text transform="translate(869.8,402.7) scale(1,1.04)" text-anchor="end" class="sup">1</text>
<text transform="translate(852.4,499.8) scale(1,1.11)" text-anchor="end" class="tl">10</text>
<text transform="translate(869.5,473.9) scale(1,1.04)" text-anchor="end" class="sup">0</text>
<text transform="translate(846.5,571.0) scale(1,1.11)" text-anchor="end" class="tl">10</text>
<text transform="translate(869.8,545.1) scale(1,1.04)" text-anchor="end" class="sup">-1</text>
<text transform="translate(840.9,642.1) scale(1,1.11)" text-anchor="end" class="tl">10</text>
<text transform="translate(869.8,616.2) scale(1,1.04)" text-anchor="end" class="sup">-2</text>
<text transform="translate(855.9,734.7) scale(1,1.11)" text-anchor="end" class="tl">10</text>
<text transform="translate(869.8,708.8) scale(1,1.04)" text-anchor="end" class="sup">1</text>
<text transform="translate(852.4,805.9) scale(1,1.11)" text-anchor="end" class="tl">10</text>
<text transform="translate(869.5,780.0) scale(1,1.04)" text-anchor="end" class="sup">0</text>
<text transform="translate(846.5,877.1) scale(1,1.11)" text-anchor="end" class="tl">10</text>
<text transform="translate(869.8,851.2) scale(1,1.04)" text-anchor="end" class="sup">-1</text>
<text transform="translate(840.9,948.2) scale(1,1.11)" text-anchor="end" class="tl">10</text>
<text transform="translate(869.8,922.3) scale(1,1.04)" text-anchor="end" class="sup">-2</text>
<text transform="translate(855.9,1040.8) scale(1,1.11)" text-anchor="end" class="tl">10</text>
<text transform="translate(869.8,1014.9) scale(1,1.04)" text-anchor="end" class="sup">1</text>
<text transform="translate(852.4,1112.0) scale(1,1.11)" text-anchor="end" class="tl">10</text>
<text transform="translate(869.5,1086.1) scale(1,1.04)" text-anchor="end" class="sup">0</text>
<text transform="translate(846.5,1183.1) scale(1,1.11)" text-anchor="end" class="tl">10</text>
<text transform="translate(869.8,1157.2) scale(1,1.04)" text-anchor="end" class="sup">-1</text>
<text transform="translate(840.9,1254.3) scale(1,1.11)" text-anchor="end" class="tl">10</text>
<text transform="translate(869.8,1228.4) scale(1,1.04)" text-anchor="end" class="sup">-2</text>
<text transform="translate(855.9,1346.9) scale(1,1.11)" text-anchor="end" class="tl">10</text>
<text transform="translate(869.8,1321.0) scale(1,1.04)" text-anchor="end" class="sup">1</text>
<text transform="translate(852.4,1418.0) scale(1,1.11)" text-anchor="end" class="tl">10</text>
<text transform="translate(869.5,1392.1) scale(1,1.04)" text-anchor="end" class="sup">0</text>
<text transform="translate(846.5,1489.2) scale(1,1.11)" text-anchor="end" class="tl">10</text>
<text transform="translate(869.8,1463.3) scale(1,1.04)" text-anchor="end" class="sup">-1</text>
<text transform="translate(840.9,1560.4) scale(1,1.11)" text-anchor="end" class="tl">10</text>
<text transform="translate(869.8,1534.5) scale(1,1.04)" text-anchor="end" class="sup">-2</text>
<text transform="translate(855.9,1653.0) scale(1,1.11)" text-anchor="end" class="tl">10</text>
<text transform="translate(869.8,1627.1) scale(1,1.04)" text-anchor="end" class="sup">1</text>
<text transform="translate(852.4,1724.1) scale(1,1.11)" text-anchor="end" class="tl">10</text>
<text transform="translate(869.5,1698.2) scale(1,1.04)" text-anchor="end" class="sup">0</text>
<text transform="translate(846.5,1795.3) scale(1,1.11)" text-anchor="end" class="tl">10</text>
<text transform="translate(869.8,1769.4) scale(1,1.04)" text-anchor="end" class="sup">-1</text>
<text transform="translate(840.9,1866.5) scale(1,1.11)" text-anchor="end" class="tl">10</text>
<text transform="translate(869.8,1840.6) scale(1,1.04)" text-anchor="end" class="sup">-2</text>
<text transform="translate(149.8,1911.6) scale(1,1.09)" text-anchor="middle" class="xl">0</text>
<text transform="translate(884.2,1911.6) scale(1,1.09)" text-anchor="middle" class="xl">0</text>
<text transform="translate(225.0,1911.6) scale(1,1.09)" text-anchor="middle" class="xl">1</text>
<text transform="translate(961.4,1911.6) scale(1,1.09)" text-anchor="middle" class="xl">1</text>
<text transform="translate(295.2,1911.6) scale(1,1.09)" text-anchor="middle" class="xl">2</text>
<text transform="translate(1033.7,1911.6) scale(1,1.09)" text-anchor="middle" class="xl">2</text>
<text transform="translate(367.9,1911.6) scale(1,1.09)" text-anchor="middle" class="xl">3</text>
<text transform="translate(1108.4,1911.6) scale(1,1.09)" text-anchor="middle" class="xl">3</text>
<text transform="translate(440.6,1911.6) scale(1,1.09)" text-anchor="middle" class="xl">4</text>
<text transform="translate(1183.1,1911.6) scale(1,1.09)" text-anchor="middle" class="xl">4</text>
<text transform="translate(513.4,1911.6) scale(1,1.09)" text-anchor="middle" class="xl">5</text>
<text transform="translate(1257.8,1911.6) scale(1,1.09)" text-anchor="middle" class="xl">5</text>
<text transform="translate(586.1,1911.6) scale(1,1.09)" text-anchor="middle" class="xl">6</text>
<text transform="translate(1332.5,1911.6) scale(1,1.09)" text-anchor="middle" class="xl">6</text>
<text transform="translate(658.8,1911.6) scale(1,1.09)" text-anchor="middle" class="xl">7</text>
<text transform="translate(1407.3,1911.6) scale(1,1.09)" text-anchor="middle" class="xl">7</text>
<text transform="translate(731.5,1911.6) scale(1,1.09)" text-anchor="middle" class="xl">8</text>
<text transform="translate(1482.0,1911.6) scale(1,1.09)" text-anchor="middle" class="xl">8</text>
<text transform="translate(440.5,88.8) scale(1,1.05)" class="ti" text-anchor="middle" >SAN - Na</text>
<text transform="translate(440.5,552.1) scale(1,1.05)" class="ti" text-anchor="middle" >SANK - Na</text>
<text transform="translate(440.5,1014.5) scale(1,1.05)" class="ti" text-anchor="middle" >SANK - K</text>
<text transform="translate(440.5,1477.7) scale(1,1.05)" class="ti" text-anchor="middle" >SAK - K</text>
<text transform="translate(1182.9,88.4) scale(1,1.05)" class="ti" text-anchor="middle" >SAN - NaNa</text>
<text transform="translate(1182.9,395.3) scale(1,1.05)" class="ti" text-anchor="middle" >SANK - NaNa</text>
<text transform="translate(1182.9,701.1) scale(1,1.05)" class="ti" text-anchor="middle" >SANK - NaK</text>
<text transform="translate(1182.9,1007.1) scale(1,1.05)" class="ti" text-anchor="middle" >SANK - KNa</text>
<text transform="translate(1182.9,1313.1) scale(1,1.05)" class="ti" text-anchor="middle" >SANK - KK</text>
<text transform="translate(1182.9,1619.1) scale(1,1.05)" class="ti" text-anchor="middle" >SAK - KK</text>
<line x1="408.6" y1="119.3" x2="458.4" y2="119.3" stroke="#ff0000" stroke-width="3.7"/>
<text transform="translate(488.3,129.7) scale(1,1.03)" class="lg" text-anchor="start" >t = 200ps</text>
<line x1="408.6" y1="168.5" x2="458.4" y2="168.5" stroke="#ff00ff" stroke-width="2.2"/>
<text transform="translate(488.3,178.8) scale(1,1.03)" class="lg" text-anchor="start" >t = 600ps, 1ns, 2ns</text>
<line x1="408.6" y1="213.5" x2="458.4" y2="213.5" stroke="#0000ff" stroke-width="3.7"/>
<text transform="translate(488.3,226.3) scale(1,1.03)" class="lg" text-anchor="start" >t = 5ns</text>
<line x1="1312" y1="120" x2="1360.7" y2="120" stroke="#000" stroke-width="3"/>
<text transform="translate(1390.4,130.2) scale(1,1.02)" class="lg" text-anchor="start" >G (r)</text>
<text transform="translate(396.5,1950.9)" class="ax2" text-anchor="start" >r (A)</text>
<text transform="translate(1131.4,1949.8)" class="ax2" text-anchor="start" >r (A)</text>
<circle cx="12.1" cy="814.8" r="2.8" fill="none" stroke="#000" stroke-width="1.7"/>
<circle cx="455.0" cy="1913.9" r="2.9" fill="none" stroke="#000" stroke-width="1.9"/>
<circle cx="1189.6" cy="1912.3" r="2.9" fill="none" stroke="#000" stroke-width="1.9"/>
<text transform="translate(762.4,1957.3) scale(1,1.08)" class="cs" text-anchor="start" >CS</text>
<text transform="translate(49.8,1083.8) rotate(-90) scale(1,1.05)" class="ax" text-anchor="start" >4<tspan class="pi">π</tspan>r<tspan class="sub2" dy="-26">2</tspan><tspan dy="26"> G</tspan><tspan class="sub2" dy="17">s</tspan><tspan dy="-17"> (r,t) (A</tspan><tspan class="sub2" dy="-26">-1</tspan><tspan dy="26">)</tspan></text>
<text transform="translate(785.3,1012.9) rotate(-90) scale(1,1.05)" class="ax" text-anchor="start" >G<tspan class="sub2" dy="17">d</tspan><tspan dy="-17"> (r,t)</tspan></text>
</svg></body></html>
